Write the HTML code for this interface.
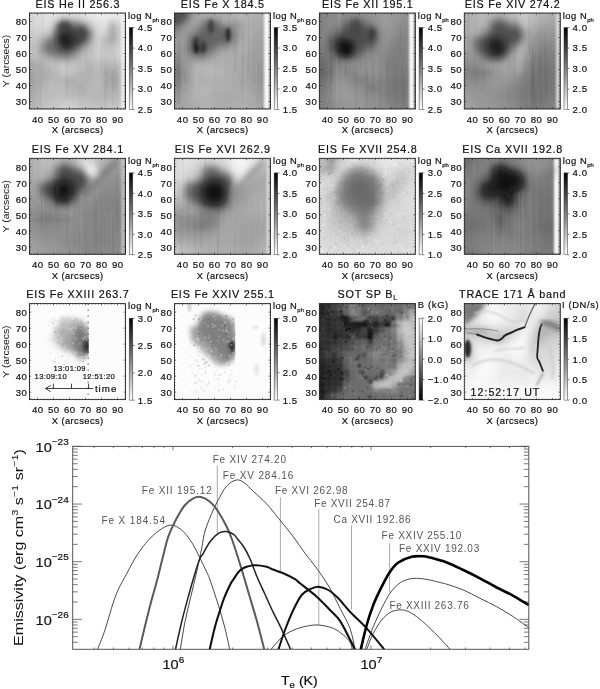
<!DOCTYPE html><html><head><meta charset="utf-8"><style>html,body{margin:0;padding:0;background:#fff;}svg{display:block;will-change:transform}text{font-family:'Liberation Sans', sans-serif;}</style></head><body>
<svg width="600" height="689" viewBox="0 0 600 689">
<rect width="600" height="689" fill="#fff"/>
<defs><filter id="bl0p6" x="-50%" y="-50%" width="200%" height="200%"><feGaussianBlur stdDeviation="0.6"/></filter><filter id="bl1" x="-50%" y="-50%" width="200%" height="200%"><feGaussianBlur stdDeviation="1"/></filter><filter id="bl1p5" x="-50%" y="-50%" width="200%" height="200%"><feGaussianBlur stdDeviation="1.5"/></filter><filter id="bl2" x="-50%" y="-50%" width="200%" height="200%"><feGaussianBlur stdDeviation="2"/></filter><filter id="bl2p5" x="-50%" y="-50%" width="200%" height="200%"><feGaussianBlur stdDeviation="2.5"/></filter><filter id="bl3" x="-50%" y="-50%" width="200%" height="200%"><feGaussianBlur stdDeviation="3"/></filter><filter id="bl3p5" x="-50%" y="-50%" width="200%" height="200%"><feGaussianBlur stdDeviation="3.5"/></filter><filter id="bl4" x="-50%" y="-50%" width="200%" height="200%"><feGaussianBlur stdDeviation="4"/></filter><filter id="bl5" x="-50%" y="-50%" width="200%" height="200%"><feGaussianBlur stdDeviation="5"/></filter><filter id="bl6" x="-50%" y="-50%" width="200%" height="200%"><feGaussianBlur stdDeviation="6"/></filter><filter id="bl7" x="-50%" y="-50%" width="200%" height="200%"><feGaussianBlur stdDeviation="7"/></filter></defs>
<clipPath id="cp00"><rect x="29.50" y="13.00" width="96.0" height="96.0"/></clipPath>
<g clip-path="url(#cp00)"><g filter="url(#bl3)">
<rect x="21.3" y="4.8" width="16.4" height="16.4" fill="#d7d7d7"/>
<rect x="37.3" y="4.8" width="8.4" height="16.4" fill="#dcdcdc"/>
<rect x="45.3" y="4.8" width="8.4" height="16.4" fill="#e1e1e1"/>
<rect x="53.3" y="4.8" width="8.4" height="16.4" fill="#e1e1e1"/>
<rect x="61.3" y="4.8" width="8.4" height="16.4" fill="#dcdcdc"/>
<rect x="69.3" y="4.8" width="8.4" height="16.4" fill="#d7d7d7"/>
<rect x="77.3" y="4.8" width="8.4" height="16.4" fill="#dcdcdc"/>
<rect x="85.3" y="4.8" width="8.4" height="16.4" fill="#e6e6e6"/>
<rect x="93.3" y="4.8" width="8.4" height="16.4" fill="#ebebeb"/>
<rect x="101.3" y="4.8" width="8.4" height="16.4" fill="#ebebeb"/>
<rect x="109.3" y="4.8" width="8.4" height="16.4" fill="#e6e6e6"/>
<rect x="117.3" y="4.8" width="16.4" height="16.4" fill="#ebebeb"/>
<rect x="21.3" y="20.8" width="16.4" height="8.4" fill="#d7d7d7"/>
<rect x="37.3" y="20.8" width="8.4" height="8.4" fill="#d7d7d7"/>
<rect x="45.3" y="20.8" width="8.4" height="8.4" fill="#e1e1e1"/>
<rect x="53.3" y="20.8" width="8.4" height="8.4" fill="#c8c8c8"/>
<rect x="61.3" y="20.8" width="8.4" height="8.4" fill="#6e6e6e"/>
<rect x="69.3" y="20.8" width="8.4" height="8.4" fill="#828282"/>
<rect x="77.3" y="20.8" width="8.4" height="8.4" fill="#8c8c8c"/>
<rect x="85.3" y="20.8" width="8.4" height="8.4" fill="#bebebe"/>
<rect x="93.3" y="20.8" width="8.4" height="8.4" fill="#dcdcdc"/>
<rect x="101.3" y="20.8" width="8.4" height="8.4" fill="#e1e1e1"/>
<rect x="109.3" y="20.8" width="8.4" height="8.4" fill="#c8c8c8"/>
<rect x="117.3" y="20.8" width="16.4" height="8.4" fill="#dcdcdc"/>
<rect x="21.3" y="28.8" width="16.4" height="8.4" fill="#cdcdcd"/>
<rect x="37.3" y="28.8" width="8.4" height="8.4" fill="#cdcdcd"/>
<rect x="45.3" y="28.8" width="8.4" height="8.4" fill="#c8c8c8"/>
<rect x="53.3" y="28.8" width="8.4" height="8.4" fill="#969696"/>
<rect x="61.3" y="28.8" width="8.4" height="8.4" fill="#464646"/>
<rect x="69.3" y="28.8" width="8.4" height="8.4" fill="#505050"/>
<rect x="77.3" y="28.8" width="8.4" height="8.4" fill="#464646"/>
<rect x="85.3" y="28.8" width="8.4" height="8.4" fill="#8c8c8c"/>
<rect x="93.3" y="28.8" width="8.4" height="8.4" fill="#d2d2d2"/>
<rect x="101.3" y="28.8" width="8.4" height="8.4" fill="#d7d7d7"/>
<rect x="109.3" y="28.8" width="8.4" height="8.4" fill="#bebebe"/>
<rect x="117.3" y="28.8" width="16.4" height="8.4" fill="#d7d7d7"/>
<rect x="21.3" y="36.8" width="16.4" height="8.4" fill="#c8c8c8"/>
<rect x="37.3" y="36.8" width="8.4" height="8.4" fill="#b9b9b9"/>
<rect x="45.3" y="36.8" width="8.4" height="8.4" fill="#969696"/>
<rect x="53.3" y="36.8" width="8.4" height="8.4" fill="#828282"/>
<rect x="61.3" y="36.8" width="8.4" height="8.4" fill="#3c3c3c"/>
<rect x="69.3" y="36.8" width="8.4" height="8.4" fill="#464646"/>
<rect x="77.3" y="36.8" width="8.4" height="8.4" fill="#505050"/>
<rect x="85.3" y="36.8" width="8.4" height="8.4" fill="#a0a0a0"/>
<rect x="93.3" y="36.8" width="8.4" height="8.4" fill="#cdcdcd"/>
<rect x="101.3" y="36.8" width="8.4" height="8.4" fill="#b4b4b4"/>
<rect x="109.3" y="36.8" width="8.4" height="8.4" fill="#b9b9b9"/>
<rect x="117.3" y="36.8" width="16.4" height="8.4" fill="#d7d7d7"/>
<rect x="21.3" y="44.8" width="16.4" height="8.4" fill="#c3c3c3"/>
<rect x="37.3" y="44.8" width="8.4" height="8.4" fill="#b4b4b4"/>
<rect x="45.3" y="44.8" width="8.4" height="8.4" fill="#969696"/>
<rect x="53.3" y="44.8" width="8.4" height="8.4" fill="#969696"/>
<rect x="61.3" y="44.8" width="8.4" height="8.4" fill="#6e6e6e"/>
<rect x="69.3" y="44.8" width="8.4" height="8.4" fill="#828282"/>
<rect x="77.3" y="44.8" width="8.4" height="8.4" fill="#969696"/>
<rect x="85.3" y="44.8" width="8.4" height="8.4" fill="#b9b9b9"/>
<rect x="93.3" y="44.8" width="8.4" height="8.4" fill="#cdcdcd"/>
<rect x="101.3" y="44.8" width="8.4" height="8.4" fill="#c3c3c3"/>
<rect x="109.3" y="44.8" width="8.4" height="8.4" fill="#c3c3c3"/>
<rect x="117.3" y="44.8" width="16.4" height="8.4" fill="#d7d7d7"/>
<rect x="21.3" y="52.8" width="16.4" height="8.4" fill="#bebebe"/>
<rect x="37.3" y="52.8" width="8.4" height="8.4" fill="#b9b9b9"/>
<rect x="45.3" y="52.8" width="8.4" height="8.4" fill="#afafaf"/>
<rect x="53.3" y="52.8" width="8.4" height="8.4" fill="#aaaaaa"/>
<rect x="61.3" y="52.8" width="8.4" height="8.4" fill="#a0a0a0"/>
<rect x="69.3" y="52.8" width="8.4" height="8.4" fill="#a0a0a0"/>
<rect x="77.3" y="52.8" width="8.4" height="8.4" fill="#b9b9b9"/>
<rect x="85.3" y="52.8" width="8.4" height="8.4" fill="#bebebe"/>
<rect x="93.3" y="52.8" width="8.4" height="8.4" fill="#c8c8c8"/>
<rect x="101.3" y="52.8" width="8.4" height="8.4" fill="#c8c8c8"/>
<rect x="109.3" y="52.8" width="8.4" height="8.4" fill="#c3c3c3"/>
<rect x="117.3" y="52.8" width="16.4" height="8.4" fill="#d7d7d7"/>
<rect x="21.3" y="60.8" width="16.4" height="8.4" fill="#a5a5a5"/>
<rect x="37.3" y="60.8" width="8.4" height="8.4" fill="#afafaf"/>
<rect x="45.3" y="60.8" width="8.4" height="8.4" fill="#b9b9b9"/>
<rect x="53.3" y="60.8" width="8.4" height="8.4" fill="#c3c3c3"/>
<rect x="61.3" y="60.8" width="8.4" height="8.4" fill="#c8c8c8"/>
<rect x="69.3" y="60.8" width="8.4" height="8.4" fill="#c3c3c3"/>
<rect x="77.3" y="60.8" width="8.4" height="8.4" fill="#b9b9b9"/>
<rect x="85.3" y="60.8" width="8.4" height="8.4" fill="#b4b4b4"/>
<rect x="93.3" y="60.8" width="8.4" height="8.4" fill="#b9b9b9"/>
<rect x="101.3" y="60.8" width="8.4" height="8.4" fill="#b4b4b4"/>
<rect x="109.3" y="60.8" width="8.4" height="8.4" fill="#b9b9b9"/>
<rect x="117.3" y="60.8" width="16.4" height="8.4" fill="#b9b9b9"/>
<rect x="21.3" y="68.8" width="16.4" height="8.4" fill="#a5a5a5"/>
<rect x="37.3" y="68.8" width="8.4" height="8.4" fill="#afafaf"/>
<rect x="45.3" y="68.8" width="8.4" height="8.4" fill="#aaaaaa"/>
<rect x="53.3" y="68.8" width="8.4" height="8.4" fill="#b9b9b9"/>
<rect x="61.3" y="68.8" width="8.4" height="8.4" fill="#c8c8c8"/>
<rect x="69.3" y="68.8" width="8.4" height="8.4" fill="#bebebe"/>
<rect x="77.3" y="68.8" width="8.4" height="8.4" fill="#b4b4b4"/>
<rect x="85.3" y="68.8" width="8.4" height="8.4" fill="#afafaf"/>
<rect x="93.3" y="68.8" width="8.4" height="8.4" fill="#b9b9b9"/>
<rect x="101.3" y="68.8" width="8.4" height="8.4" fill="#aaaaaa"/>
<rect x="109.3" y="68.8" width="8.4" height="8.4" fill="#a5a5a5"/>
<rect x="117.3" y="68.8" width="16.4" height="8.4" fill="#b4b4b4"/>
<rect x="21.3" y="76.8" width="16.4" height="8.4" fill="#a0a0a0"/>
<rect x="37.3" y="76.8" width="8.4" height="8.4" fill="#afafaf"/>
<rect x="45.3" y="76.8" width="8.4" height="8.4" fill="#b4b4b4"/>
<rect x="53.3" y="76.8" width="8.4" height="8.4" fill="#b9b9b9"/>
<rect x="61.3" y="76.8" width="8.4" height="8.4" fill="#afafaf"/>
<rect x="69.3" y="76.8" width="8.4" height="8.4" fill="#aaaaaa"/>
<rect x="77.3" y="76.8" width="8.4" height="8.4" fill="#afafaf"/>
<rect x="85.3" y="76.8" width="8.4" height="8.4" fill="#b4b4b4"/>
<rect x="93.3" y="76.8" width="8.4" height="8.4" fill="#b9b9b9"/>
<rect x="101.3" y="76.8" width="8.4" height="8.4" fill="#aaaaaa"/>
<rect x="109.3" y="76.8" width="8.4" height="8.4" fill="#a0a0a0"/>
<rect x="117.3" y="76.8" width="16.4" height="8.4" fill="#afafaf"/>
<rect x="21.3" y="84.8" width="16.4" height="8.4" fill="#a5a5a5"/>
<rect x="37.3" y="84.8" width="8.4" height="8.4" fill="#b4b4b4"/>
<rect x="45.3" y="84.8" width="8.4" height="8.4" fill="#b9b9b9"/>
<rect x="53.3" y="84.8" width="8.4" height="8.4" fill="#b9b9b9"/>
<rect x="61.3" y="84.8" width="8.4" height="8.4" fill="#b9b9b9"/>
<rect x="69.3" y="84.8" width="8.4" height="8.4" fill="#b4b4b4"/>
<rect x="77.3" y="84.8" width="8.4" height="8.4" fill="#aaaaaa"/>
<rect x="85.3" y="84.8" width="8.4" height="8.4" fill="#b4b4b4"/>
<rect x="93.3" y="84.8" width="8.4" height="8.4" fill="#b9b9b9"/>
<rect x="101.3" y="84.8" width="8.4" height="8.4" fill="#afafaf"/>
<rect x="109.3" y="84.8" width="8.4" height="8.4" fill="#aaaaaa"/>
<rect x="117.3" y="84.8" width="16.4" height="8.4" fill="#afafaf"/>
<rect x="21.3" y="92.8" width="16.4" height="8.4" fill="#aaaaaa"/>
<rect x="37.3" y="92.8" width="8.4" height="8.4" fill="#b9b9b9"/>
<rect x="45.3" y="92.8" width="8.4" height="8.4" fill="#b9b9b9"/>
<rect x="53.3" y="92.8" width="8.4" height="8.4" fill="#bebebe"/>
<rect x="61.3" y="92.8" width="8.4" height="8.4" fill="#bebebe"/>
<rect x="69.3" y="92.8" width="8.4" height="8.4" fill="#b9b9b9"/>
<rect x="77.3" y="92.8" width="8.4" height="8.4" fill="#b4b4b4"/>
<rect x="85.3" y="92.8" width="8.4" height="8.4" fill="#b9b9b9"/>
<rect x="93.3" y="92.8" width="8.4" height="8.4" fill="#b4b4b4"/>
<rect x="101.3" y="92.8" width="8.4" height="8.4" fill="#b4b4b4"/>
<rect x="109.3" y="92.8" width="8.4" height="8.4" fill="#b4b4b4"/>
<rect x="117.3" y="92.8" width="16.4" height="8.4" fill="#b9b9b9"/>
<rect x="21.3" y="100.8" width="16.4" height="16.4" fill="#b4b4b4"/>
<rect x="37.3" y="100.8" width="8.4" height="16.4" fill="#bebebe"/>
<rect x="45.3" y="100.8" width="8.4" height="16.4" fill="#c3c3c3"/>
<rect x="53.3" y="100.8" width="8.4" height="16.4" fill="#c8c8c8"/>
<rect x="61.3" y="100.8" width="8.4" height="16.4" fill="#cdcdcd"/>
<rect x="69.3" y="100.8" width="8.4" height="16.4" fill="#cdcdcd"/>
<rect x="77.3" y="100.8" width="8.4" height="16.4" fill="#c3c3c3"/>
<rect x="85.3" y="100.8" width="8.4" height="16.4" fill="#c3c3c3"/>
<rect x="93.3" y="100.8" width="8.4" height="16.4" fill="#bebebe"/>
<rect x="101.3" y="100.8" width="8.4" height="16.4" fill="#c3c3c3"/>
<rect x="109.3" y="100.8" width="8.4" height="16.4" fill="#c3c3c3"/>
<rect x="117.3" y="100.8" width="16.4" height="16.4" fill="#c3c3c3"/>
</g>
<g filter="url(#bl0p6)"><rect x="104.8" y="69.5" width="1.7" height="54.7" fill="#000" fill-opacity="0.04"/><rect x="105.2" y="26.8" width="0.8" height="54.3" fill="#fff" fill-opacity="0.03"/><rect x="67.1" y="23.6" width="1.3" height="75.1" fill="#000" fill-opacity="0.03"/><rect x="42.1" y="11.2" width="1.9" height="73.4" fill="#000" fill-opacity="0.03"/><rect x="61.2" y="15.8" width="1.7" height="24.8" fill="#000" fill-opacity="0.06"/><rect x="118.5" y="53.5" width="1.4" height="73.0" fill="#fff" fill-opacity="0.06"/><rect x="81.7" y="15.3" width="1.7" height="54.4" fill="#fff" fill-opacity="0.04"/><rect x="99.1" y="22.4" width="0.9" height="60.6" fill="#fff" fill-opacity="0.06"/><rect x="109.2" y="57.9" width="1.2" height="36.0" fill="#fff" fill-opacity="0.02"/><rect x="114.7" y="52.6" width="1.0" height="35.5" fill="#000" fill-opacity="0.06"/><rect x="60.6" y="62.1" width="1.1" height="45.2" fill="#fff" fill-opacity="0.02"/><rect x="32.3" y="15.2" width="1.4" height="43.6" fill="#000" fill-opacity="0.03"/><rect x="55.0" y="30.1" width="1.5" height="37.1" fill="#000" fill-opacity="0.04"/><rect x="29.9" y="13.2" width="1.4" height="24.8" fill="#fff" fill-opacity="0.03"/><rect x="68.7" y="13.3" width="1.8" height="42.2" fill="#fff" fill-opacity="0.04"/><rect x="95.2" y="6.6" width="1.5" height="64.5" fill="#fff" fill-opacity="0.05"/><rect x="98.1" y="27.7" width="1.7" height="43.2" fill="#fff" fill-opacity="0.06"/><rect x="75.8" y="56.1" width="1.5" height="57.4" fill="#fff" fill-opacity="0.05"/><rect x="62.4" y="22.1" width="1.2" height="69.9" fill="#fff" fill-opacity="0.04"/><rect x="119.6" y="56.6" width="1.1" height="77.6" fill="#fff" fill-opacity="0.04"/><rect x="111.9" y="68.5" width="1.2" height="79.1" fill="#000" fill-opacity="0.05"/><rect x="54.6" y="10.3" width="1.4" height="50.5" fill="#fff" fill-opacity="0.04"/><rect x="71.4" y="6.5" width="1.9" height="61.1" fill="#fff" fill-opacity="0.04"/><rect x="65.1" y="63.5" width="1.9" height="32.2" fill="#000" fill-opacity="0.03"/><rect x="61.2" y="28.4" width="1.5" height="30.2" fill="#fff" fill-opacity="0.06"/><rect x="66.8" y="44.5" width="1.6" height="55.4" fill="#000" fill-opacity="0.02"/><rect x="112.9" y="44.0" width="1.0" height="65.6" fill="#fff" fill-opacity="0.02"/><rect x="82.5" y="59.2" width="1.1" height="22.0" fill="#fff" fill-opacity="0.04"/><rect x="68.7" y="19.7" width="1.1" height="75.0" fill="#fff" fill-opacity="0.02"/><rect x="106.7" y="63.8" width="1.6" height="25.5" fill="#000" fill-opacity="0.03"/><rect x="104.5" y="55.7" width="1.7" height="56.2" fill="#000" fill-opacity="0.03"/><rect x="77.5" y="20.6" width="1.4" height="39.6" fill="#000" fill-opacity="0.03"/><rect x="122.2" y="38.8" width="1.2" height="65.9" fill="#fff" fill-opacity="0.02"/><rect x="62.0" y="47.5" width="0.8" height="48.6" fill="#fff" fill-opacity="0.04"/><rect x="50.4" y="34.2" width="1.5" height="74.4" fill="#fff" fill-opacity="0.06"/><rect x="43.5" y="21.7" width="1.7" height="27.0" fill="#fff" fill-opacity="0.05"/><rect x="39.3" y="49.7" width="2.0" height="68.3" fill="#000" fill-opacity="0.05"/><rect x="119.1" y="17.4" width="1.3" height="51.5" fill="#000" fill-opacity="0.05"/><rect x="77.3" y="36.8" width="1.2" height="66.8" fill="#fff" fill-opacity="0.02"/><rect x="65.4" y="3.9" width="1.2" height="38.5" fill="#fff" fill-opacity="0.03"/><rect x="117.8" y="47.8" width="1.9" height="44.7" fill="#fff" fill-opacity="0.05"/><rect x="100.3" y="44.1" width="1.3" height="28.8" fill="#000" fill-opacity="0.04"/><rect x="100.7" y="14.6" width="1.2" height="80.0" fill="#fff" fill-opacity="0.05"/><rect x="94.5" y="15.7" width="1.6" height="67.1" fill="#fff" fill-opacity="0.02"/><rect x="97.3" y="45.1" width="1.6" height="24.4" fill="#fff" fill-opacity="0.05"/></g>
<rect x="121.18" y="13.00" width="3.36" height="96.0" fill="#eeeeee" filter="url(#bl1)"/>
<g transform="translate(29.50,13.00)"><path d="M14.0 30.0C15.2 28.5 18.0 28.0 20.0 27.0C22.0 26.0 25.0 26.3 26.0 24.0C27.0 21.7 25.2 15.5 26.0 13.0C26.8 10.5 29.0 9.8 31.0 9.0C33.0 8.2 36.0 8.0 38.0 8.5C40.0 9.0 41.3 11.1 43.0 12.0C44.7 12.9 46.0 13.5 48.0 14.0C50.0 14.5 53.2 14.2 55.0 15.0C56.8 15.8 58.3 17.0 59.0 19.0C59.7 21.0 59.8 25.2 59.0 27.0C58.2 28.8 56.2 28.8 54.0 30.0C51.8 31.2 47.7 32.2 46.0 34.0C44.3 35.8 45.7 39.3 44.0 41.0C42.3 42.7 39.0 43.7 36.0 44.0C33.0 44.3 29.0 43.5 26.0 43.0C23.0 42.5 20.2 42.2 18.0 41.0C15.8 39.8 13.7 37.8 13.0 36.0C12.3 34.2 12.8 31.5 14.0 30.0Z" fill="#5f5f5f" fill-opacity="0.8" filter="url(#bl4)"/><path d="M29.0 20.0C30.0 17.7 32.8 17.2 35.0 17.0C37.2 16.8 40.2 17.8 42.0 19.0C43.8 20.2 45.5 21.8 46.0 24.0C46.5 26.2 46.0 30.0 45.0 32.0C44.0 34.0 42.0 35.3 40.0 36.0C38.0 36.7 34.8 36.8 33.0 36.0C31.2 35.2 29.7 33.7 29.0 31.0C28.3 28.3 28.0 22.3 29.0 20.0Z" fill="#191919" fill-opacity="0.9" filter="url(#bl3p5)"/><ellipse cx="35" cy="14" rx="6.5" ry="5.5" fill="#3c3c3c" fill-opacity="0.8" filter="url(#bl2p5)"/><ellipse cx="52" cy="21" rx="5.5" ry="7.5" fill="#414141" fill-opacity="0.8" filter="url(#bl2p5)"/><ellipse cx="44" cy="26" rx="6" ry="6" fill="#323232" fill-opacity="0.7" filter="url(#bl3)"/><ellipse cx="83" cy="20" rx="4" ry="11" fill="#8c8c8c" fill-opacity="0.5" filter="url(#bl3)"/></g>
</g>
<rect x="29.50" y="13.00" width="96.0" height="96.0" fill="none" stroke="#222" stroke-width="0.9"/>
<path d="M37.50 109.00v-1.8M37.50 13.00v1.8" stroke="#222" stroke-width="0.7"/>
<path d="M53.50 109.00v-1.8M53.50 13.00v1.8" stroke="#222" stroke-width="0.7"/>
<path d="M69.50 109.00v-1.8M69.50 13.00v1.8" stroke="#222" stroke-width="0.7"/>
<path d="M85.50 109.00v-1.8M85.50 13.00v1.8" stroke="#222" stroke-width="0.7"/>
<path d="M101.50 109.00v-1.8M101.50 13.00v1.8" stroke="#222" stroke-width="0.7"/>
<path d="M117.50 109.00v-1.8M117.50 13.00v1.8" stroke="#222" stroke-width="0.7"/>
<path d="M29.50 101.50h1.8M125.50 101.50h-1.8" stroke="#222" stroke-width="0.7"/>
<path d="M29.50 85.50h1.8M125.50 85.50h-1.8" stroke="#222" stroke-width="0.7"/>
<path d="M29.50 69.50h1.8M125.50 69.50h-1.8" stroke="#222" stroke-width="0.7"/>
<path d="M29.50 53.50h1.8M125.50 53.50h-1.8" stroke="#222" stroke-width="0.7"/>
<path d="M29.50 37.50h1.8M125.50 37.50h-1.8" stroke="#222" stroke-width="0.7"/>
<path d="M29.50 21.50h1.8M125.50 21.50h-1.8" stroke="#222" stroke-width="0.7"/>
<path d="M31.10 109.00v-1M31.10 13.00v1M34.30 109.00v-1M34.30 13.00v1M40.70 109.00v-1M40.70 13.00v1M43.90 109.00v-1M43.90 13.00v1M47.10 109.00v-1M47.10 13.00v1M50.30 109.00v-1M50.30 13.00v1M56.70 109.00v-1M56.70 13.00v1M59.90 109.00v-1M59.90 13.00v1M63.10 109.00v-1M63.10 13.00v1M66.30 109.00v-1M66.30 13.00v1M72.70 109.00v-1M72.70 13.00v1M75.90 109.00v-1M75.90 13.00v1M79.10 109.00v-1M79.10 13.00v1M82.30 109.00v-1M82.30 13.00v1M88.70 109.00v-1M88.70 13.00v1M91.90 109.00v-1M91.90 13.00v1M95.10 109.00v-1M95.10 13.00v1M98.30 109.00v-1M98.30 13.00v1M104.70 109.00v-1M104.70 13.00v1M107.90 109.00v-1M107.90 13.00v1M111.10 109.00v-1M111.10 13.00v1M114.30 109.00v-1M114.30 13.00v1M120.70 109.00v-1M120.70 13.00v1M123.90 109.00v-1M123.90 13.00v1M29.50 107.90h1M125.50 107.90h-1M29.50 104.70h1M125.50 104.70h-1M29.50 98.30h1M125.50 98.30h-1M29.50 95.10h1M125.50 95.10h-1M29.50 91.90h1M125.50 91.90h-1M29.50 88.70h1M125.50 88.70h-1M29.50 82.30h1M125.50 82.30h-1M29.50 79.10h1M125.50 79.10h-1M29.50 75.90h1M125.50 75.90h-1M29.50 72.70h1M125.50 72.70h-1M29.50 66.30h1M125.50 66.30h-1M29.50 63.10h1M125.50 63.10h-1M29.50 59.90h1M125.50 59.90h-1M29.50 56.70h1M125.50 56.70h-1M29.50 50.30h1M125.50 50.30h-1M29.50 47.10h1M125.50 47.10h-1M29.50 43.90h1M125.50 43.90h-1M29.50 40.70h1M125.50 40.70h-1M29.50 34.30h1M125.50 34.30h-1M29.50 31.10h1M125.50 31.10h-1M29.50 27.90h1M125.50 27.90h-1M29.50 24.70h1M125.50 24.70h-1M29.50 18.30h1M125.50 18.30h-1M29.50 15.10h1M125.50 15.10h-1" stroke="#333" stroke-width="0.6"/>
<text transform="translate(77.89,7.70)" text-anchor="middle" font-size="10.8" fill="#111" stroke="#111" stroke-width="0.2" letter-spacing="0.78">EIS He II 256.3</text>
<text transform="translate(27.45,105.30)" text-anchor="end" font-size="9.6" fill="#111" stroke="#111" stroke-width="0.2" letter-spacing="0.55">30</text>
<text transform="translate(27.45,89.30)" text-anchor="end" font-size="9.6" fill="#111" stroke="#111" stroke-width="0.2" letter-spacing="0.55">40</text>
<text transform="translate(27.45,73.30)" text-anchor="end" font-size="9.6" fill="#111" stroke="#111" stroke-width="0.2" letter-spacing="0.55">50</text>
<text transform="translate(27.45,57.30)" text-anchor="end" font-size="9.6" fill="#111" stroke="#111" stroke-width="0.2" letter-spacing="0.55">60</text>
<text transform="translate(27.45,41.30)" text-anchor="end" font-size="9.6" fill="#111" stroke="#111" stroke-width="0.2" letter-spacing="0.55">70</text>
<text transform="translate(27.45,25.30)" text-anchor="end" font-size="9.6" fill="#111" stroke="#111" stroke-width="0.2" letter-spacing="0.55">80</text>
<text transform="translate(37.77,122.50)" text-anchor="middle" font-size="9.6" fill="#111" stroke="#111" stroke-width="0.2" letter-spacing="0.55">40</text>
<text transform="translate(53.77,122.50)" text-anchor="middle" font-size="9.6" fill="#111" stroke="#111" stroke-width="0.2" letter-spacing="0.55">50</text>
<text transform="translate(69.78,122.50)" text-anchor="middle" font-size="9.6" fill="#111" stroke="#111" stroke-width="0.2" letter-spacing="0.55">60</text>
<text transform="translate(85.78,122.50)" text-anchor="middle" font-size="9.6" fill="#111" stroke="#111" stroke-width="0.2" letter-spacing="0.55">70</text>
<text transform="translate(101.78,122.50)" text-anchor="middle" font-size="9.6" fill="#111" stroke="#111" stroke-width="0.2" letter-spacing="0.55">80</text>
<text transform="translate(117.78,122.50)" text-anchor="middle" font-size="9.6" fill="#111" stroke="#111" stroke-width="0.2" letter-spacing="0.55">90</text>
<text transform="translate(77.70,133.20)" text-anchor="middle" font-size="9.4" fill="#111" stroke="#111" stroke-width="0.2" letter-spacing="0.4">X (arcsecs)</text>
<text transform="translate(8.70,61.00) rotate(-90) scale(1.13,1)" text-anchor="middle" font-size="9.2" fill="#111">Y (arcsecs)</text>
<defs><linearGradient id="cb00" x1="0" y1="0" x2="0" y2="1"><stop offset="0" stop-color="#000"/><stop offset="1" stop-color="#fff"/></linearGradient></defs>
<rect x="129.20" y="27.60" width="3.6" height="81.90" fill="url(#cb00)" stroke="#333" stroke-width="0.5"/>
<path d="M132.80 27.60h1.8" stroke="#222" stroke-width="0.6"/>
<text transform="translate(137.80,31.00)" font-size="9.6" fill="#111" stroke="#111" stroke-width="0.2" letter-spacing="0.55">4.5</text>
<path d="M132.80 48.08h1.8" stroke="#222" stroke-width="0.6"/>
<text transform="translate(137.80,51.48)" font-size="9.6" fill="#111" stroke="#111" stroke-width="0.2" letter-spacing="0.55">4.0</text>
<path d="M132.80 68.55h1.8" stroke="#222" stroke-width="0.6"/>
<text transform="translate(137.80,71.95)" font-size="9.6" fill="#111" stroke="#111" stroke-width="0.2" letter-spacing="0.55">3.5</text>
<path d="M132.80 89.03h1.8" stroke="#222" stroke-width="0.6"/>
<text transform="translate(137.80,92.43)" font-size="9.6" fill="#111" stroke="#111" stroke-width="0.2" letter-spacing="0.55">3.0</text>
<path d="M132.80 109.50h1.8" stroke="#222" stroke-width="0.6"/>
<text transform="translate(137.80,112.90)" font-size="9.6" fill="#111" stroke="#111" stroke-width="0.2" letter-spacing="0.55">2.5</text>
<text transform="translate(128.00,18.60)" font-size="9.4" fill="#111" stroke="#111" stroke-width="0.2" letter-spacing="0.5">log N<tspan font-size="5.8" dy="3" letter-spacing="0.1">ph</tspan></text>
<clipPath id="cp01"><rect x="174.43" y="13.00" width="96.0" height="96.0"/></clipPath>
<g clip-path="url(#cp01)"><g filter="url(#bl3)">
<rect x="166.2" y="4.8" width="16.4" height="16.4" fill="#505050"/>
<rect x="182.2" y="4.8" width="8.4" height="16.4" fill="#6e6e6e"/>
<rect x="190.2" y="4.8" width="8.4" height="16.4" fill="#a0a0a0"/>
<rect x="198.2" y="4.8" width="8.4" height="16.4" fill="#aaaaaa"/>
<rect x="206.2" y="4.8" width="8.4" height="16.4" fill="#afafaf"/>
<rect x="214.2" y="4.8" width="8.4" height="16.4" fill="#aaaaaa"/>
<rect x="222.2" y="4.8" width="8.4" height="16.4" fill="#afafaf"/>
<rect x="230.2" y="4.8" width="8.4" height="16.4" fill="#b4b4b4"/>
<rect x="238.2" y="4.8" width="8.4" height="16.4" fill="#b4b4b4"/>
<rect x="246.2" y="4.8" width="8.4" height="16.4" fill="#afafaf"/>
<rect x="254.2" y="4.8" width="8.4" height="16.4" fill="#afafaf"/>
<rect x="262.2" y="4.8" width="16.4" height="16.4" fill="#afafaf"/>
<rect x="166.2" y="20.8" width="16.4" height="8.4" fill="#6e6e6e"/>
<rect x="182.2" y="20.8" width="8.4" height="8.4" fill="#969696"/>
<rect x="190.2" y="20.8" width="8.4" height="8.4" fill="#a5a5a5"/>
<rect x="198.2" y="20.8" width="8.4" height="8.4" fill="#969696"/>
<rect x="206.2" y="20.8" width="8.4" height="8.4" fill="#787878"/>
<rect x="214.2" y="20.8" width="8.4" height="8.4" fill="#828282"/>
<rect x="222.2" y="20.8" width="8.4" height="8.4" fill="#a5a5a5"/>
<rect x="230.2" y="20.8" width="8.4" height="8.4" fill="#8c8c8c"/>
<rect x="238.2" y="20.8" width="8.4" height="8.4" fill="#a5a5a5"/>
<rect x="246.2" y="20.8" width="8.4" height="8.4" fill="#aaaaaa"/>
<rect x="254.2" y="20.8" width="8.4" height="8.4" fill="#aaaaaa"/>
<rect x="262.2" y="20.8" width="16.4" height="8.4" fill="#a5a5a5"/>
<rect x="166.2" y="28.8" width="16.4" height="8.4" fill="#8c8c8c"/>
<rect x="182.2" y="28.8" width="8.4" height="8.4" fill="#9b9b9b"/>
<rect x="190.2" y="28.8" width="8.4" height="8.4" fill="#969696"/>
<rect x="198.2" y="28.8" width="8.4" height="8.4" fill="#8c8c8c"/>
<rect x="206.2" y="28.8" width="8.4" height="8.4" fill="#6e6e6e"/>
<rect x="214.2" y="28.8" width="8.4" height="8.4" fill="#8c8c8c"/>
<rect x="222.2" y="28.8" width="8.4" height="8.4" fill="#6e6e6e"/>
<rect x="230.2" y="28.8" width="8.4" height="8.4" fill="#8c8c8c"/>
<rect x="238.2" y="28.8" width="8.4" height="8.4" fill="#a5a5a5"/>
<rect x="246.2" y="28.8" width="8.4" height="8.4" fill="#aaaaaa"/>
<rect x="254.2" y="28.8" width="8.4" height="8.4" fill="#a5a5a5"/>
<rect x="262.2" y="28.8" width="16.4" height="8.4" fill="#a0a0a0"/>
<rect x="166.2" y="36.8" width="16.4" height="8.4" fill="#9b9b9b"/>
<rect x="182.2" y="36.8" width="8.4" height="8.4" fill="#969696"/>
<rect x="190.2" y="36.8" width="8.4" height="8.4" fill="#646464"/>
<rect x="198.2" y="36.8" width="8.4" height="8.4" fill="#6e6e6e"/>
<rect x="206.2" y="36.8" width="8.4" height="8.4" fill="#828282"/>
<rect x="214.2" y="36.8" width="8.4" height="8.4" fill="#969696"/>
<rect x="222.2" y="36.8" width="8.4" height="8.4" fill="#6e6e6e"/>
<rect x="230.2" y="36.8" width="8.4" height="8.4" fill="#969696"/>
<rect x="238.2" y="36.8" width="8.4" height="8.4" fill="#a5a5a5"/>
<rect x="246.2" y="36.8" width="8.4" height="8.4" fill="#aaaaaa"/>
<rect x="254.2" y="36.8" width="8.4" height="8.4" fill="#a0a0a0"/>
<rect x="262.2" y="36.8" width="16.4" height="8.4" fill="#a0a0a0"/>
<rect x="166.2" y="44.8" width="16.4" height="8.4" fill="#969696"/>
<rect x="182.2" y="44.8" width="8.4" height="8.4" fill="#8c8c8c"/>
<rect x="190.2" y="44.8" width="8.4" height="8.4" fill="#505050"/>
<rect x="198.2" y="44.8" width="8.4" height="8.4" fill="#5a5a5a"/>
<rect x="206.2" y="44.8" width="8.4" height="8.4" fill="#969696"/>
<rect x="214.2" y="44.8" width="8.4" height="8.4" fill="#a0a0a0"/>
<rect x="222.2" y="44.8" width="8.4" height="8.4" fill="#a0a0a0"/>
<rect x="230.2" y="44.8" width="8.4" height="8.4" fill="#a5a5a5"/>
<rect x="238.2" y="44.8" width="8.4" height="8.4" fill="#aaaaaa"/>
<rect x="246.2" y="44.8" width="8.4" height="8.4" fill="#a5a5a5"/>
<rect x="254.2" y="44.8" width="8.4" height="8.4" fill="#a0a0a0"/>
<rect x="262.2" y="44.8" width="16.4" height="8.4" fill="#9b9b9b"/>
<rect x="166.2" y="52.8" width="16.4" height="8.4" fill="#8c8c8c"/>
<rect x="182.2" y="52.8" width="8.4" height="8.4" fill="#969696"/>
<rect x="190.2" y="52.8" width="8.4" height="8.4" fill="#8c8c8c"/>
<rect x="198.2" y="52.8" width="8.4" height="8.4" fill="#8c8c8c"/>
<rect x="206.2" y="52.8" width="8.4" height="8.4" fill="#a0a0a0"/>
<rect x="214.2" y="52.8" width="8.4" height="8.4" fill="#aaaaaa"/>
<rect x="222.2" y="52.8" width="8.4" height="8.4" fill="#aaaaaa"/>
<rect x="230.2" y="52.8" width="8.4" height="8.4" fill="#aaaaaa"/>
<rect x="238.2" y="52.8" width="8.4" height="8.4" fill="#a5a5a5"/>
<rect x="246.2" y="52.8" width="8.4" height="8.4" fill="#a0a0a0"/>
<rect x="254.2" y="52.8" width="8.4" height="8.4" fill="#9b9b9b"/>
<rect x="262.2" y="52.8" width="16.4" height="8.4" fill="#9b9b9b"/>
<rect x="166.2" y="60.8" width="16.4" height="8.4" fill="#828282"/>
<rect x="182.2" y="60.8" width="8.4" height="8.4" fill="#969696"/>
<rect x="190.2" y="60.8" width="8.4" height="8.4" fill="#aaaaaa"/>
<rect x="198.2" y="60.8" width="8.4" height="8.4" fill="#b4b4b4"/>
<rect x="206.2" y="60.8" width="8.4" height="8.4" fill="#b4b4b4"/>
<rect x="214.2" y="60.8" width="8.4" height="8.4" fill="#afafaf"/>
<rect x="222.2" y="60.8" width="8.4" height="8.4" fill="#aaaaaa"/>
<rect x="230.2" y="60.8" width="8.4" height="8.4" fill="#aaaaaa"/>
<rect x="238.2" y="60.8" width="8.4" height="8.4" fill="#a5a5a5"/>
<rect x="246.2" y="60.8" width="8.4" height="8.4" fill="#a0a0a0"/>
<rect x="254.2" y="60.8" width="8.4" height="8.4" fill="#9b9b9b"/>
<rect x="262.2" y="60.8" width="16.4" height="8.4" fill="#969696"/>
<rect x="166.2" y="68.8" width="16.4" height="8.4" fill="#787878"/>
<rect x="182.2" y="68.8" width="8.4" height="8.4" fill="#919191"/>
<rect x="190.2" y="68.8" width="8.4" height="8.4" fill="#afafaf"/>
<rect x="198.2" y="68.8" width="8.4" height="8.4" fill="#b4b4b4"/>
<rect x="206.2" y="68.8" width="8.4" height="8.4" fill="#b9b9b9"/>
<rect x="214.2" y="68.8" width="8.4" height="8.4" fill="#b4b4b4"/>
<rect x="222.2" y="68.8" width="8.4" height="8.4" fill="#afafaf"/>
<rect x="230.2" y="68.8" width="8.4" height="8.4" fill="#aaaaaa"/>
<rect x="238.2" y="68.8" width="8.4" height="8.4" fill="#a5a5a5"/>
<rect x="246.2" y="68.8" width="8.4" height="8.4" fill="#a0a0a0"/>
<rect x="254.2" y="68.8" width="8.4" height="8.4" fill="#969696"/>
<rect x="262.2" y="68.8" width="16.4" height="8.4" fill="#969696"/>
<rect x="166.2" y="76.8" width="16.4" height="8.4" fill="#7d7d7d"/>
<rect x="182.2" y="76.8" width="8.4" height="8.4" fill="#969696"/>
<rect x="190.2" y="76.8" width="8.4" height="8.4" fill="#aaaaaa"/>
<rect x="198.2" y="76.8" width="8.4" height="8.4" fill="#afafaf"/>
<rect x="206.2" y="76.8" width="8.4" height="8.4" fill="#afafaf"/>
<rect x="214.2" y="76.8" width="8.4" height="8.4" fill="#afafaf"/>
<rect x="222.2" y="76.8" width="8.4" height="8.4" fill="#aaaaaa"/>
<rect x="230.2" y="76.8" width="8.4" height="8.4" fill="#aaaaaa"/>
<rect x="238.2" y="76.8" width="8.4" height="8.4" fill="#a5a5a5"/>
<rect x="246.2" y="76.8" width="8.4" height="8.4" fill="#a0a0a0"/>
<rect x="254.2" y="76.8" width="8.4" height="8.4" fill="#969696"/>
<rect x="262.2" y="76.8" width="16.4" height="8.4" fill="#919191"/>
<rect x="166.2" y="84.8" width="16.4" height="8.4" fill="#8c8c8c"/>
<rect x="182.2" y="84.8" width="8.4" height="8.4" fill="#a0a0a0"/>
<rect x="190.2" y="84.8" width="8.4" height="8.4" fill="#afafaf"/>
<rect x="198.2" y="84.8" width="8.4" height="8.4" fill="#b4b4b4"/>
<rect x="206.2" y="84.8" width="8.4" height="8.4" fill="#b4b4b4"/>
<rect x="214.2" y="84.8" width="8.4" height="8.4" fill="#afafaf"/>
<rect x="222.2" y="84.8" width="8.4" height="8.4" fill="#afafaf"/>
<rect x="230.2" y="84.8" width="8.4" height="8.4" fill="#aaaaaa"/>
<rect x="238.2" y="84.8" width="8.4" height="8.4" fill="#aaaaaa"/>
<rect x="246.2" y="84.8" width="8.4" height="8.4" fill="#a5a5a5"/>
<rect x="254.2" y="84.8" width="8.4" height="8.4" fill="#9b9b9b"/>
<rect x="262.2" y="84.8" width="16.4" height="8.4" fill="#969696"/>
<rect x="166.2" y="92.8" width="16.4" height="8.4" fill="#969696"/>
<rect x="182.2" y="92.8" width="8.4" height="8.4" fill="#a5a5a5"/>
<rect x="190.2" y="92.8" width="8.4" height="8.4" fill="#afafaf"/>
<rect x="198.2" y="92.8" width="8.4" height="8.4" fill="#b4b4b4"/>
<rect x="206.2" y="92.8" width="8.4" height="8.4" fill="#afafaf"/>
<rect x="214.2" y="92.8" width="8.4" height="8.4" fill="#aaaaaa"/>
<rect x="222.2" y="92.8" width="8.4" height="8.4" fill="#a5a5a5"/>
<rect x="230.2" y="92.8" width="8.4" height="8.4" fill="#aaaaaa"/>
<rect x="238.2" y="92.8" width="8.4" height="8.4" fill="#aaaaaa"/>
<rect x="246.2" y="92.8" width="8.4" height="8.4" fill="#aaaaaa"/>
<rect x="254.2" y="92.8" width="8.4" height="8.4" fill="#a0a0a0"/>
<rect x="262.2" y="92.8" width="16.4" height="8.4" fill="#9b9b9b"/>
<rect x="166.2" y="100.8" width="16.4" height="16.4" fill="#a0a0a0"/>
<rect x="182.2" y="100.8" width="8.4" height="16.4" fill="#a5a5a5"/>
<rect x="190.2" y="100.8" width="8.4" height="16.4" fill="#aaaaaa"/>
<rect x="198.2" y="100.8" width="8.4" height="16.4" fill="#afafaf"/>
<rect x="206.2" y="100.8" width="8.4" height="16.4" fill="#afafaf"/>
<rect x="214.2" y="100.8" width="8.4" height="16.4" fill="#aaaaaa"/>
<rect x="222.2" y="100.8" width="8.4" height="16.4" fill="#aaaaaa"/>
<rect x="230.2" y="100.8" width="8.4" height="16.4" fill="#aaaaaa"/>
<rect x="238.2" y="100.8" width="8.4" height="16.4" fill="#afafaf"/>
<rect x="246.2" y="100.8" width="8.4" height="16.4" fill="#aaaaaa"/>
<rect x="254.2" y="100.8" width="8.4" height="16.4" fill="#a5a5a5"/>
<rect x="262.2" y="100.8" width="16.4" height="16.4" fill="#a0a0a0"/>
</g>
<g filter="url(#bl0p6)"><rect x="234.9" y="47.0" width="1.2" height="34.5" fill="#fff" fill-opacity="0.03"/><rect x="242.3" y="27.6" width="1.2" height="76.8" fill="#000" fill-opacity="0.02"/><rect x="246.0" y="18.0" width="1.4" height="47.4" fill="#fff" fill-opacity="0.06"/><rect x="211.7" y="28.1" width="0.9" height="26.2" fill="#000" fill-opacity="0.04"/><rect x="185.3" y="37.9" width="0.8" height="29.0" fill="#fff" fill-opacity="0.05"/><rect x="262.8" y="69.3" width="1.0" height="48.0" fill="#fff" fill-opacity="0.06"/><rect x="266.7" y="53.4" width="2.0" height="78.1" fill="#fff" fill-opacity="0.04"/><rect x="182.1" y="17.6" width="1.3" height="71.9" fill="#fff" fill-opacity="0.05"/><rect x="259.6" y="27.4" width="1.2" height="36.0" fill="#fff" fill-opacity="0.06"/><rect x="198.4" y="70.4" width="1.3" height="22.3" fill="#000" fill-opacity="0.02"/><rect x="251.2" y="68.8" width="1.1" height="44.7" fill="#fff" fill-opacity="0.03"/><rect x="237.7" y="39.0" width="2.0" height="26.1" fill="#fff" fill-opacity="0.04"/><rect x="261.7" y="26.5" width="0.9" height="45.8" fill="#fff" fill-opacity="0.02"/><rect x="222.9" y="16.7" width="1.3" height="65.1" fill="#fff" fill-opacity="0.04"/><rect x="239.7" y="12.0" width="1.0" height="66.5" fill="#fff" fill-opacity="0.03"/><rect x="245.6" y="49.1" width="1.7" height="67.8" fill="#fff" fill-opacity="0.06"/><rect x="194.0" y="31.1" width="1.6" height="73.3" fill="#fff" fill-opacity="0.04"/><rect x="196.5" y="63.6" width="1.8" height="22.9" fill="#fff" fill-opacity="0.06"/><rect x="177.9" y="40.8" width="1.9" height="63.5" fill="#000" fill-opacity="0.05"/><rect x="253.4" y="6.0" width="1.2" height="77.0" fill="#000" fill-opacity="0.04"/><rect x="246.2" y="9.6" width="1.5" height="46.3" fill="#fff" fill-opacity="0.03"/><rect x="227.8" y="14.1" width="1.1" height="25.0" fill="#000" fill-opacity="0.04"/><rect x="185.2" y="15.0" width="1.0" height="62.0" fill="#fff" fill-opacity="0.05"/><rect x="246.4" y="51.7" width="1.2" height="53.2" fill="#000" fill-opacity="0.02"/><rect x="256.0" y="62.8" width="1.1" height="24.3" fill="#fff" fill-opacity="0.06"/><rect x="240.0" y="28.2" width="1.4" height="50.0" fill="#fff" fill-opacity="0.04"/><rect x="250.7" y="8.0" width="1.6" height="41.5" fill="#fff" fill-opacity="0.04"/><rect x="174.5" y="58.6" width="1.1" height="40.8" fill="#000" fill-opacity="0.03"/><rect x="265.7" y="22.7" width="1.8" height="69.1" fill="#000" fill-opacity="0.05"/><rect x="234.7" y="35.3" width="1.5" height="36.2" fill="#000" fill-opacity="0.06"/><rect x="220.6" y="50.9" width="1.8" height="35.9" fill="#fff" fill-opacity="0.06"/><rect x="219.5" y="52.0" width="1.1" height="66.7" fill="#fff" fill-opacity="0.02"/><rect x="247.4" y="11.6" width="1.6" height="62.3" fill="#000" fill-opacity="0.03"/><rect x="182.0" y="44.2" width="1.2" height="58.9" fill="#fff" fill-opacity="0.06"/><rect x="220.3" y="5.8" width="0.9" height="39.7" fill="#000" fill-opacity="0.03"/><rect x="229.5" y="6.3" width="1.2" height="32.7" fill="#000" fill-opacity="0.03"/><rect x="257.3" y="59.8" width="1.1" height="76.9" fill="#000" fill-opacity="0.04"/><rect x="225.2" y="14.5" width="1.4" height="31.5" fill="#fff" fill-opacity="0.03"/><rect x="202.4" y="23.8" width="0.9" height="58.8" fill="#000" fill-opacity="0.03"/><rect x="196.8" y="58.9" width="1.1" height="36.4" fill="#fff" fill-opacity="0.03"/><rect x="230.7" y="13.8" width="1.5" height="70.0" fill="#fff" fill-opacity="0.02"/><rect x="241.2" y="55.4" width="1.5" height="37.0" fill="#000" fill-opacity="0.05"/><rect x="259.1" y="12.2" width="0.8" height="40.5" fill="#000" fill-opacity="0.02"/><rect x="197.1" y="13.7" width="1.6" height="58.3" fill="#fff" fill-opacity="0.02"/><rect x="214.2" y="22.2" width="1.0" height="75.4" fill="#000" fill-opacity="0.04"/></g>
<rect x="264.19" y="13.00" width="4.80" height="96.0" fill="#fcfcfc" filter="url(#bl1)"/>
<g transform="translate(174.43,13.00)"><path d="M16.0 26.0C16.3 22.7 18.0 20.3 20.0 18.0C22.0 15.7 25.8 13.8 28.0 12.0C30.2 10.2 31.0 7.7 33.0 7.0C35.0 6.3 37.8 7.0 40.0 8.0C42.2 9.0 44.0 12.0 46.0 13.0C48.0 14.0 50.2 13.2 52.0 14.0C53.8 14.8 56.2 15.7 57.0 18.0C57.8 20.3 58.2 25.7 57.0 28.0C55.8 30.3 52.8 30.3 50.0 32.0C47.2 33.7 42.8 36.3 40.0 38.0C37.2 39.7 35.7 41.3 33.0 42.0C30.3 42.7 26.5 42.7 24.0 42.0C21.5 41.3 19.3 40.7 18.0 38.0C16.7 35.3 15.7 29.3 16.0 26.0Z" fill="#696969" fill-opacity="0.62" filter="url(#bl4)"/><path d="M19.0 24.0C20.2 21.5 23.7 22.7 26.0 20.0C28.3 17.3 30.7 9.8 33.0 8.0C35.3 6.2 38.2 7.7 40.0 9.0C41.8 10.3 42.0 15.0 44.0 16.0C46.0 17.0 50.0 14.3 52.0 15.0C54.0 15.7 55.5 17.8 56.0 20.0C56.5 22.2 56.8 26.3 55.0 28.0C53.2 29.7 48.5 28.3 45.0 30.0C41.5 31.7 37.5 36.2 34.0 38.0C30.5 39.8 26.5 41.5 24.0 41.0C21.5 40.5 19.8 37.8 19.0 35.0C18.2 32.2 17.8 26.5 19.0 24.0Z" fill="#555555" fill-opacity="0.55" filter="url(#bl3)"/><ellipse cx="22" cy="32.5" rx="3" ry="8" fill="#191919" fill-opacity="0.92" filter="url(#bl1p5)"/><ellipse cx="28.5" cy="34" rx="3.2" ry="6.5" fill="#323232" fill-opacity="0.85" filter="url(#bl1p5)"/><ellipse cx="36.5" cy="13.5" rx="3" ry="7" fill="#3c3c3c" fill-opacity="0.85" filter="url(#bl1p5)"/><ellipse cx="53.6" cy="21.5" rx="2.4" ry="7" fill="#232323" fill-opacity="0.9" filter="url(#bl1p5)"/><ellipse cx="3" cy="2" rx="10" ry="9" fill="#505050" fill-opacity="0.8" filter="url(#bl3)"/><ellipse cx="25" cy="28" rx="5" ry="4" fill="#5a5a5a" fill-opacity="0.6" filter="url(#bl2)"/></g>
</g>
<rect x="174.43" y="13.00" width="96.0" height="96.0" fill="none" stroke="#222" stroke-width="0.9"/>
<path d="M182.43 109.00v-1.8M182.43 13.00v1.8" stroke="#222" stroke-width="0.7"/>
<path d="M198.43 109.00v-1.8M198.43 13.00v1.8" stroke="#222" stroke-width="0.7"/>
<path d="M214.43 109.00v-1.8M214.43 13.00v1.8" stroke="#222" stroke-width="0.7"/>
<path d="M230.43 109.00v-1.8M230.43 13.00v1.8" stroke="#222" stroke-width="0.7"/>
<path d="M246.43 109.00v-1.8M246.43 13.00v1.8" stroke="#222" stroke-width="0.7"/>
<path d="M262.43 109.00v-1.8M262.43 13.00v1.8" stroke="#222" stroke-width="0.7"/>
<path d="M174.43 101.50h1.8M270.43 101.50h-1.8" stroke="#222" stroke-width="0.7"/>
<path d="M174.43 85.50h1.8M270.43 85.50h-1.8" stroke="#222" stroke-width="0.7"/>
<path d="M174.43 69.50h1.8M270.43 69.50h-1.8" stroke="#222" stroke-width="0.7"/>
<path d="M174.43 53.50h1.8M270.43 53.50h-1.8" stroke="#222" stroke-width="0.7"/>
<path d="M174.43 37.50h1.8M270.43 37.50h-1.8" stroke="#222" stroke-width="0.7"/>
<path d="M174.43 21.50h1.8M270.43 21.50h-1.8" stroke="#222" stroke-width="0.7"/>
<path d="M176.03 109.00v-1M176.03 13.00v1M179.23 109.00v-1M179.23 13.00v1M185.63 109.00v-1M185.63 13.00v1M188.83 109.00v-1M188.83 13.00v1M192.03 109.00v-1M192.03 13.00v1M195.23 109.00v-1M195.23 13.00v1M201.63 109.00v-1M201.63 13.00v1M204.83 109.00v-1M204.83 13.00v1M208.03 109.00v-1M208.03 13.00v1M211.23 109.00v-1M211.23 13.00v1M217.63 109.00v-1M217.63 13.00v1M220.83 109.00v-1M220.83 13.00v1M224.03 109.00v-1M224.03 13.00v1M227.23 109.00v-1M227.23 13.00v1M233.63 109.00v-1M233.63 13.00v1M236.83 109.00v-1M236.83 13.00v1M240.03 109.00v-1M240.03 13.00v1M243.23 109.00v-1M243.23 13.00v1M249.63 109.00v-1M249.63 13.00v1M252.83 109.00v-1M252.83 13.00v1M256.03 109.00v-1M256.03 13.00v1M259.23 109.00v-1M259.23 13.00v1M265.63 109.00v-1M265.63 13.00v1M268.83 109.00v-1M268.83 13.00v1M174.43 107.90h1M270.43 107.90h-1M174.43 104.70h1M270.43 104.70h-1M174.43 98.30h1M270.43 98.30h-1M174.43 95.10h1M270.43 95.10h-1M174.43 91.90h1M270.43 91.90h-1M174.43 88.70h1M270.43 88.70h-1M174.43 82.30h1M270.43 82.30h-1M174.43 79.10h1M270.43 79.10h-1M174.43 75.90h1M270.43 75.90h-1M174.43 72.70h1M270.43 72.70h-1M174.43 66.30h1M270.43 66.30h-1M174.43 63.10h1M270.43 63.10h-1M174.43 59.90h1M270.43 59.90h-1M174.43 56.70h1M270.43 56.70h-1M174.43 50.30h1M270.43 50.30h-1M174.43 47.10h1M270.43 47.10h-1M174.43 43.90h1M270.43 43.90h-1M174.43 40.70h1M270.43 40.70h-1M174.43 34.30h1M270.43 34.30h-1M174.43 31.10h1M270.43 31.10h-1M174.43 27.90h1M270.43 27.90h-1M174.43 24.70h1M270.43 24.70h-1M174.43 18.30h1M270.43 18.30h-1M174.43 15.10h1M270.43 15.10h-1" stroke="#333" stroke-width="0.6"/>
<text transform="translate(222.82,7.70)" text-anchor="middle" font-size="10.8" fill="#111" stroke="#111" stroke-width="0.2" letter-spacing="0.78">EIS Fe X 184.5</text>
<text transform="translate(172.38,105.30)" text-anchor="end" font-size="9.6" fill="#111" stroke="#111" stroke-width="0.2" letter-spacing="0.55">30</text>
<text transform="translate(172.38,89.30)" text-anchor="end" font-size="9.6" fill="#111" stroke="#111" stroke-width="0.2" letter-spacing="0.55">40</text>
<text transform="translate(172.38,73.30)" text-anchor="end" font-size="9.6" fill="#111" stroke="#111" stroke-width="0.2" letter-spacing="0.55">50</text>
<text transform="translate(172.38,57.30)" text-anchor="end" font-size="9.6" fill="#111" stroke="#111" stroke-width="0.2" letter-spacing="0.55">60</text>
<text transform="translate(172.38,41.30)" text-anchor="end" font-size="9.6" fill="#111" stroke="#111" stroke-width="0.2" letter-spacing="0.55">70</text>
<text transform="translate(172.38,25.30)" text-anchor="end" font-size="9.6" fill="#111" stroke="#111" stroke-width="0.2" letter-spacing="0.55">80</text>
<text transform="translate(182.71,122.50)" text-anchor="middle" font-size="9.6" fill="#111" stroke="#111" stroke-width="0.2" letter-spacing="0.55">40</text>
<text transform="translate(198.71,122.50)" text-anchor="middle" font-size="9.6" fill="#111" stroke="#111" stroke-width="0.2" letter-spacing="0.55">50</text>
<text transform="translate(214.71,122.50)" text-anchor="middle" font-size="9.6" fill="#111" stroke="#111" stroke-width="0.2" letter-spacing="0.55">60</text>
<text transform="translate(230.71,122.50)" text-anchor="middle" font-size="9.6" fill="#111" stroke="#111" stroke-width="0.2" letter-spacing="0.55">70</text>
<text transform="translate(246.71,122.50)" text-anchor="middle" font-size="9.6" fill="#111" stroke="#111" stroke-width="0.2" letter-spacing="0.55">80</text>
<text transform="translate(262.70,122.50)" text-anchor="middle" font-size="9.6" fill="#111" stroke="#111" stroke-width="0.2" letter-spacing="0.55">90</text>
<text transform="translate(222.63,133.20)" text-anchor="middle" font-size="9.4" fill="#111" stroke="#111" stroke-width="0.2" letter-spacing="0.4">X (arcsecs)</text>
<defs><linearGradient id="cb01" x1="0" y1="0" x2="0" y2="1"><stop offset="0" stop-color="#000"/><stop offset="1" stop-color="#fff"/></linearGradient></defs>
<rect x="274.13" y="27.60" width="3.6" height="81.90" fill="url(#cb01)" stroke="#333" stroke-width="0.5"/>
<path d="M277.73 27.60h1.8" stroke="#222" stroke-width="0.6"/>
<text transform="translate(282.73,31.00)" font-size="9.6" fill="#111" stroke="#111" stroke-width="0.2" letter-spacing="0.55">3.5</text>
<path d="M277.73 48.08h1.8" stroke="#222" stroke-width="0.6"/>
<text transform="translate(282.73,51.48)" font-size="9.6" fill="#111" stroke="#111" stroke-width="0.2" letter-spacing="0.55">3.0</text>
<path d="M277.73 68.55h1.8" stroke="#222" stroke-width="0.6"/>
<text transform="translate(282.73,71.95)" font-size="9.6" fill="#111" stroke="#111" stroke-width="0.2" letter-spacing="0.55">2.5</text>
<path d="M277.73 89.03h1.8" stroke="#222" stroke-width="0.6"/>
<text transform="translate(282.73,92.43)" font-size="9.6" fill="#111" stroke="#111" stroke-width="0.2" letter-spacing="0.55">2.0</text>
<path d="M277.73 109.50h1.8" stroke="#222" stroke-width="0.6"/>
<text transform="translate(282.73,112.90)" font-size="9.6" fill="#111" stroke="#111" stroke-width="0.2" letter-spacing="0.55">1.5</text>
<text transform="translate(272.93,18.60)" font-size="9.4" fill="#111" stroke="#111" stroke-width="0.2" letter-spacing="0.5">log N<tspan font-size="5.8" dy="3" letter-spacing="0.1">ph</tspan></text>
<clipPath id="cp02"><rect x="319.36" y="13.00" width="96.0" height="96.0"/></clipPath>
<g clip-path="url(#cp02)"><g filter="url(#bl3)">
<rect x="311.2" y="4.8" width="16.4" height="16.4" fill="#828282"/>
<rect x="327.2" y="4.8" width="8.4" height="16.4" fill="#878787"/>
<rect x="335.2" y="4.8" width="8.4" height="16.4" fill="#8c8c8c"/>
<rect x="343.2" y="4.8" width="8.4" height="16.4" fill="#8c8c8c"/>
<rect x="351.2" y="4.8" width="8.4" height="16.4" fill="#8c8c8c"/>
<rect x="359.2" y="4.8" width="8.4" height="16.4" fill="#8c8c8c"/>
<rect x="367.2" y="4.8" width="8.4" height="16.4" fill="#919191"/>
<rect x="375.2" y="4.8" width="8.4" height="16.4" fill="#969696"/>
<rect x="383.2" y="4.8" width="8.4" height="16.4" fill="#9b9b9b"/>
<rect x="391.2" y="4.8" width="8.4" height="16.4" fill="#969696"/>
<rect x="399.2" y="4.8" width="8.4" height="16.4" fill="#919191"/>
<rect x="407.2" y="4.8" width="16.4" height="16.4" fill="#8c8c8c"/>
<rect x="311.2" y="20.8" width="16.4" height="8.4" fill="#828282"/>
<rect x="327.2" y="20.8" width="8.4" height="8.4" fill="#878787"/>
<rect x="335.2" y="20.8" width="8.4" height="8.4" fill="#828282"/>
<rect x="343.2" y="20.8" width="8.4" height="8.4" fill="#6e6e6e"/>
<rect x="351.2" y="20.8" width="8.4" height="8.4" fill="#505050"/>
<rect x="359.2" y="20.8" width="8.4" height="8.4" fill="#787878"/>
<rect x="367.2" y="20.8" width="8.4" height="8.4" fill="#828282"/>
<rect x="375.2" y="20.8" width="8.4" height="8.4" fill="#969696"/>
<rect x="383.2" y="20.8" width="8.4" height="8.4" fill="#9b9b9b"/>
<rect x="391.2" y="20.8" width="8.4" height="8.4" fill="#919191"/>
<rect x="399.2" y="20.8" width="8.4" height="8.4" fill="#8c8c8c"/>
<rect x="407.2" y="20.8" width="16.4" height="8.4" fill="#878787"/>
<rect x="311.2" y="28.8" width="16.4" height="8.4" fill="#828282"/>
<rect x="327.2" y="28.8" width="8.4" height="8.4" fill="#828282"/>
<rect x="335.2" y="28.8" width="8.4" height="8.4" fill="#6e6e6e"/>
<rect x="343.2" y="28.8" width="8.4" height="8.4" fill="#646464"/>
<rect x="351.2" y="28.8" width="8.4" height="8.4" fill="#5a5a5a"/>
<rect x="359.2" y="28.8" width="8.4" height="8.4" fill="#6e6e6e"/>
<rect x="367.2" y="28.8" width="8.4" height="8.4" fill="#5a5a5a"/>
<rect x="375.2" y="28.8" width="8.4" height="8.4" fill="#8c8c8c"/>
<rect x="383.2" y="28.8" width="8.4" height="8.4" fill="#969696"/>
<rect x="391.2" y="28.8" width="8.4" height="8.4" fill="#8c8c8c"/>
<rect x="399.2" y="28.8" width="8.4" height="8.4" fill="#878787"/>
<rect x="407.2" y="28.8" width="16.4" height="8.4" fill="#828282"/>
<rect x="311.2" y="36.8" width="16.4" height="8.4" fill="#828282"/>
<rect x="327.2" y="36.8" width="8.4" height="8.4" fill="#646464"/>
<rect x="335.2" y="36.8" width="8.4" height="8.4" fill="#282828"/>
<rect x="343.2" y="36.8" width="8.4" height="8.4" fill="#323232"/>
<rect x="351.2" y="36.8" width="8.4" height="8.4" fill="#5f5f5f"/>
<rect x="359.2" y="36.8" width="8.4" height="8.4" fill="#6e6e6e"/>
<rect x="367.2" y="36.8" width="8.4" height="8.4" fill="#505050"/>
<rect x="375.2" y="36.8" width="8.4" height="8.4" fill="#8c8c8c"/>
<rect x="383.2" y="36.8" width="8.4" height="8.4" fill="#919191"/>
<rect x="391.2" y="36.8" width="8.4" height="8.4" fill="#828282"/>
<rect x="399.2" y="36.8" width="8.4" height="8.4" fill="#828282"/>
<rect x="407.2" y="36.8" width="16.4" height="8.4" fill="#828282"/>
<rect x="311.2" y="44.8" width="16.4" height="8.4" fill="#7d7d7d"/>
<rect x="327.2" y="44.8" width="8.4" height="8.4" fill="#646464"/>
<rect x="335.2" y="44.8" width="8.4" height="8.4" fill="#191919"/>
<rect x="343.2" y="44.8" width="8.4" height="8.4" fill="#232323"/>
<rect x="351.2" y="44.8" width="8.4" height="8.4" fill="#646464"/>
<rect x="359.2" y="44.8" width="8.4" height="8.4" fill="#7d7d7d"/>
<rect x="367.2" y="44.8" width="8.4" height="8.4" fill="#787878"/>
<rect x="375.2" y="44.8" width="8.4" height="8.4" fill="#8c8c8c"/>
<rect x="383.2" y="44.8" width="8.4" height="8.4" fill="#8c8c8c"/>
<rect x="391.2" y="44.8" width="8.4" height="8.4" fill="#7d7d7d"/>
<rect x="399.2" y="44.8" width="8.4" height="8.4" fill="#828282"/>
<rect x="407.2" y="44.8" width="16.4" height="8.4" fill="#828282"/>
<rect x="311.2" y="52.8" width="16.4" height="8.4" fill="#737373"/>
<rect x="327.2" y="52.8" width="8.4" height="8.4" fill="#787878"/>
<rect x="335.2" y="52.8" width="8.4" height="8.4" fill="#5a5a5a"/>
<rect x="343.2" y="52.8" width="8.4" height="8.4" fill="#6e6e6e"/>
<rect x="351.2" y="52.8" width="8.4" height="8.4" fill="#828282"/>
<rect x="359.2" y="52.8" width="8.4" height="8.4" fill="#8c8c8c"/>
<rect x="367.2" y="52.8" width="8.4" height="8.4" fill="#8c8c8c"/>
<rect x="375.2" y="52.8" width="8.4" height="8.4" fill="#8c8c8c"/>
<rect x="383.2" y="52.8" width="8.4" height="8.4" fill="#828282"/>
<rect x="391.2" y="52.8" width="8.4" height="8.4" fill="#7d7d7d"/>
<rect x="399.2" y="52.8" width="8.4" height="8.4" fill="#7d7d7d"/>
<rect x="407.2" y="52.8" width="16.4" height="8.4" fill="#828282"/>
<rect x="311.2" y="60.8" width="16.4" height="8.4" fill="#696969"/>
<rect x="327.2" y="60.8" width="8.4" height="8.4" fill="#787878"/>
<rect x="335.2" y="60.8" width="8.4" height="8.4" fill="#828282"/>
<rect x="343.2" y="60.8" width="8.4" height="8.4" fill="#8c8c8c"/>
<rect x="351.2" y="60.8" width="8.4" height="8.4" fill="#919191"/>
<rect x="359.2" y="60.8" width="8.4" height="8.4" fill="#919191"/>
<rect x="367.2" y="60.8" width="8.4" height="8.4" fill="#919191"/>
<rect x="375.2" y="60.8" width="8.4" height="8.4" fill="#8c8c8c"/>
<rect x="383.2" y="60.8" width="8.4" height="8.4" fill="#7d7d7d"/>
<rect x="391.2" y="60.8" width="8.4" height="8.4" fill="#787878"/>
<rect x="399.2" y="60.8" width="8.4" height="8.4" fill="#7d7d7d"/>
<rect x="407.2" y="60.8" width="16.4" height="8.4" fill="#7d7d7d"/>
<rect x="311.2" y="68.8" width="16.4" height="8.4" fill="#646464"/>
<rect x="327.2" y="68.8" width="8.4" height="8.4" fill="#787878"/>
<rect x="335.2" y="68.8" width="8.4" height="8.4" fill="#8c8c8c"/>
<rect x="343.2" y="68.8" width="8.4" height="8.4" fill="#828282"/>
<rect x="351.2" y="68.8" width="8.4" height="8.4" fill="#878787"/>
<rect x="359.2" y="68.8" width="8.4" height="8.4" fill="#919191"/>
<rect x="367.2" y="68.8" width="8.4" height="8.4" fill="#919191"/>
<rect x="375.2" y="68.8" width="8.4" height="8.4" fill="#8c8c8c"/>
<rect x="383.2" y="68.8" width="8.4" height="8.4" fill="#828282"/>
<rect x="391.2" y="68.8" width="8.4" height="8.4" fill="#787878"/>
<rect x="399.2" y="68.8" width="8.4" height="8.4" fill="#787878"/>
<rect x="407.2" y="68.8" width="16.4" height="8.4" fill="#787878"/>
<rect x="311.2" y="76.8" width="16.4" height="8.4" fill="#6e6e6e"/>
<rect x="327.2" y="76.8" width="8.4" height="8.4" fill="#828282"/>
<rect x="335.2" y="76.8" width="8.4" height="8.4" fill="#919191"/>
<rect x="343.2" y="76.8" width="8.4" height="8.4" fill="#919191"/>
<rect x="351.2" y="76.8" width="8.4" height="8.4" fill="#828282"/>
<rect x="359.2" y="76.8" width="8.4" height="8.4" fill="#7d7d7d"/>
<rect x="367.2" y="76.8" width="8.4" height="8.4" fill="#878787"/>
<rect x="375.2" y="76.8" width="8.4" height="8.4" fill="#828282"/>
<rect x="383.2" y="76.8" width="8.4" height="8.4" fill="#7d7d7d"/>
<rect x="391.2" y="76.8" width="8.4" height="8.4" fill="#737373"/>
<rect x="399.2" y="76.8" width="8.4" height="8.4" fill="#737373"/>
<rect x="407.2" y="76.8" width="16.4" height="8.4" fill="#737373"/>
<rect x="311.2" y="84.8" width="16.4" height="8.4" fill="#787878"/>
<rect x="327.2" y="84.8" width="8.4" height="8.4" fill="#878787"/>
<rect x="335.2" y="84.8" width="8.4" height="8.4" fill="#969696"/>
<rect x="343.2" y="84.8" width="8.4" height="8.4" fill="#969696"/>
<rect x="351.2" y="84.8" width="8.4" height="8.4" fill="#919191"/>
<rect x="359.2" y="84.8" width="8.4" height="8.4" fill="#8c8c8c"/>
<rect x="367.2" y="84.8" width="8.4" height="8.4" fill="#787878"/>
<rect x="375.2" y="84.8" width="8.4" height="8.4" fill="#828282"/>
<rect x="383.2" y="84.8" width="8.4" height="8.4" fill="#7d7d7d"/>
<rect x="391.2" y="84.8" width="8.4" height="8.4" fill="#737373"/>
<rect x="399.2" y="84.8" width="8.4" height="8.4" fill="#737373"/>
<rect x="407.2" y="84.8" width="16.4" height="8.4" fill="#737373"/>
<rect x="311.2" y="92.8" width="16.4" height="8.4" fill="#7d7d7d"/>
<rect x="327.2" y="92.8" width="8.4" height="8.4" fill="#8c8c8c"/>
<rect x="335.2" y="92.8" width="8.4" height="8.4" fill="#969696"/>
<rect x="343.2" y="92.8" width="8.4" height="8.4" fill="#9b9b9b"/>
<rect x="351.2" y="92.8" width="8.4" height="8.4" fill="#969696"/>
<rect x="359.2" y="92.8" width="8.4" height="8.4" fill="#919191"/>
<rect x="367.2" y="92.8" width="8.4" height="8.4" fill="#8c8c8c"/>
<rect x="375.2" y="92.8" width="8.4" height="8.4" fill="#878787"/>
<rect x="383.2" y="92.8" width="8.4" height="8.4" fill="#7d7d7d"/>
<rect x="391.2" y="92.8" width="8.4" height="8.4" fill="#787878"/>
<rect x="399.2" y="92.8" width="8.4" height="8.4" fill="#737373"/>
<rect x="407.2" y="92.8" width="16.4" height="8.4" fill="#787878"/>
<rect x="311.2" y="100.8" width="16.4" height="16.4" fill="#7d7d7d"/>
<rect x="327.2" y="100.8" width="8.4" height="16.4" fill="#878787"/>
<rect x="335.2" y="100.8" width="8.4" height="16.4" fill="#919191"/>
<rect x="343.2" y="100.8" width="8.4" height="16.4" fill="#969696"/>
<rect x="351.2" y="100.8" width="8.4" height="16.4" fill="#969696"/>
<rect x="359.2" y="100.8" width="8.4" height="16.4" fill="#969696"/>
<rect x="367.2" y="100.8" width="8.4" height="16.4" fill="#919191"/>
<rect x="375.2" y="100.8" width="8.4" height="16.4" fill="#8c8c8c"/>
<rect x="383.2" y="100.8" width="8.4" height="16.4" fill="#878787"/>
<rect x="391.2" y="100.8" width="8.4" height="16.4" fill="#7d7d7d"/>
<rect x="399.2" y="100.8" width="8.4" height="16.4" fill="#787878"/>
<rect x="407.2" y="100.8" width="16.4" height="16.4" fill="#7d7d7d"/>
</g>
<g filter="url(#bl0p6)"><rect x="367.1" y="14.8" width="1.6" height="41.1" fill="#fff" fill-opacity="0.03"/><rect x="403.1" y="63.3" width="1.3" height="22.5" fill="#fff" fill-opacity="0.02"/><rect x="349.5" y="48.2" width="1.6" height="26.5" fill="#000" fill-opacity="0.03"/><rect x="402.0" y="43.1" width="0.9" height="57.9" fill="#000" fill-opacity="0.04"/><rect x="335.8" y="39.7" width="1.3" height="73.8" fill="#fff" fill-opacity="0.02"/><rect x="331.2" y="20.3" width="1.0" height="77.3" fill="#fff" fill-opacity="0.02"/><rect x="411.2" y="70.6" width="1.4" height="51.9" fill="#000" fill-opacity="0.06"/><rect x="343.1" y="57.9" width="1.9" height="49.7" fill="#fff" fill-opacity="0.02"/><rect x="347.7" y="10.0" width="0.8" height="30.3" fill="#fff" fill-opacity="0.06"/><rect x="353.0" y="45.4" width="1.1" height="49.5" fill="#000" fill-opacity="0.03"/><rect x="350.6" y="3.5" width="1.6" height="54.6" fill="#000" fill-opacity="0.04"/><rect x="398.8" y="70.1" width="1.7" height="39.2" fill="#fff" fill-opacity="0.03"/><rect x="375.8" y="54.5" width="1.4" height="71.7" fill="#fff" fill-opacity="0.04"/><rect x="355.3" y="47.9" width="1.6" height="78.8" fill="#000" fill-opacity="0.05"/><rect x="359.5" y="4.3" width="1.7" height="36.1" fill="#fff" fill-opacity="0.05"/><rect x="408.1" y="65.8" width="1.6" height="20.8" fill="#000" fill-opacity="0.05"/><rect x="364.2" y="7.6" width="1.3" height="57.1" fill="#fff" fill-opacity="0.02"/><rect x="336.7" y="14.8" width="1.0" height="48.8" fill="#fff" fill-opacity="0.03"/><rect x="339.1" y="11.9" width="1.7" height="30.1" fill="#fff" fill-opacity="0.06"/><rect x="405.9" y="70.6" width="1.1" height="51.7" fill="#fff" fill-opacity="0.05"/><rect x="399.4" y="23.3" width="1.5" height="32.1" fill="#000" fill-opacity="0.05"/><rect x="359.6" y="18.6" width="1.8" height="49.6" fill="#000" fill-opacity="0.05"/><rect x="329.6" y="29.3" width="1.8" height="73.4" fill="#000" fill-opacity="0.06"/><rect x="386.4" y="52.0" width="1.3" height="44.3" fill="#000" fill-opacity="0.02"/><rect x="330.9" y="47.8" width="1.9" height="35.1" fill="#000" fill-opacity="0.05"/><rect x="366.3" y="40.0" width="1.3" height="21.5" fill="#fff" fill-opacity="0.03"/><rect x="336.0" y="55.9" width="1.4" height="52.3" fill="#fff" fill-opacity="0.06"/><rect x="412.3" y="33.6" width="1.1" height="24.7" fill="#fff" fill-opacity="0.05"/><rect x="319.7" y="58.4" width="1.1" height="48.1" fill="#fff" fill-opacity="0.04"/><rect x="412.4" y="27.1" width="1.7" height="23.9" fill="#fff" fill-opacity="0.02"/><rect x="352.5" y="13.2" width="1.5" height="44.7" fill="#fff" fill-opacity="0.04"/><rect x="365.2" y="55.6" width="1.6" height="24.3" fill="#000" fill-opacity="0.05"/><rect x="365.9" y="69.6" width="1.9" height="40.4" fill="#000" fill-opacity="0.06"/><rect x="379.8" y="68.7" width="1.3" height="50.5" fill="#000" fill-opacity="0.04"/><rect x="358.0" y="31.7" width="0.9" height="35.3" fill="#000" fill-opacity="0.02"/><rect x="382.9" y="37.2" width="0.9" height="71.4" fill="#fff" fill-opacity="0.04"/><rect x="384.5" y="57.4" width="1.1" height="63.8" fill="#fff" fill-opacity="0.04"/><rect x="345.3" y="11.9" width="1.0" height="67.8" fill="#000" fill-opacity="0.04"/><rect x="338.0" y="8.9" width="1.4" height="29.3" fill="#fff" fill-opacity="0.06"/><rect x="344.8" y="27.5" width="1.8" height="48.5" fill="#000" fill-opacity="0.05"/><rect x="370.9" y="25.3" width="1.9" height="56.2" fill="#000" fill-opacity="0.02"/><rect x="372.6" y="60.6" width="1.5" height="31.1" fill="#000" fill-opacity="0.05"/><rect x="412.7" y="68.7" width="1.6" height="76.6" fill="#fff" fill-opacity="0.02"/><rect x="409.1" y="35.3" width="1.9" height="59.9" fill="#000" fill-opacity="0.05"/><rect x="387.3" y="63.9" width="1.3" height="40.1" fill="#000" fill-opacity="0.03"/></g>
<rect x="409.12" y="13.00" width="4.80" height="96.0" fill="#fafafa" filter="url(#bl1)"/>
<g transform="translate(319.36,13.00)"><path d="M13.0 30.0C13.3 27.0 15.8 24.3 18.0 22.0C20.2 19.7 23.7 18.3 26.0 16.0C28.3 13.7 29.7 9.5 32.0 8.0C34.3 6.5 38.0 6.2 40.0 7.0C42.0 7.8 42.3 12.0 44.0 13.0C45.7 14.0 48.0 12.3 50.0 13.0C52.0 13.7 54.8 14.7 56.0 17.0C57.2 19.3 58.0 24.5 57.0 27.0C56.0 29.5 52.5 29.8 50.0 32.0C47.5 34.2 44.5 37.8 42.0 40.0C39.5 42.2 38.0 44.2 35.0 45.0C32.0 45.8 27.2 45.8 24.0 45.0C20.8 44.2 17.8 42.5 16.0 40.0C14.2 37.5 12.7 33.0 13.0 30.0Z" fill="#464646" fill-opacity="0.8" filter="url(#bl4)"/><path d="M20.0 28.0C20.8 26.5 22.7 25.8 24.0 26.0C25.3 26.2 26.5 28.7 28.0 29.0C29.5 29.3 32.0 27.2 33.0 28.0C34.0 28.8 34.2 31.7 34.0 34.0C33.8 36.3 33.3 40.5 32.0 42.0C30.7 43.5 27.8 43.2 26.0 43.0C24.2 42.8 22.2 42.3 21.0 41.0C19.8 39.7 19.2 37.2 19.0 35.0C18.8 32.8 19.2 29.5 20.0 28.0Z" fill="#0f0f0f" fill-opacity="0.9" filter="url(#bl2p5)"/><ellipse cx="36.5" cy="13.5" rx="3" ry="6.5" fill="#464646" fill-opacity="0.8" filter="url(#bl2)"/><ellipse cx="53" cy="20.5" rx="2.5" ry="5.5" fill="#323232" fill-opacity="0.9" filter="url(#bl2)"/></g>
</g>
<rect x="319.36" y="13.00" width="96.0" height="96.0" fill="none" stroke="#222" stroke-width="0.9"/>
<path d="M327.36 109.00v-1.8M327.36 13.00v1.8" stroke="#222" stroke-width="0.7"/>
<path d="M343.36 109.00v-1.8M343.36 13.00v1.8" stroke="#222" stroke-width="0.7"/>
<path d="M359.36 109.00v-1.8M359.36 13.00v1.8" stroke="#222" stroke-width="0.7"/>
<path d="M375.36 109.00v-1.8M375.36 13.00v1.8" stroke="#222" stroke-width="0.7"/>
<path d="M391.36 109.00v-1.8M391.36 13.00v1.8" stroke="#222" stroke-width="0.7"/>
<path d="M407.36 109.00v-1.8M407.36 13.00v1.8" stroke="#222" stroke-width="0.7"/>
<path d="M319.36 101.50h1.8M415.36 101.50h-1.8" stroke="#222" stroke-width="0.7"/>
<path d="M319.36 85.50h1.8M415.36 85.50h-1.8" stroke="#222" stroke-width="0.7"/>
<path d="M319.36 69.50h1.8M415.36 69.50h-1.8" stroke="#222" stroke-width="0.7"/>
<path d="M319.36 53.50h1.8M415.36 53.50h-1.8" stroke="#222" stroke-width="0.7"/>
<path d="M319.36 37.50h1.8M415.36 37.50h-1.8" stroke="#222" stroke-width="0.7"/>
<path d="M319.36 21.50h1.8M415.36 21.50h-1.8" stroke="#222" stroke-width="0.7"/>
<path d="M320.96 109.00v-1M320.96 13.00v1M324.16 109.00v-1M324.16 13.00v1M330.56 109.00v-1M330.56 13.00v1M333.76 109.00v-1M333.76 13.00v1M336.96 109.00v-1M336.96 13.00v1M340.16 109.00v-1M340.16 13.00v1M346.56 109.00v-1M346.56 13.00v1M349.76 109.00v-1M349.76 13.00v1M352.96 109.00v-1M352.96 13.00v1M356.16 109.00v-1M356.16 13.00v1M362.56 109.00v-1M362.56 13.00v1M365.76 109.00v-1M365.76 13.00v1M368.96 109.00v-1M368.96 13.00v1M372.16 109.00v-1M372.16 13.00v1M378.56 109.00v-1M378.56 13.00v1M381.76 109.00v-1M381.76 13.00v1M384.96 109.00v-1M384.96 13.00v1M388.16 109.00v-1M388.16 13.00v1M394.56 109.00v-1M394.56 13.00v1M397.76 109.00v-1M397.76 13.00v1M400.96 109.00v-1M400.96 13.00v1M404.16 109.00v-1M404.16 13.00v1M410.56 109.00v-1M410.56 13.00v1M413.76 109.00v-1M413.76 13.00v1M319.36 107.90h1M415.36 107.90h-1M319.36 104.70h1M415.36 104.70h-1M319.36 98.30h1M415.36 98.30h-1M319.36 95.10h1M415.36 95.10h-1M319.36 91.90h1M415.36 91.90h-1M319.36 88.70h1M415.36 88.70h-1M319.36 82.30h1M415.36 82.30h-1M319.36 79.10h1M415.36 79.10h-1M319.36 75.90h1M415.36 75.90h-1M319.36 72.70h1M415.36 72.70h-1M319.36 66.30h1M415.36 66.30h-1M319.36 63.10h1M415.36 63.10h-1M319.36 59.90h1M415.36 59.90h-1M319.36 56.70h1M415.36 56.70h-1M319.36 50.30h1M415.36 50.30h-1M319.36 47.10h1M415.36 47.10h-1M319.36 43.90h1M415.36 43.90h-1M319.36 40.70h1M415.36 40.70h-1M319.36 34.30h1M415.36 34.30h-1M319.36 31.10h1M415.36 31.10h-1M319.36 27.90h1M415.36 27.90h-1M319.36 24.70h1M415.36 24.70h-1M319.36 18.30h1M415.36 18.30h-1M319.36 15.10h1M415.36 15.10h-1" stroke="#333" stroke-width="0.6"/>
<text transform="translate(367.75,7.70)" text-anchor="middle" font-size="10.8" fill="#111" stroke="#111" stroke-width="0.2" letter-spacing="0.78">EIS Fe XII 195.1</text>
<text transform="translate(317.31,105.30)" text-anchor="end" font-size="9.6" fill="#111" stroke="#111" stroke-width="0.2" letter-spacing="0.55">30</text>
<text transform="translate(317.31,89.30)" text-anchor="end" font-size="9.6" fill="#111" stroke="#111" stroke-width="0.2" letter-spacing="0.55">40</text>
<text transform="translate(317.31,73.30)" text-anchor="end" font-size="9.6" fill="#111" stroke="#111" stroke-width="0.2" letter-spacing="0.55">50</text>
<text transform="translate(317.31,57.30)" text-anchor="end" font-size="9.6" fill="#111" stroke="#111" stroke-width="0.2" letter-spacing="0.55">60</text>
<text transform="translate(317.31,41.30)" text-anchor="end" font-size="9.6" fill="#111" stroke="#111" stroke-width="0.2" letter-spacing="0.55">70</text>
<text transform="translate(317.31,25.30)" text-anchor="end" font-size="9.6" fill="#111" stroke="#111" stroke-width="0.2" letter-spacing="0.55">80</text>
<text transform="translate(327.63,122.50)" text-anchor="middle" font-size="9.6" fill="#111" stroke="#111" stroke-width="0.2" letter-spacing="0.55">40</text>
<text transform="translate(343.63,122.50)" text-anchor="middle" font-size="9.6" fill="#111" stroke="#111" stroke-width="0.2" letter-spacing="0.55">50</text>
<text transform="translate(359.63,122.50)" text-anchor="middle" font-size="9.6" fill="#111" stroke="#111" stroke-width="0.2" letter-spacing="0.55">60</text>
<text transform="translate(375.63,122.50)" text-anchor="middle" font-size="9.6" fill="#111" stroke="#111" stroke-width="0.2" letter-spacing="0.55">70</text>
<text transform="translate(391.63,122.50)" text-anchor="middle" font-size="9.6" fill="#111" stroke="#111" stroke-width="0.2" letter-spacing="0.55">80</text>
<text transform="translate(407.63,122.50)" text-anchor="middle" font-size="9.6" fill="#111" stroke="#111" stroke-width="0.2" letter-spacing="0.55">90</text>
<text transform="translate(367.56,133.20)" text-anchor="middle" font-size="9.4" fill="#111" stroke="#111" stroke-width="0.2" letter-spacing="0.4">X (arcsecs)</text>
<defs><linearGradient id="cb02" x1="0" y1="0" x2="0" y2="1"><stop offset="0" stop-color="#000"/><stop offset="1" stop-color="#fff"/></linearGradient></defs>
<rect x="419.06" y="27.60" width="3.6" height="81.90" fill="url(#cb02)" stroke="#333" stroke-width="0.5"/>
<path d="M422.66 27.60h1.8" stroke="#222" stroke-width="0.6"/>
<text transform="translate(427.66,31.00)" font-size="9.6" fill="#111" stroke="#111" stroke-width="0.2" letter-spacing="0.55">4.5</text>
<path d="M422.66 48.08h1.8" stroke="#222" stroke-width="0.6"/>
<text transform="translate(427.66,51.48)" font-size="9.6" fill="#111" stroke="#111" stroke-width="0.2" letter-spacing="0.55">4.0</text>
<path d="M422.66 68.55h1.8" stroke="#222" stroke-width="0.6"/>
<text transform="translate(427.66,71.95)" font-size="9.6" fill="#111" stroke="#111" stroke-width="0.2" letter-spacing="0.55">3.5</text>
<path d="M422.66 89.03h1.8" stroke="#222" stroke-width="0.6"/>
<text transform="translate(427.66,92.43)" font-size="9.6" fill="#111" stroke="#111" stroke-width="0.2" letter-spacing="0.55">3.0</text>
<path d="M422.66 109.50h1.8" stroke="#222" stroke-width="0.6"/>
<text transform="translate(427.66,112.90)" font-size="9.6" fill="#111" stroke="#111" stroke-width="0.2" letter-spacing="0.55">2.5</text>
<text transform="translate(417.86,18.60)" font-size="9.4" fill="#111" stroke="#111" stroke-width="0.2" letter-spacing="0.5">log N<tspan font-size="5.8" dy="3" letter-spacing="0.1">ph</tspan></text>
<clipPath id="cp03"><rect x="464.29" y="13.00" width="96.0" height="96.0"/></clipPath>
<g clip-path="url(#cp03)"><g filter="url(#bl3)">
<rect x="456.1" y="4.8" width="16.4" height="16.4" fill="#afafaf"/>
<rect x="472.1" y="4.8" width="8.4" height="16.4" fill="#b4b4b4"/>
<rect x="480.1" y="4.8" width="8.4" height="16.4" fill="#b9b9b9"/>
<rect x="488.1" y="4.8" width="8.4" height="16.4" fill="#b4b4b4"/>
<rect x="496.1" y="4.8" width="8.4" height="16.4" fill="#afafaf"/>
<rect x="504.1" y="4.8" width="8.4" height="16.4" fill="#b4b4b4"/>
<rect x="512.1" y="4.8" width="8.4" height="16.4" fill="#bebebe"/>
<rect x="520.1" y="4.8" width="8.4" height="16.4" fill="#c8c8c8"/>
<rect x="528.1" y="4.8" width="8.4" height="16.4" fill="#bebebe"/>
<rect x="536.1" y="4.8" width="8.4" height="16.4" fill="#b4b4b4"/>
<rect x="544.1" y="4.8" width="8.4" height="16.4" fill="#afafaf"/>
<rect x="552.1" y="4.8" width="16.4" height="16.4" fill="#aaaaaa"/>
<rect x="456.1" y="20.8" width="16.4" height="8.4" fill="#aaaaaa"/>
<rect x="472.1" y="20.8" width="8.4" height="8.4" fill="#b4b4b4"/>
<rect x="480.1" y="20.8" width="8.4" height="8.4" fill="#b4b4b4"/>
<rect x="488.1" y="20.8" width="8.4" height="8.4" fill="#969696"/>
<rect x="496.1" y="20.8" width="8.4" height="8.4" fill="#828282"/>
<rect x="504.1" y="20.8" width="8.4" height="8.4" fill="#969696"/>
<rect x="512.1" y="20.8" width="8.4" height="8.4" fill="#a0a0a0"/>
<rect x="520.1" y="20.8" width="8.4" height="8.4" fill="#c3c3c3"/>
<rect x="528.1" y="20.8" width="8.4" height="8.4" fill="#b4b4b4"/>
<rect x="536.1" y="20.8" width="8.4" height="8.4" fill="#a5a5a5"/>
<rect x="544.1" y="20.8" width="8.4" height="8.4" fill="#a0a0a0"/>
<rect x="552.1" y="20.8" width="16.4" height="8.4" fill="#a0a0a0"/>
<rect x="456.1" y="28.8" width="16.4" height="8.4" fill="#aaaaaa"/>
<rect x="472.1" y="28.8" width="8.4" height="8.4" fill="#afafaf"/>
<rect x="480.1" y="28.8" width="8.4" height="8.4" fill="#969696"/>
<rect x="488.1" y="28.8" width="8.4" height="8.4" fill="#828282"/>
<rect x="496.1" y="28.8" width="8.4" height="8.4" fill="#787878"/>
<rect x="504.1" y="28.8" width="8.4" height="8.4" fill="#8c8c8c"/>
<rect x="512.1" y="28.8" width="8.4" height="8.4" fill="#828282"/>
<rect x="520.1" y="28.8" width="8.4" height="8.4" fill="#b4b4b4"/>
<rect x="528.1" y="28.8" width="8.4" height="8.4" fill="#a5a5a5"/>
<rect x="536.1" y="28.8" width="8.4" height="8.4" fill="#969696"/>
<rect x="544.1" y="28.8" width="8.4" height="8.4" fill="#969696"/>
<rect x="552.1" y="28.8" width="16.4" height="8.4" fill="#969696"/>
<rect x="456.1" y="36.8" width="16.4" height="8.4" fill="#a5a5a5"/>
<rect x="472.1" y="36.8" width="8.4" height="8.4" fill="#828282"/>
<rect x="480.1" y="36.8" width="8.4" height="8.4" fill="#6e6e6e"/>
<rect x="488.1" y="36.8" width="8.4" height="8.4" fill="#505050"/>
<rect x="496.1" y="36.8" width="8.4" height="8.4" fill="#646464"/>
<rect x="504.1" y="36.8" width="8.4" height="8.4" fill="#787878"/>
<rect x="512.1" y="36.8" width="8.4" height="8.4" fill="#787878"/>
<rect x="520.1" y="36.8" width="8.4" height="8.4" fill="#aaaaaa"/>
<rect x="528.1" y="36.8" width="8.4" height="8.4" fill="#9b9b9b"/>
<rect x="536.1" y="36.8" width="8.4" height="8.4" fill="#8c8c8c"/>
<rect x="544.1" y="36.8" width="8.4" height="8.4" fill="#8c8c8c"/>
<rect x="552.1" y="36.8" width="16.4" height="8.4" fill="#8c8c8c"/>
<rect x="456.1" y="44.8" width="16.4" height="8.4" fill="#a0a0a0"/>
<rect x="472.1" y="44.8" width="8.4" height="8.4" fill="#8c8c8c"/>
<rect x="480.1" y="44.8" width="8.4" height="8.4" fill="#646464"/>
<rect x="488.1" y="44.8" width="8.4" height="8.4" fill="#323232"/>
<rect x="496.1" y="44.8" width="8.4" height="8.4" fill="#505050"/>
<rect x="504.1" y="44.8" width="8.4" height="8.4" fill="#828282"/>
<rect x="512.1" y="44.8" width="8.4" height="8.4" fill="#969696"/>
<rect x="520.1" y="44.8" width="8.4" height="8.4" fill="#a5a5a5"/>
<rect x="528.1" y="44.8" width="8.4" height="8.4" fill="#919191"/>
<rect x="536.1" y="44.8" width="8.4" height="8.4" fill="#828282"/>
<rect x="544.1" y="44.8" width="8.4" height="8.4" fill="#828282"/>
<rect x="552.1" y="44.8" width="16.4" height="8.4" fill="#828282"/>
<rect x="456.1" y="52.8" width="16.4" height="8.4" fill="#969696"/>
<rect x="472.1" y="52.8" width="8.4" height="8.4" fill="#969696"/>
<rect x="480.1" y="52.8" width="8.4" height="8.4" fill="#828282"/>
<rect x="488.1" y="52.8" width="8.4" height="8.4" fill="#6e6e6e"/>
<rect x="496.1" y="52.8" width="8.4" height="8.4" fill="#8c8c8c"/>
<rect x="504.1" y="52.8" width="8.4" height="8.4" fill="#a0a0a0"/>
<rect x="512.1" y="52.8" width="8.4" height="8.4" fill="#a5a5a5"/>
<rect x="520.1" y="52.8" width="8.4" height="8.4" fill="#969696"/>
<rect x="528.1" y="52.8" width="8.4" height="8.4" fill="#878787"/>
<rect x="536.1" y="52.8" width="8.4" height="8.4" fill="#7d7d7d"/>
<rect x="544.1" y="52.8" width="8.4" height="8.4" fill="#7d7d7d"/>
<rect x="552.1" y="52.8" width="16.4" height="8.4" fill="#7d7d7d"/>
<rect x="456.1" y="60.8" width="16.4" height="8.4" fill="#8c8c8c"/>
<rect x="472.1" y="60.8" width="8.4" height="8.4" fill="#878787"/>
<rect x="480.1" y="60.8" width="8.4" height="8.4" fill="#969696"/>
<rect x="488.1" y="60.8" width="8.4" height="8.4" fill="#a0a0a0"/>
<rect x="496.1" y="60.8" width="8.4" height="8.4" fill="#a0a0a0"/>
<rect x="504.1" y="60.8" width="8.4" height="8.4" fill="#a5a5a5"/>
<rect x="512.1" y="60.8" width="8.4" height="8.4" fill="#9b9b9b"/>
<rect x="520.1" y="60.8" width="8.4" height="8.4" fill="#878787"/>
<rect x="528.1" y="60.8" width="8.4" height="8.4" fill="#7d7d7d"/>
<rect x="536.1" y="60.8" width="8.4" height="8.4" fill="#787878"/>
<rect x="544.1" y="60.8" width="8.4" height="8.4" fill="#787878"/>
<rect x="552.1" y="60.8" width="16.4" height="8.4" fill="#787878"/>
<rect x="456.1" y="68.8" width="16.4" height="8.4" fill="#828282"/>
<rect x="472.1" y="68.8" width="8.4" height="8.4" fill="#787878"/>
<rect x="480.1" y="68.8" width="8.4" height="8.4" fill="#7d7d7d"/>
<rect x="488.1" y="68.8" width="8.4" height="8.4" fill="#8c8c8c"/>
<rect x="496.1" y="68.8" width="8.4" height="8.4" fill="#9b9b9b"/>
<rect x="504.1" y="68.8" width="8.4" height="8.4" fill="#a0a0a0"/>
<rect x="512.1" y="68.8" width="8.4" height="8.4" fill="#969696"/>
<rect x="520.1" y="68.8" width="8.4" height="8.4" fill="#828282"/>
<rect x="528.1" y="68.8" width="8.4" height="8.4" fill="#787878"/>
<rect x="536.1" y="68.8" width="8.4" height="8.4" fill="#737373"/>
<rect x="544.1" y="68.8" width="8.4" height="8.4" fill="#737373"/>
<rect x="552.1" y="68.8" width="16.4" height="8.4" fill="#787878"/>
<rect x="456.1" y="76.8" width="16.4" height="8.4" fill="#8c8c8c"/>
<rect x="472.1" y="76.8" width="8.4" height="8.4" fill="#878787"/>
<rect x="480.1" y="76.8" width="8.4" height="8.4" fill="#8c8c8c"/>
<rect x="488.1" y="76.8" width="8.4" height="8.4" fill="#969696"/>
<rect x="496.1" y="76.8" width="8.4" height="8.4" fill="#969696"/>
<rect x="504.1" y="76.8" width="8.4" height="8.4" fill="#969696"/>
<rect x="512.1" y="76.8" width="8.4" height="8.4" fill="#8c8c8c"/>
<rect x="520.1" y="76.8" width="8.4" height="8.4" fill="#7d7d7d"/>
<rect x="528.1" y="76.8" width="8.4" height="8.4" fill="#737373"/>
<rect x="536.1" y="76.8" width="8.4" height="8.4" fill="#737373"/>
<rect x="544.1" y="76.8" width="8.4" height="8.4" fill="#737373"/>
<rect x="552.1" y="76.8" width="16.4" height="8.4" fill="#787878"/>
<rect x="456.1" y="84.8" width="16.4" height="8.4" fill="#969696"/>
<rect x="472.1" y="84.8" width="8.4" height="8.4" fill="#919191"/>
<rect x="480.1" y="84.8" width="8.4" height="8.4" fill="#919191"/>
<rect x="488.1" y="84.8" width="8.4" height="8.4" fill="#969696"/>
<rect x="496.1" y="84.8" width="8.4" height="8.4" fill="#919191"/>
<rect x="504.1" y="84.8" width="8.4" height="8.4" fill="#8c8c8c"/>
<rect x="512.1" y="84.8" width="8.4" height="8.4" fill="#828282"/>
<rect x="520.1" y="84.8" width="8.4" height="8.4" fill="#787878"/>
<rect x="528.1" y="84.8" width="8.4" height="8.4" fill="#737373"/>
<rect x="536.1" y="84.8" width="8.4" height="8.4" fill="#737373"/>
<rect x="544.1" y="84.8" width="8.4" height="8.4" fill="#737373"/>
<rect x="552.1" y="84.8" width="16.4" height="8.4" fill="#787878"/>
<rect x="456.1" y="92.8" width="16.4" height="8.4" fill="#9b9b9b"/>
<rect x="472.1" y="92.8" width="8.4" height="8.4" fill="#969696"/>
<rect x="480.1" y="92.8" width="8.4" height="8.4" fill="#969696"/>
<rect x="488.1" y="92.8" width="8.4" height="8.4" fill="#919191"/>
<rect x="496.1" y="92.8" width="8.4" height="8.4" fill="#8c8c8c"/>
<rect x="504.1" y="92.8" width="8.4" height="8.4" fill="#878787"/>
<rect x="512.1" y="92.8" width="8.4" height="8.4" fill="#828282"/>
<rect x="520.1" y="92.8" width="8.4" height="8.4" fill="#787878"/>
<rect x="528.1" y="92.8" width="8.4" height="8.4" fill="#737373"/>
<rect x="536.1" y="92.8" width="8.4" height="8.4" fill="#737373"/>
<rect x="544.1" y="92.8" width="8.4" height="8.4" fill="#787878"/>
<rect x="552.1" y="92.8" width="16.4" height="8.4" fill="#7d7d7d"/>
<rect x="456.1" y="100.8" width="16.4" height="16.4" fill="#a0a0a0"/>
<rect x="472.1" y="100.8" width="8.4" height="16.4" fill="#9b9b9b"/>
<rect x="480.1" y="100.8" width="8.4" height="16.4" fill="#969696"/>
<rect x="488.1" y="100.8" width="8.4" height="16.4" fill="#969696"/>
<rect x="496.1" y="100.8" width="8.4" height="16.4" fill="#919191"/>
<rect x="504.1" y="100.8" width="8.4" height="16.4" fill="#8c8c8c"/>
<rect x="512.1" y="100.8" width="8.4" height="16.4" fill="#878787"/>
<rect x="520.1" y="100.8" width="8.4" height="16.4" fill="#7d7d7d"/>
<rect x="528.1" y="100.8" width="8.4" height="16.4" fill="#787878"/>
<rect x="536.1" y="100.8" width="8.4" height="16.4" fill="#787878"/>
<rect x="544.1" y="100.8" width="8.4" height="16.4" fill="#7d7d7d"/>
<rect x="552.1" y="100.8" width="16.4" height="16.4" fill="#828282"/>
</g>
<g filter="url(#bl0p6)"><rect x="480.4" y="27.8" width="1.9" height="31.5" fill="#000" fill-opacity="0.02"/><rect x="538.8" y="52.0" width="1.5" height="21.7" fill="#000" fill-opacity="0.06"/><rect x="504.0" y="54.0" width="1.6" height="70.0" fill="#fff" fill-opacity="0.03"/><rect x="535.4" y="44.8" width="1.3" height="48.4" fill="#fff" fill-opacity="0.05"/><rect x="531.6" y="64.5" width="1.9" height="28.1" fill="#fff" fill-opacity="0.02"/><rect x="485.2" y="40.0" width="0.9" height="45.8" fill="#fff" fill-opacity="0.02"/><rect x="545.0" y="51.6" width="1.4" height="48.7" fill="#000" fill-opacity="0.06"/><rect x="534.3" y="36.8" width="1.4" height="28.5" fill="#000" fill-opacity="0.05"/><rect x="547.9" y="54.4" width="1.5" height="66.3" fill="#fff" fill-opacity="0.03"/><rect x="551.9" y="36.7" width="1.5" height="72.5" fill="#fff" fill-opacity="0.04"/><rect x="484.8" y="57.1" width="1.0" height="27.2" fill="#fff" fill-opacity="0.03"/><rect x="526.6" y="71.9" width="1.2" height="59.9" fill="#000" fill-opacity="0.05"/><rect x="532.4" y="52.7" width="2.0" height="75.6" fill="#000" fill-opacity="0.04"/><rect x="517.8" y="5.8" width="1.2" height="56.5" fill="#fff" fill-opacity="0.02"/><rect x="514.2" y="57.0" width="1.0" height="37.2" fill="#000" fill-opacity="0.04"/><rect x="527.4" y="31.6" width="1.9" height="73.7" fill="#fff" fill-opacity="0.05"/><rect x="479.4" y="59.0" width="1.5" height="27.0" fill="#fff" fill-opacity="0.03"/><rect x="492.4" y="27.6" width="0.9" height="44.1" fill="#000" fill-opacity="0.03"/><rect x="544.0" y="36.5" width="2.0" height="40.3" fill="#000" fill-opacity="0.02"/><rect x="475.1" y="3.4" width="0.9" height="61.1" fill="#000" fill-opacity="0.06"/><rect x="476.8" y="31.0" width="1.6" height="34.4" fill="#fff" fill-opacity="0.03"/><rect x="467.4" y="12.9" width="1.6" height="58.1" fill="#000" fill-opacity="0.04"/><rect x="507.9" y="35.2" width="1.0" height="40.6" fill="#000" fill-opacity="0.03"/><rect x="541.9" y="15.5" width="1.6" height="31.9" fill="#fff" fill-opacity="0.02"/><rect x="531.5" y="39.6" width="1.0" height="76.1" fill="#000" fill-opacity="0.05"/><rect x="525.5" y="64.8" width="1.3" height="39.4" fill="#fff" fill-opacity="0.06"/><rect x="467.8" y="40.6" width="1.9" height="42.1" fill="#fff" fill-opacity="0.02"/><rect x="522.4" y="47.9" width="1.2" height="64.8" fill="#fff" fill-opacity="0.03"/><rect x="488.2" y="48.9" width="0.9" height="40.6" fill="#000" fill-opacity="0.03"/><rect x="532.6" y="44.4" width="0.8" height="49.3" fill="#000" fill-opacity="0.06"/><rect x="465.8" y="15.6" width="1.8" height="35.5" fill="#fff" fill-opacity="0.02"/><rect x="498.5" y="35.2" width="1.1" height="20.0" fill="#fff" fill-opacity="0.06"/><rect x="554.8" y="65.7" width="0.9" height="50.9" fill="#000" fill-opacity="0.02"/><rect x="548.1" y="55.6" width="1.0" height="63.0" fill="#000" fill-opacity="0.06"/><rect x="535.2" y="52.9" width="1.6" height="76.6" fill="#000" fill-opacity="0.04"/><rect x="534.2" y="39.6" width="1.3" height="57.0" fill="#fff" fill-opacity="0.03"/><rect x="552.8" y="54.1" width="1.6" height="50.0" fill="#000" fill-opacity="0.02"/><rect x="514.4" y="11.8" width="1.3" height="66.1" fill="#000" fill-opacity="0.04"/><rect x="539.9" y="57.3" width="1.6" height="55.7" fill="#000" fill-opacity="0.05"/><rect x="529.3" y="3.2" width="0.8" height="52.5" fill="#000" fill-opacity="0.06"/><rect x="548.6" y="31.0" width="0.9" height="78.2" fill="#fff" fill-opacity="0.06"/><rect x="532.7" y="67.6" width="1.0" height="20.2" fill="#000" fill-opacity="0.04"/><rect x="528.2" y="15.6" width="1.9" height="37.1" fill="#000" fill-opacity="0.05"/><rect x="484.0" y="49.2" width="1.1" height="35.1" fill="#000" fill-opacity="0.05"/><rect x="533.9" y="68.4" width="1.5" height="36.2" fill="#000" fill-opacity="0.05"/></g>
<rect x="555.97" y="13.00" width="3.36" height="96.0" fill="#d7d7d7" filter="url(#bl1)"/>
<g transform="translate(464.29,13.00)"><path d="M62 0C60 15 57 35 54 60" stroke="#d0d0d0" stroke-opacity="0.5" stroke-width="6" fill="none" filter="url(#bl3)"/><path d="M13.0 30.0C14.0 27.7 17.7 25.7 20.0 24.0C22.3 22.3 25.7 22.3 27.0 20.0C28.3 17.7 26.8 12.2 28.0 10.0C29.2 7.8 32.0 7.2 34.0 7.0C36.0 6.8 38.3 7.8 40.0 9.0C41.7 10.2 42.7 13.3 44.0 14.0C45.3 14.7 46.0 13.0 48.0 13.0C50.0 13.0 54.2 12.8 56.0 14.0C57.8 15.2 58.7 17.7 59.0 20.0C59.3 22.3 59.8 26.2 58.0 28.0C56.2 29.8 50.5 29.0 48.0 31.0C45.5 33.0 44.3 37.7 43.0 40.0C41.7 42.3 42.2 44.0 40.0 45.0C37.8 46.0 33.0 46.3 30.0 46.0C27.0 45.7 24.7 44.3 22.0 43.0C19.3 41.7 15.5 40.2 14.0 38.0C12.5 35.8 12.0 32.3 13.0 30.0Z" fill="#464646" fill-opacity="0.85" filter="url(#bl4)"/><path d="M26.0 28.0C27.2 26.3 30.0 25.2 32.0 25.0C34.0 24.8 36.7 25.7 38.0 27.0C39.3 28.3 39.8 30.8 40.0 33.0C40.2 35.2 40.0 38.3 39.0 40.0C38.0 41.7 35.8 42.8 34.0 43.0C32.2 43.2 29.5 42.3 28.0 41.0C26.5 39.7 25.3 37.2 25.0 35.0C24.7 32.8 24.8 29.7 26.0 28.0Z" fill="#191919" fill-opacity="0.92" filter="url(#bl3p5)"/></g>
</g>
<rect x="464.29" y="13.00" width="96.0" height="96.0" fill="none" stroke="#222" stroke-width="0.9"/>
<path d="M472.29 109.00v-1.8M472.29 13.00v1.8" stroke="#222" stroke-width="0.7"/>
<path d="M488.29 109.00v-1.8M488.29 13.00v1.8" stroke="#222" stroke-width="0.7"/>
<path d="M504.29 109.00v-1.8M504.29 13.00v1.8" stroke="#222" stroke-width="0.7"/>
<path d="M520.29 109.00v-1.8M520.29 13.00v1.8" stroke="#222" stroke-width="0.7"/>
<path d="M536.29 109.00v-1.8M536.29 13.00v1.8" stroke="#222" stroke-width="0.7"/>
<path d="M552.29 109.00v-1.8M552.29 13.00v1.8" stroke="#222" stroke-width="0.7"/>
<path d="M464.29 101.50h1.8M560.29 101.50h-1.8" stroke="#222" stroke-width="0.7"/>
<path d="M464.29 85.50h1.8M560.29 85.50h-1.8" stroke="#222" stroke-width="0.7"/>
<path d="M464.29 69.50h1.8M560.29 69.50h-1.8" stroke="#222" stroke-width="0.7"/>
<path d="M464.29 53.50h1.8M560.29 53.50h-1.8" stroke="#222" stroke-width="0.7"/>
<path d="M464.29 37.50h1.8M560.29 37.50h-1.8" stroke="#222" stroke-width="0.7"/>
<path d="M464.29 21.50h1.8M560.29 21.50h-1.8" stroke="#222" stroke-width="0.7"/>
<path d="M465.89 109.00v-1M465.89 13.00v1M469.09 109.00v-1M469.09 13.00v1M475.49 109.00v-1M475.49 13.00v1M478.69 109.00v-1M478.69 13.00v1M481.89 109.00v-1M481.89 13.00v1M485.09 109.00v-1M485.09 13.00v1M491.49 109.00v-1M491.49 13.00v1M494.69 109.00v-1M494.69 13.00v1M497.89 109.00v-1M497.89 13.00v1M501.09 109.00v-1M501.09 13.00v1M507.49 109.00v-1M507.49 13.00v1M510.69 109.00v-1M510.69 13.00v1M513.89 109.00v-1M513.89 13.00v1M517.09 109.00v-1M517.09 13.00v1M523.49 109.00v-1M523.49 13.00v1M526.69 109.00v-1M526.69 13.00v1M529.89 109.00v-1M529.89 13.00v1M533.09 109.00v-1M533.09 13.00v1M539.49 109.00v-1M539.49 13.00v1M542.69 109.00v-1M542.69 13.00v1M545.89 109.00v-1M545.89 13.00v1M549.09 109.00v-1M549.09 13.00v1M555.49 109.00v-1M555.49 13.00v1M558.69 109.00v-1M558.69 13.00v1M464.29 107.90h1M560.29 107.90h-1M464.29 104.70h1M560.29 104.70h-1M464.29 98.30h1M560.29 98.30h-1M464.29 95.10h1M560.29 95.10h-1M464.29 91.90h1M560.29 91.90h-1M464.29 88.70h1M560.29 88.70h-1M464.29 82.30h1M560.29 82.30h-1M464.29 79.10h1M560.29 79.10h-1M464.29 75.90h1M560.29 75.90h-1M464.29 72.70h1M560.29 72.70h-1M464.29 66.30h1M560.29 66.30h-1M464.29 63.10h1M560.29 63.10h-1M464.29 59.90h1M560.29 59.90h-1M464.29 56.70h1M560.29 56.70h-1M464.29 50.30h1M560.29 50.30h-1M464.29 47.10h1M560.29 47.10h-1M464.29 43.90h1M560.29 43.90h-1M464.29 40.70h1M560.29 40.70h-1M464.29 34.30h1M560.29 34.30h-1M464.29 31.10h1M560.29 31.10h-1M464.29 27.90h1M560.29 27.90h-1M464.29 24.70h1M560.29 24.70h-1M464.29 18.30h1M560.29 18.30h-1M464.29 15.10h1M560.29 15.10h-1" stroke="#333" stroke-width="0.6"/>
<text transform="translate(512.68,7.70)" text-anchor="middle" font-size="10.8" fill="#111" stroke="#111" stroke-width="0.2" letter-spacing="0.78">EIS Fe XIV 274.2</text>
<text transform="translate(462.24,105.30)" text-anchor="end" font-size="9.6" fill="#111" stroke="#111" stroke-width="0.2" letter-spacing="0.55">30</text>
<text transform="translate(462.24,89.30)" text-anchor="end" font-size="9.6" fill="#111" stroke="#111" stroke-width="0.2" letter-spacing="0.55">40</text>
<text transform="translate(462.24,73.30)" text-anchor="end" font-size="9.6" fill="#111" stroke="#111" stroke-width="0.2" letter-spacing="0.55">50</text>
<text transform="translate(462.24,57.30)" text-anchor="end" font-size="9.6" fill="#111" stroke="#111" stroke-width="0.2" letter-spacing="0.55">60</text>
<text transform="translate(462.24,41.30)" text-anchor="end" font-size="9.6" fill="#111" stroke="#111" stroke-width="0.2" letter-spacing="0.55">70</text>
<text transform="translate(462.24,25.30)" text-anchor="end" font-size="9.6" fill="#111" stroke="#111" stroke-width="0.2" letter-spacing="0.55">80</text>
<text transform="translate(472.56,122.50)" text-anchor="middle" font-size="9.6" fill="#111" stroke="#111" stroke-width="0.2" letter-spacing="0.55">40</text>
<text transform="translate(488.56,122.50)" text-anchor="middle" font-size="9.6" fill="#111" stroke="#111" stroke-width="0.2" letter-spacing="0.55">50</text>
<text transform="translate(504.56,122.50)" text-anchor="middle" font-size="9.6" fill="#111" stroke="#111" stroke-width="0.2" letter-spacing="0.55">60</text>
<text transform="translate(520.56,122.50)" text-anchor="middle" font-size="9.6" fill="#111" stroke="#111" stroke-width="0.2" letter-spacing="0.55">70</text>
<text transform="translate(536.56,122.50)" text-anchor="middle" font-size="9.6" fill="#111" stroke="#111" stroke-width="0.2" letter-spacing="0.55">80</text>
<text transform="translate(552.56,122.50)" text-anchor="middle" font-size="9.6" fill="#111" stroke="#111" stroke-width="0.2" letter-spacing="0.55">90</text>
<text transform="translate(512.49,133.20)" text-anchor="middle" font-size="9.4" fill="#111" stroke="#111" stroke-width="0.2" letter-spacing="0.4">X (arcsecs)</text>
<defs><linearGradient id="cb03" x1="0" y1="0" x2="0" y2="1"><stop offset="0" stop-color="#000"/><stop offset="1" stop-color="#fff"/></linearGradient></defs>
<rect x="563.99" y="27.60" width="3.6" height="81.90" fill="url(#cb03)" stroke="#333" stroke-width="0.5"/>
<path d="M567.59 27.60h1.8" stroke="#222" stroke-width="0.6"/>
<text transform="translate(572.59,31.00)" font-size="9.6" fill="#111" stroke="#111" stroke-width="0.2" letter-spacing="0.55">4.0</text>
<path d="M567.59 48.08h1.8" stroke="#222" stroke-width="0.6"/>
<text transform="translate(572.59,51.48)" font-size="9.6" fill="#111" stroke="#111" stroke-width="0.2" letter-spacing="0.55">3.5</text>
<path d="M567.59 68.55h1.8" stroke="#222" stroke-width="0.6"/>
<text transform="translate(572.59,71.95)" font-size="9.6" fill="#111" stroke="#111" stroke-width="0.2" letter-spacing="0.55">3.0</text>
<path d="M567.59 89.03h1.8" stroke="#222" stroke-width="0.6"/>
<text transform="translate(572.59,92.43)" font-size="9.6" fill="#111" stroke="#111" stroke-width="0.2" letter-spacing="0.55">2.5</text>
<path d="M567.59 109.50h1.8" stroke="#222" stroke-width="0.6"/>
<text transform="translate(572.59,112.90)" font-size="9.6" fill="#111" stroke="#111" stroke-width="0.2" letter-spacing="0.55">2.0</text>
<text transform="translate(562.79,18.60)" font-size="9.4" fill="#111" stroke="#111" stroke-width="0.2" letter-spacing="0.5">log N<tspan font-size="5.8" dy="3" letter-spacing="0.1">ph</tspan></text>
<clipPath id="cp10"><rect x="29.50" y="158.30" width="96.0" height="96.0"/></clipPath>
<g clip-path="url(#cp10)"><g filter="url(#bl3)">
<rect x="21.3" y="150.1" width="16.4" height="16.4" fill="#b4b4b4"/>
<rect x="37.3" y="150.1" width="8.4" height="16.4" fill="#b9b9b9"/>
<rect x="45.3" y="150.1" width="8.4" height="16.4" fill="#bebebe"/>
<rect x="53.3" y="150.1" width="8.4" height="16.4" fill="#b9b9b9"/>
<rect x="61.3" y="150.1" width="8.4" height="16.4" fill="#afafaf"/>
<rect x="69.3" y="150.1" width="8.4" height="16.4" fill="#b4b4b4"/>
<rect x="77.3" y="150.1" width="8.4" height="16.4" fill="#bebebe"/>
<rect x="85.3" y="150.1" width="8.4" height="16.4" fill="#d7d7d7"/>
<rect x="93.3" y="150.1" width="8.4" height="16.4" fill="#bebebe"/>
<rect x="101.3" y="150.1" width="8.4" height="16.4" fill="#afafaf"/>
<rect x="109.3" y="150.1" width="8.4" height="16.4" fill="#aaaaaa"/>
<rect x="117.3" y="150.1" width="16.4" height="16.4" fill="#aaaaaa"/>
<rect x="21.3" y="166.1" width="16.4" height="8.4" fill="#afafaf"/>
<rect x="37.3" y="166.1" width="8.4" height="8.4" fill="#b4b4b4"/>
<rect x="45.3" y="166.1" width="8.4" height="8.4" fill="#b4b4b4"/>
<rect x="53.3" y="166.1" width="8.4" height="8.4" fill="#969696"/>
<rect x="61.3" y="166.1" width="8.4" height="8.4" fill="#828282"/>
<rect x="69.3" y="166.1" width="8.4" height="8.4" fill="#8c8c8c"/>
<rect x="77.3" y="166.1" width="8.4" height="8.4" fill="#a0a0a0"/>
<rect x="85.3" y="166.1" width="8.4" height="8.4" fill="#e1e1e1"/>
<rect x="93.3" y="166.1" width="8.4" height="8.4" fill="#b4b4b4"/>
<rect x="101.3" y="166.1" width="8.4" height="8.4" fill="#a0a0a0"/>
<rect x="109.3" y="166.1" width="8.4" height="8.4" fill="#9b9b9b"/>
<rect x="117.3" y="166.1" width="16.4" height="8.4" fill="#9b9b9b"/>
<rect x="21.3" y="174.1" width="16.4" height="8.4" fill="#aaaaaa"/>
<rect x="37.3" y="174.1" width="8.4" height="8.4" fill="#afafaf"/>
<rect x="45.3" y="174.1" width="8.4" height="8.4" fill="#a0a0a0"/>
<rect x="53.3" y="174.1" width="8.4" height="8.4" fill="#787878"/>
<rect x="61.3" y="174.1" width="8.4" height="8.4" fill="#646464"/>
<rect x="69.3" y="174.1" width="8.4" height="8.4" fill="#6e6e6e"/>
<rect x="77.3" y="174.1" width="8.4" height="8.4" fill="#6e6e6e"/>
<rect x="85.3" y="174.1" width="8.4" height="8.4" fill="#c8c8c8"/>
<rect x="93.3" y="174.1" width="8.4" height="8.4" fill="#a5a5a5"/>
<rect x="101.3" y="174.1" width="8.4" height="8.4" fill="#969696"/>
<rect x="109.3" y="174.1" width="8.4" height="8.4" fill="#919191"/>
<rect x="117.3" y="174.1" width="16.4" height="8.4" fill="#919191"/>
<rect x="21.3" y="182.1" width="16.4" height="8.4" fill="#a5a5a5"/>
<rect x="37.3" y="182.1" width="8.4" height="8.4" fill="#828282"/>
<rect x="45.3" y="182.1" width="8.4" height="8.4" fill="#646464"/>
<rect x="53.3" y="182.1" width="8.4" height="8.4" fill="#464646"/>
<rect x="61.3" y="182.1" width="8.4" height="8.4" fill="#464646"/>
<rect x="69.3" y="182.1" width="8.4" height="8.4" fill="#5a5a5a"/>
<rect x="77.3" y="182.1" width="8.4" height="8.4" fill="#6e6e6e"/>
<rect x="85.3" y="182.1" width="8.4" height="8.4" fill="#afafaf"/>
<rect x="93.3" y="182.1" width="8.4" height="8.4" fill="#969696"/>
<rect x="101.3" y="182.1" width="8.4" height="8.4" fill="#8c8c8c"/>
<rect x="109.3" y="182.1" width="8.4" height="8.4" fill="#8c8c8c"/>
<rect x="117.3" y="182.1" width="16.4" height="8.4" fill="#8c8c8c"/>
<rect x="21.3" y="190.1" width="16.4" height="8.4" fill="#a0a0a0"/>
<rect x="37.3" y="190.1" width="8.4" height="8.4" fill="#8c8c8c"/>
<rect x="45.3" y="190.1" width="8.4" height="8.4" fill="#5a5a5a"/>
<rect x="53.3" y="190.1" width="8.4" height="8.4" fill="#282828"/>
<rect x="61.3" y="190.1" width="8.4" height="8.4" fill="#323232"/>
<rect x="69.3" y="190.1" width="8.4" height="8.4" fill="#5a5a5a"/>
<rect x="77.3" y="190.1" width="8.4" height="8.4" fill="#828282"/>
<rect x="85.3" y="190.1" width="8.4" height="8.4" fill="#969696"/>
<rect x="93.3" y="190.1" width="8.4" height="8.4" fill="#8c8c8c"/>
<rect x="101.3" y="190.1" width="8.4" height="8.4" fill="#878787"/>
<rect x="109.3" y="190.1" width="8.4" height="8.4" fill="#878787"/>
<rect x="117.3" y="190.1" width="16.4" height="8.4" fill="#878787"/>
<rect x="21.3" y="198.1" width="16.4" height="8.4" fill="#969696"/>
<rect x="37.3" y="198.1" width="8.4" height="8.4" fill="#969696"/>
<rect x="45.3" y="198.1" width="8.4" height="8.4" fill="#828282"/>
<rect x="53.3" y="198.1" width="8.4" height="8.4" fill="#505050"/>
<rect x="61.3" y="198.1" width="8.4" height="8.4" fill="#505050"/>
<rect x="69.3" y="198.1" width="8.4" height="8.4" fill="#787878"/>
<rect x="77.3" y="198.1" width="8.4" height="8.4" fill="#8c8c8c"/>
<rect x="85.3" y="198.1" width="8.4" height="8.4" fill="#8c8c8c"/>
<rect x="93.3" y="198.1" width="8.4" height="8.4" fill="#878787"/>
<rect x="101.3" y="198.1" width="8.4" height="8.4" fill="#828282"/>
<rect x="109.3" y="198.1" width="8.4" height="8.4" fill="#828282"/>
<rect x="117.3" y="198.1" width="16.4" height="8.4" fill="#828282"/>
<rect x="21.3" y="206.1" width="16.4" height="8.4" fill="#919191"/>
<rect x="37.3" y="206.1" width="8.4" height="8.4" fill="#8c8c8c"/>
<rect x="45.3" y="206.1" width="8.4" height="8.4" fill="#8c8c8c"/>
<rect x="53.3" y="206.1" width="8.4" height="8.4" fill="#8c8c8c"/>
<rect x="61.3" y="206.1" width="8.4" height="8.4" fill="#919191"/>
<rect x="69.3" y="206.1" width="8.4" height="8.4" fill="#919191"/>
<rect x="77.3" y="206.1" width="8.4" height="8.4" fill="#878787"/>
<rect x="85.3" y="206.1" width="8.4" height="8.4" fill="#878787"/>
<rect x="93.3" y="206.1" width="8.4" height="8.4" fill="#828282"/>
<rect x="101.3" y="206.1" width="8.4" height="8.4" fill="#828282"/>
<rect x="109.3" y="206.1" width="8.4" height="8.4" fill="#828282"/>
<rect x="117.3" y="206.1" width="16.4" height="8.4" fill="#828282"/>
<rect x="21.3" y="214.1" width="16.4" height="8.4" fill="#8c8c8c"/>
<rect x="37.3" y="214.1" width="8.4" height="8.4" fill="#7d7d7d"/>
<rect x="45.3" y="214.1" width="8.4" height="8.4" fill="#787878"/>
<rect x="53.3" y="214.1" width="8.4" height="8.4" fill="#7d7d7d"/>
<rect x="61.3" y="214.1" width="8.4" height="8.4" fill="#878787"/>
<rect x="69.3" y="214.1" width="8.4" height="8.4" fill="#8c8c8c"/>
<rect x="77.3" y="214.1" width="8.4" height="8.4" fill="#878787"/>
<rect x="85.3" y="214.1" width="8.4" height="8.4" fill="#828282"/>
<rect x="93.3" y="214.1" width="8.4" height="8.4" fill="#828282"/>
<rect x="101.3" y="214.1" width="8.4" height="8.4" fill="#828282"/>
<rect x="109.3" y="214.1" width="8.4" height="8.4" fill="#828282"/>
<rect x="117.3" y="214.1" width="16.4" height="8.4" fill="#828282"/>
<rect x="21.3" y="222.1" width="16.4" height="8.4" fill="#919191"/>
<rect x="37.3" y="222.1" width="8.4" height="8.4" fill="#878787"/>
<rect x="45.3" y="222.1" width="8.4" height="8.4" fill="#878787"/>
<rect x="53.3" y="222.1" width="8.4" height="8.4" fill="#878787"/>
<rect x="61.3" y="222.1" width="8.4" height="8.4" fill="#8c8c8c"/>
<rect x="69.3" y="222.1" width="8.4" height="8.4" fill="#8c8c8c"/>
<rect x="77.3" y="222.1" width="8.4" height="8.4" fill="#878787"/>
<rect x="85.3" y="222.1" width="8.4" height="8.4" fill="#828282"/>
<rect x="93.3" y="222.1" width="8.4" height="8.4" fill="#828282"/>
<rect x="101.3" y="222.1" width="8.4" height="8.4" fill="#828282"/>
<rect x="109.3" y="222.1" width="8.4" height="8.4" fill="#828282"/>
<rect x="117.3" y="222.1" width="16.4" height="8.4" fill="#828282"/>
<rect x="21.3" y="230.1" width="16.4" height="8.4" fill="#969696"/>
<rect x="37.3" y="230.1" width="8.4" height="8.4" fill="#8c8c8c"/>
<rect x="45.3" y="230.1" width="8.4" height="8.4" fill="#8c8c8c"/>
<rect x="53.3" y="230.1" width="8.4" height="8.4" fill="#8c8c8c"/>
<rect x="61.3" y="230.1" width="8.4" height="8.4" fill="#8c8c8c"/>
<rect x="69.3" y="230.1" width="8.4" height="8.4" fill="#878787"/>
<rect x="77.3" y="230.1" width="8.4" height="8.4" fill="#828282"/>
<rect x="85.3" y="230.1" width="8.4" height="8.4" fill="#828282"/>
<rect x="93.3" y="230.1" width="8.4" height="8.4" fill="#828282"/>
<rect x="101.3" y="230.1" width="8.4" height="8.4" fill="#828282"/>
<rect x="109.3" y="230.1" width="8.4" height="8.4" fill="#828282"/>
<rect x="117.3" y="230.1" width="16.4" height="8.4" fill="#878787"/>
<rect x="21.3" y="238.1" width="16.4" height="8.4" fill="#9b9b9b"/>
<rect x="37.3" y="238.1" width="8.4" height="8.4" fill="#969696"/>
<rect x="45.3" y="238.1" width="8.4" height="8.4" fill="#919191"/>
<rect x="53.3" y="238.1" width="8.4" height="8.4" fill="#919191"/>
<rect x="61.3" y="238.1" width="8.4" height="8.4" fill="#8c8c8c"/>
<rect x="69.3" y="238.1" width="8.4" height="8.4" fill="#878787"/>
<rect x="77.3" y="238.1" width="8.4" height="8.4" fill="#828282"/>
<rect x="85.3" y="238.1" width="8.4" height="8.4" fill="#828282"/>
<rect x="93.3" y="238.1" width="8.4" height="8.4" fill="#828282"/>
<rect x="101.3" y="238.1" width="8.4" height="8.4" fill="#828282"/>
<rect x="109.3" y="238.1" width="8.4" height="8.4" fill="#828282"/>
<rect x="117.3" y="238.1" width="16.4" height="8.4" fill="#878787"/>
<rect x="21.3" y="246.1" width="16.4" height="16.4" fill="#a0a0a0"/>
<rect x="37.3" y="246.1" width="8.4" height="16.4" fill="#9b9b9b"/>
<rect x="45.3" y="246.1" width="8.4" height="16.4" fill="#969696"/>
<rect x="53.3" y="246.1" width="8.4" height="16.4" fill="#969696"/>
<rect x="61.3" y="246.1" width="8.4" height="16.4" fill="#919191"/>
<rect x="69.3" y="246.1" width="8.4" height="16.4" fill="#8c8c8c"/>
<rect x="77.3" y="246.1" width="8.4" height="16.4" fill="#878787"/>
<rect x="85.3" y="246.1" width="8.4" height="16.4" fill="#878787"/>
<rect x="93.3" y="246.1" width="8.4" height="16.4" fill="#878787"/>
<rect x="101.3" y="246.1" width="8.4" height="16.4" fill="#878787"/>
<rect x="109.3" y="246.1" width="8.4" height="16.4" fill="#878787"/>
<rect x="117.3" y="246.1" width="16.4" height="16.4" fill="#8c8c8c"/>
</g>
<g filter="url(#bl0p6)"><rect x="94.2" y="186.9" width="1.7" height="65.8" fill="#000" fill-opacity="0.03"/><rect x="110.8" y="211.3" width="1.0" height="58.1" fill="#fff" fill-opacity="0.05"/><rect x="112.2" y="217.0" width="1.8" height="45.1" fill="#000" fill-opacity="0.04"/><rect x="70.8" y="189.5" width="1.8" height="25.6" fill="#fff" fill-opacity="0.04"/><rect x="80.7" y="194.7" width="1.6" height="66.9" fill="#fff" fill-opacity="0.04"/><rect x="82.1" y="186.0" width="1.1" height="47.0" fill="#fff" fill-opacity="0.02"/><rect x="46.6" y="162.9" width="1.0" height="29.8" fill="#000" fill-opacity="0.02"/><rect x="100.5" y="178.3" width="1.4" height="20.3" fill="#000" fill-opacity="0.02"/><rect x="116.0" y="202.8" width="1.8" height="30.0" fill="#000" fill-opacity="0.05"/><rect x="44.1" y="174.1" width="1.4" height="53.2" fill="#000" fill-opacity="0.04"/><rect x="76.7" y="208.1" width="1.5" height="56.2" fill="#fff" fill-opacity="0.03"/><rect x="106.2" y="205.7" width="1.3" height="63.9" fill="#fff" fill-opacity="0.02"/><rect x="31.5" y="158.9" width="1.5" height="44.1" fill="#000" fill-opacity="0.05"/><rect x="78.3" y="156.6" width="1.0" height="25.5" fill="#fff" fill-opacity="0.04"/><rect x="95.9" y="197.3" width="1.9" height="72.4" fill="#000" fill-opacity="0.04"/><rect x="70.2" y="153.0" width="0.8" height="46.1" fill="#fff" fill-opacity="0.05"/><rect x="42.6" y="148.8" width="1.7" height="79.2" fill="#fff" fill-opacity="0.06"/><rect x="113.7" y="209.2" width="1.2" height="35.8" fill="#fff" fill-opacity="0.05"/><rect x="115.1" y="156.2" width="1.2" height="40.2" fill="#000" fill-opacity="0.03"/><rect x="82.0" y="185.2" width="1.1" height="59.8" fill="#fff" fill-opacity="0.03"/><rect x="121.7" y="163.8" width="1.3" height="48.5" fill="#000" fill-opacity="0.03"/><rect x="53.3" y="212.0" width="0.9" height="23.5" fill="#fff" fill-opacity="0.05"/><rect x="123.8" y="196.9" width="0.9" height="26.0" fill="#000" fill-opacity="0.03"/><rect x="86.2" y="165.0" width="1.5" height="24.1" fill="#000" fill-opacity="0.03"/><rect x="68.6" y="185.5" width="1.6" height="54.1" fill="#fff" fill-opacity="0.02"/><rect x="79.9" y="192.5" width="1.8" height="49.1" fill="#fff" fill-opacity="0.03"/><rect x="32.3" y="162.3" width="1.6" height="45.2" fill="#fff" fill-opacity="0.05"/><rect x="52.7" y="189.3" width="1.6" height="28.3" fill="#fff" fill-opacity="0.05"/><rect x="66.1" y="201.8" width="1.2" height="46.5" fill="#000" fill-opacity="0.05"/><rect x="96.4" y="190.1" width="0.8" height="56.1" fill="#fff" fill-opacity="0.03"/><rect x="89.5" y="158.5" width="1.4" height="30.7" fill="#000" fill-opacity="0.06"/><rect x="58.0" y="159.0" width="1.9" height="37.5" fill="#fff" fill-opacity="0.06"/><rect x="41.0" y="186.2" width="1.6" height="41.8" fill="#000" fill-opacity="0.06"/><rect x="98.4" y="204.4" width="1.7" height="22.8" fill="#fff" fill-opacity="0.04"/><rect x="37.9" y="152.6" width="1.2" height="25.8" fill="#000" fill-opacity="0.05"/><rect x="113.5" y="208.5" width="0.8" height="43.2" fill="#000" fill-opacity="0.03"/><rect x="116.8" y="163.6" width="1.0" height="25.9" fill="#000" fill-opacity="0.06"/><rect x="115.8" y="180.0" width="1.2" height="41.0" fill="#000" fill-opacity="0.03"/><rect x="66.9" y="167.5" width="1.5" height="63.4" fill="#000" fill-opacity="0.03"/><rect x="100.2" y="193.9" width="1.5" height="73.0" fill="#000" fill-opacity="0.03"/><rect x="55.3" y="188.8" width="1.6" height="24.7" fill="#000" fill-opacity="0.05"/><rect x="38.6" y="166.4" width="1.0" height="39.2" fill="#fff" fill-opacity="0.05"/><rect x="119.7" y="156.6" width="1.0" height="46.8" fill="#fff" fill-opacity="0.06"/><rect x="89.1" y="215.5" width="1.7" height="26.4" fill="#fff" fill-opacity="0.05"/><rect x="70.7" y="178.2" width="1.0" height="71.7" fill="#fff" fill-opacity="0.04"/></g>
<rect x="121.66" y="158.30" width="2.88" height="96.0" fill="#c8c8c8" filter="url(#bl1)"/>
<g transform="translate(29.50,158.30)"><path d="M56 36C63 28 74 16 88 2" stroke="#6e6e6e" stroke-opacity="0.6" stroke-width="7" fill="none" filter="url(#bl2p5)"/><path d="M50 2C55 4 62 8 66 18" stroke="#e6e6e6" stroke-opacity="0.7" stroke-width="8" fill="none" filter="url(#bl3)"/><path d="M2 62C12 60 25 60 40 62" stroke="#7a7a7a" stroke-opacity="0.45" stroke-width="6" fill="none" filter="url(#bl3)"/><path d="M14.0 36.0C12.2 34.3 12.0 29.8 13.0 28.0C14.0 26.2 17.7 26.0 20.0 25.0C22.3 24.0 25.7 23.8 27.0 22.0C28.3 20.2 27.7 16.3 28.0 14.0C28.3 11.7 27.7 9.3 29.0 8.0C30.3 6.7 33.8 5.7 36.0 6.0C38.2 6.3 40.2 8.8 42.0 10.0C43.8 11.2 44.8 12.2 47.0 13.0C49.2 13.8 53.1 13.8 55.0 15.0C56.9 16.2 58.0 17.8 58.5 20.0C59.0 22.2 59.1 26.2 58.0 28.0C56.9 29.8 54.2 29.7 52.0 31.0C49.8 32.3 46.7 34.2 45.0 36.0C43.3 37.8 43.7 40.8 42.0 42.0C40.3 43.2 37.5 43.0 35.0 43.0C32.5 43.0 28.8 42.8 27.0 42.0C25.2 41.2 26.2 39.0 24.0 38.0C21.8 37.0 15.8 37.7 14.0 36.0Z" fill="#414141" fill-opacity="0.85" filter="url(#bl4)"/><path d="M27.0 27.0C28.0 25.3 30.2 23.7 32.0 23.0C33.8 22.3 36.3 22.3 38.0 23.0C39.7 23.7 41.3 25.2 42.0 27.0C42.7 28.8 42.3 31.8 42.0 34.0C41.7 36.2 41.3 38.7 40.0 40.0C38.7 41.3 36.0 42.0 34.0 42.0C32.0 42.0 29.3 41.5 28.0 40.0C26.7 38.5 26.2 35.2 26.0 33.0C25.8 30.8 26.0 28.7 27.0 27.0Z" fill="#0a0a0a" fill-opacity="0.95" filter="url(#bl4)"/><ellipse cx="61.5" cy="11" rx="4" ry="5" fill="#ebebeb" fill-opacity="0.8" filter="url(#bl2p5)"/></g>
</g>
<rect x="29.50" y="158.30" width="96.0" height="96.0" fill="none" stroke="#222" stroke-width="0.9"/>
<path d="M37.50 254.30v-1.8M37.50 158.30v1.8" stroke="#222" stroke-width="0.7"/>
<path d="M53.50 254.30v-1.8M53.50 158.30v1.8" stroke="#222" stroke-width="0.7"/>
<path d="M69.50 254.30v-1.8M69.50 158.30v1.8" stroke="#222" stroke-width="0.7"/>
<path d="M85.50 254.30v-1.8M85.50 158.30v1.8" stroke="#222" stroke-width="0.7"/>
<path d="M101.50 254.30v-1.8M101.50 158.30v1.8" stroke="#222" stroke-width="0.7"/>
<path d="M117.50 254.30v-1.8M117.50 158.30v1.8" stroke="#222" stroke-width="0.7"/>
<path d="M29.50 246.80h1.8M125.50 246.80h-1.8" stroke="#222" stroke-width="0.7"/>
<path d="M29.50 230.80h1.8M125.50 230.80h-1.8" stroke="#222" stroke-width="0.7"/>
<path d="M29.50 214.80h1.8M125.50 214.80h-1.8" stroke="#222" stroke-width="0.7"/>
<path d="M29.50 198.80h1.8M125.50 198.80h-1.8" stroke="#222" stroke-width="0.7"/>
<path d="M29.50 182.80h1.8M125.50 182.80h-1.8" stroke="#222" stroke-width="0.7"/>
<path d="M29.50 166.80h1.8M125.50 166.80h-1.8" stroke="#222" stroke-width="0.7"/>
<path d="M31.10 254.30v-1M31.10 158.30v1M34.30 254.30v-1M34.30 158.30v1M40.70 254.30v-1M40.70 158.30v1M43.90 254.30v-1M43.90 158.30v1M47.10 254.30v-1M47.10 158.30v1M50.30 254.30v-1M50.30 158.30v1M56.70 254.30v-1M56.70 158.30v1M59.90 254.30v-1M59.90 158.30v1M63.10 254.30v-1M63.10 158.30v1M66.30 254.30v-1M66.30 158.30v1M72.70 254.30v-1M72.70 158.30v1M75.90 254.30v-1M75.90 158.30v1M79.10 254.30v-1M79.10 158.30v1M82.30 254.30v-1M82.30 158.30v1M88.70 254.30v-1M88.70 158.30v1M91.90 254.30v-1M91.90 158.30v1M95.10 254.30v-1M95.10 158.30v1M98.30 254.30v-1M98.30 158.30v1M104.70 254.30v-1M104.70 158.30v1M107.90 254.30v-1M107.90 158.30v1M111.10 254.30v-1M111.10 158.30v1M114.30 254.30v-1M114.30 158.30v1M120.70 254.30v-1M120.70 158.30v1M123.90 254.30v-1M123.90 158.30v1M29.50 253.20h1M125.50 253.20h-1M29.50 250.00h1M125.50 250.00h-1M29.50 243.60h1M125.50 243.60h-1M29.50 240.40h1M125.50 240.40h-1M29.50 237.20h1M125.50 237.20h-1M29.50 234.00h1M125.50 234.00h-1M29.50 227.60h1M125.50 227.60h-1M29.50 224.40h1M125.50 224.40h-1M29.50 221.20h1M125.50 221.20h-1M29.50 218.00h1M125.50 218.00h-1M29.50 211.60h1M125.50 211.60h-1M29.50 208.40h1M125.50 208.40h-1M29.50 205.20h1M125.50 205.20h-1M29.50 202.00h1M125.50 202.00h-1M29.50 195.60h1M125.50 195.60h-1M29.50 192.40h1M125.50 192.40h-1M29.50 189.20h1M125.50 189.20h-1M29.50 186.00h1M125.50 186.00h-1M29.50 179.60h1M125.50 179.60h-1M29.50 176.40h1M125.50 176.40h-1M29.50 173.20h1M125.50 173.20h-1M29.50 170.00h1M125.50 170.00h-1M29.50 163.60h1M125.50 163.60h-1M29.50 160.40h1M125.50 160.40h-1" stroke="#333" stroke-width="0.6"/>
<text transform="translate(77.89,153.00)" text-anchor="middle" font-size="10.8" fill="#111" stroke="#111" stroke-width="0.2" letter-spacing="0.78">EIS Fe XV 284.1</text>
<text transform="translate(27.45,250.60)" text-anchor="end" font-size="9.6" fill="#111" stroke="#111" stroke-width="0.2" letter-spacing="0.55">30</text>
<text transform="translate(27.45,234.60)" text-anchor="end" font-size="9.6" fill="#111" stroke="#111" stroke-width="0.2" letter-spacing="0.55">40</text>
<text transform="translate(27.45,218.60)" text-anchor="end" font-size="9.6" fill="#111" stroke="#111" stroke-width="0.2" letter-spacing="0.55">50</text>
<text transform="translate(27.45,202.60)" text-anchor="end" font-size="9.6" fill="#111" stroke="#111" stroke-width="0.2" letter-spacing="0.55">60</text>
<text transform="translate(27.45,186.60)" text-anchor="end" font-size="9.6" fill="#111" stroke="#111" stroke-width="0.2" letter-spacing="0.55">70</text>
<text transform="translate(27.45,170.60)" text-anchor="end" font-size="9.6" fill="#111" stroke="#111" stroke-width="0.2" letter-spacing="0.55">80</text>
<text transform="translate(37.77,267.80)" text-anchor="middle" font-size="9.6" fill="#111" stroke="#111" stroke-width="0.2" letter-spacing="0.55">40</text>
<text transform="translate(53.77,267.80)" text-anchor="middle" font-size="9.6" fill="#111" stroke="#111" stroke-width="0.2" letter-spacing="0.55">50</text>
<text transform="translate(69.78,267.80)" text-anchor="middle" font-size="9.6" fill="#111" stroke="#111" stroke-width="0.2" letter-spacing="0.55">60</text>
<text transform="translate(85.78,267.80)" text-anchor="middle" font-size="9.6" fill="#111" stroke="#111" stroke-width="0.2" letter-spacing="0.55">70</text>
<text transform="translate(101.78,267.80)" text-anchor="middle" font-size="9.6" fill="#111" stroke="#111" stroke-width="0.2" letter-spacing="0.55">80</text>
<text transform="translate(117.78,267.80)" text-anchor="middle" font-size="9.6" fill="#111" stroke="#111" stroke-width="0.2" letter-spacing="0.55">90</text>
<text transform="translate(77.70,278.50)" text-anchor="middle" font-size="9.4" fill="#111" stroke="#111" stroke-width="0.2" letter-spacing="0.4">X (arcsecs)</text>
<text transform="translate(8.70,206.30) rotate(-90) scale(1.13,1)" text-anchor="middle" font-size="9.2" fill="#111">Y (arcsecs)</text>
<defs><linearGradient id="cb10" x1="0" y1="0" x2="0" y2="1"><stop offset="0" stop-color="#000"/><stop offset="1" stop-color="#fff"/></linearGradient></defs>
<rect x="129.20" y="172.90" width="3.6" height="81.90" fill="url(#cb10)" stroke="#333" stroke-width="0.5"/>
<path d="M132.80 172.90h1.8" stroke="#222" stroke-width="0.6"/>
<text transform="translate(137.80,176.30)" font-size="9.6" fill="#111" stroke="#111" stroke-width="0.2" letter-spacing="0.55">4.5</text>
<path d="M132.80 193.38h1.8" stroke="#222" stroke-width="0.6"/>
<text transform="translate(137.80,196.78)" font-size="9.6" fill="#111" stroke="#111" stroke-width="0.2" letter-spacing="0.55">4.0</text>
<path d="M132.80 213.85h1.8" stroke="#222" stroke-width="0.6"/>
<text transform="translate(137.80,217.25)" font-size="9.6" fill="#111" stroke="#111" stroke-width="0.2" letter-spacing="0.55">3.5</text>
<path d="M132.80 234.33h1.8" stroke="#222" stroke-width="0.6"/>
<text transform="translate(137.80,237.73)" font-size="9.6" fill="#111" stroke="#111" stroke-width="0.2" letter-spacing="0.55">3.0</text>
<path d="M132.80 254.80h1.8" stroke="#222" stroke-width="0.6"/>
<text transform="translate(137.80,258.20)" font-size="9.6" fill="#111" stroke="#111" stroke-width="0.2" letter-spacing="0.55">2.5</text>
<text transform="translate(128.00,163.90)" font-size="9.4" fill="#111" stroke="#111" stroke-width="0.2" letter-spacing="0.5">log N<tspan font-size="5.8" dy="3" letter-spacing="0.1">ph</tspan></text>
<clipPath id="cp11"><rect x="174.43" y="158.30" width="96.0" height="96.0"/></clipPath>
<g clip-path="url(#cp11)"><g filter="url(#bl3)">
<rect x="166.2" y="150.1" width="16.4" height="16.4" fill="#dcdcdc"/>
<rect x="182.2" y="150.1" width="8.4" height="16.4" fill="#e1e1e1"/>
<rect x="190.2" y="150.1" width="8.4" height="16.4" fill="#dcdcdc"/>
<rect x="198.2" y="150.1" width="8.4" height="16.4" fill="#d7d7d7"/>
<rect x="206.2" y="150.1" width="8.4" height="16.4" fill="#d2d2d2"/>
<rect x="214.2" y="150.1" width="8.4" height="16.4" fill="#d7d7d7"/>
<rect x="222.2" y="150.1" width="8.4" height="16.4" fill="#dcdcdc"/>
<rect x="230.2" y="150.1" width="8.4" height="16.4" fill="#f0f0f0"/>
<rect x="238.2" y="150.1" width="8.4" height="16.4" fill="#f5f5f5"/>
<rect x="246.2" y="150.1" width="8.4" height="16.4" fill="#ebebeb"/>
<rect x="254.2" y="150.1" width="8.4" height="16.4" fill="#dcdcdc"/>
<rect x="262.2" y="150.1" width="16.4" height="16.4" fill="#d2d2d2"/>
<rect x="166.2" y="166.1" width="16.4" height="8.4" fill="#dcdcdc"/>
<rect x="182.2" y="166.1" width="8.4" height="8.4" fill="#dcdcdc"/>
<rect x="190.2" y="166.1" width="8.4" height="8.4" fill="#d2d2d2"/>
<rect x="198.2" y="166.1" width="8.4" height="8.4" fill="#bebebe"/>
<rect x="206.2" y="166.1" width="8.4" height="8.4" fill="#aaaaaa"/>
<rect x="214.2" y="166.1" width="8.4" height="8.4" fill="#b4b4b4"/>
<rect x="222.2" y="166.1" width="8.4" height="8.4" fill="#c8c8c8"/>
<rect x="230.2" y="166.1" width="8.4" height="8.4" fill="#f0f0f0"/>
<rect x="238.2" y="166.1" width="8.4" height="8.4" fill="#f0f0f0"/>
<rect x="246.2" y="166.1" width="8.4" height="8.4" fill="#d7d7d7"/>
<rect x="254.2" y="166.1" width="8.4" height="8.4" fill="#bebebe"/>
<rect x="262.2" y="166.1" width="16.4" height="8.4" fill="#b4b4b4"/>
<rect x="166.2" y="174.1" width="16.4" height="8.4" fill="#d7d7d7"/>
<rect x="182.2" y="174.1" width="8.4" height="8.4" fill="#d2d2d2"/>
<rect x="190.2" y="174.1" width="8.4" height="8.4" fill="#c3c3c3"/>
<rect x="198.2" y="174.1" width="8.4" height="8.4" fill="#a0a0a0"/>
<rect x="206.2" y="174.1" width="8.4" height="8.4" fill="#8c8c8c"/>
<rect x="214.2" y="174.1" width="8.4" height="8.4" fill="#828282"/>
<rect x="222.2" y="174.1" width="8.4" height="8.4" fill="#969696"/>
<rect x="230.2" y="174.1" width="8.4" height="8.4" fill="#ebebeb"/>
<rect x="238.2" y="174.1" width="8.4" height="8.4" fill="#e1e1e1"/>
<rect x="246.2" y="174.1" width="8.4" height="8.4" fill="#b4b4b4"/>
<rect x="254.2" y="174.1" width="8.4" height="8.4" fill="#a5a5a5"/>
<rect x="262.2" y="174.1" width="16.4" height="8.4" fill="#aaaaaa"/>
<rect x="166.2" y="182.1" width="16.4" height="8.4" fill="#d2d2d2"/>
<rect x="182.2" y="182.1" width="8.4" height="8.4" fill="#a0a0a0"/>
<rect x="190.2" y="182.1" width="8.4" height="8.4" fill="#828282"/>
<rect x="198.2" y="182.1" width="8.4" height="8.4" fill="#787878"/>
<rect x="206.2" y="182.1" width="8.4" height="8.4" fill="#464646"/>
<rect x="214.2" y="182.1" width="8.4" height="8.4" fill="#505050"/>
<rect x="222.2" y="182.1" width="8.4" height="8.4" fill="#787878"/>
<rect x="230.2" y="182.1" width="8.4" height="8.4" fill="#c8c8c8"/>
<rect x="238.2" y="182.1" width="8.4" height="8.4" fill="#aaaaaa"/>
<rect x="246.2" y="182.1" width="8.4" height="8.4" fill="#a0a0a0"/>
<rect x="254.2" y="182.1" width="8.4" height="8.4" fill="#a5a5a5"/>
<rect x="262.2" y="182.1" width="16.4" height="8.4" fill="#aaaaaa"/>
<rect x="166.2" y="190.1" width="16.4" height="8.4" fill="#c8c8c8"/>
<rect x="182.2" y="190.1" width="8.4" height="8.4" fill="#969696"/>
<rect x="190.2" y="190.1" width="8.4" height="8.4" fill="#787878"/>
<rect x="198.2" y="190.1" width="8.4" height="8.4" fill="#5a5a5a"/>
<rect x="206.2" y="190.1" width="8.4" height="8.4" fill="#323232"/>
<rect x="214.2" y="190.1" width="8.4" height="8.4" fill="#3c3c3c"/>
<rect x="222.2" y="190.1" width="8.4" height="8.4" fill="#6e6e6e"/>
<rect x="230.2" y="190.1" width="8.4" height="8.4" fill="#969696"/>
<rect x="238.2" y="190.1" width="8.4" height="8.4" fill="#969696"/>
<rect x="246.2" y="190.1" width="8.4" height="8.4" fill="#a5a5a5"/>
<rect x="254.2" y="190.1" width="8.4" height="8.4" fill="#aaaaaa"/>
<rect x="262.2" y="190.1" width="16.4" height="8.4" fill="#aaaaaa"/>
<rect x="166.2" y="198.1" width="16.4" height="8.4" fill="#b4b4b4"/>
<rect x="182.2" y="198.1" width="8.4" height="8.4" fill="#aaaaaa"/>
<rect x="190.2" y="198.1" width="8.4" height="8.4" fill="#8c8c8c"/>
<rect x="198.2" y="198.1" width="8.4" height="8.4" fill="#5a5a5a"/>
<rect x="206.2" y="198.1" width="8.4" height="8.4" fill="#3c3c3c"/>
<rect x="214.2" y="198.1" width="8.4" height="8.4" fill="#3c3c3c"/>
<rect x="222.2" y="198.1" width="8.4" height="8.4" fill="#646464"/>
<rect x="230.2" y="198.1" width="8.4" height="8.4" fill="#969696"/>
<rect x="238.2" y="198.1" width="8.4" height="8.4" fill="#a0a0a0"/>
<rect x="246.2" y="198.1" width="8.4" height="8.4" fill="#aaaaaa"/>
<rect x="254.2" y="198.1" width="8.4" height="8.4" fill="#aaaaaa"/>
<rect x="262.2" y="198.1" width="16.4" height="8.4" fill="#aaaaaa"/>
<rect x="166.2" y="206.1" width="16.4" height="8.4" fill="#a0a0a0"/>
<rect x="182.2" y="206.1" width="8.4" height="8.4" fill="#a0a0a0"/>
<rect x="190.2" y="206.1" width="8.4" height="8.4" fill="#a0a0a0"/>
<rect x="198.2" y="206.1" width="8.4" height="8.4" fill="#828282"/>
<rect x="206.2" y="206.1" width="8.4" height="8.4" fill="#787878"/>
<rect x="214.2" y="206.1" width="8.4" height="8.4" fill="#6e6e6e"/>
<rect x="222.2" y="206.1" width="8.4" height="8.4" fill="#8c8c8c"/>
<rect x="230.2" y="206.1" width="8.4" height="8.4" fill="#a0a0a0"/>
<rect x="238.2" y="206.1" width="8.4" height="8.4" fill="#a5a5a5"/>
<rect x="246.2" y="206.1" width="8.4" height="8.4" fill="#aaaaaa"/>
<rect x="254.2" y="206.1" width="8.4" height="8.4" fill="#aaaaaa"/>
<rect x="262.2" y="206.1" width="16.4" height="8.4" fill="#aaaaaa"/>
<rect x="166.2" y="214.1" width="16.4" height="8.4" fill="#969696"/>
<rect x="182.2" y="214.1" width="8.4" height="8.4" fill="#919191"/>
<rect x="190.2" y="214.1" width="8.4" height="8.4" fill="#8c8c8c"/>
<rect x="198.2" y="214.1" width="8.4" height="8.4" fill="#878787"/>
<rect x="206.2" y="214.1" width="8.4" height="8.4" fill="#828282"/>
<rect x="214.2" y="214.1" width="8.4" height="8.4" fill="#969696"/>
<rect x="222.2" y="214.1" width="8.4" height="8.4" fill="#a0a0a0"/>
<rect x="230.2" y="214.1" width="8.4" height="8.4" fill="#a5a5a5"/>
<rect x="238.2" y="214.1" width="8.4" height="8.4" fill="#a5a5a5"/>
<rect x="246.2" y="214.1" width="8.4" height="8.4" fill="#a5a5a5"/>
<rect x="254.2" y="214.1" width="8.4" height="8.4" fill="#a5a5a5"/>
<rect x="262.2" y="214.1" width="16.4" height="8.4" fill="#a5a5a5"/>
<rect x="166.2" y="222.1" width="16.4" height="8.4" fill="#969696"/>
<rect x="182.2" y="222.1" width="8.4" height="8.4" fill="#8c8c8c"/>
<rect x="190.2" y="222.1" width="8.4" height="8.4" fill="#828282"/>
<rect x="198.2" y="222.1" width="8.4" height="8.4" fill="#7d7d7d"/>
<rect x="206.2" y="222.1" width="8.4" height="8.4" fill="#878787"/>
<rect x="214.2" y="222.1" width="8.4" height="8.4" fill="#9b9b9b"/>
<rect x="222.2" y="222.1" width="8.4" height="8.4" fill="#a5a5a5"/>
<rect x="230.2" y="222.1" width="8.4" height="8.4" fill="#a5a5a5"/>
<rect x="238.2" y="222.1" width="8.4" height="8.4" fill="#a0a0a0"/>
<rect x="246.2" y="222.1" width="8.4" height="8.4" fill="#a0a0a0"/>
<rect x="254.2" y="222.1" width="8.4" height="8.4" fill="#a0a0a0"/>
<rect x="262.2" y="222.1" width="16.4" height="8.4" fill="#a5a5a5"/>
<rect x="166.2" y="230.1" width="16.4" height="8.4" fill="#a0a0a0"/>
<rect x="182.2" y="230.1" width="8.4" height="8.4" fill="#9b9b9b"/>
<rect x="190.2" y="230.1" width="8.4" height="8.4" fill="#969696"/>
<rect x="198.2" y="230.1" width="8.4" height="8.4" fill="#969696"/>
<rect x="206.2" y="230.1" width="8.4" height="8.4" fill="#9b9b9b"/>
<rect x="214.2" y="230.1" width="8.4" height="8.4" fill="#a0a0a0"/>
<rect x="222.2" y="230.1" width="8.4" height="8.4" fill="#a5a5a5"/>
<rect x="230.2" y="230.1" width="8.4" height="8.4" fill="#a5a5a5"/>
<rect x="238.2" y="230.1" width="8.4" height="8.4" fill="#a0a0a0"/>
<rect x="246.2" y="230.1" width="8.4" height="8.4" fill="#a0a0a0"/>
<rect x="254.2" y="230.1" width="8.4" height="8.4" fill="#a0a0a0"/>
<rect x="262.2" y="230.1" width="16.4" height="8.4" fill="#a5a5a5"/>
<rect x="166.2" y="238.1" width="16.4" height="8.4" fill="#afafaf"/>
<rect x="182.2" y="238.1" width="8.4" height="8.4" fill="#aaaaaa"/>
<rect x="190.2" y="238.1" width="8.4" height="8.4" fill="#a5a5a5"/>
<rect x="198.2" y="238.1" width="8.4" height="8.4" fill="#a5a5a5"/>
<rect x="206.2" y="238.1" width="8.4" height="8.4" fill="#a5a5a5"/>
<rect x="214.2" y="238.1" width="8.4" height="8.4" fill="#a5a5a5"/>
<rect x="222.2" y="238.1" width="8.4" height="8.4" fill="#a5a5a5"/>
<rect x="230.2" y="238.1" width="8.4" height="8.4" fill="#a5a5a5"/>
<rect x="238.2" y="238.1" width="8.4" height="8.4" fill="#a0a0a0"/>
<rect x="246.2" y="238.1" width="8.4" height="8.4" fill="#a0a0a0"/>
<rect x="254.2" y="238.1" width="8.4" height="8.4" fill="#a5a5a5"/>
<rect x="262.2" y="238.1" width="16.4" height="8.4" fill="#aaaaaa"/>
<rect x="166.2" y="246.1" width="16.4" height="16.4" fill="#c3c3c3"/>
<rect x="182.2" y="246.1" width="8.4" height="16.4" fill="#b9b9b9"/>
<rect x="190.2" y="246.1" width="8.4" height="16.4" fill="#b4b4b4"/>
<rect x="198.2" y="246.1" width="8.4" height="16.4" fill="#afafaf"/>
<rect x="206.2" y="246.1" width="8.4" height="16.4" fill="#aaaaaa"/>
<rect x="214.2" y="246.1" width="8.4" height="16.4" fill="#aaaaaa"/>
<rect x="222.2" y="246.1" width="8.4" height="16.4" fill="#aaaaaa"/>
<rect x="230.2" y="246.1" width="8.4" height="16.4" fill="#aaaaaa"/>
<rect x="238.2" y="246.1" width="8.4" height="16.4" fill="#a5a5a5"/>
<rect x="246.2" y="246.1" width="8.4" height="16.4" fill="#a5a5a5"/>
<rect x="254.2" y="246.1" width="8.4" height="16.4" fill="#aaaaaa"/>
<rect x="262.2" y="246.1" width="16.4" height="16.4" fill="#b4b4b4"/>
</g>
<g filter="url(#bl0p6)"><rect x="184.7" y="156.8" width="1.1" height="34.6" fill="#fff" fill-opacity="0.03"/><rect x="254.3" y="157.4" width="1.2" height="53.6" fill="#fff" fill-opacity="0.02"/><rect x="181.5" y="204.6" width="0.8" height="44.7" fill="#000" fill-opacity="0.06"/><rect x="247.4" y="217.5" width="1.5" height="56.9" fill="#fff" fill-opacity="0.04"/><rect x="182.6" y="153.3" width="1.3" height="24.5" fill="#000" fill-opacity="0.03"/><rect x="226.6" y="185.0" width="0.9" height="63.0" fill="#fff" fill-opacity="0.03"/><rect x="256.7" y="156.2" width="1.2" height="20.9" fill="#fff" fill-opacity="0.02"/><rect x="179.9" y="215.4" width="2.0" height="59.8" fill="#000" fill-opacity="0.04"/><rect x="245.6" y="186.3" width="1.1" height="21.5" fill="#000" fill-opacity="0.06"/><rect x="213.6" y="161.3" width="1.0" height="73.8" fill="#000" fill-opacity="0.05"/><rect x="180.3" y="157.3" width="2.0" height="30.0" fill="#fff" fill-opacity="0.06"/><rect x="236.5" y="174.9" width="0.8" height="46.3" fill="#000" fill-opacity="0.05"/><rect x="177.8" y="177.7" width="1.8" height="67.2" fill="#000" fill-opacity="0.04"/><rect x="216.5" y="166.1" width="1.9" height="38.5" fill="#000" fill-opacity="0.06"/><rect x="196.2" y="191.7" width="1.1" height="47.0" fill="#fff" fill-opacity="0.03"/><rect x="183.1" y="190.8" width="1.1" height="70.4" fill="#000" fill-opacity="0.04"/><rect x="225.2" y="162.3" width="1.7" height="32.2" fill="#fff" fill-opacity="0.03"/><rect x="234.0" y="210.6" width="1.3" height="62.1" fill="#000" fill-opacity="0.04"/><rect x="261.1" y="200.4" width="1.7" height="23.6" fill="#fff" fill-opacity="0.06"/><rect x="194.5" y="212.8" width="1.7" height="71.5" fill="#000" fill-opacity="0.03"/><rect x="255.2" y="195.7" width="0.8" height="78.3" fill="#fff" fill-opacity="0.02"/><rect x="205.1" y="154.4" width="1.0" height="23.1" fill="#000" fill-opacity="0.06"/><rect x="265.9" y="165.9" width="1.7" height="76.8" fill="#fff" fill-opacity="0.05"/><rect x="188.5" y="177.0" width="1.2" height="49.6" fill="#000" fill-opacity="0.05"/><rect x="214.8" y="179.3" width="1.0" height="73.1" fill="#fff" fill-opacity="0.04"/><rect x="233.2" y="182.8" width="1.9" height="45.5" fill="#fff" fill-opacity="0.05"/><rect x="187.1" y="178.4" width="1.8" height="68.0" fill="#000" fill-opacity="0.03"/><rect x="179.1" y="176.1" width="1.7" height="33.5" fill="#fff" fill-opacity="0.05"/><rect x="236.0" y="195.8" width="1.2" height="34.6" fill="#fff" fill-opacity="0.02"/><rect x="267.8" y="158.7" width="1.6" height="77.3" fill="#fff" fill-opacity="0.04"/><rect x="217.0" y="212.5" width="1.7" height="43.1" fill="#000" fill-opacity="0.05"/><rect x="204.5" y="148.9" width="1.3" height="57.2" fill="#000" fill-opacity="0.05"/><rect x="200.1" y="212.8" width="2.0" height="38.1" fill="#000" fill-opacity="0.04"/><rect x="191.2" y="190.5" width="0.9" height="48.0" fill="#000" fill-opacity="0.03"/><rect x="262.1" y="151.1" width="0.9" height="27.0" fill="#fff" fill-opacity="0.06"/><rect x="190.3" y="185.4" width="1.1" height="51.4" fill="#fff" fill-opacity="0.06"/><rect x="227.8" y="172.6" width="1.2" height="37.8" fill="#000" fill-opacity="0.04"/><rect x="262.0" y="190.2" width="1.5" height="30.6" fill="#fff" fill-opacity="0.03"/><rect x="208.6" y="204.7" width="0.8" height="23.9" fill="#000" fill-opacity="0.06"/><rect x="259.6" y="195.1" width="1.9" height="72.2" fill="#fff" fill-opacity="0.02"/><rect x="220.7" y="210.9" width="1.4" height="30.5" fill="#fff" fill-opacity="0.06"/><rect x="226.8" y="168.3" width="1.4" height="58.7" fill="#fff" fill-opacity="0.03"/><rect x="212.4" y="189.1" width="0.9" height="62.8" fill="#fff" fill-opacity="0.05"/><rect x="227.3" y="162.3" width="1.3" height="44.1" fill="#fff" fill-opacity="0.03"/><rect x="226.6" y="180.5" width="1.0" height="31.4" fill="#fff" fill-opacity="0.02"/></g>
<rect x="266.59" y="158.30" width="2.88" height="96.0" fill="#d7d7d7" filter="url(#bl1)"/>
<g transform="translate(174.43,158.30)"><path d="M56 38C64 29 76 16 90 3" stroke="#8a8a8a" stroke-opacity="0.6" stroke-width="7" fill="none" filter="url(#bl2p5)"/><path d="M2 60C12 58 25 58 40 62" stroke="#8a8a8a" stroke-opacity="0.4" stroke-width="6" fill="none" filter="url(#bl3)"/><path d="M13.0 34.0C12.7 31.3 14.2 28.5 16.0 27.0C17.8 25.5 21.8 26.2 24.0 25.0C26.2 23.8 28.0 22.3 29.0 20.0C30.0 17.7 28.8 13.0 30.0 11.0C31.2 9.0 34.0 8.0 36.0 8.0C38.0 8.0 40.2 9.8 42.0 11.0C43.8 12.2 44.8 14.2 47.0 15.0C49.2 15.8 53.0 14.8 55.0 16.0C57.0 17.2 58.5 19.7 59.0 22.0C59.5 24.3 59.2 28.0 58.0 30.0C56.8 32.0 53.2 32.0 52.0 34.0C50.8 36.0 52.2 40.0 51.0 42.0C49.8 44.0 48.0 45.3 45.0 46.0C42.0 46.7 36.2 46.3 33.0 46.0C29.8 45.7 28.5 44.5 26.0 44.0C23.5 43.5 20.2 44.7 18.0 43.0C15.8 41.3 13.3 36.7 13.0 34.0Z" fill="#4b4b4b" fill-opacity="0.8" filter="url(#bl4)"/><path d="M30.0 26.0C31.3 24.5 33.7 23.5 36.0 23.0C38.3 22.5 41.7 22.3 44.0 23.0C46.3 23.7 48.8 25.0 50.0 27.0C51.2 29.0 51.2 32.3 51.0 35.0C50.8 37.7 50.5 41.2 49.0 43.0C47.5 44.8 44.5 45.7 42.0 46.0C39.5 46.3 36.2 46.0 34.0 45.0C31.8 44.0 30.0 42.2 29.0 40.0C28.0 37.8 27.8 34.3 28.0 32.0C28.2 29.7 28.7 27.5 30.0 26.0Z" fill="#0f0f0f" fill-opacity="0.95" filter="url(#bl4)"/><ellipse cx="35" cy="62" rx="10" ry="7" fill="#787878" fill-opacity="0.5" filter="url(#bl3)"/></g>
</g>
<rect x="174.43" y="158.30" width="96.0" height="96.0" fill="none" stroke="#222" stroke-width="0.9"/>
<path d="M182.43 254.30v-1.8M182.43 158.30v1.8" stroke="#222" stroke-width="0.7"/>
<path d="M198.43 254.30v-1.8M198.43 158.30v1.8" stroke="#222" stroke-width="0.7"/>
<path d="M214.43 254.30v-1.8M214.43 158.30v1.8" stroke="#222" stroke-width="0.7"/>
<path d="M230.43 254.30v-1.8M230.43 158.30v1.8" stroke="#222" stroke-width="0.7"/>
<path d="M246.43 254.30v-1.8M246.43 158.30v1.8" stroke="#222" stroke-width="0.7"/>
<path d="M262.43 254.30v-1.8M262.43 158.30v1.8" stroke="#222" stroke-width="0.7"/>
<path d="M174.43 246.80h1.8M270.43 246.80h-1.8" stroke="#222" stroke-width="0.7"/>
<path d="M174.43 230.80h1.8M270.43 230.80h-1.8" stroke="#222" stroke-width="0.7"/>
<path d="M174.43 214.80h1.8M270.43 214.80h-1.8" stroke="#222" stroke-width="0.7"/>
<path d="M174.43 198.80h1.8M270.43 198.80h-1.8" stroke="#222" stroke-width="0.7"/>
<path d="M174.43 182.80h1.8M270.43 182.80h-1.8" stroke="#222" stroke-width="0.7"/>
<path d="M174.43 166.80h1.8M270.43 166.80h-1.8" stroke="#222" stroke-width="0.7"/>
<path d="M176.03 254.30v-1M176.03 158.30v1M179.23 254.30v-1M179.23 158.30v1M185.63 254.30v-1M185.63 158.30v1M188.83 254.30v-1M188.83 158.30v1M192.03 254.30v-1M192.03 158.30v1M195.23 254.30v-1M195.23 158.30v1M201.63 254.30v-1M201.63 158.30v1M204.83 254.30v-1M204.83 158.30v1M208.03 254.30v-1M208.03 158.30v1M211.23 254.30v-1M211.23 158.30v1M217.63 254.30v-1M217.63 158.30v1M220.83 254.30v-1M220.83 158.30v1M224.03 254.30v-1M224.03 158.30v1M227.23 254.30v-1M227.23 158.30v1M233.63 254.30v-1M233.63 158.30v1M236.83 254.30v-1M236.83 158.30v1M240.03 254.30v-1M240.03 158.30v1M243.23 254.30v-1M243.23 158.30v1M249.63 254.30v-1M249.63 158.30v1M252.83 254.30v-1M252.83 158.30v1M256.03 254.30v-1M256.03 158.30v1M259.23 254.30v-1M259.23 158.30v1M265.63 254.30v-1M265.63 158.30v1M268.83 254.30v-1M268.83 158.30v1M174.43 253.20h1M270.43 253.20h-1M174.43 250.00h1M270.43 250.00h-1M174.43 243.60h1M270.43 243.60h-1M174.43 240.40h1M270.43 240.40h-1M174.43 237.20h1M270.43 237.20h-1M174.43 234.00h1M270.43 234.00h-1M174.43 227.60h1M270.43 227.60h-1M174.43 224.40h1M270.43 224.40h-1M174.43 221.20h1M270.43 221.20h-1M174.43 218.00h1M270.43 218.00h-1M174.43 211.60h1M270.43 211.60h-1M174.43 208.40h1M270.43 208.40h-1M174.43 205.20h1M270.43 205.20h-1M174.43 202.00h1M270.43 202.00h-1M174.43 195.60h1M270.43 195.60h-1M174.43 192.40h1M270.43 192.40h-1M174.43 189.20h1M270.43 189.20h-1M174.43 186.00h1M270.43 186.00h-1M174.43 179.60h1M270.43 179.60h-1M174.43 176.40h1M270.43 176.40h-1M174.43 173.20h1M270.43 173.20h-1M174.43 170.00h1M270.43 170.00h-1M174.43 163.60h1M270.43 163.60h-1M174.43 160.40h1M270.43 160.40h-1" stroke="#333" stroke-width="0.6"/>
<text transform="translate(222.82,153.00)" text-anchor="middle" font-size="10.8" fill="#111" stroke="#111" stroke-width="0.2" letter-spacing="0.78">EIS Fe XVI 262.9</text>
<text transform="translate(172.38,250.60)" text-anchor="end" font-size="9.6" fill="#111" stroke="#111" stroke-width="0.2" letter-spacing="0.55">30</text>
<text transform="translate(172.38,234.60)" text-anchor="end" font-size="9.6" fill="#111" stroke="#111" stroke-width="0.2" letter-spacing="0.55">40</text>
<text transform="translate(172.38,218.60)" text-anchor="end" font-size="9.6" fill="#111" stroke="#111" stroke-width="0.2" letter-spacing="0.55">50</text>
<text transform="translate(172.38,202.60)" text-anchor="end" font-size="9.6" fill="#111" stroke="#111" stroke-width="0.2" letter-spacing="0.55">60</text>
<text transform="translate(172.38,186.60)" text-anchor="end" font-size="9.6" fill="#111" stroke="#111" stroke-width="0.2" letter-spacing="0.55">70</text>
<text transform="translate(172.38,170.60)" text-anchor="end" font-size="9.6" fill="#111" stroke="#111" stroke-width="0.2" letter-spacing="0.55">80</text>
<text transform="translate(182.71,267.80)" text-anchor="middle" font-size="9.6" fill="#111" stroke="#111" stroke-width="0.2" letter-spacing="0.55">40</text>
<text transform="translate(198.71,267.80)" text-anchor="middle" font-size="9.6" fill="#111" stroke="#111" stroke-width="0.2" letter-spacing="0.55">50</text>
<text transform="translate(214.71,267.80)" text-anchor="middle" font-size="9.6" fill="#111" stroke="#111" stroke-width="0.2" letter-spacing="0.55">60</text>
<text transform="translate(230.71,267.80)" text-anchor="middle" font-size="9.6" fill="#111" stroke="#111" stroke-width="0.2" letter-spacing="0.55">70</text>
<text transform="translate(246.71,267.80)" text-anchor="middle" font-size="9.6" fill="#111" stroke="#111" stroke-width="0.2" letter-spacing="0.55">80</text>
<text transform="translate(262.70,267.80)" text-anchor="middle" font-size="9.6" fill="#111" stroke="#111" stroke-width="0.2" letter-spacing="0.55">90</text>
<text transform="translate(222.63,278.50)" text-anchor="middle" font-size="9.4" fill="#111" stroke="#111" stroke-width="0.2" letter-spacing="0.4">X (arcsecs)</text>
<defs><linearGradient id="cb11" x1="0" y1="0" x2="0" y2="1"><stop offset="0" stop-color="#000"/><stop offset="1" stop-color="#fff"/></linearGradient></defs>
<rect x="274.13" y="172.90" width="3.6" height="81.90" fill="url(#cb11)" stroke="#333" stroke-width="0.5"/>
<path d="M277.73 172.90h1.8" stroke="#222" stroke-width="0.6"/>
<text transform="translate(282.73,176.30)" font-size="9.6" fill="#111" stroke="#111" stroke-width="0.2" letter-spacing="0.55">4.0</text>
<path d="M277.73 193.38h1.8" stroke="#222" stroke-width="0.6"/>
<text transform="translate(282.73,196.78)" font-size="9.6" fill="#111" stroke="#111" stroke-width="0.2" letter-spacing="0.55">3.5</text>
<path d="M277.73 213.85h1.8" stroke="#222" stroke-width="0.6"/>
<text transform="translate(282.73,217.25)" font-size="9.6" fill="#111" stroke="#111" stroke-width="0.2" letter-spacing="0.55">3.0</text>
<path d="M277.73 234.33h1.8" stroke="#222" stroke-width="0.6"/>
<text transform="translate(282.73,237.73)" font-size="9.6" fill="#111" stroke="#111" stroke-width="0.2" letter-spacing="0.55">2.5</text>
<path d="M277.73 254.80h1.8" stroke="#222" stroke-width="0.6"/>
<text transform="translate(282.73,258.20)" font-size="9.6" fill="#111" stroke="#111" stroke-width="0.2" letter-spacing="0.55">2.0</text>
<text transform="translate(272.93,163.90)" font-size="9.4" fill="#111" stroke="#111" stroke-width="0.2" letter-spacing="0.5">log N<tspan font-size="5.8" dy="3" letter-spacing="0.1">ph</tspan></text>
<clipPath id="cp12"><rect x="319.36" y="158.30" width="96.0" height="96.0"/></clipPath>
<g clip-path="url(#cp12)"><g filter="url(#bl3)">
<rect x="311.2" y="150.1" width="16.4" height="16.4" fill="#bebebe"/>
<rect x="327.2" y="150.1" width="8.4" height="16.4" fill="#969696"/>
<rect x="335.2" y="150.1" width="8.4" height="16.4" fill="#c8c8c8"/>
<rect x="343.2" y="150.1" width="8.4" height="16.4" fill="#dcdcdc"/>
<rect x="351.2" y="150.1" width="8.4" height="16.4" fill="#e1e1e1"/>
<rect x="359.2" y="150.1" width="8.4" height="16.4" fill="#d7d7d7"/>
<rect x="367.2" y="150.1" width="8.4" height="16.4" fill="#d7d7d7"/>
<rect x="375.2" y="150.1" width="8.4" height="16.4" fill="#e1e1e1"/>
<rect x="383.2" y="150.1" width="8.4" height="16.4" fill="#e6e6e6"/>
<rect x="391.2" y="150.1" width="8.4" height="16.4" fill="#e6e6e6"/>
<rect x="399.2" y="150.1" width="8.4" height="16.4" fill="#e1e1e1"/>
<rect x="407.2" y="150.1" width="16.4" height="16.4" fill="#e1e1e1"/>
<rect x="311.2" y="166.1" width="16.4" height="8.4" fill="#b4b4b4"/>
<rect x="327.2" y="166.1" width="8.4" height="8.4" fill="#a0a0a0"/>
<rect x="335.2" y="166.1" width="8.4" height="8.4" fill="#d2d2d2"/>
<rect x="343.2" y="166.1" width="8.4" height="8.4" fill="#d7d7d7"/>
<rect x="351.2" y="166.1" width="8.4" height="8.4" fill="#c3c3c3"/>
<rect x="359.2" y="166.1" width="8.4" height="8.4" fill="#b4b4b4"/>
<rect x="367.2" y="166.1" width="8.4" height="8.4" fill="#bebebe"/>
<rect x="375.2" y="166.1" width="8.4" height="8.4" fill="#d7d7d7"/>
<rect x="383.2" y="166.1" width="8.4" height="8.4" fill="#e1e1e1"/>
<rect x="391.2" y="166.1" width="8.4" height="8.4" fill="#d7d7d7"/>
<rect x="399.2" y="166.1" width="8.4" height="8.4" fill="#cdcdcd"/>
<rect x="407.2" y="166.1" width="16.4" height="8.4" fill="#d7d7d7"/>
<rect x="311.2" y="174.1" width="16.4" height="8.4" fill="#d7d7d7"/>
<rect x="327.2" y="174.1" width="8.4" height="8.4" fill="#d7d7d7"/>
<rect x="335.2" y="174.1" width="8.4" height="8.4" fill="#d2d2d2"/>
<rect x="343.2" y="174.1" width="8.4" height="8.4" fill="#b4b4b4"/>
<rect x="351.2" y="174.1" width="8.4" height="8.4" fill="#969696"/>
<rect x="359.2" y="174.1" width="8.4" height="8.4" fill="#969696"/>
<rect x="367.2" y="174.1" width="8.4" height="8.4" fill="#969696"/>
<rect x="375.2" y="174.1" width="8.4" height="8.4" fill="#afafaf"/>
<rect x="383.2" y="174.1" width="8.4" height="8.4" fill="#d7d7d7"/>
<rect x="391.2" y="174.1" width="8.4" height="8.4" fill="#c8c8c8"/>
<rect x="399.2" y="174.1" width="8.4" height="8.4" fill="#c3c3c3"/>
<rect x="407.2" y="174.1" width="16.4" height="8.4" fill="#d7d7d7"/>
<rect x="311.2" y="182.1" width="16.4" height="8.4" fill="#dcdcdc"/>
<rect x="327.2" y="182.1" width="8.4" height="8.4" fill="#d2d2d2"/>
<rect x="335.2" y="182.1" width="8.4" height="8.4" fill="#b4b4b4"/>
<rect x="343.2" y="182.1" width="8.4" height="8.4" fill="#8c8c8c"/>
<rect x="351.2" y="182.1" width="8.4" height="8.4" fill="#787878"/>
<rect x="359.2" y="182.1" width="8.4" height="8.4" fill="#737373"/>
<rect x="367.2" y="182.1" width="8.4" height="8.4" fill="#7d7d7d"/>
<rect x="375.2" y="182.1" width="8.4" height="8.4" fill="#969696"/>
<rect x="383.2" y="182.1" width="8.4" height="8.4" fill="#c8c8c8"/>
<rect x="391.2" y="182.1" width="8.4" height="8.4" fill="#b9b9b9"/>
<rect x="399.2" y="182.1" width="8.4" height="8.4" fill="#cdcdcd"/>
<rect x="407.2" y="182.1" width="16.4" height="8.4" fill="#dcdcdc"/>
<rect x="311.2" y="190.1" width="16.4" height="8.4" fill="#d7d7d7"/>
<rect x="327.2" y="190.1" width="8.4" height="8.4" fill="#c3c3c3"/>
<rect x="335.2" y="190.1" width="8.4" height="8.4" fill="#a0a0a0"/>
<rect x="343.2" y="190.1" width="8.4" height="8.4" fill="#828282"/>
<rect x="351.2" y="190.1" width="8.4" height="8.4" fill="#6e6e6e"/>
<rect x="359.2" y="190.1" width="8.4" height="8.4" fill="#6e6e6e"/>
<rect x="367.2" y="190.1" width="8.4" height="8.4" fill="#737373"/>
<rect x="375.2" y="190.1" width="8.4" height="8.4" fill="#919191"/>
<rect x="383.2" y="190.1" width="8.4" height="8.4" fill="#bebebe"/>
<rect x="391.2" y="190.1" width="8.4" height="8.4" fill="#c3c3c3"/>
<rect x="399.2" y="190.1" width="8.4" height="8.4" fill="#d7d7d7"/>
<rect x="407.2" y="190.1" width="16.4" height="8.4" fill="#dcdcdc"/>
<rect x="311.2" y="198.1" width="16.4" height="8.4" fill="#d2d2d2"/>
<rect x="327.2" y="198.1" width="8.4" height="8.4" fill="#c8c8c8"/>
<rect x="335.2" y="198.1" width="8.4" height="8.4" fill="#a5a5a5"/>
<rect x="343.2" y="198.1" width="8.4" height="8.4" fill="#8c8c8c"/>
<rect x="351.2" y="198.1" width="8.4" height="8.4" fill="#787878"/>
<rect x="359.2" y="198.1" width="8.4" height="8.4" fill="#646464"/>
<rect x="367.2" y="198.1" width="8.4" height="8.4" fill="#646464"/>
<rect x="375.2" y="198.1" width="8.4" height="8.4" fill="#8c8c8c"/>
<rect x="383.2" y="198.1" width="8.4" height="8.4" fill="#c8c8c8"/>
<rect x="391.2" y="198.1" width="8.4" height="8.4" fill="#d2d2d2"/>
<rect x="399.2" y="198.1" width="8.4" height="8.4" fill="#d7d7d7"/>
<rect x="407.2" y="198.1" width="16.4" height="8.4" fill="#dcdcdc"/>
<rect x="311.2" y="206.1" width="16.4" height="8.4" fill="#d7d7d7"/>
<rect x="327.2" y="206.1" width="8.4" height="8.4" fill="#c8c8c8"/>
<rect x="335.2" y="206.1" width="8.4" height="8.4" fill="#b4b4b4"/>
<rect x="343.2" y="206.1" width="8.4" height="8.4" fill="#a5a5a5"/>
<rect x="351.2" y="206.1" width="8.4" height="8.4" fill="#969696"/>
<rect x="359.2" y="206.1" width="8.4" height="8.4" fill="#828282"/>
<rect x="367.2" y="206.1" width="8.4" height="8.4" fill="#8c8c8c"/>
<rect x="375.2" y="206.1" width="8.4" height="8.4" fill="#afafaf"/>
<rect x="383.2" y="206.1" width="8.4" height="8.4" fill="#d2d2d2"/>
<rect x="391.2" y="206.1" width="8.4" height="8.4" fill="#d7d7d7"/>
<rect x="399.2" y="206.1" width="8.4" height="8.4" fill="#d7d7d7"/>
<rect x="407.2" y="206.1" width="16.4" height="8.4" fill="#dcdcdc"/>
<rect x="311.2" y="214.1" width="16.4" height="8.4" fill="#d7d7d7"/>
<rect x="327.2" y="214.1" width="8.4" height="8.4" fill="#c8c8c8"/>
<rect x="335.2" y="214.1" width="8.4" height="8.4" fill="#b9b9b9"/>
<rect x="343.2" y="214.1" width="8.4" height="8.4" fill="#afafaf"/>
<rect x="351.2" y="214.1" width="8.4" height="8.4" fill="#aaaaaa"/>
<rect x="359.2" y="214.1" width="8.4" height="8.4" fill="#969696"/>
<rect x="367.2" y="214.1" width="8.4" height="8.4" fill="#a5a5a5"/>
<rect x="375.2" y="214.1" width="8.4" height="8.4" fill="#bebebe"/>
<rect x="383.2" y="214.1" width="8.4" height="8.4" fill="#d2d2d2"/>
<rect x="391.2" y="214.1" width="8.4" height="8.4" fill="#d7d7d7"/>
<rect x="399.2" y="214.1" width="8.4" height="8.4" fill="#d7d7d7"/>
<rect x="407.2" y="214.1" width="16.4" height="8.4" fill="#dcdcdc"/>
<rect x="311.2" y="222.1" width="16.4" height="8.4" fill="#d7d7d7"/>
<rect x="327.2" y="222.1" width="8.4" height="8.4" fill="#cdcdcd"/>
<rect x="335.2" y="222.1" width="8.4" height="8.4" fill="#c3c3c3"/>
<rect x="343.2" y="222.1" width="8.4" height="8.4" fill="#b9b9b9"/>
<rect x="351.2" y="222.1" width="8.4" height="8.4" fill="#b4b4b4"/>
<rect x="359.2" y="222.1" width="8.4" height="8.4" fill="#a0a0a0"/>
<rect x="367.2" y="222.1" width="8.4" height="8.4" fill="#afafaf"/>
<rect x="375.2" y="222.1" width="8.4" height="8.4" fill="#c8c8c8"/>
<rect x="383.2" y="222.1" width="8.4" height="8.4" fill="#d7d7d7"/>
<rect x="391.2" y="222.1" width="8.4" height="8.4" fill="#d7d7d7"/>
<rect x="399.2" y="222.1" width="8.4" height="8.4" fill="#d2d2d2"/>
<rect x="407.2" y="222.1" width="16.4" height="8.4" fill="#d7d7d7"/>
<rect x="311.2" y="230.1" width="16.4" height="8.4" fill="#d7d7d7"/>
<rect x="327.2" y="230.1" width="8.4" height="8.4" fill="#d2d2d2"/>
<rect x="335.2" y="230.1" width="8.4" height="8.4" fill="#cdcdcd"/>
<rect x="343.2" y="230.1" width="8.4" height="8.4" fill="#c8c8c8"/>
<rect x="351.2" y="230.1" width="8.4" height="8.4" fill="#c3c3c3"/>
<rect x="359.2" y="230.1" width="8.4" height="8.4" fill="#bebebe"/>
<rect x="367.2" y="230.1" width="8.4" height="8.4" fill="#c8c8c8"/>
<rect x="375.2" y="230.1" width="8.4" height="8.4" fill="#d2d2d2"/>
<rect x="383.2" y="230.1" width="8.4" height="8.4" fill="#d7d7d7"/>
<rect x="391.2" y="230.1" width="8.4" height="8.4" fill="#d7d7d7"/>
<rect x="399.2" y="230.1" width="8.4" height="8.4" fill="#d2d2d2"/>
<rect x="407.2" y="230.1" width="16.4" height="8.4" fill="#d7d7d7"/>
<rect x="311.2" y="238.1" width="16.4" height="8.4" fill="#dcdcdc"/>
<rect x="327.2" y="238.1" width="8.4" height="8.4" fill="#d7d7d7"/>
<rect x="335.2" y="238.1" width="8.4" height="8.4" fill="#d2d2d2"/>
<rect x="343.2" y="238.1" width="8.4" height="8.4" fill="#d2d2d2"/>
<rect x="351.2" y="238.1" width="8.4" height="8.4" fill="#d2d2d2"/>
<rect x="359.2" y="238.1" width="8.4" height="8.4" fill="#d2d2d2"/>
<rect x="367.2" y="238.1" width="8.4" height="8.4" fill="#d2d2d2"/>
<rect x="375.2" y="238.1" width="8.4" height="8.4" fill="#d7d7d7"/>
<rect x="383.2" y="238.1" width="8.4" height="8.4" fill="#d7d7d7"/>
<rect x="391.2" y="238.1" width="8.4" height="8.4" fill="#d7d7d7"/>
<rect x="399.2" y="238.1" width="8.4" height="8.4" fill="#d7d7d7"/>
<rect x="407.2" y="238.1" width="16.4" height="8.4" fill="#dcdcdc"/>
<rect x="311.2" y="246.1" width="16.4" height="16.4" fill="#e1e1e1"/>
<rect x="327.2" y="246.1" width="8.4" height="16.4" fill="#dcdcdc"/>
<rect x="335.2" y="246.1" width="8.4" height="16.4" fill="#dcdcdc"/>
<rect x="343.2" y="246.1" width="8.4" height="16.4" fill="#dcdcdc"/>
<rect x="351.2" y="246.1" width="8.4" height="16.4" fill="#dcdcdc"/>
<rect x="359.2" y="246.1" width="8.4" height="16.4" fill="#dcdcdc"/>
<rect x="367.2" y="246.1" width="8.4" height="16.4" fill="#dcdcdc"/>
<rect x="375.2" y="246.1" width="8.4" height="16.4" fill="#dcdcdc"/>
<rect x="383.2" y="246.1" width="8.4" height="16.4" fill="#dcdcdc"/>
<rect x="391.2" y="246.1" width="8.4" height="16.4" fill="#dcdcdc"/>
<rect x="399.2" y="246.1" width="8.4" height="16.4" fill="#dcdcdc"/>
<rect x="407.2" y="246.1" width="16.4" height="16.4" fill="#e1e1e1"/>
</g>
<g filter="url(#bl0p6)"><rect x="351.3" y="172.0" width="1.6" height="1.6" fill="#cdcdcd" fill-opacity="0.7"/><rect x="343.6" y="238.6" width="1.6" height="1.6" fill="#c5c5c5" fill-opacity="0.7"/><rect x="333.8" y="197.5" width="1.6" height="1.6" fill="#dfdfdf" fill-opacity="0.7"/><rect x="364.4" y="242.4" width="1.6" height="1.6" fill="#c1c1c1" fill-opacity="0.7"/><rect x="353.4" y="174.0" width="1.6" height="1.6" fill="#808080" fill-opacity="0.7"/><rect x="372.2" y="170.2" width="1.6" height="1.6" fill="#acacac" fill-opacity="0.7"/><rect x="340.7" y="227.1" width="1.6" height="1.6" fill="#adadad" fill-opacity="0.7"/><rect x="409.3" y="243.4" width="1.6" height="1.6" fill="#cbcbcb" fill-opacity="0.7"/><rect x="340.6" y="205.8" width="1.6" height="1.6" fill="#c1c1c1" fill-opacity="0.7"/><rect x="407.3" y="243.3" width="1.6" height="1.6" fill="#c7c7c7" fill-opacity="0.7"/><rect x="366.9" y="240.4" width="1.6" height="1.6" fill="#c1c1c1" fill-opacity="0.7"/><rect x="402.3" y="209.8" width="1.6" height="1.6" fill="#c8c8c8" fill-opacity="0.7"/><rect x="368.0" y="196.6" width="1.6" height="1.6" fill="#888888" fill-opacity="0.7"/><rect x="378.1" y="172.7" width="1.6" height="1.6" fill="#c3c3c3" fill-opacity="0.7"/><rect x="322.0" y="225.7" width="1.6" height="1.6" fill="#cacaca" fill-opacity="0.7"/><rect x="385.4" y="237.9" width="1.6" height="1.6" fill="#eeeeee" fill-opacity="0.7"/><rect x="370.7" y="230.5" width="1.6" height="1.6" fill="#b4b4b4" fill-opacity="0.7"/><rect x="386.2" y="249.1" width="1.6" height="1.6" fill="#d1d1d1" fill-opacity="0.7"/><rect x="374.0" y="218.8" width="1.6" height="1.6" fill="#959595" fill-opacity="0.7"/><rect x="331.2" y="185.0" width="1.6" height="1.6" fill="#e0e0e0" fill-opacity="0.7"/><rect x="375.4" y="228.2" width="1.6" height="1.6" fill="#b4b4b4" fill-opacity="0.7"/><rect x="411.5" y="179.4" width="1.6" height="1.6" fill="#c7c7c7" fill-opacity="0.7"/><rect x="361.8" y="174.3" width="1.6" height="1.6" fill="#aeaeae" fill-opacity="0.7"/><rect x="402.6" y="172.6" width="1.6" height="1.6" fill="#e5e5e5" fill-opacity="0.7"/><rect x="385.9" y="212.9" width="1.6" height="1.6" fill="#e3e3e3" fill-opacity="0.7"/><rect x="361.5" y="189.2" width="1.6" height="1.6" fill="#868686" fill-opacity="0.7"/><rect x="358.7" y="236.2" width="1.6" height="1.6" fill="#b4b4b4" fill-opacity="0.7"/><rect x="388.6" y="167.8" width="1.6" height="1.6" fill="#cbcbcb" fill-opacity="0.7"/><rect x="372.1" y="187.0" width="1.6" height="1.6" fill="#919191" fill-opacity="0.7"/><rect x="394.5" y="241.4" width="1.6" height="1.6" fill="#c0c0c0" fill-opacity="0.7"/><rect x="389.8" y="213.3" width="1.6" height="1.6" fill="#c2c2c2" fill-opacity="0.7"/><rect x="389.5" y="208.1" width="1.6" height="1.6" fill="#e9e9e9" fill-opacity="0.7"/><rect x="344.0" y="175.4" width="1.6" height="1.6" fill="#c2c2c2" fill-opacity="0.7"/><rect x="402.8" y="182.2" width="1.6" height="1.6" fill="#bcbcbc" fill-opacity="0.7"/><rect x="393.9" y="249.3" width="1.6" height="1.6" fill="#e7e7e7" fill-opacity="0.7"/><rect x="361.0" y="167.1" width="1.6" height="1.6" fill="#a1a1a1" fill-opacity="0.7"/><rect x="343.4" y="160.6" width="1.6" height="1.6" fill="#cbcbcb" fill-opacity="0.7"/><rect x="359.1" y="221.0" width="1.6" height="1.6" fill="#a0a0a0" fill-opacity="0.7"/><rect x="329.6" y="175.6" width="1.6" height="1.6" fill="#c8c8c8" fill-opacity="0.7"/><rect x="375.0" y="205.7" width="1.6" height="1.6" fill="#a4a4a4" fill-opacity="0.7"/><rect x="340.4" y="208.8" width="1.6" height="1.6" fill="#a3a3a3" fill-opacity="0.7"/><rect x="386.1" y="183.4" width="1.6" height="1.6" fill="#e0e0e0" fill-opacity="0.7"/><rect x="361.4" y="232.0" width="1.6" height="1.6" fill="#a9a9a9" fill-opacity="0.7"/><rect x="371.6" y="218.3" width="1.6" height="1.6" fill="#989898" fill-opacity="0.7"/><rect x="363.5" y="249.5" width="1.6" height="1.6" fill="#f0f0f0" fill-opacity="0.7"/><rect x="386.9" y="172.4" width="1.6" height="1.6" fill="#cacaca" fill-opacity="0.7"/><rect x="377.6" y="206.4" width="1.6" height="1.6" fill="#c4c4c4" fill-opacity="0.7"/><rect x="377.2" y="185.5" width="1.6" height="1.6" fill="#828282" fill-opacity="0.7"/><rect x="349.6" y="180.7" width="1.6" height="1.6" fill="#bfbfbf" fill-opacity="0.7"/><rect x="353.7" y="225.4" width="1.6" height="1.6" fill="#9e9e9e" fill-opacity="0.7"/><rect x="397.4" y="233.1" width="1.6" height="1.6" fill="#e3e3e3" fill-opacity="0.7"/><rect x="370.8" y="246.4" width="1.6" height="1.6" fill="#c9c9c9" fill-opacity="0.7"/><rect x="351.6" y="162.7" width="1.6" height="1.6" fill="#d4d4d4" fill-opacity="0.7"/><rect x="406.2" y="204.1" width="1.6" height="1.6" fill="#e1e1e1" fill-opacity="0.7"/><rect x="356.0" y="186.8" width="1.6" height="1.6" fill="#8a8a8a" fill-opacity="0.7"/><rect x="412.8" y="224.5" width="1.6" height="1.6" fill="#cbcbcb" fill-opacity="0.7"/><rect x="328.4" y="173.1" width="1.6" height="1.6" fill="#898989" fill-opacity="0.7"/><rect x="384.8" y="174.0" width="1.6" height="1.6" fill="#e7e7e7" fill-opacity="0.7"/><rect x="352.0" y="216.0" width="1.6" height="1.6" fill="#9f9f9f" fill-opacity="0.7"/><rect x="363.4" y="225.2" width="1.6" height="1.6" fill="#939393" fill-opacity="0.7"/><rect x="403.7" y="177.2" width="1.6" height="1.6" fill="#d6d6d6" fill-opacity="0.7"/><rect x="320.5" y="170.7" width="1.6" height="1.6" fill="#bfbfbf" fill-opacity="0.7"/><rect x="371.7" y="208.3" width="1.6" height="1.6" fill="#757575" fill-opacity="0.7"/><rect x="402.8" y="177.7" width="1.6" height="1.6" fill="#cecece" fill-opacity="0.7"/><rect x="334.9" y="209.5" width="1.6" height="1.6" fill="#cacaca" fill-opacity="0.7"/><rect x="320.1" y="191.7" width="1.6" height="1.6" fill="#eaeaea" fill-opacity="0.7"/><rect x="389.2" y="198.8" width="1.6" height="1.6" fill="#bdbdbd" fill-opacity="0.7"/><rect x="321.8" y="174.4" width="1.6" height="1.6" fill="#c9c9c9" fill-opacity="0.7"/><rect x="357.4" y="177.3" width="1.6" height="1.6" fill="#acacac" fill-opacity="0.7"/><rect x="343.2" y="244.0" width="1.6" height="1.6" fill="#e7e7e7" fill-opacity="0.7"/><rect x="375.1" y="231.4" width="1.6" height="1.6" fill="#c2c2c2" fill-opacity="0.7"/><rect x="363.1" y="218.4" width="1.6" height="1.6" fill="#a8a8a8" fill-opacity="0.7"/><rect x="350.9" y="197.9" width="1.6" height="1.6" fill="#6d6d6d" fill-opacity="0.7"/><rect x="357.6" y="208.3" width="1.6" height="1.6" fill="#ababab" fill-opacity="0.7"/><rect x="337.4" y="211.1" width="1.6" height="1.6" fill="#c7c7c7" fill-opacity="0.7"/><rect x="332.6" y="173.7" width="1.6" height="1.6" fill="#cccccc" fill-opacity="0.7"/><rect x="336.6" y="201.8" width="1.6" height="1.6" fill="#939393" fill-opacity="0.7"/><rect x="361.7" y="161.3" width="1.6" height="1.6" fill="#c2c2c2" fill-opacity="0.7"/><rect x="346.8" y="163.7" width="1.6" height="1.6" fill="#f2f2f2" fill-opacity="0.7"/><rect x="321.5" y="185.3" width="1.6" height="1.6" fill="#ececec" fill-opacity="0.7"/><rect x="396.9" y="182.2" width="1.6" height="1.6" fill="#a5a5a5" fill-opacity="0.7"/><rect x="355.7" y="199.6" width="1.6" height="1.6" fill="#838383" fill-opacity="0.7"/><rect x="374.0" y="222.0" width="1.6" height="1.6" fill="#a4a4a4" fill-opacity="0.7"/><rect x="393.0" y="223.5" width="1.6" height="1.6" fill="#c5c5c5" fill-opacity="0.7"/><rect x="377.6" y="187.1" width="1.6" height="1.6" fill="#7f7f7f" fill-opacity="0.7"/><rect x="330.1" y="171.7" width="1.6" height="1.6" fill="#949494" fill-opacity="0.7"/><rect x="383.8" y="222.9" width="1.6" height="1.6" fill="#c2c2c2" fill-opacity="0.7"/><rect x="343.3" y="235.8" width="1.6" height="1.6" fill="#b1b1b1" fill-opacity="0.7"/><rect x="343.3" y="232.6" width="1.6" height="1.6" fill="#d6d6d6" fill-opacity="0.7"/><rect x="362.0" y="246.2" width="1.6" height="1.6" fill="#f2f2f2" fill-opacity="0.7"/><rect x="348.1" y="233.3" width="1.6" height="1.6" fill="#dedede" fill-opacity="0.7"/><rect x="377.4" y="216.0" width="1.6" height="1.6" fill="#d1d1d1" fill-opacity="0.7"/><rect x="412.2" y="242.4" width="1.6" height="1.6" fill="#c8c8c8" fill-opacity="0.7"/><rect x="412.3" y="218.4" width="1.6" height="1.6" fill="#cacaca" fill-opacity="0.7"/><rect x="363.9" y="212.1" width="1.6" height="1.6" fill="#777777" fill-opacity="0.7"/><rect x="361.2" y="160.8" width="1.6" height="1.6" fill="#eeeeee" fill-opacity="0.7"/><rect x="365.0" y="171.0" width="1.6" height="1.6" fill="#bfbfbf" fill-opacity="0.7"/><rect x="378.0" y="162.9" width="1.6" height="1.6" fill="#cecece" fill-opacity="0.7"/><rect x="329.5" y="163.5" width="1.6" height="1.6" fill="#ababab" fill-opacity="0.7"/><rect x="392.9" y="169.2" width="1.6" height="1.6" fill="#e7e7e7" fill-opacity="0.7"/><rect x="336.2" y="240.2" width="1.6" height="1.6" fill="#dedede" fill-opacity="0.7"/><rect x="390.6" y="222.5" width="1.6" height="1.6" fill="#ebebeb" fill-opacity="0.7"/><rect x="350.7" y="249.1" width="1.6" height="1.6" fill="#cccccc" fill-opacity="0.7"/><rect x="393.5" y="241.5" width="1.6" height="1.6" fill="#c0c0c0" fill-opacity="0.7"/><rect x="355.2" y="228.1" width="1.6" height="1.6" fill="#9e9e9e" fill-opacity="0.7"/><rect x="342.9" y="230.5" width="1.6" height="1.6" fill="#b3b3b3" fill-opacity="0.7"/><rect x="388.4" y="220.6" width="1.6" height="1.6" fill="#e5e5e5" fill-opacity="0.7"/><rect x="410.8" y="159.8" width="1.6" height="1.6" fill="#f4f4f4" fill-opacity="0.7"/><rect x="328.2" y="208.3" width="1.6" height="1.6" fill="#e0e0e0" fill-opacity="0.7"/><rect x="325.6" y="210.6" width="1.6" height="1.6" fill="#c0c0c0" fill-opacity="0.7"/><rect x="372.3" y="185.2" width="1.6" height="1.6" fill="#686868" fill-opacity="0.7"/><rect x="323.8" y="207.4" width="1.6" height="1.6" fill="#e9e9e9" fill-opacity="0.7"/><rect x="342.2" y="187.3" width="1.6" height="1.6" fill="#cacaca" fill-opacity="0.7"/><rect x="348.6" y="164.6" width="1.6" height="1.6" fill="#f1f1f1" fill-opacity="0.7"/><rect x="365.5" y="217.0" width="1.6" height="1.6" fill="#868686" fill-opacity="0.7"/><rect x="358.7" y="242.8" width="1.6" height="1.6" fill="#c6c6c6" fill-opacity="0.7"/><rect x="353.2" y="206.2" width="1.6" height="1.6" fill="#adadad" fill-opacity="0.7"/><rect x="367.4" y="209.3" width="1.6" height="1.6" fill="#777777" fill-opacity="0.7"/><rect x="347.7" y="184.9" width="1.6" height="1.6" fill="#a0a0a0" fill-opacity="0.7"/><rect x="373.1" y="161.2" width="1.6" height="1.6" fill="#c7c7c7" fill-opacity="0.7"/><rect x="397.0" y="160.5" width="1.6" height="1.6" fill="#d2d2d2" fill-opacity="0.7"/><rect x="333.1" y="214.4" width="1.6" height="1.6" fill="#b3b3b3" fill-opacity="0.7"/><rect x="375.2" y="188.4" width="1.6" height="1.6" fill="#888888" fill-opacity="0.7"/><rect x="360.2" y="192.9" width="1.6" height="1.6" fill="#5a5a5a" fill-opacity="0.7"/><rect x="343.4" y="206.9" width="1.6" height="1.6" fill="#929292" fill-opacity="0.7"/><rect x="390.4" y="251.2" width="1.6" height="1.6" fill="#c5c5c5" fill-opacity="0.7"/><rect x="319.5" y="189.5" width="1.6" height="1.6" fill="#e7e7e7" fill-opacity="0.7"/><rect x="333.5" y="222.9" width="1.6" height="1.6" fill="#b8b8b8" fill-opacity="0.7"/><rect x="371.1" y="196.2" width="1.6" height="1.6" fill="#828282" fill-opacity="0.7"/><rect x="389.3" y="201.9" width="1.6" height="1.6" fill="#bbbbbb" fill-opacity="0.7"/><rect x="358.8" y="168.3" width="1.6" height="1.6" fill="#c5c5c5" fill-opacity="0.7"/><rect x="369.3" y="177.1" width="1.6" height="1.6" fill="#878787" fill-opacity="0.7"/><rect x="345.9" y="208.2" width="1.6" height="1.6" fill="#9b9b9b" fill-opacity="0.7"/><rect x="370.3" y="232.1" width="1.6" height="1.6" fill="#d5d5d5" fill-opacity="0.7"/><rect x="385.3" y="201.3" width="1.6" height="1.6" fill="#bdbdbd" fill-opacity="0.7"/><rect x="350.9" y="239.2" width="1.6" height="1.6" fill="#e8e8e8" fill-opacity="0.7"/><rect x="332.4" y="235.4" width="1.6" height="1.6" fill="#dcdcdc" fill-opacity="0.7"/><rect x="347.3" y="239.6" width="1.6" height="1.6" fill="#c2c2c2" fill-opacity="0.7"/><rect x="374.7" y="220.9" width="1.6" height="1.6" fill="#cbcbcb" fill-opacity="0.7"/><rect x="321.5" y="249.9" width="1.6" height="1.6" fill="#f1f1f1" fill-opacity="0.7"/><rect x="334.8" y="204.2" width="1.6" height="1.6" fill="#959595" fill-opacity="0.7"/><rect x="405.2" y="246.1" width="1.6" height="1.6" fill="#c5c5c5" fill-opacity="0.7"/><rect x="365.9" y="170.0" width="1.6" height="1.6" fill="#a8a8a8" fill-opacity="0.7"/><rect x="344.0" y="236.2" width="1.6" height="1.6" fill="#bdbdbd" fill-opacity="0.7"/><rect x="348.7" y="176.6" width="1.6" height="1.6" fill="#c1c1c1" fill-opacity="0.7"/><rect x="336.1" y="212.7" width="1.6" height="1.6" fill="#a4a4a4" fill-opacity="0.7"/><rect x="349.6" y="165.5" width="1.6" height="1.6" fill="#ececec" fill-opacity="0.7"/><rect x="383.3" y="207.9" width="1.6" height="1.6" fill="#bfbfbf" fill-opacity="0.7"/><rect x="383.0" y="209.5" width="1.6" height="1.6" fill="#c0c0c0" fill-opacity="0.7"/><rect x="320.4" y="218.5" width="1.6" height="1.6" fill="#e5e5e5" fill-opacity="0.7"/><rect x="328.7" y="196.6" width="1.6" height="1.6" fill="#b4b4b4" fill-opacity="0.7"/><rect x="398.8" y="224.0" width="1.6" height="1.6" fill="#e5e5e5" fill-opacity="0.7"/><rect x="362.8" y="185.8" width="1.6" height="1.6" fill="#7e7e7e" fill-opacity="0.7"/><rect x="358.2" y="234.8" width="1.6" height="1.6" fill="#d9d9d9" fill-opacity="0.7"/><rect x="330.9" y="189.1" width="1.6" height="1.6" fill="#e3e3e3" fill-opacity="0.7"/><rect x="372.0" y="225.7" width="1.6" height="1.6" fill="#9c9c9c" fill-opacity="0.7"/><rect x="384.5" y="212.9" width="1.6" height="1.6" fill="#e2e2e2" fill-opacity="0.7"/><rect x="343.0" y="197.8" width="1.6" height="1.6" fill="#7e7e7e" fill-opacity="0.7"/><rect x="393.7" y="176.6" width="1.6" height="1.6" fill="#dddddd" fill-opacity="0.7"/><rect x="339.7" y="244.1" width="1.6" height="1.6" fill="#e2e2e2" fill-opacity="0.7"/><rect x="405.1" y="168.8" width="1.6" height="1.6" fill="#b6b6b6" fill-opacity="0.7"/><rect x="373.4" y="188.7" width="1.6" height="1.6" fill="#898989" fill-opacity="0.7"/><rect x="359.7" y="209.7" width="1.6" height="1.6" fill="#737373" fill-opacity="0.7"/><rect x="372.1" y="198.0" width="1.6" height="1.6" fill="#4e4e4e" fill-opacity="0.7"/><rect x="402.2" y="192.2" width="1.6" height="1.6" fill="#e8e8e8" fill-opacity="0.7"/><rect x="368.0" y="202.4" width="1.6" height="1.6" fill="#797979" fill-opacity="0.7"/><rect x="399.2" y="165.9" width="1.6" height="1.6" fill="#dbdbdb" fill-opacity="0.7"/><rect x="327.2" y="198.6" width="1.6" height="1.6" fill="#bababa" fill-opacity="0.7"/><rect x="319.8" y="177.9" width="1.6" height="1.6" fill="#bfbfbf" fill-opacity="0.7"/><rect x="322.7" y="203.9" width="1.6" height="1.6" fill="#e9e9e9" fill-opacity="0.7"/><rect x="371.3" y="213.2" width="1.6" height="1.6" fill="#828282" fill-opacity="0.7"/><rect x="338.3" y="191.6" width="1.6" height="1.6" fill="#969696" fill-opacity="0.7"/><rect x="363.8" y="231.9" width="1.6" height="1.6" fill="#acacac" fill-opacity="0.7"/><rect x="335.6" y="182.9" width="1.6" height="1.6" fill="#c1c1c1" fill-opacity="0.7"/><rect x="338.2" y="162.2" width="1.6" height="1.6" fill="#d9d9d9" fill-opacity="0.7"/><rect x="410.6" y="210.1" width="1.6" height="1.6" fill="#cfcfcf" fill-opacity="0.7"/><rect x="367.0" y="208.2" width="1.6" height="1.6" fill="#787878" fill-opacity="0.7"/><rect x="337.4" y="191.0" width="1.6" height="1.6" fill="#b4b4b4" fill-opacity="0.7"/><rect x="368.6" y="227.7" width="1.6" height="1.6" fill="#bbbbbb" fill-opacity="0.7"/><rect x="330.0" y="224.6" width="1.6" height="1.6" fill="#dadada" fill-opacity="0.7"/><rect x="400.4" y="211.8" width="1.6" height="1.6" fill="#eaeaea" fill-opacity="0.7"/><rect x="331.7" y="211.7" width="1.6" height="1.6" fill="#b6b6b6" fill-opacity="0.7"/><rect x="348.2" y="176.9" width="1.6" height="1.6" fill="#cbcbcb" fill-opacity="0.7"/><rect x="401.9" y="207.4" width="1.6" height="1.6" fill="#e5e5e5" fill-opacity="0.7"/><rect x="323.9" y="191.4" width="1.6" height="1.6" fill="#e2e2e2" fill-opacity="0.7"/><rect x="365.1" y="206.7" width="1.6" height="1.6" fill="#6c6c6c" fill-opacity="0.7"/><rect x="334.7" y="242.8" width="1.6" height="1.6" fill="#bebebe" fill-opacity="0.7"/><rect x="364.1" y="210.3" width="1.6" height="1.6" fill="#777777" fill-opacity="0.7"/><rect x="368.6" y="161.3" width="1.6" height="1.6" fill="#cacaca" fill-opacity="0.7"/><rect x="326.5" y="166.9" width="1.6" height="1.6" fill="#a2a2a2" fill-opacity="0.7"/><rect x="364.2" y="189.9" width="1.6" height="1.6" fill="#5f5f5f" fill-opacity="0.7"/><rect x="323.2" y="170.5" width="1.6" height="1.6" fill="#a9a9a9" fill-opacity="0.7"/><rect x="353.5" y="159.8" width="1.6" height="1.6" fill="#f7f7f7" fill-opacity="0.7"/><rect x="331.6" y="160.0" width="1.6" height="1.6" fill="#8a8a8a" fill-opacity="0.7"/><rect x="375.2" y="239.1" width="1.6" height="1.6" fill="#e3e3e3" fill-opacity="0.7"/><rect x="321.1" y="203.4" width="1.6" height="1.6" fill="#c0c0c0" fill-opacity="0.7"/><rect x="341.8" y="203.7" width="1.6" height="1.6" fill="#b1b1b1" fill-opacity="0.7"/><rect x="376.1" y="179.9" width="1.6" height="1.6" fill="#9d9d9d" fill-opacity="0.7"/><rect x="381.7" y="180.7" width="1.6" height="1.6" fill="#a4a4a4" fill-opacity="0.7"/><rect x="397.2" y="181.7" width="1.6" height="1.6" fill="#c7c7c7" fill-opacity="0.7"/><rect x="381.1" y="215.7" width="1.6" height="1.6" fill="#ababab" fill-opacity="0.7"/><rect x="406.0" y="197.2" width="1.6" height="1.6" fill="#e9e9e9" fill-opacity="0.7"/><rect x="334.0" y="250.5" width="1.6" height="1.6" fill="#c9c9c9" fill-opacity="0.7"/><rect x="346.7" y="230.1" width="1.6" height="1.6" fill="#bababa" fill-opacity="0.7"/><rect x="333.8" y="183.7" width="1.6" height="1.6" fill="#dfdfdf" fill-opacity="0.7"/><rect x="329.4" y="226.9" width="1.6" height="1.6" fill="#bcbcbc" fill-opacity="0.7"/><rect x="398.7" y="161.9" width="1.6" height="1.6" fill="#cdcdcd" fill-opacity="0.7"/><rect x="409.8" y="225.8" width="1.6" height="1.6" fill="#e7e7e7" fill-opacity="0.7"/><rect x="391.3" y="183.3" width="1.6" height="1.6" fill="#a5a5a5" fill-opacity="0.7"/><rect x="387.5" y="182.3" width="1.6" height="1.6" fill="#d3d3d3" fill-opacity="0.7"/><rect x="340.8" y="197.3" width="1.6" height="1.6" fill="#969696" fill-opacity="0.7"/><rect x="398.1" y="207.2" width="1.6" height="1.6" fill="#c4c4c4" fill-opacity="0.7"/><rect x="326.6" y="195.7" width="1.6" height="1.6" fill="#b7b7b7" fill-opacity="0.7"/><rect x="335.2" y="208.9" width="1.6" height="1.6" fill="#9f9f9f" fill-opacity="0.7"/><rect x="364.5" y="169.8" width="1.6" height="1.6" fill="#9d9d9d" fill-opacity="0.7"/><rect x="389.6" y="172.0" width="1.6" height="1.6" fill="#eeeeee" fill-opacity="0.7"/><rect x="353.3" y="186.4" width="1.6" height="1.6" fill="#686868" fill-opacity="0.7"/><rect x="374.9" y="239.6" width="1.6" height="1.6" fill="#ececec" fill-opacity="0.7"/><rect x="371.8" y="249.2" width="1.6" height="1.6" fill="#cdcdcd" fill-opacity="0.7"/><rect x="364.7" y="243.2" width="1.6" height="1.6" fill="#bebebe" fill-opacity="0.7"/><rect x="390.1" y="207.3" width="1.6" height="1.6" fill="#bcbcbc" fill-opacity="0.7"/><rect x="325.7" y="171.0" width="1.6" height="1.6" fill="#c7c7c7" fill-opacity="0.7"/><rect x="323.4" y="223.2" width="1.6" height="1.6" fill="#ededed" fill-opacity="0.7"/><rect x="372.7" y="186.2" width="1.6" height="1.6" fill="#898989" fill-opacity="0.7"/><rect x="321.8" y="234.0" width="1.6" height="1.6" fill="#efefef" fill-opacity="0.7"/><rect x="352.3" y="203.1" width="1.6" height="1.6" fill="#656565" fill-opacity="0.7"/><rect x="356.4" y="169.3" width="1.6" height="1.6" fill="#d8d8d8" fill-opacity="0.7"/><rect x="384.4" y="206.2" width="1.6" height="1.6" fill="#bdbdbd" fill-opacity="0.7"/><rect x="338.0" y="218.2" width="1.6" height="1.6" fill="#cdcdcd" fill-opacity="0.7"/><rect x="396.5" y="181.3" width="1.6" height="1.6" fill="#b5b5b5" fill-opacity="0.7"/><rect x="380.0" y="183.5" width="1.6" height="1.6" fill="#838383" fill-opacity="0.7"/><rect x="368.1" y="185.7" width="1.6" height="1.6" fill="#929292" fill-opacity="0.7"/><rect x="340.9" y="190.6" width="1.6" height="1.6" fill="#b4b4b4" fill-opacity="0.7"/><rect x="400.6" y="217.0" width="1.6" height="1.6" fill="#e9e9e9" fill-opacity="0.7"/><rect x="388.2" y="218.7" width="1.6" height="1.6" fill="#dcdcdc" fill-opacity="0.7"/><rect x="401.1" y="194.9" width="1.6" height="1.6" fill="#e2e2e2" fill-opacity="0.7"/><rect x="333.2" y="195.7" width="1.6" height="1.6" fill="#d4d4d4" fill-opacity="0.7"/><rect x="364.9" y="234.6" width="1.6" height="1.6" fill="#b0b0b0" fill-opacity="0.7"/><rect x="392.2" y="189.6" width="1.6" height="1.6" fill="#cfcfcf" fill-opacity="0.7"/><rect x="322.0" y="229.4" width="1.6" height="1.6" fill="#e2e2e2" fill-opacity="0.7"/><rect x="358.1" y="218.0" width="1.6" height="1.6" fill="#949494" fill-opacity="0.7"/><rect x="359.4" y="212.1" width="1.6" height="1.6" fill="#999999" fill-opacity="0.7"/><rect x="344.4" y="215.6" width="1.6" height="1.6" fill="#999999" fill-opacity="0.7"/><rect x="332.7" y="232.0" width="1.6" height="1.6" fill="#e9e9e9" fill-opacity="0.7"/><rect x="328.8" y="207.1" width="1.6" height="1.6" fill="#d8d8d8" fill-opacity="0.7"/><rect x="398.7" y="213.0" width="1.6" height="1.6" fill="#eeeeee" fill-opacity="0.7"/><rect x="321.7" y="224.7" width="1.6" height="1.6" fill="#ebebeb" fill-opacity="0.7"/><rect x="412.8" y="211.3" width="1.6" height="1.6" fill="#f2f2f2" fill-opacity="0.7"/><rect x="329.0" y="246.2" width="1.6" height="1.6" fill="#c5c5c5" fill-opacity="0.7"/><rect x="371.6" y="226.1" width="1.6" height="1.6" fill="#bcbcbc" fill-opacity="0.7"/><rect x="378.8" y="240.3" width="1.6" height="1.6" fill="#e1e1e1" fill-opacity="0.7"/><rect x="375.7" y="194.8" width="1.6" height="1.6" fill="#a8a8a8" fill-opacity="0.7"/><rect x="345.4" y="162.3" width="1.6" height="1.6" fill="#cacaca" fill-opacity="0.7"/><rect x="372.1" y="176.8" width="1.6" height="1.6" fill="#878787" fill-opacity="0.7"/><rect x="403.9" y="216.3" width="1.6" height="1.6" fill="#c6c6c6" fill-opacity="0.7"/><rect x="350.9" y="192.2" width="1.6" height="1.6" fill="#808080" fill-opacity="0.7"/><rect x="331.8" y="241.1" width="1.6" height="1.6" fill="#c2c2c2" fill-opacity="0.7"/><rect x="384.9" y="216.9" width="1.6" height="1.6" fill="#e9e9e9" fill-opacity="0.7"/><rect x="334.8" y="191.7" width="1.6" height="1.6" fill="#8b8b8b" fill-opacity="0.7"/><rect x="365.5" y="200.4" width="1.6" height="1.6" fill="#707070" fill-opacity="0.7"/><rect x="384.3" y="251.6" width="1.6" height="1.6" fill="#c8c8c8" fill-opacity="0.7"/><rect x="410.7" y="160.3" width="1.6" height="1.6" fill="#f5f5f5" fill-opacity="0.7"/><rect x="356.2" y="239.0" width="1.6" height="1.6" fill="#e1e1e1" fill-opacity="0.7"/><rect x="350.2" y="206.9" width="1.6" height="1.6" fill="#b8b8b8" fill-opacity="0.7"/><rect x="339.0" y="221.0" width="1.6" height="1.6" fill="#a5a5a5" fill-opacity="0.7"/><rect x="370.8" y="210.7" width="1.6" height="1.6" fill="#969696" fill-opacity="0.7"/><rect x="382.7" y="176.1" width="1.6" height="1.6" fill="#e7e7e7" fill-opacity="0.7"/><rect x="367.5" y="236.1" width="1.6" height="1.6" fill="#dadada" fill-opacity="0.7"/><rect x="374.7" y="189.4" width="1.6" height="1.6" fill="#a7a7a7" fill-opacity="0.7"/><rect x="384.6" y="172.5" width="1.6" height="1.6" fill="#f4f4f4" fill-opacity="0.7"/><rect x="341.0" y="198.3" width="1.6" height="1.6" fill="#949494" fill-opacity="0.7"/><rect x="381.3" y="192.6" width="1.6" height="1.6" fill="#818181" fill-opacity="0.7"/><rect x="338.0" y="252.4" width="1.6" height="1.6" fill="#e9e9e9" fill-opacity="0.7"/><rect x="375.2" y="249.4" width="1.6" height="1.6" fill="#cccccc" fill-opacity="0.7"/><rect x="334.6" y="245.5" width="1.6" height="1.6" fill="#efefef" fill-opacity="0.7"/><rect x="350.8" y="227.3" width="1.6" height="1.6" fill="#c7c7c7" fill-opacity="0.7"/><rect x="321.9" y="238.9" width="1.6" height="1.6" fill="#cbcbcb" fill-opacity="0.7"/><rect x="368.4" y="223.0" width="1.6" height="1.6" fill="#9e9e9e" fill-opacity="0.7"/><rect x="411.5" y="198.3" width="1.6" height="1.6" fill="#e9e9e9" fill-opacity="0.7"/><rect x="389.6" y="200.8" width="1.6" height="1.6" fill="#d8d8d8" fill-opacity="0.7"/><rect x="332.5" y="236.9" width="1.6" height="1.6" fill="#dedede" fill-opacity="0.7"/><rect x="343.5" y="245.8" width="1.6" height="1.6" fill="#e9e9e9" fill-opacity="0.7"/><rect x="377.0" y="217.7" width="1.6" height="1.6" fill="#aaaaaa" fill-opacity="0.7"/><rect x="401.8" y="217.2" width="1.6" height="1.6" fill="#bfbfbf" fill-opacity="0.7"/><rect x="357.4" y="204.4" width="1.6" height="1.6" fill="#606060" fill-opacity="0.7"/><rect x="359.8" y="239.8" width="1.6" height="1.6" fill="#e7e7e7" fill-opacity="0.7"/><rect x="356.3" y="245.1" width="1.6" height="1.6" fill="#bcbcbc" fill-opacity="0.7"/><rect x="347.1" y="184.3" width="1.6" height="1.6" fill="#a0a0a0" fill-opacity="0.7"/><rect x="352.9" y="248.2" width="1.6" height="1.6" fill="#c8c8c8" fill-opacity="0.7"/><rect x="365.6" y="158.6" width="1.6" height="1.6" fill="#e9e9e9" fill-opacity="0.7"/><rect x="351.8" y="196.5" width="1.6" height="1.6" fill="#636363" fill-opacity="0.7"/><rect x="374.2" y="187.0" width="1.6" height="1.6" fill="#919191" fill-opacity="0.7"/><rect x="396.9" y="251.1" width="1.6" height="1.6" fill="#c7c7c7" fill-opacity="0.7"/><rect x="343.6" y="244.9" width="1.6" height="1.6" fill="#e1e1e1" fill-opacity="0.7"/><rect x="374.8" y="239.4" width="1.6" height="1.6" fill="#e7e7e7" fill-opacity="0.7"/><rect x="326.7" y="238.7" width="1.6" height="1.6" fill="#e2e2e2" fill-opacity="0.7"/><rect x="326.5" y="187.1" width="1.6" height="1.6" fill="#c8c8c8" fill-opacity="0.7"/><rect x="391.5" y="223.7" width="1.6" height="1.6" fill="#c8c8c8" fill-opacity="0.7"/><rect x="396.6" y="171.1" width="1.6" height="1.6" fill="#ebebeb" fill-opacity="0.7"/><rect x="405.6" y="170.0" width="1.6" height="1.6" fill="#e5e5e5" fill-opacity="0.7"/><rect x="391.7" y="171.1" width="1.6" height="1.6" fill="#e6e6e6" fill-opacity="0.7"/><rect x="407.3" y="220.1" width="1.6" height="1.6" fill="#cecece" fill-opacity="0.7"/><rect x="335.6" y="233.8" width="1.6" height="1.6" fill="#b7b7b7" fill-opacity="0.7"/><rect x="350.4" y="182.0" width="1.6" height="1.6" fill="#9c9c9c" fill-opacity="0.7"/><rect x="363.2" y="201.8" width="1.6" height="1.6" fill="#505050" fill-opacity="0.7"/><rect x="355.6" y="195.9" width="1.6" height="1.6" fill="#787878" fill-opacity="0.7"/><rect x="331.7" y="184.7" width="1.6" height="1.6" fill="#e7e7e7" fill-opacity="0.7"/><rect x="398.9" y="228.5" width="1.6" height="1.6" fill="#c3c3c3" fill-opacity="0.7"/><rect x="338.2" y="201.2" width="1.6" height="1.6" fill="#949494" fill-opacity="0.7"/><rect x="360.5" y="208.8" width="1.6" height="1.6" fill="#929292" fill-opacity="0.7"/><rect x="351.4" y="179.9" width="1.6" height="1.6" fill="#aaaaaa" fill-opacity="0.7"/><rect x="389.3" y="159.5" width="1.6" height="1.6" fill="#f8f8f8" fill-opacity="0.7"/><rect x="335.7" y="243.7" width="1.6" height="1.6" fill="#c4c4c4" fill-opacity="0.7"/><rect x="395.3" y="205.3" width="1.6" height="1.6" fill="#c5c5c5" fill-opacity="0.7"/><rect x="334.1" y="193.7" width="1.6" height="1.6" fill="#cfcfcf" fill-opacity="0.7"/><rect x="345.6" y="195.2" width="1.6" height="1.6" fill="#6b6b6b" fill-opacity="0.7"/><rect x="343.8" y="167.3" width="1.6" height="1.6" fill="#e5e5e5" fill-opacity="0.7"/><rect x="328.6" y="209.6" width="1.6" height="1.6" fill="#dfdfdf" fill-opacity="0.7"/><rect x="369.9" y="187.8" width="1.6" height="1.6" fill="#909090" fill-opacity="0.7"/><rect x="365.5" y="167.6" width="1.6" height="1.6" fill="#c9c9c9" fill-opacity="0.7"/><rect x="401.8" y="224.1" width="1.6" height="1.6" fill="#e3e3e3" fill-opacity="0.7"/><rect x="354.2" y="250.8" width="1.6" height="1.6" fill="#c5c5c5" fill-opacity="0.7"/><rect x="334.2" y="247.1" width="1.6" height="1.6" fill="#efefef" fill-opacity="0.7"/><rect x="410.7" y="204.1" width="1.6" height="1.6" fill="#f3f3f3" fill-opacity="0.7"/><rect x="390.8" y="178.3" width="1.6" height="1.6" fill="#dadada" fill-opacity="0.7"/><rect x="408.3" y="246.3" width="1.6" height="1.6" fill="#d6d6d6" fill-opacity="0.7"/><rect x="361.0" y="231.8" width="1.6" height="1.6" fill="#d1d1d1" fill-opacity="0.7"/><rect x="333.6" y="181.4" width="1.6" height="1.6" fill="#e3e3e3" fill-opacity="0.7"/><rect x="351.5" y="234.2" width="1.6" height="1.6" fill="#b7b7b7" fill-opacity="0.7"/><rect x="394.1" y="164.8" width="1.6" height="1.6" fill="#f6f6f6" fill-opacity="0.7"/><rect x="395.8" y="201.1" width="1.6" height="1.6" fill="#c5c5c5" fill-opacity="0.7"/><rect x="362.8" y="227.6" width="1.6" height="1.6" fill="#b7b7b7" fill-opacity="0.7"/><rect x="406.8" y="203.0" width="1.6" height="1.6" fill="#d1d1d1" fill-opacity="0.7"/><rect x="372.6" y="204.9" width="1.6" height="1.6" fill="#6f6f6f" fill-opacity="0.7"/><rect x="358.4" y="187.9" width="1.6" height="1.6" fill="#696969" fill-opacity="0.7"/><rect x="406.1" y="175.7" width="1.6" height="1.6" fill="#d8d8d8" fill-opacity="0.7"/><rect x="354.1" y="173.7" width="1.6" height="1.6" fill="#a1a1a1" fill-opacity="0.7"/><rect x="372.1" y="189.9" width="1.6" height="1.6" fill="#868686" fill-opacity="0.7"/><rect x="327.5" y="205.5" width="1.6" height="1.6" fill="#d7d7d7" fill-opacity="0.7"/><rect x="321.0" y="233.5" width="1.6" height="1.6" fill="#e6e6e6" fill-opacity="0.7"/><rect x="413.0" y="244.6" width="1.6" height="1.6" fill="#e9e9e9" fill-opacity="0.7"/><rect x="400.8" y="167.6" width="1.6" height="1.6" fill="#e2e2e2" fill-opacity="0.7"/><rect x="408.5" y="210.7" width="1.6" height="1.6" fill="#efefef" fill-opacity="0.7"/><rect x="398.3" y="235.5" width="1.6" height="1.6" fill="#cdcdcd" fill-opacity="0.7"/><rect x="357.0" y="174.3" width="1.6" height="1.6" fill="#878787" fill-opacity="0.7"/><rect x="353.9" y="189.6" width="1.6" height="1.6" fill="#5f5f5f" fill-opacity="0.7"/><rect x="363.6" y="239.3" width="1.6" height="1.6" fill="#c0c0c0" fill-opacity="0.7"/><rect x="330.5" y="223.8" width="1.6" height="1.6" fill="#e3e3e3" fill-opacity="0.7"/><rect x="403.5" y="178.6" width="1.6" height="1.6" fill="#b5b5b5" fill-opacity="0.7"/><rect x="363.2" y="203.3" width="1.6" height="1.6" fill="#767676" fill-opacity="0.7"/><rect x="322.7" y="179.8" width="1.6" height="1.6" fill="#c7c7c7" fill-opacity="0.7"/><rect x="393.2" y="190.3" width="1.6" height="1.6" fill="#b7b7b7" fill-opacity="0.7"/><rect x="408.4" y="170.5" width="1.6" height="1.6" fill="#bfbfbf" fill-opacity="0.7"/><rect x="372.4" y="191.7" width="1.6" height="1.6" fill="#696969" fill-opacity="0.7"/><rect x="375.7" y="248.1" width="1.6" height="1.6" fill="#d1d1d1" fill-opacity="0.7"/><rect x="391.3" y="171.7" width="1.6" height="1.6" fill="#c8c8c8" fill-opacity="0.7"/><rect x="340.2" y="181.6" width="1.6" height="1.6" fill="#a7a7a7" fill-opacity="0.7"/><rect x="398.7" y="251.4" width="1.6" height="1.6" fill="#d0d0d0" fill-opacity="0.7"/><rect x="356.1" y="229.2" width="1.6" height="1.6" fill="#bfbfbf" fill-opacity="0.7"/><rect x="345.2" y="182.8" width="1.6" height="1.6" fill="#a2a2a2" fill-opacity="0.7"/><rect x="365.9" y="163.5" width="1.6" height="1.6" fill="#c3c3c3" fill-opacity="0.7"/><rect x="349.9" y="236.8" width="1.6" height="1.6" fill="#dfdfdf" fill-opacity="0.7"/><rect x="393.6" y="200.8" width="1.6" height="1.6" fill="#e3e3e3" fill-opacity="0.7"/><rect x="347.1" y="234.9" width="1.6" height="1.6" fill="#b8b8b8" fill-opacity="0.7"/><rect x="338.7" y="160.6" width="1.6" height="1.6" fill="#b5b5b5" fill-opacity="0.7"/><rect x="369.6" y="162.7" width="1.6" height="1.6" fill="#eeeeee" fill-opacity="0.7"/><rect x="380.7" y="167.9" width="1.6" height="1.6" fill="#c9c9c9" fill-opacity="0.7"/><rect x="389.0" y="233.2" width="1.6" height="1.6" fill="#cacaca" fill-opacity="0.7"/><rect x="385.9" y="242.1" width="1.6" height="1.6" fill="#cacaca" fill-opacity="0.7"/><rect x="323.3" y="188.4" width="1.6" height="1.6" fill="#c5c5c5" fill-opacity="0.7"/><rect x="371.9" y="179.5" width="1.6" height="1.6" fill="#818181" fill-opacity="0.7"/><rect x="357.4" y="236.6" width="1.6" height="1.6" fill="#d5d5d5" fill-opacity="0.7"/><rect x="324.2" y="214.6" width="1.6" height="1.6" fill="#ebebeb" fill-opacity="0.7"/><rect x="381.8" y="250.1" width="1.6" height="1.6" fill="#d1d1d1" fill-opacity="0.7"/><rect x="394.6" y="163.3" width="1.6" height="1.6" fill="#f8f8f8" fill-opacity="0.7"/><rect x="354.4" y="184.0" width="1.6" height="1.6" fill="#858585" fill-opacity="0.7"/><rect x="382.3" y="242.8" width="1.6" height="1.6" fill="#c2c2c2" fill-opacity="0.7"/><rect x="320.5" y="173.2" width="1.6" height="1.6" fill="#c6c6c6" fill-opacity="0.7"/><rect x="408.1" y="211.9" width="1.6" height="1.6" fill="#cecece" fill-opacity="0.7"/><rect x="355.1" y="175.4" width="1.6" height="1.6" fill="#a3a3a3" fill-opacity="0.7"/><rect x="339.9" y="210.9" width="1.6" height="1.6" fill="#a1a1a1" fill-opacity="0.7"/><rect x="393.3" y="177.0" width="1.6" height="1.6" fill="#d6d6d6" fill-opacity="0.7"/><rect x="377.2" y="183.2" width="1.6" height="1.6" fill="#a2a2a2" fill-opacity="0.7"/><rect x="373.5" y="204.9" width="1.6" height="1.6" fill="#797979" fill-opacity="0.7"/><rect x="392.8" y="243.1" width="1.6" height="1.6" fill="#c7c7c7" fill-opacity="0.7"/><rect x="382.6" y="195.0" width="1.6" height="1.6" fill="#b4b4b4" fill-opacity="0.7"/><rect x="373.7" y="170.0" width="1.6" height="1.6" fill="#b2b2b2" fill-opacity="0.7"/><rect x="340.6" y="246.2" width="1.6" height="1.6" fill="#cacaca" fill-opacity="0.7"/><rect x="406.4" y="183.0" width="1.6" height="1.6" fill="#b8b8b8" fill-opacity="0.7"/><rect x="392.8" y="196.0" width="1.6" height="1.6" fill="#aeaeae" fill-opacity="0.7"/><rect x="324.4" y="163.2" width="1.6" height="1.6" fill="#cdcdcd" fill-opacity="0.7"/><rect x="365.4" y="176.9" width="1.6" height="1.6" fill="#838383" fill-opacity="0.7"/><rect x="372.7" y="178.2" width="1.6" height="1.6" fill="#7e7e7e" fill-opacity="0.7"/><rect x="364.1" y="179.1" width="1.6" height="1.6" fill="#a3a3a3" fill-opacity="0.7"/><rect x="404.1" y="213.1" width="1.6" height="1.6" fill="#ececec" fill-opacity="0.7"/><rect x="374.1" y="162.6" width="1.6" height="1.6" fill="#c2c2c2" fill-opacity="0.7"/><rect x="376.9" y="248.6" width="1.6" height="1.6" fill="#cccccc" fill-opacity="0.7"/><rect x="386.3" y="219.3" width="1.6" height="1.6" fill="#bcbcbc" fill-opacity="0.7"/><rect x="355.9" y="217.3" width="1.6" height="1.6" fill="#9f9f9f" fill-opacity="0.7"/><rect x="347.4" y="245.4" width="1.6" height="1.6" fill="#c1c1c1" fill-opacity="0.7"/><rect x="392.0" y="186.4" width="1.6" height="1.6" fill="#adadad" fill-opacity="0.7"/><rect x="376.6" y="241.7" width="1.6" height="1.6" fill="#e9e9e9" fill-opacity="0.7"/><rect x="372.2" y="173.7" width="1.6" height="1.6" fill="#ababab" fill-opacity="0.7"/><rect x="407.8" y="189.2" width="1.6" height="1.6" fill="#ececec" fill-opacity="0.7"/><rect x="402.7" y="172.6" width="1.6" height="1.6" fill="#c0c0c0" fill-opacity="0.7"/><rect x="322.2" y="179.0" width="1.6" height="1.6" fill="#c5c5c5" fill-opacity="0.7"/><rect x="332.3" y="241.7" width="1.6" height="1.6" fill="#ededed" fill-opacity="0.7"/><rect x="323.6" y="237.4" width="1.6" height="1.6" fill="#c7c7c7" fill-opacity="0.7"/><rect x="334.4" y="174.8" width="1.6" height="1.6" fill="#bfbfbf" fill-opacity="0.7"/><rect x="333.8" y="159.4" width="1.6" height="1.6" fill="#a6a6a6" fill-opacity="0.7"/><rect x="324.6" y="245.5" width="1.6" height="1.6" fill="#cccccc" fill-opacity="0.7"/><rect x="388.0" y="223.9" width="1.6" height="1.6" fill="#cacaca" fill-opacity="0.7"/><rect x="344.8" y="245.2" width="1.6" height="1.6" fill="#e7e7e7" fill-opacity="0.7"/><rect x="354.4" y="230.6" width="1.6" height="1.6" fill="#b2b2b2" fill-opacity="0.7"/><rect x="328.5" y="248.5" width="1.6" height="1.6" fill="#c5c5c5" fill-opacity="0.7"/><rect x="341.7" y="179.4" width="1.6" height="1.6" fill="#e3e3e3" fill-opacity="0.7"/><rect x="399.9" y="167.7" width="1.6" height="1.6" fill="#dadada" fill-opacity="0.7"/><rect x="395.0" y="244.0" width="1.6" height="1.6" fill="#e4e4e4" fill-opacity="0.7"/><rect x="335.8" y="237.1" width="1.6" height="1.6" fill="#e0e0e0" fill-opacity="0.7"/><rect x="339.4" y="230.8" width="1.6" height="1.6" fill="#dbdbdb" fill-opacity="0.7"/><rect x="392.6" y="230.8" width="1.6" height="1.6" fill="#eaeaea" fill-opacity="0.7"/><rect x="400.8" y="162.0" width="1.6" height="1.6" fill="#d1d1d1" fill-opacity="0.7"/><rect x="399.1" y="242.7" width="1.6" height="1.6" fill="#e6e6e6" fill-opacity="0.7"/><rect x="408.7" y="230.0" width="1.6" height="1.6" fill="#cccccc" fill-opacity="0.7"/><rect x="386.1" y="190.9" width="1.6" height="1.6" fill="#d4d4d4" fill-opacity="0.7"/><rect x="392.1" y="220.5" width="1.6" height="1.6" fill="#c9c9c9" fill-opacity="0.7"/><rect x="394.2" y="233.6" width="1.6" height="1.6" fill="#c2c2c2" fill-opacity="0.7"/><rect x="382.5" y="178.5" width="1.6" height="1.6" fill="#9a9a9a" fill-opacity="0.7"/><rect x="412.0" y="182.5" width="1.6" height="1.6" fill="#f4f4f4" fill-opacity="0.7"/><rect x="401.6" y="183.8" width="1.6" height="1.6" fill="#dadada" fill-opacity="0.7"/><rect x="332.8" y="201.4" width="1.6" height="1.6" fill="#b3b3b3" fill-opacity="0.7"/><rect x="324.3" y="224.9" width="1.6" height="1.6" fill="#ededed" fill-opacity="0.7"/><rect x="360.3" y="191.5" width="1.6" height="1.6" fill="#565656" fill-opacity="0.7"/><rect x="360.6" y="159.8" width="1.6" height="1.6" fill="#c0c0c0" fill-opacity="0.7"/><rect x="401.8" y="186.9" width="1.6" height="1.6" fill="#b8b8b8" fill-opacity="0.7"/><rect x="349.2" y="223.9" width="1.6" height="1.6" fill="#cfcfcf" fill-opacity="0.7"/><rect x="333.0" y="231.3" width="1.6" height="1.6" fill="#c7c7c7" fill-opacity="0.7"/><rect x="331.0" y="223.2" width="1.6" height="1.6" fill="#b7b7b7" fill-opacity="0.7"/><rect x="328.4" y="175.2" width="1.6" height="1.6" fill="#cbcbcb" fill-opacity="0.7"/><rect x="381.2" y="217.8" width="1.6" height="1.6" fill="#cdcdcd" fill-opacity="0.7"/><rect x="385.6" y="199.4" width="1.6" height="1.6" fill="#b9b9b9" fill-opacity="0.7"/><rect x="324.3" y="218.0" width="1.6" height="1.6" fill="#e8e8e8" fill-opacity="0.7"/><rect x="385.9" y="241.9" width="1.6" height="1.6" fill="#e4e4e4" fill-opacity="0.7"/><rect x="345.3" y="235.2" width="1.6" height="1.6" fill="#dedede" fill-opacity="0.7"/><rect x="345.0" y="243.4" width="1.6" height="1.6" fill="#bfbfbf" fill-opacity="0.7"/><rect x="400.7" y="246.4" width="1.6" height="1.6" fill="#efefef" fill-opacity="0.7"/><rect x="406.4" y="192.3" width="1.6" height="1.6" fill="#c0c0c0" fill-opacity="0.7"/><rect x="358.0" y="181.5" width="1.6" height="1.6" fill="#898989" fill-opacity="0.7"/><rect x="358.6" y="231.8" width="1.6" height="1.6" fill="#d3d3d3" fill-opacity="0.7"/><rect x="335.9" y="249.2" width="1.6" height="1.6" fill="#cccccc" fill-opacity="0.7"/></g>
<g transform="translate(319.36,158.30)"><path d="M20.0 30.0C20.0 25.8 20.7 22.8 22.0 20.0C23.3 17.2 25.8 14.8 28.0 13.0C30.2 11.2 32.7 9.5 35.0 9.0C37.3 8.5 39.5 9.2 42.0 10.0C44.5 10.8 47.7 12.7 50.0 14.0C52.3 15.3 54.7 15.8 56.0 18.0C57.3 20.2 58.0 23.7 58.0 27.0C58.0 30.3 56.8 34.5 56.0 38.0C55.2 41.5 54.0 45.0 53.0 48.0C52.0 51.0 50.2 52.7 50.0 56.0C49.8 59.3 52.7 65.0 52.0 68.0C51.3 71.0 48.0 73.7 46.0 74.0C44.0 74.3 41.3 72.7 40.0 70.0C38.7 67.3 39.7 61.0 38.0 58.0C36.3 55.0 32.7 54.2 30.0 52.0C27.3 49.8 23.7 48.7 22.0 45.0C20.3 41.3 20.0 34.2 20.0 30.0Z" fill="#787878" fill-opacity="0.75" filter="url(#bl4)"/><path d="M30.0 22.0C31.3 19.0 35.3 18.3 38.0 18.0C40.7 17.7 43.7 18.5 46.0 20.0C48.3 21.5 50.8 24.0 52.0 27.0C53.2 30.0 53.3 34.8 53.0 38.0C52.7 41.2 51.7 44.3 50.0 46.0C48.3 47.7 45.3 48.3 43.0 48.0C40.7 47.7 38.2 46.0 36.0 44.0C33.8 42.0 31.0 39.7 30.0 36.0C29.0 32.3 28.7 25.0 30.0 22.0Z" fill="#646464" fill-opacity="0.7" filter="url(#bl4)"/></g>
</g>
<rect x="319.36" y="158.30" width="96.0" height="96.0" fill="none" stroke="#222" stroke-width="0.9"/>
<path d="M327.36 254.30v-1.8M327.36 158.30v1.8" stroke="#222" stroke-width="0.7"/>
<path d="M343.36 254.30v-1.8M343.36 158.30v1.8" stroke="#222" stroke-width="0.7"/>
<path d="M359.36 254.30v-1.8M359.36 158.30v1.8" stroke="#222" stroke-width="0.7"/>
<path d="M375.36 254.30v-1.8M375.36 158.30v1.8" stroke="#222" stroke-width="0.7"/>
<path d="M391.36 254.30v-1.8M391.36 158.30v1.8" stroke="#222" stroke-width="0.7"/>
<path d="M407.36 254.30v-1.8M407.36 158.30v1.8" stroke="#222" stroke-width="0.7"/>
<path d="M319.36 246.80h1.8M415.36 246.80h-1.8" stroke="#222" stroke-width="0.7"/>
<path d="M319.36 230.80h1.8M415.36 230.80h-1.8" stroke="#222" stroke-width="0.7"/>
<path d="M319.36 214.80h1.8M415.36 214.80h-1.8" stroke="#222" stroke-width="0.7"/>
<path d="M319.36 198.80h1.8M415.36 198.80h-1.8" stroke="#222" stroke-width="0.7"/>
<path d="M319.36 182.80h1.8M415.36 182.80h-1.8" stroke="#222" stroke-width="0.7"/>
<path d="M319.36 166.80h1.8M415.36 166.80h-1.8" stroke="#222" stroke-width="0.7"/>
<path d="M320.96 254.30v-1M320.96 158.30v1M324.16 254.30v-1M324.16 158.30v1M330.56 254.30v-1M330.56 158.30v1M333.76 254.30v-1M333.76 158.30v1M336.96 254.30v-1M336.96 158.30v1M340.16 254.30v-1M340.16 158.30v1M346.56 254.30v-1M346.56 158.30v1M349.76 254.30v-1M349.76 158.30v1M352.96 254.30v-1M352.96 158.30v1M356.16 254.30v-1M356.16 158.30v1M362.56 254.30v-1M362.56 158.30v1M365.76 254.30v-1M365.76 158.30v1M368.96 254.30v-1M368.96 158.30v1M372.16 254.30v-1M372.16 158.30v1M378.56 254.30v-1M378.56 158.30v1M381.76 254.30v-1M381.76 158.30v1M384.96 254.30v-1M384.96 158.30v1M388.16 254.30v-1M388.16 158.30v1M394.56 254.30v-1M394.56 158.30v1M397.76 254.30v-1M397.76 158.30v1M400.96 254.30v-1M400.96 158.30v1M404.16 254.30v-1M404.16 158.30v1M410.56 254.30v-1M410.56 158.30v1M413.76 254.30v-1M413.76 158.30v1M319.36 253.20h1M415.36 253.20h-1M319.36 250.00h1M415.36 250.00h-1M319.36 243.60h1M415.36 243.60h-1M319.36 240.40h1M415.36 240.40h-1M319.36 237.20h1M415.36 237.20h-1M319.36 234.00h1M415.36 234.00h-1M319.36 227.60h1M415.36 227.60h-1M319.36 224.40h1M415.36 224.40h-1M319.36 221.20h1M415.36 221.20h-1M319.36 218.00h1M415.36 218.00h-1M319.36 211.60h1M415.36 211.60h-1M319.36 208.40h1M415.36 208.40h-1M319.36 205.20h1M415.36 205.20h-1M319.36 202.00h1M415.36 202.00h-1M319.36 195.60h1M415.36 195.60h-1M319.36 192.40h1M415.36 192.40h-1M319.36 189.20h1M415.36 189.20h-1M319.36 186.00h1M415.36 186.00h-1M319.36 179.60h1M415.36 179.60h-1M319.36 176.40h1M415.36 176.40h-1M319.36 173.20h1M415.36 173.20h-1M319.36 170.00h1M415.36 170.00h-1M319.36 163.60h1M415.36 163.60h-1M319.36 160.40h1M415.36 160.40h-1" stroke="#333" stroke-width="0.6"/>
<text transform="translate(367.75,153.00)" text-anchor="middle" font-size="10.8" fill="#111" stroke="#111" stroke-width="0.2" letter-spacing="0.78">EIS Fe XVII 254.8</text>
<text transform="translate(317.31,250.60)" text-anchor="end" font-size="9.6" fill="#111" stroke="#111" stroke-width="0.2" letter-spacing="0.55">30</text>
<text transform="translate(317.31,234.60)" text-anchor="end" font-size="9.6" fill="#111" stroke="#111" stroke-width="0.2" letter-spacing="0.55">40</text>
<text transform="translate(317.31,218.60)" text-anchor="end" font-size="9.6" fill="#111" stroke="#111" stroke-width="0.2" letter-spacing="0.55">50</text>
<text transform="translate(317.31,202.60)" text-anchor="end" font-size="9.6" fill="#111" stroke="#111" stroke-width="0.2" letter-spacing="0.55">60</text>
<text transform="translate(317.31,186.60)" text-anchor="end" font-size="9.6" fill="#111" stroke="#111" stroke-width="0.2" letter-spacing="0.55">70</text>
<text transform="translate(317.31,170.60)" text-anchor="end" font-size="9.6" fill="#111" stroke="#111" stroke-width="0.2" letter-spacing="0.55">80</text>
<text transform="translate(327.63,267.80)" text-anchor="middle" font-size="9.6" fill="#111" stroke="#111" stroke-width="0.2" letter-spacing="0.55">40</text>
<text transform="translate(343.63,267.80)" text-anchor="middle" font-size="9.6" fill="#111" stroke="#111" stroke-width="0.2" letter-spacing="0.55">50</text>
<text transform="translate(359.63,267.80)" text-anchor="middle" font-size="9.6" fill="#111" stroke="#111" stroke-width="0.2" letter-spacing="0.55">60</text>
<text transform="translate(375.63,267.80)" text-anchor="middle" font-size="9.6" fill="#111" stroke="#111" stroke-width="0.2" letter-spacing="0.55">70</text>
<text transform="translate(391.63,267.80)" text-anchor="middle" font-size="9.6" fill="#111" stroke="#111" stroke-width="0.2" letter-spacing="0.55">80</text>
<text transform="translate(407.63,267.80)" text-anchor="middle" font-size="9.6" fill="#111" stroke="#111" stroke-width="0.2" letter-spacing="0.55">90</text>
<text transform="translate(367.56,278.50)" text-anchor="middle" font-size="9.4" fill="#111" stroke="#111" stroke-width="0.2" letter-spacing="0.4">X (arcsecs)</text>
<defs><linearGradient id="cb12" x1="0" y1="0" x2="0" y2="1"><stop offset="0" stop-color="#000"/><stop offset="1" stop-color="#fff"/></linearGradient></defs>
<rect x="419.06" y="172.90" width="3.6" height="81.90" fill="url(#cb12)" stroke="#333" stroke-width="0.5"/>
<path d="M422.66 172.90h1.8" stroke="#222" stroke-width="0.6"/>
<text transform="translate(427.66,176.30)" font-size="9.6" fill="#111" stroke="#111" stroke-width="0.2" letter-spacing="0.55">3.0</text>
<path d="M422.66 193.38h1.8" stroke="#222" stroke-width="0.6"/>
<text transform="translate(427.66,196.78)" font-size="9.6" fill="#111" stroke="#111" stroke-width="0.2" letter-spacing="0.55">2.5</text>
<path d="M422.66 213.85h1.8" stroke="#222" stroke-width="0.6"/>
<text transform="translate(427.66,217.25)" font-size="9.6" fill="#111" stroke="#111" stroke-width="0.2" letter-spacing="0.55">2.0</text>
<path d="M422.66 234.33h1.8" stroke="#222" stroke-width="0.6"/>
<text transform="translate(427.66,237.73)" font-size="9.6" fill="#111" stroke="#111" stroke-width="0.2" letter-spacing="0.55">1.5</text>
<path d="M422.66 254.80h1.8" stroke="#222" stroke-width="0.6"/>
<text transform="translate(427.66,258.20)" font-size="9.6" fill="#111" stroke="#111" stroke-width="0.2" letter-spacing="0.55">1.0</text>
<text transform="translate(417.86,163.90)" font-size="9.4" fill="#111" stroke="#111" stroke-width="0.2" letter-spacing="0.5">log N<tspan font-size="5.8" dy="3" letter-spacing="0.1">ph</tspan></text>
<clipPath id="cp13"><rect x="464.29" y="158.30" width="96.0" height="96.0"/></clipPath>
<g clip-path="url(#cp13)"><g filter="url(#bl3)">
<rect x="456.1" y="150.1" width="16.4" height="16.4" fill="#6e6e6e"/>
<rect x="472.1" y="150.1" width="8.4" height="16.4" fill="#787878"/>
<rect x="480.1" y="150.1" width="8.4" height="16.4" fill="#828282"/>
<rect x="488.1" y="150.1" width="8.4" height="16.4" fill="#828282"/>
<rect x="496.1" y="150.1" width="8.4" height="16.4" fill="#7d7d7d"/>
<rect x="504.1" y="150.1" width="8.4" height="16.4" fill="#787878"/>
<rect x="512.1" y="150.1" width="8.4" height="16.4" fill="#828282"/>
<rect x="520.1" y="150.1" width="8.4" height="16.4" fill="#8c8c8c"/>
<rect x="528.1" y="150.1" width="8.4" height="16.4" fill="#919191"/>
<rect x="536.1" y="150.1" width="8.4" height="16.4" fill="#919191"/>
<rect x="544.1" y="150.1" width="8.4" height="16.4" fill="#8c8c8c"/>
<rect x="552.1" y="150.1" width="16.4" height="16.4" fill="#878787"/>
<rect x="456.1" y="166.1" width="16.4" height="8.4" fill="#787878"/>
<rect x="472.1" y="166.1" width="8.4" height="8.4" fill="#7d7d7d"/>
<rect x="480.1" y="166.1" width="8.4" height="8.4" fill="#828282"/>
<rect x="488.1" y="166.1" width="8.4" height="8.4" fill="#6e6e6e"/>
<rect x="496.1" y="166.1" width="8.4" height="8.4" fill="#3c3c3c"/>
<rect x="504.1" y="166.1" width="8.4" height="8.4" fill="#5a5a5a"/>
<rect x="512.1" y="166.1" width="8.4" height="8.4" fill="#6e6e6e"/>
<rect x="520.1" y="166.1" width="8.4" height="8.4" fill="#828282"/>
<rect x="528.1" y="166.1" width="8.4" height="8.4" fill="#8c8c8c"/>
<rect x="536.1" y="166.1" width="8.4" height="8.4" fill="#8c8c8c"/>
<rect x="544.1" y="166.1" width="8.4" height="8.4" fill="#878787"/>
<rect x="552.1" y="166.1" width="16.4" height="8.4" fill="#828282"/>
<rect x="456.1" y="174.1" width="16.4" height="8.4" fill="#7d7d7d"/>
<rect x="472.1" y="174.1" width="8.4" height="8.4" fill="#7d7d7d"/>
<rect x="480.1" y="174.1" width="8.4" height="8.4" fill="#6e6e6e"/>
<rect x="488.1" y="174.1" width="8.4" height="8.4" fill="#505050"/>
<rect x="496.1" y="174.1" width="8.4" height="8.4" fill="#323232"/>
<rect x="504.1" y="174.1" width="8.4" height="8.4" fill="#3c3c3c"/>
<rect x="512.1" y="174.1" width="8.4" height="8.4" fill="#323232"/>
<rect x="520.1" y="174.1" width="8.4" height="8.4" fill="#5a5a5a"/>
<rect x="528.1" y="174.1" width="8.4" height="8.4" fill="#828282"/>
<rect x="536.1" y="174.1" width="8.4" height="8.4" fill="#828282"/>
<rect x="544.1" y="174.1" width="8.4" height="8.4" fill="#7d7d7d"/>
<rect x="552.1" y="174.1" width="16.4" height="8.4" fill="#7d7d7d"/>
<rect x="456.1" y="182.1" width="16.4" height="8.4" fill="#828282"/>
<rect x="472.1" y="182.1" width="8.4" height="8.4" fill="#6e6e6e"/>
<rect x="480.1" y="182.1" width="8.4" height="8.4" fill="#3c3c3c"/>
<rect x="488.1" y="182.1" width="8.4" height="8.4" fill="#464646"/>
<rect x="496.1" y="182.1" width="8.4" height="8.4" fill="#282828"/>
<rect x="504.1" y="182.1" width="8.4" height="8.4" fill="#232323"/>
<rect x="512.1" y="182.1" width="8.4" height="8.4" fill="#282828"/>
<rect x="520.1" y="182.1" width="8.4" height="8.4" fill="#505050"/>
<rect x="528.1" y="182.1" width="8.4" height="8.4" fill="#7d7d7d"/>
<rect x="536.1" y="182.1" width="8.4" height="8.4" fill="#787878"/>
<rect x="544.1" y="182.1" width="8.4" height="8.4" fill="#787878"/>
<rect x="552.1" y="182.1" width="16.4" height="8.4" fill="#787878"/>
<rect x="456.1" y="190.1" width="16.4" height="8.4" fill="#828282"/>
<rect x="472.1" y="190.1" width="8.4" height="8.4" fill="#646464"/>
<rect x="480.1" y="190.1" width="8.4" height="8.4" fill="#3c3c3c"/>
<rect x="488.1" y="190.1" width="8.4" height="8.4" fill="#505050"/>
<rect x="496.1" y="190.1" width="8.4" height="8.4" fill="#3c3c3c"/>
<rect x="504.1" y="190.1" width="8.4" height="8.4" fill="#323232"/>
<rect x="512.1" y="190.1" width="8.4" height="8.4" fill="#5a5a5a"/>
<rect x="520.1" y="190.1" width="8.4" height="8.4" fill="#6e6e6e"/>
<rect x="528.1" y="190.1" width="8.4" height="8.4" fill="#787878"/>
<rect x="536.1" y="190.1" width="8.4" height="8.4" fill="#737373"/>
<rect x="544.1" y="190.1" width="8.4" height="8.4" fill="#737373"/>
<rect x="552.1" y="190.1" width="16.4" height="8.4" fill="#787878"/>
<rect x="456.1" y="198.1" width="16.4" height="8.4" fill="#7d7d7d"/>
<rect x="472.1" y="198.1" width="8.4" height="8.4" fill="#737373"/>
<rect x="480.1" y="198.1" width="8.4" height="8.4" fill="#646464"/>
<rect x="488.1" y="198.1" width="8.4" height="8.4" fill="#5a5a5a"/>
<rect x="496.1" y="198.1" width="8.4" height="8.4" fill="#464646"/>
<rect x="504.1" y="198.1" width="8.4" height="8.4" fill="#282828"/>
<rect x="512.1" y="198.1" width="8.4" height="8.4" fill="#5a5a5a"/>
<rect x="520.1" y="198.1" width="8.4" height="8.4" fill="#737373"/>
<rect x="528.1" y="198.1" width="8.4" height="8.4" fill="#787878"/>
<rect x="536.1" y="198.1" width="8.4" height="8.4" fill="#737373"/>
<rect x="544.1" y="198.1" width="8.4" height="8.4" fill="#737373"/>
<rect x="552.1" y="198.1" width="16.4" height="8.4" fill="#787878"/>
<rect x="456.1" y="206.1" width="16.4" height="8.4" fill="#787878"/>
<rect x="472.1" y="206.1" width="8.4" height="8.4" fill="#787878"/>
<rect x="480.1" y="206.1" width="8.4" height="8.4" fill="#787878"/>
<rect x="488.1" y="206.1" width="8.4" height="8.4" fill="#6e6e6e"/>
<rect x="496.1" y="206.1" width="8.4" height="8.4" fill="#646464"/>
<rect x="504.1" y="206.1" width="8.4" height="8.4" fill="#5a5a5a"/>
<rect x="512.1" y="206.1" width="8.4" height="8.4" fill="#6e6e6e"/>
<rect x="520.1" y="206.1" width="8.4" height="8.4" fill="#787878"/>
<rect x="528.1" y="206.1" width="8.4" height="8.4" fill="#787878"/>
<rect x="536.1" y="206.1" width="8.4" height="8.4" fill="#737373"/>
<rect x="544.1" y="206.1" width="8.4" height="8.4" fill="#737373"/>
<rect x="552.1" y="206.1" width="16.4" height="8.4" fill="#787878"/>
<rect x="456.1" y="214.1" width="16.4" height="8.4" fill="#737373"/>
<rect x="472.1" y="214.1" width="8.4" height="8.4" fill="#737373"/>
<rect x="480.1" y="214.1" width="8.4" height="8.4" fill="#787878"/>
<rect x="488.1" y="214.1" width="8.4" height="8.4" fill="#737373"/>
<rect x="496.1" y="214.1" width="8.4" height="8.4" fill="#5a5a5a"/>
<rect x="504.1" y="214.1" width="8.4" height="8.4" fill="#6e6e6e"/>
<rect x="512.1" y="214.1" width="8.4" height="8.4" fill="#787878"/>
<rect x="520.1" y="214.1" width="8.4" height="8.4" fill="#787878"/>
<rect x="528.1" y="214.1" width="8.4" height="8.4" fill="#787878"/>
<rect x="536.1" y="214.1" width="8.4" height="8.4" fill="#737373"/>
<rect x="544.1" y="214.1" width="8.4" height="8.4" fill="#6e6e6e"/>
<rect x="552.1" y="214.1" width="16.4" height="8.4" fill="#737373"/>
<rect x="456.1" y="222.1" width="16.4" height="8.4" fill="#6e6e6e"/>
<rect x="472.1" y="222.1" width="8.4" height="8.4" fill="#6e6e6e"/>
<rect x="480.1" y="222.1" width="8.4" height="8.4" fill="#787878"/>
<rect x="488.1" y="222.1" width="8.4" height="8.4" fill="#787878"/>
<rect x="496.1" y="222.1" width="8.4" height="8.4" fill="#646464"/>
<rect x="504.1" y="222.1" width="8.4" height="8.4" fill="#737373"/>
<rect x="512.1" y="222.1" width="8.4" height="8.4" fill="#7d7d7d"/>
<rect x="520.1" y="222.1" width="8.4" height="8.4" fill="#7d7d7d"/>
<rect x="528.1" y="222.1" width="8.4" height="8.4" fill="#787878"/>
<rect x="536.1" y="222.1" width="8.4" height="8.4" fill="#6e6e6e"/>
<rect x="544.1" y="222.1" width="8.4" height="8.4" fill="#696969"/>
<rect x="552.1" y="222.1" width="16.4" height="8.4" fill="#6e6e6e"/>
<rect x="456.1" y="230.1" width="16.4" height="8.4" fill="#737373"/>
<rect x="472.1" y="230.1" width="8.4" height="8.4" fill="#787878"/>
<rect x="480.1" y="230.1" width="8.4" height="8.4" fill="#7d7d7d"/>
<rect x="488.1" y="230.1" width="8.4" height="8.4" fill="#7d7d7d"/>
<rect x="496.1" y="230.1" width="8.4" height="8.4" fill="#787878"/>
<rect x="504.1" y="230.1" width="8.4" height="8.4" fill="#787878"/>
<rect x="512.1" y="230.1" width="8.4" height="8.4" fill="#7d7d7d"/>
<rect x="520.1" y="230.1" width="8.4" height="8.4" fill="#7d7d7d"/>
<rect x="528.1" y="230.1" width="8.4" height="8.4" fill="#787878"/>
<rect x="536.1" y="230.1" width="8.4" height="8.4" fill="#737373"/>
<rect x="544.1" y="230.1" width="8.4" height="8.4" fill="#6e6e6e"/>
<rect x="552.1" y="230.1" width="16.4" height="8.4" fill="#6e6e6e"/>
<rect x="456.1" y="238.1" width="16.4" height="8.4" fill="#787878"/>
<rect x="472.1" y="238.1" width="8.4" height="8.4" fill="#7d7d7d"/>
<rect x="480.1" y="238.1" width="8.4" height="8.4" fill="#828282"/>
<rect x="488.1" y="238.1" width="8.4" height="8.4" fill="#828282"/>
<rect x="496.1" y="238.1" width="8.4" height="8.4" fill="#828282"/>
<rect x="504.1" y="238.1" width="8.4" height="8.4" fill="#828282"/>
<rect x="512.1" y="238.1" width="8.4" height="8.4" fill="#828282"/>
<rect x="520.1" y="238.1" width="8.4" height="8.4" fill="#828282"/>
<rect x="528.1" y="238.1" width="8.4" height="8.4" fill="#7d7d7d"/>
<rect x="536.1" y="238.1" width="8.4" height="8.4" fill="#787878"/>
<rect x="544.1" y="238.1" width="8.4" height="8.4" fill="#737373"/>
<rect x="552.1" y="238.1" width="16.4" height="8.4" fill="#737373"/>
<rect x="456.1" y="246.1" width="16.4" height="16.4" fill="#787878"/>
<rect x="472.1" y="246.1" width="8.4" height="16.4" fill="#7d7d7d"/>
<rect x="480.1" y="246.1" width="8.4" height="16.4" fill="#828282"/>
<rect x="488.1" y="246.1" width="8.4" height="16.4" fill="#878787"/>
<rect x="496.1" y="246.1" width="8.4" height="16.4" fill="#878787"/>
<rect x="504.1" y="246.1" width="8.4" height="16.4" fill="#878787"/>
<rect x="512.1" y="246.1" width="8.4" height="16.4" fill="#878787"/>
<rect x="520.1" y="246.1" width="8.4" height="16.4" fill="#828282"/>
<rect x="528.1" y="246.1" width="8.4" height="16.4" fill="#7d7d7d"/>
<rect x="536.1" y="246.1" width="8.4" height="16.4" fill="#787878"/>
<rect x="544.1" y="246.1" width="8.4" height="16.4" fill="#787878"/>
<rect x="552.1" y="246.1" width="16.4" height="16.4" fill="#787878"/>
</g>
<g filter="url(#bl0p6)"><rect x="465.8" y="157.5" width="1.5" height="57.1" fill="#fff" fill-opacity="0.03"/><rect x="554.8" y="148.4" width="1.6" height="62.5" fill="#fff" fill-opacity="0.06"/><rect x="516.1" y="183.8" width="1.8" height="77.6" fill="#000" fill-opacity="0.05"/><rect x="478.2" y="151.8" width="0.9" height="24.0" fill="#000" fill-opacity="0.03"/><rect x="519.8" y="185.7" width="1.8" height="62.6" fill="#000" fill-opacity="0.04"/><rect x="509.1" y="165.6" width="1.8" height="76.6" fill="#000" fill-opacity="0.02"/><rect x="501.6" y="155.9" width="1.8" height="79.9" fill="#000" fill-opacity="0.04"/><rect x="493.0" y="211.8" width="1.4" height="57.6" fill="#fff" fill-opacity="0.05"/><rect x="527.9" y="154.1" width="1.3" height="58.1" fill="#fff" fill-opacity="0.04"/><rect x="530.6" y="182.0" width="1.4" height="73.5" fill="#fff" fill-opacity="0.05"/><rect x="497.9" y="170.4" width="1.2" height="50.3" fill="#fff" fill-opacity="0.03"/><rect x="467.9" y="174.9" width="1.6" height="72.6" fill="#fff" fill-opacity="0.03"/><rect x="539.6" y="216.4" width="1.3" height="76.6" fill="#fff" fill-opacity="0.03"/><rect x="489.9" y="150.7" width="0.9" height="65.4" fill="#000" fill-opacity="0.05"/><rect x="522.8" y="207.1" width="1.5" height="42.9" fill="#fff" fill-opacity="0.04"/><rect x="509.4" y="164.1" width="1.6" height="24.0" fill="#fff" fill-opacity="0.03"/><rect x="516.6" y="207.5" width="1.9" height="61.5" fill="#fff" fill-opacity="0.05"/><rect x="514.3" y="157.9" width="1.0" height="21.4" fill="#000" fill-opacity="0.05"/><rect x="495.9" y="149.6" width="1.3" height="55.9" fill="#fff" fill-opacity="0.06"/><rect x="533.5" y="179.4" width="0.8" height="64.0" fill="#000" fill-opacity="0.06"/><rect x="482.7" y="155.8" width="1.8" height="75.9" fill="#000" fill-opacity="0.04"/><rect x="498.1" y="164.5" width="1.9" height="34.7" fill="#fff" fill-opacity="0.04"/><rect x="502.1" y="166.6" width="1.8" height="78.0" fill="#fff" fill-opacity="0.06"/><rect x="514.0" y="196.3" width="2.0" height="62.5" fill="#fff" fill-opacity="0.03"/><rect x="472.9" y="154.6" width="1.5" height="22.4" fill="#fff" fill-opacity="0.06"/><rect x="549.2" y="164.0" width="0.9" height="64.8" fill="#000" fill-opacity="0.05"/><rect x="539.7" y="208.2" width="1.5" height="21.4" fill="#000" fill-opacity="0.06"/><rect x="465.2" y="150.5" width="1.0" height="40.2" fill="#000" fill-opacity="0.05"/><rect x="509.9" y="188.2" width="1.3" height="25.0" fill="#000" fill-opacity="0.03"/><rect x="518.5" y="192.7" width="1.7" height="74.5" fill="#fff" fill-opacity="0.05"/><rect x="529.2" y="150.7" width="1.6" height="63.8" fill="#fff" fill-opacity="0.03"/><rect x="552.8" y="153.9" width="1.5" height="21.4" fill="#fff" fill-opacity="0.03"/><rect x="505.1" y="190.1" width="1.5" height="51.2" fill="#fff" fill-opacity="0.03"/><rect x="499.6" y="158.3" width="1.7" height="36.2" fill="#000" fill-opacity="0.04"/><rect x="491.9" y="202.9" width="1.2" height="22.6" fill="#000" fill-opacity="0.04"/><rect x="519.1" y="212.9" width="1.1" height="40.0" fill="#000" fill-opacity="0.03"/><rect x="500.1" y="157.0" width="1.1" height="77.0" fill="#000" fill-opacity="0.04"/><rect x="491.0" y="216.9" width="0.9" height="50.0" fill="#000" fill-opacity="0.05"/><rect x="536.1" y="163.7" width="1.3" height="74.1" fill="#fff" fill-opacity="0.03"/><rect x="493.2" y="181.9" width="1.2" height="53.6" fill="#fff" fill-opacity="0.03"/><rect x="522.0" y="151.6" width="1.9" height="65.1" fill="#fff" fill-opacity="0.02"/><rect x="558.5" y="196.2" width="1.5" height="69.3" fill="#fff" fill-opacity="0.02"/><rect x="521.3" y="189.2" width="1.3" height="41.9" fill="#fff" fill-opacity="0.06"/><rect x="479.8" y="158.6" width="1.6" height="69.5" fill="#000" fill-opacity="0.03"/><rect x="465.7" y="194.5" width="1.6" height="72.9" fill="#fff" fill-opacity="0.03"/></g>
<rect x="554.05" y="158.30" width="4.80" height="96.0" fill="#fafafa" filter="url(#bl1)"/>
<g transform="translate(464.29,158.30)"><path d="M58 40C66 30 78 20 92 10" stroke="#707070" stroke-opacity="0.4" stroke-width="6" fill="none" filter="url(#bl3)"/><path d="M18.0 36.0C17.5 33.7 17.5 28.3 19.0 26.0C20.5 23.7 25.3 24.7 27.0 22.0C28.7 19.3 27.5 12.3 29.0 10.0C30.5 7.7 33.8 8.0 36.0 8.0C38.2 8.0 40.3 9.0 42.0 10.0C43.7 11.0 43.8 13.3 46.0 14.0C48.2 14.7 53.0 13.0 55.0 14.0C57.0 15.0 57.7 17.3 58.0 20.0C58.3 22.7 58.3 27.8 57.0 30.0C55.7 32.2 51.5 30.7 50.0 33.0C48.5 35.3 49.3 41.8 48.0 44.0C46.7 46.2 44.0 46.7 42.0 46.0C40.0 45.3 38.0 41.0 36.0 40.0C34.0 39.0 32.3 40.0 30.0 40.0C27.7 40.0 24.0 40.7 22.0 40.0C20.0 39.3 18.5 38.3 18.0 36.0Z" fill="#373737" fill-opacity="0.8" filter="url(#bl4)"/><path d="M30.0 10.0C31.0 8.2 34.8 8.7 37.0 9.0C39.2 9.3 41.3 11.2 43.0 12.0C44.7 12.8 45.0 13.5 47.0 14.0C49.0 14.5 53.3 13.7 55.0 15.0C56.7 16.3 56.8 19.7 57.0 22.0C57.2 24.3 57.2 27.5 56.0 29.0C54.8 30.5 51.7 29.8 50.0 31.0C48.3 32.2 46.5 34.0 46.0 36.0C45.5 38.0 47.7 41.5 47.0 43.0C46.3 44.5 43.2 45.8 42.0 45.0C40.8 44.2 41.2 40.0 40.0 38.0C38.8 36.0 36.7 33.3 35.0 33.0C33.3 32.7 32.2 35.3 30.0 36.0C27.8 36.7 23.7 38.0 22.0 37.0C20.3 36.0 19.2 31.8 20.0 30.0C20.8 28.2 25.2 27.7 27.0 26.0C28.8 24.3 30.5 22.7 31.0 20.0C31.5 17.3 29.0 11.8 30.0 10.0Z" fill="#0a0a0a" fill-opacity="0.92" filter="url(#bl4)"/></g>
</g>
<rect x="464.29" y="158.30" width="96.0" height="96.0" fill="none" stroke="#222" stroke-width="0.9"/>
<path d="M472.29 254.30v-1.8M472.29 158.30v1.8" stroke="#222" stroke-width="0.7"/>
<path d="M488.29 254.30v-1.8M488.29 158.30v1.8" stroke="#222" stroke-width="0.7"/>
<path d="M504.29 254.30v-1.8M504.29 158.30v1.8" stroke="#222" stroke-width="0.7"/>
<path d="M520.29 254.30v-1.8M520.29 158.30v1.8" stroke="#222" stroke-width="0.7"/>
<path d="M536.29 254.30v-1.8M536.29 158.30v1.8" stroke="#222" stroke-width="0.7"/>
<path d="M552.29 254.30v-1.8M552.29 158.30v1.8" stroke="#222" stroke-width="0.7"/>
<path d="M464.29 246.80h1.8M560.29 246.80h-1.8" stroke="#222" stroke-width="0.7"/>
<path d="M464.29 230.80h1.8M560.29 230.80h-1.8" stroke="#222" stroke-width="0.7"/>
<path d="M464.29 214.80h1.8M560.29 214.80h-1.8" stroke="#222" stroke-width="0.7"/>
<path d="M464.29 198.80h1.8M560.29 198.80h-1.8" stroke="#222" stroke-width="0.7"/>
<path d="M464.29 182.80h1.8M560.29 182.80h-1.8" stroke="#222" stroke-width="0.7"/>
<path d="M464.29 166.80h1.8M560.29 166.80h-1.8" stroke="#222" stroke-width="0.7"/>
<path d="M465.89 254.30v-1M465.89 158.30v1M469.09 254.30v-1M469.09 158.30v1M475.49 254.30v-1M475.49 158.30v1M478.69 254.30v-1M478.69 158.30v1M481.89 254.30v-1M481.89 158.30v1M485.09 254.30v-1M485.09 158.30v1M491.49 254.30v-1M491.49 158.30v1M494.69 254.30v-1M494.69 158.30v1M497.89 254.30v-1M497.89 158.30v1M501.09 254.30v-1M501.09 158.30v1M507.49 254.30v-1M507.49 158.30v1M510.69 254.30v-1M510.69 158.30v1M513.89 254.30v-1M513.89 158.30v1M517.09 254.30v-1M517.09 158.30v1M523.49 254.30v-1M523.49 158.30v1M526.69 254.30v-1M526.69 158.30v1M529.89 254.30v-1M529.89 158.30v1M533.09 254.30v-1M533.09 158.30v1M539.49 254.30v-1M539.49 158.30v1M542.69 254.30v-1M542.69 158.30v1M545.89 254.30v-1M545.89 158.30v1M549.09 254.30v-1M549.09 158.30v1M555.49 254.30v-1M555.49 158.30v1M558.69 254.30v-1M558.69 158.30v1M464.29 253.20h1M560.29 253.20h-1M464.29 250.00h1M560.29 250.00h-1M464.29 243.60h1M560.29 243.60h-1M464.29 240.40h1M560.29 240.40h-1M464.29 237.20h1M560.29 237.20h-1M464.29 234.00h1M560.29 234.00h-1M464.29 227.60h1M560.29 227.60h-1M464.29 224.40h1M560.29 224.40h-1M464.29 221.20h1M560.29 221.20h-1M464.29 218.00h1M560.29 218.00h-1M464.29 211.60h1M560.29 211.60h-1M464.29 208.40h1M560.29 208.40h-1M464.29 205.20h1M560.29 205.20h-1M464.29 202.00h1M560.29 202.00h-1M464.29 195.60h1M560.29 195.60h-1M464.29 192.40h1M560.29 192.40h-1M464.29 189.20h1M560.29 189.20h-1M464.29 186.00h1M560.29 186.00h-1M464.29 179.60h1M560.29 179.60h-1M464.29 176.40h1M560.29 176.40h-1M464.29 173.20h1M560.29 173.20h-1M464.29 170.00h1M560.29 170.00h-1M464.29 163.60h1M560.29 163.60h-1M464.29 160.40h1M560.29 160.40h-1" stroke="#333" stroke-width="0.6"/>
<text transform="translate(512.68,153.00)" text-anchor="middle" font-size="10.8" fill="#111" stroke="#111" stroke-width="0.2" letter-spacing="0.78">EIS Ca XVII 192.8</text>
<text transform="translate(462.24,250.60)" text-anchor="end" font-size="9.6" fill="#111" stroke="#111" stroke-width="0.2" letter-spacing="0.55">30</text>
<text transform="translate(462.24,234.60)" text-anchor="end" font-size="9.6" fill="#111" stroke="#111" stroke-width="0.2" letter-spacing="0.55">40</text>
<text transform="translate(462.24,218.60)" text-anchor="end" font-size="9.6" fill="#111" stroke="#111" stroke-width="0.2" letter-spacing="0.55">50</text>
<text transform="translate(462.24,202.60)" text-anchor="end" font-size="9.6" fill="#111" stroke="#111" stroke-width="0.2" letter-spacing="0.55">60</text>
<text transform="translate(462.24,186.60)" text-anchor="end" font-size="9.6" fill="#111" stroke="#111" stroke-width="0.2" letter-spacing="0.55">70</text>
<text transform="translate(462.24,170.60)" text-anchor="end" font-size="9.6" fill="#111" stroke="#111" stroke-width="0.2" letter-spacing="0.55">80</text>
<text transform="translate(472.56,267.80)" text-anchor="middle" font-size="9.6" fill="#111" stroke="#111" stroke-width="0.2" letter-spacing="0.55">40</text>
<text transform="translate(488.56,267.80)" text-anchor="middle" font-size="9.6" fill="#111" stroke="#111" stroke-width="0.2" letter-spacing="0.55">50</text>
<text transform="translate(504.56,267.80)" text-anchor="middle" font-size="9.6" fill="#111" stroke="#111" stroke-width="0.2" letter-spacing="0.55">60</text>
<text transform="translate(520.56,267.80)" text-anchor="middle" font-size="9.6" fill="#111" stroke="#111" stroke-width="0.2" letter-spacing="0.55">70</text>
<text transform="translate(536.56,267.80)" text-anchor="middle" font-size="9.6" fill="#111" stroke="#111" stroke-width="0.2" letter-spacing="0.55">80</text>
<text transform="translate(552.56,267.80)" text-anchor="middle" font-size="9.6" fill="#111" stroke="#111" stroke-width="0.2" letter-spacing="0.55">90</text>
<text transform="translate(512.49,278.50)" text-anchor="middle" font-size="9.4" fill="#111" stroke="#111" stroke-width="0.2" letter-spacing="0.4">X (arcsecs)</text>
<defs><linearGradient id="cb13" x1="0" y1="0" x2="0" y2="1"><stop offset="0" stop-color="#000"/><stop offset="1" stop-color="#fff"/></linearGradient></defs>
<rect x="563.99" y="172.90" width="3.6" height="81.90" fill="url(#cb13)" stroke="#333" stroke-width="0.5"/>
<path d="M567.59 172.90h1.8" stroke="#222" stroke-width="0.6"/>
<text transform="translate(572.59,176.30)" font-size="9.6" fill="#111" stroke="#111" stroke-width="0.2" letter-spacing="0.55">4.0</text>
<path d="M567.59 193.38h1.8" stroke="#222" stroke-width="0.6"/>
<text transform="translate(572.59,196.78)" font-size="9.6" fill="#111" stroke="#111" stroke-width="0.2" letter-spacing="0.55">3.5</text>
<path d="M567.59 213.85h1.8" stroke="#222" stroke-width="0.6"/>
<text transform="translate(572.59,217.25)" font-size="9.6" fill="#111" stroke="#111" stroke-width="0.2" letter-spacing="0.55">3.0</text>
<path d="M567.59 234.33h1.8" stroke="#222" stroke-width="0.6"/>
<text transform="translate(572.59,237.73)" font-size="9.6" fill="#111" stroke="#111" stroke-width="0.2" letter-spacing="0.55">2.5</text>
<path d="M567.59 254.80h1.8" stroke="#222" stroke-width="0.6"/>
<text transform="translate(572.59,258.20)" font-size="9.6" fill="#111" stroke="#111" stroke-width="0.2" letter-spacing="0.55">2.0</text>
<text transform="translate(562.79,163.90)" font-size="9.4" fill="#111" stroke="#111" stroke-width="0.2" letter-spacing="0.5">log N<tspan font-size="5.8" dy="3" letter-spacing="0.1">ph</tspan></text>
<clipPath id="cp20"><rect x="29.50" y="303.60" width="96.0" height="96.0"/></clipPath>
<g clip-path="url(#cp20)"><g filter="url(#bl3)">
<rect x="21.3" y="295.4" width="16.4" height="16.4" fill="#fcfcfc"/>
<rect x="37.3" y="295.4" width="8.4" height="16.4" fill="#fcfcfc"/>
<rect x="45.3" y="295.4" width="8.4" height="16.4" fill="#fcfcfc"/>
<rect x="53.3" y="295.4" width="8.4" height="16.4" fill="#fcfcfc"/>
<rect x="61.3" y="295.4" width="8.4" height="16.4" fill="#fcfcfc"/>
<rect x="69.3" y="295.4" width="8.4" height="16.4" fill="#fcfcfc"/>
<rect x="77.3" y="295.4" width="8.4" height="16.4" fill="#fcfcfc"/>
<rect x="85.3" y="295.4" width="8.4" height="16.4" fill="#fcfcfc"/>
<rect x="93.3" y="295.4" width="8.4" height="16.4" fill="#fcfcfc"/>
<rect x="101.3" y="295.4" width="8.4" height="16.4" fill="#fcfcfc"/>
<rect x="109.3" y="295.4" width="8.4" height="16.4" fill="#fcfcfc"/>
<rect x="117.3" y="295.4" width="16.4" height="16.4" fill="#fcfcfc"/>
<rect x="21.3" y="311.4" width="16.4" height="8.4" fill="#fcfcfc"/>
<rect x="37.3" y="311.4" width="8.4" height="8.4" fill="#fcfcfc"/>
<rect x="45.3" y="311.4" width="8.4" height="8.4" fill="#fcfcfc"/>
<rect x="53.3" y="311.4" width="8.4" height="8.4" fill="#fcfcfc"/>
<rect x="61.3" y="311.4" width="8.4" height="8.4" fill="#fcfcfc"/>
<rect x="69.3" y="311.4" width="8.4" height="8.4" fill="#fcfcfc"/>
<rect x="77.3" y="311.4" width="8.4" height="8.4" fill="#fcfcfc"/>
<rect x="85.3" y="311.4" width="8.4" height="8.4" fill="#fcfcfc"/>
<rect x="93.3" y="311.4" width="8.4" height="8.4" fill="#fcfcfc"/>
<rect x="101.3" y="311.4" width="8.4" height="8.4" fill="#fcfcfc"/>
<rect x="109.3" y="311.4" width="8.4" height="8.4" fill="#fcfcfc"/>
<rect x="117.3" y="311.4" width="16.4" height="8.4" fill="#fcfcfc"/>
<rect x="21.3" y="319.4" width="16.4" height="8.4" fill="#fcfcfc"/>
<rect x="37.3" y="319.4" width="8.4" height="8.4" fill="#fcfcfc"/>
<rect x="45.3" y="319.4" width="8.4" height="8.4" fill="#fcfcfc"/>
<rect x="53.3" y="319.4" width="8.4" height="8.4" fill="#fcfcfc"/>
<rect x="61.3" y="319.4" width="8.4" height="8.4" fill="#fcfcfc"/>
<rect x="69.3" y="319.4" width="8.4" height="8.4" fill="#fcfcfc"/>
<rect x="77.3" y="319.4" width="8.4" height="8.4" fill="#fcfcfc"/>
<rect x="85.3" y="319.4" width="8.4" height="8.4" fill="#fcfcfc"/>
<rect x="93.3" y="319.4" width="8.4" height="8.4" fill="#fcfcfc"/>
<rect x="101.3" y="319.4" width="8.4" height="8.4" fill="#fcfcfc"/>
<rect x="109.3" y="319.4" width="8.4" height="8.4" fill="#fcfcfc"/>
<rect x="117.3" y="319.4" width="16.4" height="8.4" fill="#fcfcfc"/>
<rect x="21.3" y="327.4" width="16.4" height="8.4" fill="#fcfcfc"/>
<rect x="37.3" y="327.4" width="8.4" height="8.4" fill="#fcfcfc"/>
<rect x="45.3" y="327.4" width="8.4" height="8.4" fill="#fcfcfc"/>
<rect x="53.3" y="327.4" width="8.4" height="8.4" fill="#fcfcfc"/>
<rect x="61.3" y="327.4" width="8.4" height="8.4" fill="#fcfcfc"/>
<rect x="69.3" y="327.4" width="8.4" height="8.4" fill="#fcfcfc"/>
<rect x="77.3" y="327.4" width="8.4" height="8.4" fill="#fcfcfc"/>
<rect x="85.3" y="327.4" width="8.4" height="8.4" fill="#fcfcfc"/>
<rect x="93.3" y="327.4" width="8.4" height="8.4" fill="#fcfcfc"/>
<rect x="101.3" y="327.4" width="8.4" height="8.4" fill="#fcfcfc"/>
<rect x="109.3" y="327.4" width="8.4" height="8.4" fill="#fcfcfc"/>
<rect x="117.3" y="327.4" width="16.4" height="8.4" fill="#fcfcfc"/>
<rect x="21.3" y="335.4" width="16.4" height="8.4" fill="#fcfcfc"/>
<rect x="37.3" y="335.4" width="8.4" height="8.4" fill="#fcfcfc"/>
<rect x="45.3" y="335.4" width="8.4" height="8.4" fill="#fcfcfc"/>
<rect x="53.3" y="335.4" width="8.4" height="8.4" fill="#fcfcfc"/>
<rect x="61.3" y="335.4" width="8.4" height="8.4" fill="#fcfcfc"/>
<rect x="69.3" y="335.4" width="8.4" height="8.4" fill="#fcfcfc"/>
<rect x="77.3" y="335.4" width="8.4" height="8.4" fill="#fcfcfc"/>
<rect x="85.3" y="335.4" width="8.4" height="8.4" fill="#fcfcfc"/>
<rect x="93.3" y="335.4" width="8.4" height="8.4" fill="#fcfcfc"/>
<rect x="101.3" y="335.4" width="8.4" height="8.4" fill="#fcfcfc"/>
<rect x="109.3" y="335.4" width="8.4" height="8.4" fill="#fcfcfc"/>
<rect x="117.3" y="335.4" width="16.4" height="8.4" fill="#fcfcfc"/>
<rect x="21.3" y="343.4" width="16.4" height="8.4" fill="#fcfcfc"/>
<rect x="37.3" y="343.4" width="8.4" height="8.4" fill="#fcfcfc"/>
<rect x="45.3" y="343.4" width="8.4" height="8.4" fill="#fcfcfc"/>
<rect x="53.3" y="343.4" width="8.4" height="8.4" fill="#fcfcfc"/>
<rect x="61.3" y="343.4" width="8.4" height="8.4" fill="#fcfcfc"/>
<rect x="69.3" y="343.4" width="8.4" height="8.4" fill="#fcfcfc"/>
<rect x="77.3" y="343.4" width="8.4" height="8.4" fill="#fcfcfc"/>
<rect x="85.3" y="343.4" width="8.4" height="8.4" fill="#fcfcfc"/>
<rect x="93.3" y="343.4" width="8.4" height="8.4" fill="#fcfcfc"/>
<rect x="101.3" y="343.4" width="8.4" height="8.4" fill="#fcfcfc"/>
<rect x="109.3" y="343.4" width="8.4" height="8.4" fill="#fcfcfc"/>
<rect x="117.3" y="343.4" width="16.4" height="8.4" fill="#fcfcfc"/>
<rect x="21.3" y="351.4" width="16.4" height="8.4" fill="#fcfcfc"/>
<rect x="37.3" y="351.4" width="8.4" height="8.4" fill="#fcfcfc"/>
<rect x="45.3" y="351.4" width="8.4" height="8.4" fill="#fcfcfc"/>
<rect x="53.3" y="351.4" width="8.4" height="8.4" fill="#fcfcfc"/>
<rect x="61.3" y="351.4" width="8.4" height="8.4" fill="#fcfcfc"/>
<rect x="69.3" y="351.4" width="8.4" height="8.4" fill="#fcfcfc"/>
<rect x="77.3" y="351.4" width="8.4" height="8.4" fill="#fcfcfc"/>
<rect x="85.3" y="351.4" width="8.4" height="8.4" fill="#fcfcfc"/>
<rect x="93.3" y="351.4" width="8.4" height="8.4" fill="#fcfcfc"/>
<rect x="101.3" y="351.4" width="8.4" height="8.4" fill="#fcfcfc"/>
<rect x="109.3" y="351.4" width="8.4" height="8.4" fill="#fcfcfc"/>
<rect x="117.3" y="351.4" width="16.4" height="8.4" fill="#fcfcfc"/>
<rect x="21.3" y="359.4" width="16.4" height="8.4" fill="#fcfcfc"/>
<rect x="37.3" y="359.4" width="8.4" height="8.4" fill="#fcfcfc"/>
<rect x="45.3" y="359.4" width="8.4" height="8.4" fill="#fcfcfc"/>
<rect x="53.3" y="359.4" width="8.4" height="8.4" fill="#fcfcfc"/>
<rect x="61.3" y="359.4" width="8.4" height="8.4" fill="#fcfcfc"/>
<rect x="69.3" y="359.4" width="8.4" height="8.4" fill="#fcfcfc"/>
<rect x="77.3" y="359.4" width="8.4" height="8.4" fill="#fcfcfc"/>
<rect x="85.3" y="359.4" width="8.4" height="8.4" fill="#fcfcfc"/>
<rect x="93.3" y="359.4" width="8.4" height="8.4" fill="#fcfcfc"/>
<rect x="101.3" y="359.4" width="8.4" height="8.4" fill="#fcfcfc"/>
<rect x="109.3" y="359.4" width="8.4" height="8.4" fill="#fcfcfc"/>
<rect x="117.3" y="359.4" width="16.4" height="8.4" fill="#fcfcfc"/>
<rect x="21.3" y="367.4" width="16.4" height="8.4" fill="#fcfcfc"/>
<rect x="37.3" y="367.4" width="8.4" height="8.4" fill="#fcfcfc"/>
<rect x="45.3" y="367.4" width="8.4" height="8.4" fill="#fcfcfc"/>
<rect x="53.3" y="367.4" width="8.4" height="8.4" fill="#fcfcfc"/>
<rect x="61.3" y="367.4" width="8.4" height="8.4" fill="#fcfcfc"/>
<rect x="69.3" y="367.4" width="8.4" height="8.4" fill="#fcfcfc"/>
<rect x="77.3" y="367.4" width="8.4" height="8.4" fill="#fcfcfc"/>
<rect x="85.3" y="367.4" width="8.4" height="8.4" fill="#fcfcfc"/>
<rect x="93.3" y="367.4" width="8.4" height="8.4" fill="#fcfcfc"/>
<rect x="101.3" y="367.4" width="8.4" height="8.4" fill="#fcfcfc"/>
<rect x="109.3" y="367.4" width="8.4" height="8.4" fill="#fcfcfc"/>
<rect x="117.3" y="367.4" width="16.4" height="8.4" fill="#fcfcfc"/>
<rect x="21.3" y="375.4" width="16.4" height="8.4" fill="#fcfcfc"/>
<rect x="37.3" y="375.4" width="8.4" height="8.4" fill="#fcfcfc"/>
<rect x="45.3" y="375.4" width="8.4" height="8.4" fill="#fcfcfc"/>
<rect x="53.3" y="375.4" width="8.4" height="8.4" fill="#fcfcfc"/>
<rect x="61.3" y="375.4" width="8.4" height="8.4" fill="#fcfcfc"/>
<rect x="69.3" y="375.4" width="8.4" height="8.4" fill="#fcfcfc"/>
<rect x="77.3" y="375.4" width="8.4" height="8.4" fill="#fcfcfc"/>
<rect x="85.3" y="375.4" width="8.4" height="8.4" fill="#fcfcfc"/>
<rect x="93.3" y="375.4" width="8.4" height="8.4" fill="#fcfcfc"/>
<rect x="101.3" y="375.4" width="8.4" height="8.4" fill="#fcfcfc"/>
<rect x="109.3" y="375.4" width="8.4" height="8.4" fill="#fcfcfc"/>
<rect x="117.3" y="375.4" width="16.4" height="8.4" fill="#fcfcfc"/>
<rect x="21.3" y="383.4" width="16.4" height="8.4" fill="#fcfcfc"/>
<rect x="37.3" y="383.4" width="8.4" height="8.4" fill="#fcfcfc"/>
<rect x="45.3" y="383.4" width="8.4" height="8.4" fill="#fcfcfc"/>
<rect x="53.3" y="383.4" width="8.4" height="8.4" fill="#fcfcfc"/>
<rect x="61.3" y="383.4" width="8.4" height="8.4" fill="#fcfcfc"/>
<rect x="69.3" y="383.4" width="8.4" height="8.4" fill="#fcfcfc"/>
<rect x="77.3" y="383.4" width="8.4" height="8.4" fill="#fcfcfc"/>
<rect x="85.3" y="383.4" width="8.4" height="8.4" fill="#fcfcfc"/>
<rect x="93.3" y="383.4" width="8.4" height="8.4" fill="#fcfcfc"/>
<rect x="101.3" y="383.4" width="8.4" height="8.4" fill="#fcfcfc"/>
<rect x="109.3" y="383.4" width="8.4" height="8.4" fill="#fcfcfc"/>
<rect x="117.3" y="383.4" width="16.4" height="8.4" fill="#fcfcfc"/>
<rect x="21.3" y="391.4" width="16.4" height="16.4" fill="#fcfcfc"/>
<rect x="37.3" y="391.4" width="8.4" height="16.4" fill="#fcfcfc"/>
<rect x="45.3" y="391.4" width="8.4" height="16.4" fill="#fcfcfc"/>
<rect x="53.3" y="391.4" width="8.4" height="16.4" fill="#fcfcfc"/>
<rect x="61.3" y="391.4" width="8.4" height="16.4" fill="#fcfcfc"/>
<rect x="69.3" y="391.4" width="8.4" height="16.4" fill="#fcfcfc"/>
<rect x="77.3" y="391.4" width="8.4" height="16.4" fill="#fcfcfc"/>
<rect x="85.3" y="391.4" width="8.4" height="16.4" fill="#fcfcfc"/>
<rect x="93.3" y="391.4" width="8.4" height="16.4" fill="#fcfcfc"/>
<rect x="101.3" y="391.4" width="8.4" height="16.4" fill="#fcfcfc"/>
<rect x="109.3" y="391.4" width="8.4" height="16.4" fill="#fcfcfc"/>
<rect x="117.3" y="391.4" width="16.4" height="16.4" fill="#fcfcfc"/>
</g>
<g filter="url(#bl0p6)"><rect x="52.0" y="338.7" width="1.6" height="1.6" fill="#e6e6e6" fill-opacity="0.6"/><rect x="78.7" y="345.7" width="1.6" height="1.6" fill="#dedede" fill-opacity="0.6"/><rect x="58.5" y="331.0" width="1.6" height="1.6" fill="#e0e0e0" fill-opacity="0.6"/><rect x="49.3" y="352.8" width="1.6" height="1.6" fill="#dcdcdc" fill-opacity="0.6"/><rect x="52.5" y="323.3" width="1.6" height="1.6" fill="#dedede" fill-opacity="0.6"/><rect x="72.6" y="315.6" width="1.6" height="1.6" fill="#e6e6e6" fill-opacity="0.6"/><rect x="51.9" y="360.0" width="1.6" height="1.6" fill="#d4d4d4" fill-opacity="0.6"/><rect x="56.8" y="334.2" width="1.6" height="1.6" fill="#dddddd" fill-opacity="0.6"/><rect x="55.3" y="320.1" width="1.6" height="1.6" fill="#dcdcdc" fill-opacity="0.6"/><rect x="54.7" y="365.0" width="1.6" height="1.6" fill="#d4d4d4" fill-opacity="0.6"/><rect x="58.2" y="336.3" width="1.6" height="1.6" fill="#e7e7e7" fill-opacity="0.6"/><rect x="59.5" y="321.2" width="1.6" height="1.6" fill="#e2e2e2" fill-opacity="0.6"/><rect x="51.9" y="321.2" width="1.6" height="1.6" fill="#dddddd" fill-opacity="0.6"/><rect x="54.0" y="332.0" width="1.6" height="1.6" fill="#d5d5d5" fill-opacity="0.6"/><rect x="77.3" y="355.2" width="1.6" height="1.6" fill="#d7d7d7" fill-opacity="0.6"/><rect x="68.3" y="348.3" width="1.6" height="1.6" fill="#d5d5d5" fill-opacity="0.6"/><rect x="67.8" y="316.7" width="1.6" height="1.6" fill="#d3d3d3" fill-opacity="0.6"/><rect x="80.9" y="360.5" width="1.6" height="1.6" fill="#e0e0e0" fill-opacity="0.6"/><rect x="53.4" y="339.9" width="1.6" height="1.6" fill="#dcdcdc" fill-opacity="0.6"/><rect x="56.4" y="352.5" width="1.6" height="1.6" fill="#e4e4e4" fill-opacity="0.6"/><rect x="68.9" y="335.9" width="1.6" height="1.6" fill="#d4d4d4" fill-opacity="0.6"/><rect x="58.3" y="339.9" width="1.6" height="1.6" fill="#eaeaea" fill-opacity="0.6"/><rect x="58.1" y="356.3" width="1.6" height="1.6" fill="#dcdcdc" fill-opacity="0.6"/><rect x="64.3" y="350.9" width="1.6" height="1.6" fill="#eaeaea" fill-opacity="0.6"/><rect x="67.5" y="363.1" width="1.6" height="1.6" fill="#e0e0e0" fill-opacity="0.6"/><rect x="68.0" y="318.4" width="1.6" height="1.6" fill="#dadada" fill-opacity="0.6"/><rect x="71.5" y="334.7" width="1.6" height="1.6" fill="#eaeaea" fill-opacity="0.6"/><rect x="77.7" y="344.7" width="1.6" height="1.6" fill="#e2e2e2" fill-opacity="0.6"/><rect x="79.7" y="319.4" width="1.6" height="1.6" fill="#d5d5d5" fill-opacity="0.6"/><rect x="59.6" y="323.1" width="1.6" height="1.6" fill="#dfdfdf" fill-opacity="0.6"/><rect x="56.9" y="343.0" width="1.6" height="1.6" fill="#e6e6e6" fill-opacity="0.6"/><rect x="63.0" y="318.2" width="1.6" height="1.6" fill="#d5d5d5" fill-opacity="0.6"/><rect x="68.1" y="357.9" width="1.6" height="1.6" fill="#e8e8e8" fill-opacity="0.6"/><rect x="81.4" y="352.1" width="1.6" height="1.6" fill="#d8d8d8" fill-opacity="0.6"/><rect x="51.9" y="326.8" width="1.6" height="1.6" fill="#dadada" fill-opacity="0.6"/><rect x="83.7" y="327.9" width="1.6" height="1.6" fill="#e4e4e4" fill-opacity="0.6"/><rect x="48.4" y="338.9" width="1.6" height="1.6" fill="#d8d8d8" fill-opacity="0.6"/><rect x="58.9" y="332.9" width="1.6" height="1.6" fill="#d9d9d9" fill-opacity="0.6"/><rect x="84.9" y="351.9" width="1.6" height="1.6" fill="#e5e5e5" fill-opacity="0.6"/><rect x="60.9" y="324.8" width="1.6" height="1.6" fill="#d4d4d4" fill-opacity="0.6"/><rect x="78.8" y="335.2" width="1.6" height="1.6" fill="#e3e3e3" fill-opacity="0.6"/><rect x="72.8" y="327.3" width="1.6" height="1.6" fill="#dddddd" fill-opacity="0.6"/><rect x="73.8" y="359.4" width="1.6" height="1.6" fill="#e6e6e6" fill-opacity="0.6"/><rect x="75.0" y="350.6" width="1.6" height="1.6" fill="#d5d5d5" fill-opacity="0.6"/><rect x="75.5" y="364.2" width="1.6" height="1.6" fill="#eaeaea" fill-opacity="0.6"/><rect x="70.8" y="365.2" width="1.6" height="1.6" fill="#e3e3e3" fill-opacity="0.6"/><rect x="58.4" y="363.0" width="1.6" height="1.6" fill="#eaeaea" fill-opacity="0.6"/><rect x="63.9" y="350.8" width="1.6" height="1.6" fill="#e4e4e4" fill-opacity="0.6"/><rect x="82.4" y="363.8" width="1.6" height="1.6" fill="#e8e8e8" fill-opacity="0.6"/><rect x="66.3" y="347.4" width="1.6" height="1.6" fill="#e3e3e3" fill-opacity="0.6"/><rect x="70.6" y="351.3" width="1.6" height="1.6" fill="#dcdcdc" fill-opacity="0.6"/><rect x="54.6" y="361.0" width="1.6" height="1.6" fill="#e0e0e0" fill-opacity="0.6"/><rect x="57.4" y="320.7" width="1.6" height="1.6" fill="#d8d8d8" fill-opacity="0.6"/><rect x="54.6" y="336.5" width="1.6" height="1.6" fill="#dcdcdc" fill-opacity="0.6"/><rect x="76.9" y="329.7" width="1.6" height="1.6" fill="#d8d8d8" fill-opacity="0.6"/><rect x="63.4" y="363.6" width="1.6" height="1.6" fill="#d4d4d4" fill-opacity="0.6"/><rect x="51.2" y="318.7" width="1.6" height="1.6" fill="#d6d6d6" fill-opacity="0.6"/><rect x="54.1" y="319.8" width="1.6" height="1.6" fill="#d2d2d2" fill-opacity="0.6"/><rect x="73.6" y="333.4" width="1.6" height="1.6" fill="#e7e7e7" fill-opacity="0.6"/><rect x="78.4" y="341.9" width="1.6" height="1.6" fill="#dedede" fill-opacity="0.6"/><rect x="54.6" y="358.3" width="1.6" height="1.6" fill="#d6d6d6" fill-opacity="0.6"/><rect x="48.0" y="324.4" width="1.6" height="1.6" fill="#dddddd" fill-opacity="0.6"/><rect x="49.4" y="320.7" width="1.6" height="1.6" fill="#dcdcdc" fill-opacity="0.6"/><rect x="80.3" y="321.6" width="1.6" height="1.6" fill="#d7d7d7" fill-opacity="0.6"/><rect x="85.6" y="347.3" width="1.6" height="1.6" fill="#d6d6d6" fill-opacity="0.6"/><rect x="53.8" y="327.3" width="1.6" height="1.6" fill="#d4d4d4" fill-opacity="0.6"/><rect x="55.2" y="340.9" width="1.6" height="1.6" fill="#e7e7e7" fill-opacity="0.6"/><rect x="71.5" y="326.0" width="1.6" height="1.6" fill="#eaeaea" fill-opacity="0.6"/><rect x="77.7" y="339.0" width="1.6" height="1.6" fill="#dcdcdc" fill-opacity="0.6"/><rect x="87.1" y="323.3" width="1.6" height="1.6" fill="#d5d5d5" fill-opacity="0.6"/><rect x="79.2" y="333.6" width="1.6" height="1.6" fill="#dddddd" fill-opacity="0.6"/><rect x="77.0" y="338.7" width="1.6" height="1.6" fill="#e2e2e2" fill-opacity="0.6"/><rect x="75.0" y="336.2" width="1.6" height="1.6" fill="#e9e9e9" fill-opacity="0.6"/><rect x="61.6" y="324.0" width="1.6" height="1.6" fill="#dedede" fill-opacity="0.6"/><rect x="72.0" y="353.1" width="1.6" height="1.6" fill="#e7e7e7" fill-opacity="0.6"/><rect x="53.8" y="347.5" width="1.6" height="1.6" fill="#e9e9e9" fill-opacity="0.6"/><rect x="58.5" y="318.0" width="1.6" height="1.6" fill="#e6e6e6" fill-opacity="0.6"/><rect x="56.8" y="331.5" width="1.6" height="1.6" fill="#dedede" fill-opacity="0.6"/><rect x="53.4" y="317.3" width="1.6" height="1.6" fill="#d3d3d3" fill-opacity="0.6"/><rect x="55.6" y="334.5" width="1.6" height="1.6" fill="#dcdcdc" fill-opacity="0.6"/><rect x="65.5" y="334.2" width="1.6" height="1.6" fill="#e4e4e4" fill-opacity="0.6"/><rect x="59.0" y="342.0" width="1.6" height="1.6" fill="#dedede" fill-opacity="0.6"/><rect x="70.6" y="325.0" width="1.6" height="1.6" fill="#d7d7d7" fill-opacity="0.6"/><rect x="72.2" y="345.5" width="1.6" height="1.6" fill="#dadada" fill-opacity="0.6"/><rect x="83.8" y="344.5" width="1.6" height="1.6" fill="#eaeaea" fill-opacity="0.6"/><rect x="74.9" y="351.4" width="1.6" height="1.6" fill="#e3e3e3" fill-opacity="0.6"/><rect x="81.6" y="335.4" width="1.6" height="1.6" fill="#d3d3d3" fill-opacity="0.6"/><rect x="58.6" y="334.9" width="1.6" height="1.6" fill="#e5e5e5" fill-opacity="0.6"/><rect x="80.1" y="353.5" width="1.6" height="1.6" fill="#dbdbdb" fill-opacity="0.6"/><rect x="83.5" y="346.7" width="1.6" height="1.6" fill="#eaeaea" fill-opacity="0.6"/></g>
<g transform="translate(29.50,303.60)">
<clipPath id="c9"><rect x="0" y="0" width="59.2" height="96"/></clipPath>
<g clip-path="url(#c9)"><g filter="url(#bl3)">
<ellipse cx="43" cy="32" rx="18" ry="16" fill="#a8a8a8"/>
<ellipse cx="27" cy="36" rx="6" ry="4" fill="#d4d4d4"/>
<ellipse cx="37" cy="22" rx="7" ry="7" fill="#bcbcbc"/>
<ellipse cx="52" cy="38" rx="9" ry="17" fill="#7c7c7c"/>
</g>
<ellipse cx="57.5" cy="43" rx="3.8" ry="7" fill="#2a2a2a" filter="url(#bl2)"/><g filter="url(#bl1)" fill="#b8b8b8" fill-opacity="0.7"><rect x="32" y="13" width="1.6" height="10"/><rect x="36" y="14" width="1.4" height="8"/><rect x="46" y="15" width="1.6" height="9"/><rect x="50" y="16" width="1.4" height="7"/><rect x="54" y="18" width="1.5" height="8"/></g>
</g>
<path d="M58.6 0V96" stroke="#222" stroke-width="1" stroke-dasharray="1.1 4.9" fill="none"/>
<g filter="url(#bl0p6)"><rect x="51.3" y="18.2" width="1.5" height="1.5" fill="#8b8b8b" fill-opacity="0.4"/><rect x="31.3" y="32.8" width="1.5" height="1.5" fill="#cfcfcf" fill-opacity="0.4"/><rect x="45.5" y="48.0" width="1.5" height="1.5" fill="#eaeaea" fill-opacity="0.4"/><rect x="35.6" y="38.0" width="1.5" height="1.5" fill="#777777" fill-opacity="0.4"/><rect x="28.3" y="32.7" width="1.5" height="1.5" fill="#7e7e7e" fill-opacity="0.4"/><rect x="52.3" y="21.7" width="1.5" height="1.5" fill="#909090" fill-opacity="0.4"/><rect x="35.1" y="23.1" width="1.5" height="1.5" fill="#cfcfcf" fill-opacity="0.4"/><rect x="32.5" y="40.2" width="1.5" height="1.5" fill="#787878" fill-opacity="0.4"/><rect x="55.5" y="21.4" width="1.5" height="1.5" fill="#ededed" fill-opacity="0.4"/><rect x="54.5" y="54.1" width="1.5" height="1.5" fill="#717171" fill-opacity="0.4"/><rect x="53.2" y="14.1" width="1.5" height="1.5" fill="#dadada" fill-opacity="0.4"/><rect x="37.6" y="17.8" width="1.5" height="1.5" fill="#e9e9e9" fill-opacity="0.4"/><rect x="46.1" y="14.3" width="1.5" height="1.5" fill="#7a7a7a" fill-opacity="0.4"/><rect x="41.4" y="27.3" width="1.5" height="1.5" fill="#e1e1e1" fill-opacity="0.4"/><rect x="53.5" y="16.5" width="1.5" height="1.5" fill="#f9f9f9" fill-opacity="0.4"/><rect x="22.8" y="18.7" width="1.5" height="1.5" fill="#959595" fill-opacity="0.4"/><rect x="25.0" y="22.4" width="1.5" height="1.5" fill="#e1e1e1" fill-opacity="0.4"/><rect x="55.4" y="19.5" width="1.5" height="1.5" fill="#d2d2d2" fill-opacity="0.4"/><rect x="37.4" y="24.6" width="1.5" height="1.5" fill="#cccccc" fill-opacity="0.4"/><rect x="42.8" y="27.7" width="1.5" height="1.5" fill="#cfcfcf" fill-opacity="0.4"/><rect x="33.4" y="27.1" width="1.5" height="1.5" fill="#888888" fill-opacity="0.4"/><rect x="53.1" y="35.0" width="1.5" height="1.5" fill="#e7e7e7" fill-opacity="0.4"/><rect x="48.6" y="57.3" width="1.5" height="1.5" fill="#c9c9c9" fill-opacity="0.4"/><rect x="50.3" y="24.3" width="1.5" height="1.5" fill="#cbcbcb" fill-opacity="0.4"/><rect x="51.1" y="37.8" width="1.5" height="1.5" fill="#8d8d8d" fill-opacity="0.4"/><rect x="39.3" y="29.3" width="1.5" height="1.5" fill="#d0d0d0" fill-opacity="0.4"/><rect x="55.3" y="31.9" width="1.5" height="1.5" fill="#dcdcdc" fill-opacity="0.4"/><rect x="41.6" y="51.6" width="1.5" height="1.5" fill="#e0e0e0" fill-opacity="0.4"/><rect x="46.4" y="47.9" width="1.5" height="1.5" fill="#e2e2e2" fill-opacity="0.4"/><rect x="28.9" y="20.6" width="1.5" height="1.5" fill="#ebebeb" fill-opacity="0.4"/><rect x="52.0" y="25.6" width="1.5" height="1.5" fill="#c8c8c8" fill-opacity="0.4"/><rect x="43.0" y="38.7" width="1.5" height="1.5" fill="#e9e9e9" fill-opacity="0.4"/><rect x="54.3" y="32.9" width="1.5" height="1.5" fill="#e5e5e5" fill-opacity="0.4"/><rect x="42.1" y="23.5" width="1.5" height="1.5" fill="#f9f9f9" fill-opacity="0.4"/><rect x="52.9" y="57.2" width="1.5" height="1.5" fill="#737373" fill-opacity="0.4"/><rect x="27.9" y="32.0" width="1.5" height="1.5" fill="#ebebeb" fill-opacity="0.4"/><rect x="46.4" y="34.5" width="1.5" height="1.5" fill="#e6e6e6" fill-opacity="0.4"/><rect x="35.2" y="43.4" width="1.5" height="1.5" fill="#f3f3f3" fill-opacity="0.4"/><rect x="24.4" y="57.6" width="1.5" height="1.5" fill="#888888" fill-opacity="0.4"/><rect x="44.5" y="23.0" width="1.5" height="1.5" fill="#dedede" fill-opacity="0.4"/><rect x="43.5" y="16.4" width="1.5" height="1.5" fill="#878787" fill-opacity="0.4"/><rect x="51.5" y="48.8" width="1.5" height="1.5" fill="#d4d4d4" fill-opacity="0.4"/><rect x="43.6" y="29.8" width="1.5" height="1.5" fill="#ededed" fill-opacity="0.4"/><rect x="55.3" y="34.2" width="1.5" height="1.5" fill="#e3e3e3" fill-opacity="0.4"/><rect x="49.6" y="39.6" width="1.5" height="1.5" fill="#d9d9d9" fill-opacity="0.4"/><rect x="28.4" y="30.1" width="1.5" height="1.5" fill="#f3f3f3" fill-opacity="0.4"/><rect x="29.8" y="23.1" width="1.5" height="1.5" fill="#e2e2e2" fill-opacity="0.4"/><rect x="52.4" y="34.2" width="1.5" height="1.5" fill="#f0f0f0" fill-opacity="0.4"/><rect x="24.8" y="32.5" width="1.5" height="1.5" fill="#cecece" fill-opacity="0.4"/><rect x="32.0" y="52.0" width="1.5" height="1.5" fill="#7b7b7b" fill-opacity="0.4"/><rect x="56.4" y="35.7" width="1.5" height="1.5" fill="#eaeaea" fill-opacity="0.4"/><rect x="54.1" y="27.2" width="1.5" height="1.5" fill="#dcdcdc" fill-opacity="0.4"/><rect x="51.1" y="52.9" width="1.5" height="1.5" fill="#e0e0e0" fill-opacity="0.4"/><rect x="56.2" y="28.4" width="1.5" height="1.5" fill="#cecece" fill-opacity="0.4"/><rect x="49.8" y="56.3" width="1.5" height="1.5" fill="#c9c9c9" fill-opacity="0.4"/><rect x="56.3" y="53.3" width="1.5" height="1.5" fill="#dfdfdf" fill-opacity="0.4"/><rect x="32.2" y="33.7" width="1.5" height="1.5" fill="#cbcbcb" fill-opacity="0.4"/><rect x="27.0" y="40.4" width="1.5" height="1.5" fill="#d5d5d5" fill-opacity="0.4"/><rect x="36.4" y="19.1" width="1.5" height="1.5" fill="#f5f5f5" fill-opacity="0.4"/><rect x="28.6" y="44.6" width="1.5" height="1.5" fill="#e9e9e9" fill-opacity="0.4"/><rect x="45.5" y="23.8" width="1.5" height="1.5" fill="#f9f9f9" fill-opacity="0.4"/><rect x="25.1" y="27.3" width="1.5" height="1.5" fill="#7e7e7e" fill-opacity="0.4"/><rect x="44.4" y="33.4" width="1.5" height="1.5" fill="#e2e2e2" fill-opacity="0.4"/><rect x="28.4" y="16.8" width="1.5" height="1.5" fill="#cacaca" fill-opacity="0.4"/><rect x="37.5" y="52.0" width="1.5" height="1.5" fill="#c8c8c8" fill-opacity="0.4"/><rect x="40.4" y="24.6" width="1.5" height="1.5" fill="#f8f8f8" fill-opacity="0.4"/><rect x="42.1" y="56.8" width="1.5" height="1.5" fill="#ececec" fill-opacity="0.4"/><rect x="34.5" y="40.4" width="1.5" height="1.5" fill="#cecece" fill-opacity="0.4"/><rect x="27.9" y="38.0" width="1.5" height="1.5" fill="#707070" fill-opacity="0.4"/><rect x="34.3" y="56.2" width="1.5" height="1.5" fill="#dddddd" fill-opacity="0.4"/></g></g>
</g>
<rect x="29.50" y="303.60" width="96.0" height="96.0" fill="none" stroke="#222" stroke-width="0.9"/>
<path d="M37.50 399.60v-1.8M37.50 303.60v1.8" stroke="#222" stroke-width="0.7"/>
<path d="M53.50 399.60v-1.8M53.50 303.60v1.8" stroke="#222" stroke-width="0.7"/>
<path d="M69.50 399.60v-1.8M69.50 303.60v1.8" stroke="#222" stroke-width="0.7"/>
<path d="M85.50 399.60v-1.8M85.50 303.60v1.8" stroke="#222" stroke-width="0.7"/>
<path d="M101.50 399.60v-1.8M101.50 303.60v1.8" stroke="#222" stroke-width="0.7"/>
<path d="M117.50 399.60v-1.8M117.50 303.60v1.8" stroke="#222" stroke-width="0.7"/>
<path d="M29.50 392.10h1.8M125.50 392.10h-1.8" stroke="#222" stroke-width="0.7"/>
<path d="M29.50 376.10h1.8M125.50 376.10h-1.8" stroke="#222" stroke-width="0.7"/>
<path d="M29.50 360.10h1.8M125.50 360.10h-1.8" stroke="#222" stroke-width="0.7"/>
<path d="M29.50 344.10h1.8M125.50 344.10h-1.8" stroke="#222" stroke-width="0.7"/>
<path d="M29.50 328.10h1.8M125.50 328.10h-1.8" stroke="#222" stroke-width="0.7"/>
<path d="M29.50 312.10h1.8M125.50 312.10h-1.8" stroke="#222" stroke-width="0.7"/>
<path d="M31.10 399.60v-1M31.10 303.60v1M34.30 399.60v-1M34.30 303.60v1M40.70 399.60v-1M40.70 303.60v1M43.90 399.60v-1M43.90 303.60v1M47.10 399.60v-1M47.10 303.60v1M50.30 399.60v-1M50.30 303.60v1M56.70 399.60v-1M56.70 303.60v1M59.90 399.60v-1M59.90 303.60v1M63.10 399.60v-1M63.10 303.60v1M66.30 399.60v-1M66.30 303.60v1M72.70 399.60v-1M72.70 303.60v1M75.90 399.60v-1M75.90 303.60v1M79.10 399.60v-1M79.10 303.60v1M82.30 399.60v-1M82.30 303.60v1M88.70 399.60v-1M88.70 303.60v1M91.90 399.60v-1M91.90 303.60v1M95.10 399.60v-1M95.10 303.60v1M98.30 399.60v-1M98.30 303.60v1M104.70 399.60v-1M104.70 303.60v1M107.90 399.60v-1M107.90 303.60v1M111.10 399.60v-1M111.10 303.60v1M114.30 399.60v-1M114.30 303.60v1M120.70 399.60v-1M120.70 303.60v1M123.90 399.60v-1M123.90 303.60v1M29.50 398.50h1M125.50 398.50h-1M29.50 395.30h1M125.50 395.30h-1M29.50 388.90h1M125.50 388.90h-1M29.50 385.70h1M125.50 385.70h-1M29.50 382.50h1M125.50 382.50h-1M29.50 379.30h1M125.50 379.30h-1M29.50 372.90h1M125.50 372.90h-1M29.50 369.70h1M125.50 369.70h-1M29.50 366.50h1M125.50 366.50h-1M29.50 363.30h1M125.50 363.30h-1M29.50 356.90h1M125.50 356.90h-1M29.50 353.70h1M125.50 353.70h-1M29.50 350.50h1M125.50 350.50h-1M29.50 347.30h1M125.50 347.30h-1M29.50 340.90h1M125.50 340.90h-1M29.50 337.70h1M125.50 337.70h-1M29.50 334.50h1M125.50 334.50h-1M29.50 331.30h1M125.50 331.30h-1M29.50 324.90h1M125.50 324.90h-1M29.50 321.70h1M125.50 321.70h-1M29.50 318.50h1M125.50 318.50h-1M29.50 315.30h1M125.50 315.30h-1M29.50 308.90h1M125.50 308.90h-1M29.50 305.70h1M125.50 305.70h-1" stroke="#333" stroke-width="0.6"/>
<text transform="translate(77.89,298.30)" text-anchor="middle" font-size="10.8" fill="#111" stroke="#111" stroke-width="0.2" letter-spacing="0.78">EIS Fe XXIII 263.7</text>
<text transform="translate(27.45,395.90)" text-anchor="end" font-size="9.6" fill="#111" stroke="#111" stroke-width="0.2" letter-spacing="0.55">30</text>
<text transform="translate(27.45,379.90)" text-anchor="end" font-size="9.6" fill="#111" stroke="#111" stroke-width="0.2" letter-spacing="0.55">40</text>
<text transform="translate(27.45,363.90)" text-anchor="end" font-size="9.6" fill="#111" stroke="#111" stroke-width="0.2" letter-spacing="0.55">50</text>
<text transform="translate(27.45,347.90)" text-anchor="end" font-size="9.6" fill="#111" stroke="#111" stroke-width="0.2" letter-spacing="0.55">60</text>
<text transform="translate(27.45,331.90)" text-anchor="end" font-size="9.6" fill="#111" stroke="#111" stroke-width="0.2" letter-spacing="0.55">70</text>
<text transform="translate(27.45,315.90)" text-anchor="end" font-size="9.6" fill="#111" stroke="#111" stroke-width="0.2" letter-spacing="0.55">80</text>
<text transform="translate(37.77,413.10)" text-anchor="middle" font-size="9.6" fill="#111" stroke="#111" stroke-width="0.2" letter-spacing="0.55">40</text>
<text transform="translate(53.77,413.10)" text-anchor="middle" font-size="9.6" fill="#111" stroke="#111" stroke-width="0.2" letter-spacing="0.55">50</text>
<text transform="translate(69.78,413.10)" text-anchor="middle" font-size="9.6" fill="#111" stroke="#111" stroke-width="0.2" letter-spacing="0.55">60</text>
<text transform="translate(85.78,413.10)" text-anchor="middle" font-size="9.6" fill="#111" stroke="#111" stroke-width="0.2" letter-spacing="0.55">70</text>
<text transform="translate(101.78,413.10)" text-anchor="middle" font-size="9.6" fill="#111" stroke="#111" stroke-width="0.2" letter-spacing="0.55">80</text>
<text transform="translate(117.78,413.10)" text-anchor="middle" font-size="9.6" fill="#111" stroke="#111" stroke-width="0.2" letter-spacing="0.55">90</text>
<text transform="translate(77.70,423.80)" text-anchor="middle" font-size="9.4" fill="#111" stroke="#111" stroke-width="0.2" letter-spacing="0.4">X (arcsecs)</text>
<text transform="translate(8.70,351.60) rotate(-90) scale(1.13,1)" text-anchor="middle" font-size="9.2" fill="#111">Y (arcsecs)</text>
<defs><linearGradient id="cb20" x1="0" y1="0" x2="0" y2="1"><stop offset="0" stop-color="#000"/><stop offset="1" stop-color="#fff"/></linearGradient></defs>
<rect x="129.20" y="318.20" width="3.6" height="81.90" fill="url(#cb20)" stroke="#333" stroke-width="0.5"/>
<path d="M132.80 318.20h1.8" stroke="#222" stroke-width="0.6"/>
<text transform="translate(137.80,321.60)" font-size="9.6" fill="#111" stroke="#111" stroke-width="0.2" letter-spacing="0.55">3.0</text>
<path d="M132.80 345.50h1.8" stroke="#222" stroke-width="0.6"/>
<text transform="translate(137.80,348.90)" font-size="9.6" fill="#111" stroke="#111" stroke-width="0.2" letter-spacing="0.55">2.5</text>
<path d="M132.80 372.80h1.8" stroke="#222" stroke-width="0.6"/>
<text transform="translate(137.80,376.20)" font-size="9.6" fill="#111" stroke="#111" stroke-width="0.2" letter-spacing="0.55">2.0</text>
<path d="M132.80 400.10h1.8" stroke="#222" stroke-width="0.6"/>
<text transform="translate(137.80,403.50)" font-size="9.6" fill="#111" stroke="#111" stroke-width="0.2" letter-spacing="0.55">1.5</text>
<text transform="translate(128.00,309.20)" font-size="9.4" fill="#111" stroke="#111" stroke-width="0.2" letter-spacing="0.5">log N<tspan font-size="5.8" dy="3" letter-spacing="0.1">ph</tspan></text>
<clipPath id="cp21"><rect x="174.43" y="303.60" width="96.0" height="96.0"/></clipPath>
<g clip-path="url(#cp21)"><g filter="url(#bl3)">
<rect x="166.2" y="295.4" width="16.4" height="16.4" fill="#fcfcfc"/>
<rect x="182.2" y="295.4" width="8.4" height="16.4" fill="#fcfcfc"/>
<rect x="190.2" y="295.4" width="8.4" height="16.4" fill="#fcfcfc"/>
<rect x="198.2" y="295.4" width="8.4" height="16.4" fill="#fcfcfc"/>
<rect x="206.2" y="295.4" width="8.4" height="16.4" fill="#fcfcfc"/>
<rect x="214.2" y="295.4" width="8.4" height="16.4" fill="#fcfcfc"/>
<rect x="222.2" y="295.4" width="8.4" height="16.4" fill="#fcfcfc"/>
<rect x="230.2" y="295.4" width="8.4" height="16.4" fill="#fcfcfc"/>
<rect x="238.2" y="295.4" width="8.4" height="16.4" fill="#fcfcfc"/>
<rect x="246.2" y="295.4" width="8.4" height="16.4" fill="#fcfcfc"/>
<rect x="254.2" y="295.4" width="8.4" height="16.4" fill="#fcfcfc"/>
<rect x="262.2" y="295.4" width="16.4" height="16.4" fill="#fcfcfc"/>
<rect x="166.2" y="311.4" width="16.4" height="8.4" fill="#fcfcfc"/>
<rect x="182.2" y="311.4" width="8.4" height="8.4" fill="#fcfcfc"/>
<rect x="190.2" y="311.4" width="8.4" height="8.4" fill="#fcfcfc"/>
<rect x="198.2" y="311.4" width="8.4" height="8.4" fill="#fcfcfc"/>
<rect x="206.2" y="311.4" width="8.4" height="8.4" fill="#fcfcfc"/>
<rect x="214.2" y="311.4" width="8.4" height="8.4" fill="#fcfcfc"/>
<rect x="222.2" y="311.4" width="8.4" height="8.4" fill="#fcfcfc"/>
<rect x="230.2" y="311.4" width="8.4" height="8.4" fill="#fcfcfc"/>
<rect x="238.2" y="311.4" width="8.4" height="8.4" fill="#fcfcfc"/>
<rect x="246.2" y="311.4" width="8.4" height="8.4" fill="#fcfcfc"/>
<rect x="254.2" y="311.4" width="8.4" height="8.4" fill="#fcfcfc"/>
<rect x="262.2" y="311.4" width="16.4" height="8.4" fill="#fcfcfc"/>
<rect x="166.2" y="319.4" width="16.4" height="8.4" fill="#fcfcfc"/>
<rect x="182.2" y="319.4" width="8.4" height="8.4" fill="#fcfcfc"/>
<rect x="190.2" y="319.4" width="8.4" height="8.4" fill="#fcfcfc"/>
<rect x="198.2" y="319.4" width="8.4" height="8.4" fill="#fcfcfc"/>
<rect x="206.2" y="319.4" width="8.4" height="8.4" fill="#fcfcfc"/>
<rect x="214.2" y="319.4" width="8.4" height="8.4" fill="#fcfcfc"/>
<rect x="222.2" y="319.4" width="8.4" height="8.4" fill="#fcfcfc"/>
<rect x="230.2" y="319.4" width="8.4" height="8.4" fill="#fcfcfc"/>
<rect x="238.2" y="319.4" width="8.4" height="8.4" fill="#fcfcfc"/>
<rect x="246.2" y="319.4" width="8.4" height="8.4" fill="#fcfcfc"/>
<rect x="254.2" y="319.4" width="8.4" height="8.4" fill="#fcfcfc"/>
<rect x="262.2" y="319.4" width="16.4" height="8.4" fill="#fcfcfc"/>
<rect x="166.2" y="327.4" width="16.4" height="8.4" fill="#fcfcfc"/>
<rect x="182.2" y="327.4" width="8.4" height="8.4" fill="#fcfcfc"/>
<rect x="190.2" y="327.4" width="8.4" height="8.4" fill="#fcfcfc"/>
<rect x="198.2" y="327.4" width="8.4" height="8.4" fill="#fcfcfc"/>
<rect x="206.2" y="327.4" width="8.4" height="8.4" fill="#fcfcfc"/>
<rect x="214.2" y="327.4" width="8.4" height="8.4" fill="#fcfcfc"/>
<rect x="222.2" y="327.4" width="8.4" height="8.4" fill="#fcfcfc"/>
<rect x="230.2" y="327.4" width="8.4" height="8.4" fill="#fcfcfc"/>
<rect x="238.2" y="327.4" width="8.4" height="8.4" fill="#fcfcfc"/>
<rect x="246.2" y="327.4" width="8.4" height="8.4" fill="#fcfcfc"/>
<rect x="254.2" y="327.4" width="8.4" height="8.4" fill="#fcfcfc"/>
<rect x="262.2" y="327.4" width="16.4" height="8.4" fill="#fcfcfc"/>
<rect x="166.2" y="335.4" width="16.4" height="8.4" fill="#fcfcfc"/>
<rect x="182.2" y="335.4" width="8.4" height="8.4" fill="#fcfcfc"/>
<rect x="190.2" y="335.4" width="8.4" height="8.4" fill="#fcfcfc"/>
<rect x="198.2" y="335.4" width="8.4" height="8.4" fill="#fcfcfc"/>
<rect x="206.2" y="335.4" width="8.4" height="8.4" fill="#fcfcfc"/>
<rect x="214.2" y="335.4" width="8.4" height="8.4" fill="#fcfcfc"/>
<rect x="222.2" y="335.4" width="8.4" height="8.4" fill="#fcfcfc"/>
<rect x="230.2" y="335.4" width="8.4" height="8.4" fill="#fcfcfc"/>
<rect x="238.2" y="335.4" width="8.4" height="8.4" fill="#fcfcfc"/>
<rect x="246.2" y="335.4" width="8.4" height="8.4" fill="#fcfcfc"/>
<rect x="254.2" y="335.4" width="8.4" height="8.4" fill="#fcfcfc"/>
<rect x="262.2" y="335.4" width="16.4" height="8.4" fill="#fcfcfc"/>
<rect x="166.2" y="343.4" width="16.4" height="8.4" fill="#fcfcfc"/>
<rect x="182.2" y="343.4" width="8.4" height="8.4" fill="#fcfcfc"/>
<rect x="190.2" y="343.4" width="8.4" height="8.4" fill="#fcfcfc"/>
<rect x="198.2" y="343.4" width="8.4" height="8.4" fill="#fcfcfc"/>
<rect x="206.2" y="343.4" width="8.4" height="8.4" fill="#fcfcfc"/>
<rect x="214.2" y="343.4" width="8.4" height="8.4" fill="#fcfcfc"/>
<rect x="222.2" y="343.4" width="8.4" height="8.4" fill="#fcfcfc"/>
<rect x="230.2" y="343.4" width="8.4" height="8.4" fill="#fcfcfc"/>
<rect x="238.2" y="343.4" width="8.4" height="8.4" fill="#fcfcfc"/>
<rect x="246.2" y="343.4" width="8.4" height="8.4" fill="#fcfcfc"/>
<rect x="254.2" y="343.4" width="8.4" height="8.4" fill="#fcfcfc"/>
<rect x="262.2" y="343.4" width="16.4" height="8.4" fill="#fcfcfc"/>
<rect x="166.2" y="351.4" width="16.4" height="8.4" fill="#fcfcfc"/>
<rect x="182.2" y="351.4" width="8.4" height="8.4" fill="#fcfcfc"/>
<rect x="190.2" y="351.4" width="8.4" height="8.4" fill="#fcfcfc"/>
<rect x="198.2" y="351.4" width="8.4" height="8.4" fill="#fcfcfc"/>
<rect x="206.2" y="351.4" width="8.4" height="8.4" fill="#fcfcfc"/>
<rect x="214.2" y="351.4" width="8.4" height="8.4" fill="#fcfcfc"/>
<rect x="222.2" y="351.4" width="8.4" height="8.4" fill="#fcfcfc"/>
<rect x="230.2" y="351.4" width="8.4" height="8.4" fill="#fcfcfc"/>
<rect x="238.2" y="351.4" width="8.4" height="8.4" fill="#fcfcfc"/>
<rect x="246.2" y="351.4" width="8.4" height="8.4" fill="#fcfcfc"/>
<rect x="254.2" y="351.4" width="8.4" height="8.4" fill="#fcfcfc"/>
<rect x="262.2" y="351.4" width="16.4" height="8.4" fill="#fcfcfc"/>
<rect x="166.2" y="359.4" width="16.4" height="8.4" fill="#fcfcfc"/>
<rect x="182.2" y="359.4" width="8.4" height="8.4" fill="#fcfcfc"/>
<rect x="190.2" y="359.4" width="8.4" height="8.4" fill="#fcfcfc"/>
<rect x="198.2" y="359.4" width="8.4" height="8.4" fill="#fcfcfc"/>
<rect x="206.2" y="359.4" width="8.4" height="8.4" fill="#fcfcfc"/>
<rect x="214.2" y="359.4" width="8.4" height="8.4" fill="#fcfcfc"/>
<rect x="222.2" y="359.4" width="8.4" height="8.4" fill="#fcfcfc"/>
<rect x="230.2" y="359.4" width="8.4" height="8.4" fill="#fcfcfc"/>
<rect x="238.2" y="359.4" width="8.4" height="8.4" fill="#fcfcfc"/>
<rect x="246.2" y="359.4" width="8.4" height="8.4" fill="#fcfcfc"/>
<rect x="254.2" y="359.4" width="8.4" height="8.4" fill="#fcfcfc"/>
<rect x="262.2" y="359.4" width="16.4" height="8.4" fill="#fcfcfc"/>
<rect x="166.2" y="367.4" width="16.4" height="8.4" fill="#fcfcfc"/>
<rect x="182.2" y="367.4" width="8.4" height="8.4" fill="#fcfcfc"/>
<rect x="190.2" y="367.4" width="8.4" height="8.4" fill="#fcfcfc"/>
<rect x="198.2" y="367.4" width="8.4" height="8.4" fill="#fcfcfc"/>
<rect x="206.2" y="367.4" width="8.4" height="8.4" fill="#fcfcfc"/>
<rect x="214.2" y="367.4" width="8.4" height="8.4" fill="#fcfcfc"/>
<rect x="222.2" y="367.4" width="8.4" height="8.4" fill="#fcfcfc"/>
<rect x="230.2" y="367.4" width="8.4" height="8.4" fill="#fcfcfc"/>
<rect x="238.2" y="367.4" width="8.4" height="8.4" fill="#fcfcfc"/>
<rect x="246.2" y="367.4" width="8.4" height="8.4" fill="#fcfcfc"/>
<rect x="254.2" y="367.4" width="8.4" height="8.4" fill="#fcfcfc"/>
<rect x="262.2" y="367.4" width="16.4" height="8.4" fill="#fcfcfc"/>
<rect x="166.2" y="375.4" width="16.4" height="8.4" fill="#fcfcfc"/>
<rect x="182.2" y="375.4" width="8.4" height="8.4" fill="#fcfcfc"/>
<rect x="190.2" y="375.4" width="8.4" height="8.4" fill="#fcfcfc"/>
<rect x="198.2" y="375.4" width="8.4" height="8.4" fill="#fcfcfc"/>
<rect x="206.2" y="375.4" width="8.4" height="8.4" fill="#fcfcfc"/>
<rect x="214.2" y="375.4" width="8.4" height="8.4" fill="#fcfcfc"/>
<rect x="222.2" y="375.4" width="8.4" height="8.4" fill="#fcfcfc"/>
<rect x="230.2" y="375.4" width="8.4" height="8.4" fill="#fcfcfc"/>
<rect x="238.2" y="375.4" width="8.4" height="8.4" fill="#fcfcfc"/>
<rect x="246.2" y="375.4" width="8.4" height="8.4" fill="#fcfcfc"/>
<rect x="254.2" y="375.4" width="8.4" height="8.4" fill="#fcfcfc"/>
<rect x="262.2" y="375.4" width="16.4" height="8.4" fill="#fcfcfc"/>
<rect x="166.2" y="383.4" width="16.4" height="8.4" fill="#fcfcfc"/>
<rect x="182.2" y="383.4" width="8.4" height="8.4" fill="#fcfcfc"/>
<rect x="190.2" y="383.4" width="8.4" height="8.4" fill="#fcfcfc"/>
<rect x="198.2" y="383.4" width="8.4" height="8.4" fill="#fcfcfc"/>
<rect x="206.2" y="383.4" width="8.4" height="8.4" fill="#fcfcfc"/>
<rect x="214.2" y="383.4" width="8.4" height="8.4" fill="#fcfcfc"/>
<rect x="222.2" y="383.4" width="8.4" height="8.4" fill="#fcfcfc"/>
<rect x="230.2" y="383.4" width="8.4" height="8.4" fill="#fcfcfc"/>
<rect x="238.2" y="383.4" width="8.4" height="8.4" fill="#fcfcfc"/>
<rect x="246.2" y="383.4" width="8.4" height="8.4" fill="#fcfcfc"/>
<rect x="254.2" y="383.4" width="8.4" height="8.4" fill="#fcfcfc"/>
<rect x="262.2" y="383.4" width="16.4" height="8.4" fill="#fcfcfc"/>
<rect x="166.2" y="391.4" width="16.4" height="16.4" fill="#fcfcfc"/>
<rect x="182.2" y="391.4" width="8.4" height="16.4" fill="#fcfcfc"/>
<rect x="190.2" y="391.4" width="8.4" height="16.4" fill="#fcfcfc"/>
<rect x="198.2" y="391.4" width="8.4" height="16.4" fill="#fcfcfc"/>
<rect x="206.2" y="391.4" width="8.4" height="16.4" fill="#fcfcfc"/>
<rect x="214.2" y="391.4" width="8.4" height="16.4" fill="#fcfcfc"/>
<rect x="222.2" y="391.4" width="8.4" height="16.4" fill="#fcfcfc"/>
<rect x="230.2" y="391.4" width="8.4" height="16.4" fill="#fcfcfc"/>
<rect x="238.2" y="391.4" width="8.4" height="16.4" fill="#fcfcfc"/>
<rect x="246.2" y="391.4" width="8.4" height="16.4" fill="#fcfcfc"/>
<rect x="254.2" y="391.4" width="8.4" height="16.4" fill="#fcfcfc"/>
<rect x="262.2" y="391.4" width="16.4" height="16.4" fill="#fcfcfc"/>
</g>
<g filter="url(#bl0p6)"><rect x="213.9" y="343.9" width="1.6" height="1.6" fill="#e1e1e1" fill-opacity="0.6"/><rect x="208.0" y="358.5" width="1.6" height="1.6" fill="#e5e5e5" fill-opacity="0.6"/><rect x="227.4" y="348.5" width="1.6" height="1.6" fill="#d4d4d4" fill-opacity="0.6"/><rect x="232.0" y="334.8" width="1.6" height="1.6" fill="#e2e2e2" fill-opacity="0.6"/><rect x="217.1" y="353.7" width="1.6" height="1.6" fill="#dedede" fill-opacity="0.6"/><rect x="207.1" y="384.6" width="1.6" height="1.6" fill="#e7e7e7" fill-opacity="0.6"/><rect x="195.9" y="359.0" width="1.6" height="1.6" fill="#cdcdcd" fill-opacity="0.6"/><rect x="233.8" y="339.9" width="1.6" height="1.6" fill="#e0e0e0" fill-opacity="0.6"/><rect x="228.2" y="381.8" width="1.6" height="1.6" fill="#cdcdcd" fill-opacity="0.6"/><rect x="222.2" y="388.6" width="1.6" height="1.6" fill="#dcdcdc" fill-opacity="0.6"/><rect x="192.8" y="356.6" width="1.6" height="1.6" fill="#dfdfdf" fill-opacity="0.6"/><rect x="192.2" y="337.5" width="1.6" height="1.6" fill="#e2e2e2" fill-opacity="0.6"/><rect x="220.3" y="357.6" width="1.6" height="1.6" fill="#cfcfcf" fill-opacity="0.6"/><rect x="194.2" y="376.7" width="1.6" height="1.6" fill="#d7d7d7" fill-opacity="0.6"/><rect x="193.9" y="382.4" width="1.6" height="1.6" fill="#e4e4e4" fill-opacity="0.6"/><rect x="214.4" y="386.7" width="1.6" height="1.6" fill="#e7e7e7" fill-opacity="0.6"/><rect x="198.3" y="368.5" width="1.6" height="1.6" fill="#e2e2e2" fill-opacity="0.6"/><rect x="193.5" y="336.9" width="1.6" height="1.6" fill="#d1d1d1" fill-opacity="0.6"/><rect x="214.2" y="339.5" width="1.6" height="1.6" fill="#d3d3d3" fill-opacity="0.6"/><rect x="200.1" y="386.9" width="1.6" height="1.6" fill="#dddddd" fill-opacity="0.6"/><rect x="229.1" y="374.7" width="1.6" height="1.6" fill="#e6e6e6" fill-opacity="0.6"/><rect x="189.2" y="336.4" width="1.6" height="1.6" fill="#dedede" fill-opacity="0.6"/><rect x="198.8" y="354.7" width="1.6" height="1.6" fill="#d0d0d0" fill-opacity="0.6"/><rect x="201.0" y="374.7" width="1.6" height="1.6" fill="#d1d1d1" fill-opacity="0.6"/><rect x="194.2" y="374.9" width="1.6" height="1.6" fill="#d9d9d9" fill-opacity="0.6"/><rect x="208.0" y="382.3" width="1.6" height="1.6" fill="#cdcdcd" fill-opacity="0.6"/><rect x="202.8" y="389.7" width="1.6" height="1.6" fill="#dddddd" fill-opacity="0.6"/><rect x="235.0" y="353.0" width="1.6" height="1.6" fill="#dadada" fill-opacity="0.6"/><rect x="214.4" y="334.1" width="1.6" height="1.6" fill="#d1d1d1" fill-opacity="0.6"/><rect x="229.4" y="349.9" width="1.6" height="1.6" fill="#d9d9d9" fill-opacity="0.6"/><rect x="194.4" y="360.0" width="1.6" height="1.6" fill="#d9d9d9" fill-opacity="0.6"/><rect x="201.4" y="384.8" width="1.6" height="1.6" fill="#e2e2e2" fill-opacity="0.6"/><rect x="190.8" y="338.1" width="1.6" height="1.6" fill="#dcdcdc" fill-opacity="0.6"/><rect x="218.7" y="384.9" width="1.6" height="1.6" fill="#d5d5d5" fill-opacity="0.6"/><rect x="229.0" y="354.5" width="1.6" height="1.6" fill="#d7d7d7" fill-opacity="0.6"/><rect x="194.7" y="342.3" width="1.6" height="1.6" fill="#e1e1e1" fill-opacity="0.6"/><rect x="215.6" y="353.6" width="1.6" height="1.6" fill="#e8e8e8" fill-opacity="0.6"/><rect x="200.8" y="336.8" width="1.6" height="1.6" fill="#d9d9d9" fill-opacity="0.6"/><rect x="222.8" y="388.5" width="1.6" height="1.6" fill="#e1e1e1" fill-opacity="0.6"/><rect x="189.8" y="342.0" width="1.6" height="1.6" fill="#d6d6d6" fill-opacity="0.6"/><rect x="230.3" y="347.7" width="1.6" height="1.6" fill="#e7e7e7" fill-opacity="0.6"/><rect x="204.6" y="372.4" width="1.6" height="1.6" fill="#d5d5d5" fill-opacity="0.6"/><rect x="235.0" y="387.7" width="1.6" height="1.6" fill="#e1e1e1" fill-opacity="0.6"/><rect x="233.1" y="358.0" width="1.6" height="1.6" fill="#d2d2d2" fill-opacity="0.6"/><rect x="188.6" y="355.8" width="1.6" height="1.6" fill="#dfdfdf" fill-opacity="0.6"/><rect x="210.4" y="349.7" width="1.6" height="1.6" fill="#dcdcdc" fill-opacity="0.6"/><rect x="205.1" y="383.5" width="1.6" height="1.6" fill="#dedede" fill-opacity="0.6"/><rect x="228.6" y="374.6" width="1.6" height="1.6" fill="#e7e7e7" fill-opacity="0.6"/><rect x="208.6" y="380.6" width="1.6" height="1.6" fill="#dadada" fill-opacity="0.6"/><rect x="198.1" y="378.9" width="1.6" height="1.6" fill="#e1e1e1" fill-opacity="0.6"/><rect x="204.4" y="372.4" width="1.6" height="1.6" fill="#dcdcdc" fill-opacity="0.6"/><rect x="195.0" y="374.3" width="1.6" height="1.6" fill="#cdcdcd" fill-opacity="0.6"/><rect x="217.5" y="348.9" width="1.6" height="1.6" fill="#cfcfcf" fill-opacity="0.6"/><rect x="219.1" y="359.8" width="1.6" height="1.6" fill="#cccccc" fill-opacity="0.6"/><rect x="232.3" y="339.5" width="1.6" height="1.6" fill="#d9d9d9" fill-opacity="0.6"/><rect x="191.5" y="372.3" width="1.6" height="1.6" fill="#dedede" fill-opacity="0.6"/><rect x="232.9" y="387.2" width="1.6" height="1.6" fill="#e7e7e7" fill-opacity="0.6"/><rect x="220.6" y="356.2" width="1.6" height="1.6" fill="#d0d0d0" fill-opacity="0.6"/><rect x="199.1" y="379.8" width="1.6" height="1.6" fill="#dfdfdf" fill-opacity="0.6"/><rect x="200.8" y="387.8" width="1.6" height="1.6" fill="#dcdcdc" fill-opacity="0.6"/><rect x="232.7" y="362.5" width="1.6" height="1.6" fill="#e3e3e3" fill-opacity="0.6"/><rect x="206.6" y="384.6" width="1.6" height="1.6" fill="#dfdfdf" fill-opacity="0.6"/><rect x="214.8" y="343.1" width="1.6" height="1.6" fill="#dbdbdb" fill-opacity="0.6"/><rect x="211.2" y="333.7" width="1.6" height="1.6" fill="#e3e3e3" fill-opacity="0.6"/><rect x="226.3" y="381.2" width="1.6" height="1.6" fill="#e3e3e3" fill-opacity="0.6"/><rect x="217.6" y="378.9" width="1.6" height="1.6" fill="#dfdfdf" fill-opacity="0.6"/><rect x="200.3" y="348.1" width="1.6" height="1.6" fill="#dbdbdb" fill-opacity="0.6"/><rect x="216.5" y="339.8" width="1.6" height="1.6" fill="#e1e1e1" fill-opacity="0.6"/><rect x="207.3" y="351.1" width="1.6" height="1.6" fill="#dfdfdf" fill-opacity="0.6"/><rect x="200.8" y="352.0" width="1.6" height="1.6" fill="#d0d0d0" fill-opacity="0.6"/><rect x="230.3" y="370.1" width="1.6" height="1.6" fill="#e0e0e0" fill-opacity="0.6"/><rect x="202.4" y="356.2" width="1.6" height="1.6" fill="#d9d9d9" fill-opacity="0.6"/><rect x="220.6" y="349.0" width="1.6" height="1.6" fill="#d8d8d8" fill-opacity="0.6"/><rect x="235.2" y="380.7" width="1.6" height="1.6" fill="#d1d1d1" fill-opacity="0.6"/><rect x="196.6" y="381.4" width="1.6" height="1.6" fill="#d2d2d2" fill-opacity="0.6"/><rect x="199.3" y="351.0" width="1.6" height="1.6" fill="#d1d1d1" fill-opacity="0.6"/><rect x="216.6" y="346.7" width="1.6" height="1.6" fill="#dbdbdb" fill-opacity="0.6"/><rect x="204.8" y="353.5" width="1.6" height="1.6" fill="#dfdfdf" fill-opacity="0.6"/><rect x="219.9" y="373.6" width="1.6" height="1.6" fill="#d9d9d9" fill-opacity="0.6"/><rect x="227.7" y="378.7" width="1.6" height="1.6" fill="#d4d4d4" fill-opacity="0.6"/><rect x="194.5" y="340.4" width="1.6" height="1.6" fill="#e5e5e5" fill-opacity="0.6"/><rect x="201.1" y="380.6" width="1.6" height="1.6" fill="#cccccc" fill-opacity="0.6"/><rect x="219.6" y="361.9" width="1.6" height="1.6" fill="#d1d1d1" fill-opacity="0.6"/><rect x="211.1" y="357.1" width="1.6" height="1.6" fill="#e2e2e2" fill-opacity="0.6"/><rect x="214.8" y="367.0" width="1.6" height="1.6" fill="#e8e8e8" fill-opacity="0.6"/><rect x="205.5" y="351.7" width="1.6" height="1.6" fill="#dbdbdb" fill-opacity="0.6"/><rect x="203.8" y="344.1" width="1.6" height="1.6" fill="#e4e4e4" fill-opacity="0.6"/><rect x="210.4" y="336.1" width="1.6" height="1.6" fill="#e3e3e3" fill-opacity="0.6"/><rect x="216.3" y="369.4" width="1.6" height="1.6" fill="#e1e1e1" fill-opacity="0.6"/><rect x="204.1" y="369.6" width="1.6" height="1.6" fill="#e3e3e3" fill-opacity="0.6"/><rect x="213.8" y="340.0" width="1.6" height="1.6" fill="#dedede" fill-opacity="0.6"/><rect x="204.1" y="390.3" width="1.6" height="1.6" fill="#e6e6e6" fill-opacity="0.6"/><rect x="190.8" y="337.0" width="1.6" height="1.6" fill="#dddddd" fill-opacity="0.6"/><rect x="232.2" y="354.9" width="1.6" height="1.6" fill="#d1d1d1" fill-opacity="0.6"/><rect x="194.3" y="390.7" width="1.6" height="1.6" fill="#cecece" fill-opacity="0.6"/><rect x="207.5" y="336.7" width="1.6" height="1.6" fill="#d0d0d0" fill-opacity="0.6"/><rect x="220.9" y="358.7" width="1.6" height="1.6" fill="#cecece" fill-opacity="0.6"/><rect x="201.6" y="358.5" width="1.6" height="1.6" fill="#d4d4d4" fill-opacity="0.6"/><rect x="214.1" y="361.5" width="1.6" height="1.6" fill="#dadada" fill-opacity="0.6"/><rect x="218.5" y="355.9" width="1.6" height="1.6" fill="#dadada" fill-opacity="0.6"/><rect x="203.3" y="337.1" width="1.6" height="1.6" fill="#d0d0d0" fill-opacity="0.6"/><rect x="193.4" y="337.9" width="1.6" height="1.6" fill="#e6e6e6" fill-opacity="0.6"/><rect x="205.2" y="366.6" width="1.6" height="1.6" fill="#cccccc" fill-opacity="0.6"/><rect x="188.7" y="339.0" width="1.6" height="1.6" fill="#dddddd" fill-opacity="0.6"/><rect x="194.5" y="382.0" width="1.6" height="1.6" fill="#d1d1d1" fill-opacity="0.6"/><rect x="196.6" y="351.3" width="1.6" height="1.6" fill="#e4e4e4" fill-opacity="0.6"/><rect x="217.0" y="378.3" width="1.6" height="1.6" fill="#d4d4d4" fill-opacity="0.6"/><rect x="192.4" y="337.8" width="1.6" height="1.6" fill="#d5d5d5" fill-opacity="0.6"/><rect x="200.7" y="367.8" width="1.6" height="1.6" fill="#d4d4d4" fill-opacity="0.6"/><rect x="224.1" y="371.4" width="1.6" height="1.6" fill="#d5d5d5" fill-opacity="0.6"/><rect x="197.1" y="361.2" width="1.6" height="1.6" fill="#dedede" fill-opacity="0.6"/><rect x="219.5" y="342.8" width="1.6" height="1.6" fill="#d3d3d3" fill-opacity="0.6"/><rect x="205.5" y="355.9" width="1.6" height="1.6" fill="#dfdfdf" fill-opacity="0.6"/><rect x="189.3" y="390.7" width="1.6" height="1.6" fill="#dddddd" fill-opacity="0.6"/><rect x="231.0" y="373.3" width="1.6" height="1.6" fill="#d5d5d5" fill-opacity="0.6"/><rect x="213.4" y="379.4" width="1.6" height="1.6" fill="#d6d6d6" fill-opacity="0.6"/><rect x="229.2" y="379.7" width="1.6" height="1.6" fill="#d5d5d5" fill-opacity="0.6"/><rect x="216.0" y="341.0" width="1.6" height="1.6" fill="#e2e2e2" fill-opacity="0.6"/><rect x="233.4" y="384.8" width="1.6" height="1.6" fill="#dcdcdc" fill-opacity="0.6"/><rect x="222.7" y="343.6" width="1.6" height="1.6" fill="#d8d8d8" fill-opacity="0.6"/><rect x="218.3" y="374.4" width="1.6" height="1.6" fill="#d1d1d1" fill-opacity="0.6"/><rect x="200.7" y="359.3" width="1.6" height="1.6" fill="#e1e1e1" fill-opacity="0.6"/><rect x="222.9" y="356.8" width="1.6" height="1.6" fill="#dddddd" fill-opacity="0.6"/><rect x="211.0" y="349.3" width="1.6" height="1.6" fill="#d3d3d3" fill-opacity="0.6"/><rect x="203.8" y="333.9" width="1.6" height="1.6" fill="#d3d3d3" fill-opacity="0.6"/><rect x="228.4" y="334.4" width="1.6" height="1.6" fill="#dedede" fill-opacity="0.6"/><rect x="189.9" y="365.1" width="1.6" height="1.6" fill="#cfcfcf" fill-opacity="0.6"/><rect x="228.2" y="381.4" width="1.6" height="1.6" fill="#dddddd" fill-opacity="0.6"/><rect x="198.7" y="337.7" width="1.6" height="1.6" fill="#e0e0e0" fill-opacity="0.6"/><rect x="195.2" y="339.1" width="1.6" height="1.6" fill="#dadada" fill-opacity="0.6"/><rect x="217.3" y="361.0" width="1.6" height="1.6" fill="#dcdcdc" fill-opacity="0.6"/><rect x="190.8" y="340.1" width="1.6" height="1.6" fill="#dedede" fill-opacity="0.6"/><rect x="218.3" y="389.5" width="1.6" height="1.6" fill="#d0d0d0" fill-opacity="0.6"/><rect x="214.4" y="373.5" width="1.6" height="1.6" fill="#cdcdcd" fill-opacity="0.6"/><rect x="191.5" y="344.8" width="1.6" height="1.6" fill="#dddddd" fill-opacity="0.6"/><rect x="212.5" y="354.3" width="1.6" height="1.6" fill="#e5e5e5" fill-opacity="0.6"/><rect x="197.1" y="344.6" width="1.6" height="1.6" fill="#e6e6e6" fill-opacity="0.6"/><rect x="204.2" y="360.0" width="1.6" height="1.6" fill="#cdcdcd" fill-opacity="0.6"/><rect x="203.1" y="351.3" width="1.6" height="1.6" fill="#dddddd" fill-opacity="0.6"/><rect x="218.3" y="389.7" width="1.6" height="1.6" fill="#d4d4d4" fill-opacity="0.6"/></g>
<g transform="translate(174.43,303.60)"><clipPath id="c10"><rect x="0" y="0" width="60.8" height="96"/></clipPath><g clip-path="url(#c10)"><path d="M29.0 9.7C31.1 8.4 36.8 7.6 40.0 8.0C43.2 8.4 45.8 10.9 48.5 12.0C51.2 13.1 54.6 13.0 56.5 14.5C58.4 16.0 59.3 15.3 60.0 21.0C60.7 26.7 61.0 42.5 60.5 48.5C60.0 54.5 58.8 54.9 57.0 57.0C55.2 59.1 52.3 60.3 50.0 61.0C47.7 61.7 45.3 62.0 43.0 61.0C40.7 60.0 38.8 57.7 36.0 55.0C33.2 52.3 29.0 48.0 26.0 45.0C23.0 42.0 19.7 40.5 18.0 37.0C16.3 33.5 15.2 26.4 16.0 24.0C16.8 21.6 20.7 23.9 22.6 22.6C24.5 21.3 26.4 18.1 27.5 16.0C28.6 13.8 26.9 11.0 29.0 9.7Z" fill="#a5a5a5" fill-opacity="1" filter="url(#bl2p5)"/><path d="M26.0 14.0C28.0 10.8 32.3 11.0 36.0 11.0C39.7 11.0 44.3 12.2 48.0 14.0C51.7 15.8 56.0 18.5 58.0 22.0C60.0 25.5 59.7 30.3 60.0 35.0C60.3 39.7 60.8 46.3 60.0 50.0C59.2 53.7 57.2 56.0 55.0 57.0C52.8 58.0 49.5 57.8 47.0 56.0C44.5 54.2 42.5 49.0 40.0 46.0C37.5 43.0 34.7 40.7 32.0 38.0C29.3 35.3 25.0 34.0 24.0 30.0C23.0 26.0 24.0 17.2 26.0 14.0Z" fill="#737373" fill-opacity="0.75" filter="url(#bl3)"/><ellipse cx="57.5" cy="43" rx="3.2" ry="6" fill="#303030" filter="url(#bl1p5)"/></g><ellipse cx="15" cy="3" rx="1.5" ry="5" fill="#c8c8c8" filter="url(#bl1)"/><ellipse cx="89" cy="36" rx="2" ry="7" fill="#d8d8d8" filter="url(#bl1p5)"/><ellipse cx="81" cy="24" rx="3" ry="1.5" fill="#dcdcdc" filter="url(#bl1)"/><ellipse cx="82" cy="66" rx="2" ry="6" fill="#e0e0e0" filter="url(#bl1p5)"/><g filter="url(#bl0p6)"><rect x="51.6" y="26.9" width="1.6" height="1.6" fill="#efefef" fill-opacity="0.45"/><rect x="22.8" y="34.8" width="1.6" height="1.6" fill="#e2e2e2" fill-opacity="0.45"/><rect x="24.1" y="42.8" width="1.6" height="1.6" fill="#f1f1f1" fill-opacity="0.45"/><rect x="19.2" y="59.8" width="1.6" height="1.6" fill="#eeeeee" fill-opacity="0.45"/><rect x="39.3" y="53.5" width="1.6" height="1.6" fill="#d1d1d1" fill-opacity="0.45"/><rect x="21.7" y="50.5" width="1.6" height="1.6" fill="#cacaca" fill-opacity="0.45"/><rect x="26.1" y="14.2" width="1.6" height="1.6" fill="#dfdfdf" fill-opacity="0.45"/><rect x="36.4" y="46.6" width="1.6" height="1.6" fill="#f0f0f0" fill-opacity="0.45"/><rect x="59.2" y="48.5" width="1.6" height="1.6" fill="#7b7b7b" fill-opacity="0.45"/><rect x="22.0" y="34.0" width="1.6" height="1.6" fill="#ececec" fill-opacity="0.45"/><rect x="40.6" y="15.5" width="1.6" height="1.6" fill="#ececec" fill-opacity="0.45"/><rect x="41.2" y="16.3" width="1.6" height="1.6" fill="#5c5c5c" fill-opacity="0.45"/><rect x="53.4" y="60.6" width="1.6" height="1.6" fill="#7f7f7f" fill-opacity="0.45"/><rect x="40.3" y="21.4" width="1.6" height="1.6" fill="#eaeaea" fill-opacity="0.45"/><rect x="50.3" y="30.0" width="1.6" height="1.6" fill="#5b5b5b" fill-opacity="0.45"/><rect x="38.8" y="12.1" width="1.6" height="1.6" fill="#f9f9f9" fill-opacity="0.45"/><rect x="23.0" y="61.3" width="1.6" height="1.6" fill="#757575" fill-opacity="0.45"/><rect x="20.4" y="34.5" width="1.6" height="1.6" fill="#c3c3c3" fill-opacity="0.45"/><rect x="30.5" y="14.8" width="1.6" height="1.6" fill="#7e7e7e" fill-opacity="0.45"/><rect x="56.8" y="49.0" width="1.6" height="1.6" fill="#c1c1c1" fill-opacity="0.45"/><rect x="38.2" y="49.6" width="1.6" height="1.6" fill="#5b5b5b" fill-opacity="0.45"/><rect x="18.3" y="14.6" width="1.6" height="1.6" fill="#5e5e5e" fill-opacity="0.45"/><rect x="34.4" y="34.7" width="1.6" height="1.6" fill="#5f5f5f" fill-opacity="0.45"/><rect x="29.0" y="50.1" width="1.6" height="1.6" fill="#c7c7c7" fill-opacity="0.45"/><rect x="19.1" y="59.8" width="1.6" height="1.6" fill="#dcdcdc" fill-opacity="0.45"/><rect x="33.9" y="61.0" width="1.6" height="1.6" fill="#727272" fill-opacity="0.45"/><rect x="38.6" y="23.9" width="1.6" height="1.6" fill="#5e5e5e" fill-opacity="0.45"/><rect x="44.1" y="25.3" width="1.6" height="1.6" fill="#d9d9d9" fill-opacity="0.45"/><rect x="25.9" y="40.8" width="1.6" height="1.6" fill="#bfbfbf" fill-opacity="0.45"/><rect x="23.9" y="14.7" width="1.6" height="1.6" fill="#6e6e6e" fill-opacity="0.45"/><rect x="46.5" y="50.5" width="1.6" height="1.6" fill="#f7f7f7" fill-opacity="0.45"/><rect x="34.1" y="33.9" width="1.6" height="1.6" fill="#e7e7e7" fill-opacity="0.45"/><rect x="50.3" y="20.1" width="1.6" height="1.6" fill="#6b6b6b" fill-opacity="0.45"/><rect x="28.5" y="54.9" width="1.6" height="1.6" fill="#7c7c7c" fill-opacity="0.45"/><rect x="31.6" y="57.5" width="1.6" height="1.6" fill="#808080" fill-opacity="0.45"/><rect x="49.7" y="62.0" width="1.6" height="1.6" fill="#eaeaea" fill-opacity="0.45"/><rect x="50.8" y="37.3" width="1.6" height="1.6" fill="#d6d6d6" fill-opacity="0.45"/><rect x="54.5" y="29.7" width="1.6" height="1.6" fill="#707070" fill-opacity="0.45"/><rect x="47.7" y="26.1" width="1.6" height="1.6" fill="#e6e6e6" fill-opacity="0.45"/><rect x="24.1" y="28.7" width="1.6" height="1.6" fill="#5b5b5b" fill-opacity="0.45"/><rect x="56.3" y="40.6" width="1.6" height="1.6" fill="#e6e6e6" fill-opacity="0.45"/><rect x="20.4" y="11.1" width="1.6" height="1.6" fill="#717171" fill-opacity="0.45"/><rect x="44.9" y="52.8" width="1.6" height="1.6" fill="#c7c7c7" fill-opacity="0.45"/><rect x="58.7" y="13.1" width="1.6" height="1.6" fill="#e3e3e3" fill-opacity="0.45"/><rect x="58.1" y="14.5" width="1.6" height="1.6" fill="#5d5d5d" fill-opacity="0.45"/><rect x="37.1" y="42.2" width="1.6" height="1.6" fill="#5b5b5b" fill-opacity="0.45"/><rect x="49.4" y="17.7" width="1.6" height="1.6" fill="#f8f8f8" fill-opacity="0.45"/><rect x="53.7" y="14.0" width="1.6" height="1.6" fill="#bfbfbf" fill-opacity="0.45"/><rect x="50.8" y="12.0" width="1.6" height="1.6" fill="#7a7a7a" fill-opacity="0.45"/><rect x="52.3" y="58.7" width="1.6" height="1.6" fill="#efefef" fill-opacity="0.45"/><rect x="40.8" y="44.8" width="1.6" height="1.6" fill="#dfdfdf" fill-opacity="0.45"/><rect x="59.6" y="30.2" width="1.6" height="1.6" fill="#616161" fill-opacity="0.45"/><rect x="38.2" y="38.2" width="1.6" height="1.6" fill="#666666" fill-opacity="0.45"/><rect x="37.7" y="19.9" width="1.6" height="1.6" fill="#f6f6f6" fill-opacity="0.45"/><rect x="34.2" y="44.3" width="1.6" height="1.6" fill="#c9c9c9" fill-opacity="0.45"/><rect x="47.2" y="21.0" width="1.6" height="1.6" fill="#f9f9f9" fill-opacity="0.45"/><rect x="30.9" y="44.8" width="1.6" height="1.6" fill="#e4e4e4" fill-opacity="0.45"/><rect x="26.0" y="36.0" width="1.6" height="1.6" fill="#626262" fill-opacity="0.45"/><rect x="32.9" y="21.7" width="1.6" height="1.6" fill="#e6e6e6" fill-opacity="0.45"/><rect x="52.9" y="37.4" width="1.6" height="1.6" fill="#d0d0d0" fill-opacity="0.45"/><rect x="28.1" y="59.0" width="1.6" height="1.6" fill="#e6e6e6" fill-opacity="0.45"/><rect x="29.7" y="19.0" width="1.6" height="1.6" fill="#cfcfcf" fill-opacity="0.45"/><rect x="35.6" y="37.1" width="1.6" height="1.6" fill="#e7e7e7" fill-opacity="0.45"/><rect x="54.8" y="51.7" width="1.6" height="1.6" fill="#eeeeee" fill-opacity="0.45"/><rect x="40.8" y="34.6" width="1.6" height="1.6" fill="#7d7d7d" fill-opacity="0.45"/><rect x="34.2" y="55.1" width="1.6" height="1.6" fill="#ebebeb" fill-opacity="0.45"/><rect x="19.0" y="40.9" width="1.6" height="1.6" fill="#6b6b6b" fill-opacity="0.45"/><rect x="54.6" y="45.4" width="1.6" height="1.6" fill="#c2c2c2" fill-opacity="0.45"/><rect x="31.9" y="60.5" width="1.6" height="1.6" fill="#e1e1e1" fill-opacity="0.45"/><rect x="54.1" y="28.2" width="1.6" height="1.6" fill="#d8d8d8" fill-opacity="0.45"/><rect x="56.1" y="18.6" width="1.6" height="1.6" fill="#cfcfcf" fill-opacity="0.45"/><rect x="33.0" y="14.8" width="1.6" height="1.6" fill="#646464" fill-opacity="0.45"/><rect x="51.1" y="19.0" width="1.6" height="1.6" fill="#bfbfbf" fill-opacity="0.45"/><rect x="42.7" y="36.5" width="1.6" height="1.6" fill="#cacaca" fill-opacity="0.45"/><rect x="44.8" y="11.9" width="1.6" height="1.6" fill="#6d6d6d" fill-opacity="0.45"/><rect x="43.7" y="32.1" width="1.6" height="1.6" fill="#bfbfbf" fill-opacity="0.45"/><rect x="48.5" y="35.3" width="1.6" height="1.6" fill="#dedede" fill-opacity="0.45"/><rect x="54.6" y="36.5" width="1.6" height="1.6" fill="#e1e1e1" fill-opacity="0.45"/><rect x="54.7" y="11.6" width="1.6" height="1.6" fill="#e0e0e0" fill-opacity="0.45"/><rect x="48.1" y="18.6" width="1.6" height="1.6" fill="#797979" fill-opacity="0.45"/><rect x="29.6" y="59.3" width="1.6" height="1.6" fill="#dedede" fill-opacity="0.45"/><rect x="21.6" y="19.8" width="1.6" height="1.6" fill="#e8e8e8" fill-opacity="0.45"/><rect x="38.1" y="22.7" width="1.6" height="1.6" fill="#d8d8d8" fill-opacity="0.45"/><rect x="34.1" y="31.3" width="1.6" height="1.6" fill="#d4d4d4" fill-opacity="0.45"/><rect x="23.1" y="35.8" width="1.6" height="1.6" fill="#ededed" fill-opacity="0.45"/><rect x="58.1" y="48.8" width="1.6" height="1.6" fill="#dadada" fill-opacity="0.45"/><rect x="49.0" y="21.9" width="1.6" height="1.6" fill="#5b5b5b" fill-opacity="0.45"/><rect x="58.6" y="39.0" width="1.6" height="1.6" fill="#727272" fill-opacity="0.45"/><rect x="53.7" y="32.0" width="1.6" height="1.6" fill="#cacaca" fill-opacity="0.45"/><rect x="49.3" y="61.2" width="1.6" height="1.6" fill="#dbdbdb" fill-opacity="0.45"/><rect x="50.8" y="25.9" width="1.6" height="1.6" fill="#ebebeb" fill-opacity="0.45"/><rect x="22.9" y="27.3" width="1.6" height="1.6" fill="#dbdbdb" fill-opacity="0.45"/><rect x="57.9" y="35.2" width="1.6" height="1.6" fill="#c9c9c9" fill-opacity="0.45"/><rect x="52.3" y="12.6" width="1.6" height="1.6" fill="#d3d3d3" fill-opacity="0.45"/><rect x="51.8" y="23.2" width="1.6" height="1.6" fill="#c3c3c3" fill-opacity="0.45"/><rect x="29.8" y="58.9" width="1.6" height="1.6" fill="#5d5d5d" fill-opacity="0.45"/><rect x="58.1" y="34.4" width="1.6" height="1.6" fill="#d4d4d4" fill-opacity="0.45"/><rect x="58.4" y="19.5" width="1.6" height="1.6" fill="#7f7f7f" fill-opacity="0.45"/><rect x="56.4" y="49.3" width="1.6" height="1.6" fill="#5e5e5e" fill-opacity="0.45"/><rect x="47.2" y="60.0" width="1.6" height="1.6" fill="#bebebe" fill-opacity="0.45"/><rect x="30.2" y="33.0" width="1.6" height="1.6" fill="#e9e9e9" fill-opacity="0.45"/><rect x="25.3" y="10.3" width="1.6" height="1.6" fill="#f9f9f9" fill-opacity="0.45"/><rect x="38.3" y="45.4" width="1.6" height="1.6" fill="#747474" fill-opacity="0.45"/><rect x="51.4" y="11.6" width="1.6" height="1.6" fill="#6b6b6b" fill-opacity="0.45"/><rect x="34.2" y="51.8" width="1.6" height="1.6" fill="#f5f5f5" fill-opacity="0.45"/><rect x="52.1" y="53.4" width="1.6" height="1.6" fill="#626262" fill-opacity="0.45"/><rect x="42.9" y="57.0" width="1.6" height="1.6" fill="#e6e6e6" fill-opacity="0.45"/><rect x="22.4" y="44.7" width="1.6" height="1.6" fill="#dcdcdc" fill-opacity="0.45"/><rect x="19.2" y="26.0" width="1.6" height="1.6" fill="#cecece" fill-opacity="0.45"/><rect x="23.4" y="45.5" width="1.6" height="1.6" fill="#ececec" fill-opacity="0.45"/></g></g>
</g>
<rect x="174.43" y="303.60" width="96.0" height="96.0" fill="none" stroke="#222" stroke-width="0.9"/>
<path d="M182.43 399.60v-1.8M182.43 303.60v1.8" stroke="#222" stroke-width="0.7"/>
<path d="M198.43 399.60v-1.8M198.43 303.60v1.8" stroke="#222" stroke-width="0.7"/>
<path d="M214.43 399.60v-1.8M214.43 303.60v1.8" stroke="#222" stroke-width="0.7"/>
<path d="M230.43 399.60v-1.8M230.43 303.60v1.8" stroke="#222" stroke-width="0.7"/>
<path d="M246.43 399.60v-1.8M246.43 303.60v1.8" stroke="#222" stroke-width="0.7"/>
<path d="M262.43 399.60v-1.8M262.43 303.60v1.8" stroke="#222" stroke-width="0.7"/>
<path d="M174.43 392.10h1.8M270.43 392.10h-1.8" stroke="#222" stroke-width="0.7"/>
<path d="M174.43 376.10h1.8M270.43 376.10h-1.8" stroke="#222" stroke-width="0.7"/>
<path d="M174.43 360.10h1.8M270.43 360.10h-1.8" stroke="#222" stroke-width="0.7"/>
<path d="M174.43 344.10h1.8M270.43 344.10h-1.8" stroke="#222" stroke-width="0.7"/>
<path d="M174.43 328.10h1.8M270.43 328.10h-1.8" stroke="#222" stroke-width="0.7"/>
<path d="M174.43 312.10h1.8M270.43 312.10h-1.8" stroke="#222" stroke-width="0.7"/>
<path d="M176.03 399.60v-1M176.03 303.60v1M179.23 399.60v-1M179.23 303.60v1M185.63 399.60v-1M185.63 303.60v1M188.83 399.60v-1M188.83 303.60v1M192.03 399.60v-1M192.03 303.60v1M195.23 399.60v-1M195.23 303.60v1M201.63 399.60v-1M201.63 303.60v1M204.83 399.60v-1M204.83 303.60v1M208.03 399.60v-1M208.03 303.60v1M211.23 399.60v-1M211.23 303.60v1M217.63 399.60v-1M217.63 303.60v1M220.83 399.60v-1M220.83 303.60v1M224.03 399.60v-1M224.03 303.60v1M227.23 399.60v-1M227.23 303.60v1M233.63 399.60v-1M233.63 303.60v1M236.83 399.60v-1M236.83 303.60v1M240.03 399.60v-1M240.03 303.60v1M243.23 399.60v-1M243.23 303.60v1M249.63 399.60v-1M249.63 303.60v1M252.83 399.60v-1M252.83 303.60v1M256.03 399.60v-1M256.03 303.60v1M259.23 399.60v-1M259.23 303.60v1M265.63 399.60v-1M265.63 303.60v1M268.83 399.60v-1M268.83 303.60v1M174.43 398.50h1M270.43 398.50h-1M174.43 395.30h1M270.43 395.30h-1M174.43 388.90h1M270.43 388.90h-1M174.43 385.70h1M270.43 385.70h-1M174.43 382.50h1M270.43 382.50h-1M174.43 379.30h1M270.43 379.30h-1M174.43 372.90h1M270.43 372.90h-1M174.43 369.70h1M270.43 369.70h-1M174.43 366.50h1M270.43 366.50h-1M174.43 363.30h1M270.43 363.30h-1M174.43 356.90h1M270.43 356.90h-1M174.43 353.70h1M270.43 353.70h-1M174.43 350.50h1M270.43 350.50h-1M174.43 347.30h1M270.43 347.30h-1M174.43 340.90h1M270.43 340.90h-1M174.43 337.70h1M270.43 337.70h-1M174.43 334.50h1M270.43 334.50h-1M174.43 331.30h1M270.43 331.30h-1M174.43 324.90h1M270.43 324.90h-1M174.43 321.70h1M270.43 321.70h-1M174.43 318.50h1M270.43 318.50h-1M174.43 315.30h1M270.43 315.30h-1M174.43 308.90h1M270.43 308.90h-1M174.43 305.70h1M270.43 305.70h-1" stroke="#333" stroke-width="0.6"/>
<text transform="translate(222.82,298.30)" text-anchor="middle" font-size="10.8" fill="#111" stroke="#111" stroke-width="0.2" letter-spacing="0.78">EIS Fe XXIV 255.1</text>
<text transform="translate(172.38,395.90)" text-anchor="end" font-size="9.6" fill="#111" stroke="#111" stroke-width="0.2" letter-spacing="0.55">30</text>
<text transform="translate(172.38,379.90)" text-anchor="end" font-size="9.6" fill="#111" stroke="#111" stroke-width="0.2" letter-spacing="0.55">40</text>
<text transform="translate(172.38,363.90)" text-anchor="end" font-size="9.6" fill="#111" stroke="#111" stroke-width="0.2" letter-spacing="0.55">50</text>
<text transform="translate(172.38,347.90)" text-anchor="end" font-size="9.6" fill="#111" stroke="#111" stroke-width="0.2" letter-spacing="0.55">60</text>
<text transform="translate(172.38,331.90)" text-anchor="end" font-size="9.6" fill="#111" stroke="#111" stroke-width="0.2" letter-spacing="0.55">70</text>
<text transform="translate(172.38,315.90)" text-anchor="end" font-size="9.6" fill="#111" stroke="#111" stroke-width="0.2" letter-spacing="0.55">80</text>
<text transform="translate(182.71,413.10)" text-anchor="middle" font-size="9.6" fill="#111" stroke="#111" stroke-width="0.2" letter-spacing="0.55">40</text>
<text transform="translate(198.71,413.10)" text-anchor="middle" font-size="9.6" fill="#111" stroke="#111" stroke-width="0.2" letter-spacing="0.55">50</text>
<text transform="translate(214.71,413.10)" text-anchor="middle" font-size="9.6" fill="#111" stroke="#111" stroke-width="0.2" letter-spacing="0.55">60</text>
<text transform="translate(230.71,413.10)" text-anchor="middle" font-size="9.6" fill="#111" stroke="#111" stroke-width="0.2" letter-spacing="0.55">70</text>
<text transform="translate(246.71,413.10)" text-anchor="middle" font-size="9.6" fill="#111" stroke="#111" stroke-width="0.2" letter-spacing="0.55">80</text>
<text transform="translate(262.70,413.10)" text-anchor="middle" font-size="9.6" fill="#111" stroke="#111" stroke-width="0.2" letter-spacing="0.55">90</text>
<text transform="translate(222.63,423.80)" text-anchor="middle" font-size="9.4" fill="#111" stroke="#111" stroke-width="0.2" letter-spacing="0.4">X (arcsecs)</text>
<defs><linearGradient id="cb21" x1="0" y1="0" x2="0" y2="1"><stop offset="0" stop-color="#000"/><stop offset="1" stop-color="#fff"/></linearGradient></defs>
<rect x="274.13" y="318.20" width="3.6" height="81.90" fill="url(#cb21)" stroke="#333" stroke-width="0.5"/>
<path d="M277.73 318.20h1.8" stroke="#222" stroke-width="0.6"/>
<text transform="translate(282.73,321.60)" font-size="9.6" fill="#111" stroke="#111" stroke-width="0.2" letter-spacing="0.55">3.0</text>
<path d="M277.73 345.50h1.8" stroke="#222" stroke-width="0.6"/>
<text transform="translate(282.73,348.90)" font-size="9.6" fill="#111" stroke="#111" stroke-width="0.2" letter-spacing="0.55">2.5</text>
<path d="M277.73 372.80h1.8" stroke="#222" stroke-width="0.6"/>
<text transform="translate(282.73,376.20)" font-size="9.6" fill="#111" stroke="#111" stroke-width="0.2" letter-spacing="0.55">2.0</text>
<path d="M277.73 400.10h1.8" stroke="#222" stroke-width="0.6"/>
<text transform="translate(282.73,403.50)" font-size="9.6" fill="#111" stroke="#111" stroke-width="0.2" letter-spacing="0.55">1.5</text>
<text transform="translate(272.93,309.20)" font-size="9.4" fill="#111" stroke="#111" stroke-width="0.2" letter-spacing="0.5">log N<tspan font-size="5.8" dy="3" letter-spacing="0.1">ph</tspan></text>
<clipPath id="cp22"><rect x="319.36" y="303.60" width="96.0" height="96.0"/></clipPath>
<g clip-path="url(#cp22)"><g filter="url(#bl1)">
<rect x="313.2" y="297.4" width="12.4" height="12.4" fill="#272727"/>
<rect x="325.2" y="297.4" width="6.4" height="12.4" fill="#2f2f2f"/>
<rect x="331.2" y="297.4" width="6.4" height="12.4" fill="#414141"/>
<rect x="337.2" y="297.4" width="6.4" height="12.4" fill="#4b4b4b"/>
<rect x="343.2" y="297.4" width="6.4" height="12.4" fill="#606060"/>
<rect x="349.2" y="297.4" width="6.4" height="12.4" fill="#767676"/>
<rect x="355.2" y="297.4" width="6.4" height="12.4" fill="#6a6a6a"/>
<rect x="361.2" y="297.4" width="6.4" height="12.4" fill="#606060"/>
<rect x="367.2" y="297.4" width="6.4" height="12.4" fill="#6a6a6a"/>
<rect x="373.2" y="297.4" width="6.4" height="12.4" fill="#6a6a6a"/>
<rect x="379.2" y="297.4" width="6.4" height="12.4" fill="#656565"/>
<rect x="385.2" y="297.4" width="6.4" height="12.4" fill="#6a6a6a"/>
<rect x="391.2" y="297.4" width="6.4" height="12.4" fill="#6a6a6a"/>
<rect x="397.2" y="297.4" width="6.4" height="12.4" fill="#6a6a6a"/>
<rect x="403.2" y="297.4" width="6.4" height="12.4" fill="#767676"/>
<rect x="409.2" y="297.4" width="12.4" height="12.4" fill="#767676"/>
<rect x="313.2" y="309.4" width="12.4" height="6.4" fill="#232323"/>
<rect x="325.2" y="309.4" width="6.4" height="6.4" fill="#2b2b2b"/>
<rect x="331.2" y="309.4" width="6.4" height="6.4" fill="#383838"/>
<rect x="337.2" y="309.4" width="6.4" height="6.4" fill="#3c3c3c"/>
<rect x="343.2" y="309.4" width="6.4" height="6.4" fill="#606060"/>
<rect x="349.2" y="309.4" width="6.4" height="6.4" fill="#818181"/>
<rect x="355.2" y="309.4" width="6.4" height="6.4" fill="#767676"/>
<rect x="361.2" y="309.4" width="6.4" height="6.4" fill="#555555"/>
<rect x="367.2" y="309.4" width="6.4" height="6.4" fill="#6a6a6a"/>
<rect x="373.2" y="309.4" width="6.4" height="6.4" fill="#707070"/>
<rect x="379.2" y="309.4" width="6.4" height="6.4" fill="#6a6a6a"/>
<rect x="385.2" y="309.4" width="6.4" height="6.4" fill="#606060"/>
<rect x="391.2" y="309.4" width="6.4" height="6.4" fill="#656565"/>
<rect x="397.2" y="309.4" width="6.4" height="6.4" fill="#606060"/>
<rect x="403.2" y="309.4" width="6.4" height="6.4" fill="#818181"/>
<rect x="409.2" y="309.4" width="12.4" height="6.4" fill="#a6a6a6"/>
<rect x="313.2" y="315.4" width="12.4" height="6.4" fill="#272727"/>
<rect x="325.2" y="315.4" width="6.4" height="6.4" fill="#2b2b2b"/>
<rect x="331.2" y="315.4" width="6.4" height="6.4" fill="#2f2f2f"/>
<rect x="337.2" y="315.4" width="6.4" height="6.4" fill="#2f2f2f"/>
<rect x="343.2" y="315.4" width="6.4" height="6.4" fill="#1f1f1f"/>
<rect x="349.2" y="315.4" width="6.4" height="6.4" fill="#555555"/>
<rect x="355.2" y="315.4" width="6.4" height="6.4" fill="#6a6a6a"/>
<rect x="361.2" y="315.4" width="6.4" height="6.4" fill="#606060"/>
<rect x="367.2" y="315.4" width="6.4" height="6.4" fill="#4b4b4b"/>
<rect x="373.2" y="315.4" width="6.4" height="6.4" fill="#414141"/>
<rect x="379.2" y="315.4" width="6.4" height="6.4" fill="#555555"/>
<rect x="385.2" y="315.4" width="6.4" height="6.4" fill="#4b4b4b"/>
<rect x="391.2" y="315.4" width="6.4" height="6.4" fill="#4b4b4b"/>
<rect x="397.2" y="315.4" width="6.4" height="6.4" fill="#383838"/>
<rect x="403.2" y="315.4" width="6.4" height="6.4" fill="#8d8d8d"/>
<rect x="409.2" y="315.4" width="12.4" height="6.4" fill="#b3b3b3"/>
<rect x="313.2" y="321.4" width="12.4" height="6.4" fill="#2b2b2b"/>
<rect x="325.2" y="321.4" width="6.4" height="6.4" fill="#272727"/>
<rect x="331.2" y="321.4" width="6.4" height="6.4" fill="#2f2f2f"/>
<rect x="337.2" y="321.4" width="6.4" height="6.4" fill="#333333"/>
<rect x="343.2" y="321.4" width="6.4" height="6.4" fill="#1f1f1f"/>
<rect x="349.2" y="321.4" width="6.4" height="6.4" fill="#1f1f1f"/>
<rect x="355.2" y="321.4" width="6.4" height="6.4" fill="#111111"/>
<rect x="361.2" y="321.4" width="6.4" height="6.4" fill="#181818"/>
<rect x="367.2" y="321.4" width="6.4" height="6.4" fill="#2f2f2f"/>
<rect x="373.2" y="321.4" width="6.4" height="6.4" fill="#272727"/>
<rect x="379.2" y="321.4" width="6.4" height="6.4" fill="#383838"/>
<rect x="385.2" y="321.4" width="6.4" height="6.4" fill="#272727"/>
<rect x="391.2" y="321.4" width="6.4" height="6.4" fill="#606060"/>
<rect x="397.2" y="321.4" width="6.4" height="6.4" fill="#999999"/>
<rect x="403.2" y="321.4" width="6.4" height="6.4" fill="#b9b9b9"/>
<rect x="409.2" y="321.4" width="12.4" height="6.4" fill="#b9b9b9"/>
<rect x="313.2" y="327.4" width="12.4" height="6.4" fill="#2f2f2f"/>
<rect x="325.2" y="327.4" width="6.4" height="6.4" fill="#272727"/>
<rect x="331.2" y="327.4" width="6.4" height="6.4" fill="#2b2b2b"/>
<rect x="337.2" y="327.4" width="6.4" height="6.4" fill="#2f2f2f"/>
<rect x="343.2" y="327.4" width="6.4" height="6.4" fill="#2f2f2f"/>
<rect x="349.2" y="327.4" width="6.4" height="6.4" fill="#272727"/>
<rect x="355.2" y="327.4" width="6.4" height="6.4" fill="#2f2f2f"/>
<rect x="361.2" y="327.4" width="6.4" height="6.4" fill="#414141"/>
<rect x="367.2" y="327.4" width="6.4" height="6.4" fill="#1f1f1f"/>
<rect x="373.2" y="327.4" width="6.4" height="6.4" fill="#383838"/>
<rect x="379.2" y="327.4" width="6.4" height="6.4" fill="#555555"/>
<rect x="385.2" y="327.4" width="6.4" height="6.4" fill="#6a6a6a"/>
<rect x="391.2" y="327.4" width="6.4" height="6.4" fill="#818181"/>
<rect x="397.2" y="327.4" width="6.4" height="6.4" fill="#b3b3b3"/>
<rect x="403.2" y="327.4" width="6.4" height="6.4" fill="#c0c0c0"/>
<rect x="409.2" y="327.4" width="12.4" height="6.4" fill="#b9b9b9"/>
<rect x="313.2" y="333.4" width="12.4" height="6.4" fill="#333333"/>
<rect x="325.2" y="333.4" width="6.4" height="6.4" fill="#2b2b2b"/>
<rect x="331.2" y="333.4" width="6.4" height="6.4" fill="#272727"/>
<rect x="337.2" y="333.4" width="6.4" height="6.4" fill="#2b2b2b"/>
<rect x="343.2" y="333.4" width="6.4" height="6.4" fill="#2f2f2f"/>
<rect x="349.2" y="333.4" width="6.4" height="6.4" fill="#4b4b4b"/>
<rect x="355.2" y="333.4" width="6.4" height="6.4" fill="#383838"/>
<rect x="361.2" y="333.4" width="6.4" height="6.4" fill="#383838"/>
<rect x="367.2" y="333.4" width="6.4" height="6.4" fill="#111111"/>
<rect x="373.2" y="333.4" width="6.4" height="6.4" fill="#555555"/>
<rect x="379.2" y="333.4" width="6.4" height="6.4" fill="#6a6a6a"/>
<rect x="385.2" y="333.4" width="6.4" height="6.4" fill="#6a6a6a"/>
<rect x="391.2" y="333.4" width="6.4" height="6.4" fill="#767676"/>
<rect x="397.2" y="333.4" width="6.4" height="6.4" fill="#a6a6a6"/>
<rect x="403.2" y="333.4" width="6.4" height="6.4" fill="#b9b9b9"/>
<rect x="409.2" y="333.4" width="12.4" height="6.4" fill="#b3b3b3"/>
<rect x="313.2" y="339.4" width="12.4" height="6.4" fill="#2f2f2f"/>
<rect x="325.2" y="339.4" width="6.4" height="6.4" fill="#2b2b2b"/>
<rect x="331.2" y="339.4" width="6.4" height="6.4" fill="#2f2f2f"/>
<rect x="337.2" y="339.4" width="6.4" height="6.4" fill="#383838"/>
<rect x="343.2" y="339.4" width="6.4" height="6.4" fill="#414141"/>
<rect x="349.2" y="339.4" width="6.4" height="6.4" fill="#4b4b4b"/>
<rect x="355.2" y="339.4" width="6.4" height="6.4" fill="#555555"/>
<rect x="361.2" y="339.4" width="6.4" height="6.4" fill="#606060"/>
<rect x="367.2" y="339.4" width="6.4" height="6.4" fill="#414141"/>
<rect x="373.2" y="339.4" width="6.4" height="6.4" fill="#6a6a6a"/>
<rect x="379.2" y="339.4" width="6.4" height="6.4" fill="#707070"/>
<rect x="385.2" y="339.4" width="6.4" height="6.4" fill="#6a6a6a"/>
<rect x="391.2" y="339.4" width="6.4" height="6.4" fill="#707070"/>
<rect x="397.2" y="339.4" width="6.4" height="6.4" fill="#8d8d8d"/>
<rect x="403.2" y="339.4" width="6.4" height="6.4" fill="#b3b3b3"/>
<rect x="409.2" y="339.4" width="12.4" height="6.4" fill="#b3b3b3"/>
<rect x="313.2" y="345.4" width="12.4" height="6.4" fill="#272727"/>
<rect x="325.2" y="345.4" width="6.4" height="6.4" fill="#2f2f2f"/>
<rect x="331.2" y="345.4" width="6.4" height="6.4" fill="#3c3c3c"/>
<rect x="337.2" y="345.4" width="6.4" height="6.4" fill="#414141"/>
<rect x="343.2" y="345.4" width="6.4" height="6.4" fill="#4b4b4b"/>
<rect x="349.2" y="345.4" width="6.4" height="6.4" fill="#555555"/>
<rect x="355.2" y="345.4" width="6.4" height="6.4" fill="#606060"/>
<rect x="361.2" y="345.4" width="6.4" height="6.4" fill="#6a6a6a"/>
<rect x="367.2" y="345.4" width="6.4" height="6.4" fill="#606060"/>
<rect x="373.2" y="345.4" width="6.4" height="6.4" fill="#707070"/>
<rect x="379.2" y="345.4" width="6.4" height="6.4" fill="#767676"/>
<rect x="385.2" y="345.4" width="6.4" height="6.4" fill="#707070"/>
<rect x="391.2" y="345.4" width="6.4" height="6.4" fill="#767676"/>
<rect x="397.2" y="345.4" width="6.4" height="6.4" fill="#818181"/>
<rect x="403.2" y="345.4" width="6.4" height="6.4" fill="#a6a6a6"/>
<rect x="409.2" y="345.4" width="12.4" height="6.4" fill="#b3b3b3"/>
<rect x="313.2" y="351.4" width="12.4" height="6.4" fill="#2f2f2f"/>
<rect x="325.2" y="351.4" width="6.4" height="6.4" fill="#3c3c3c"/>
<rect x="331.2" y="351.4" width="6.4" height="6.4" fill="#333333"/>
<rect x="337.2" y="351.4" width="6.4" height="6.4" fill="#4b4b4b"/>
<rect x="343.2" y="351.4" width="6.4" height="6.4" fill="#606060"/>
<rect x="349.2" y="351.4" width="6.4" height="6.4" fill="#656565"/>
<rect x="355.2" y="351.4" width="6.4" height="6.4" fill="#606060"/>
<rect x="361.2" y="351.4" width="6.4" height="6.4" fill="#555555"/>
<rect x="367.2" y="351.4" width="6.4" height="6.4" fill="#767676"/>
<rect x="373.2" y="351.4" width="6.4" height="6.4" fill="#878787"/>
<rect x="379.2" y="351.4" width="6.4" height="6.4" fill="#767676"/>
<rect x="385.2" y="351.4" width="6.4" height="6.4" fill="#767676"/>
<rect x="391.2" y="351.4" width="6.4" height="6.4" fill="#707070"/>
<rect x="397.2" y="351.4" width="6.4" height="6.4" fill="#818181"/>
<rect x="403.2" y="351.4" width="6.4" height="6.4" fill="#a0a0a0"/>
<rect x="409.2" y="351.4" width="12.4" height="6.4" fill="#b3b3b3"/>
<rect x="313.2" y="357.4" width="12.4" height="6.4" fill="#272727"/>
<rect x="325.2" y="357.4" width="6.4" height="6.4" fill="#2f2f2f"/>
<rect x="331.2" y="357.4" width="6.4" height="6.4" fill="#2b2b2b"/>
<rect x="337.2" y="357.4" width="6.4" height="6.4" fill="#383838"/>
<rect x="343.2" y="357.4" width="6.4" height="6.4" fill="#606060"/>
<rect x="349.2" y="357.4" width="6.4" height="6.4" fill="#6a6a6a"/>
<rect x="355.2" y="357.4" width="6.4" height="6.4" fill="#6a6a6a"/>
<rect x="361.2" y="357.4" width="6.4" height="6.4" fill="#656565"/>
<rect x="367.2" y="357.4" width="6.4" height="6.4" fill="#6a6a6a"/>
<rect x="373.2" y="357.4" width="6.4" height="6.4" fill="#7b7b7b"/>
<rect x="379.2" y="357.4" width="6.4" height="6.4" fill="#707070"/>
<rect x="385.2" y="357.4" width="6.4" height="6.4" fill="#767676"/>
<rect x="391.2" y="357.4" width="6.4" height="6.4" fill="#6a6a6a"/>
<rect x="397.2" y="357.4" width="6.4" height="6.4" fill="#8d8d8d"/>
<rect x="403.2" y="357.4" width="6.4" height="6.4" fill="#939393"/>
<rect x="409.2" y="357.4" width="12.4" height="6.4" fill="#a0a0a0"/>
<rect x="313.2" y="363.4" width="12.4" height="6.4" fill="#1f1f1f"/>
<rect x="325.2" y="363.4" width="6.4" height="6.4" fill="#272727"/>
<rect x="331.2" y="363.4" width="6.4" height="6.4" fill="#2b2b2b"/>
<rect x="337.2" y="363.4" width="6.4" height="6.4" fill="#2f2f2f"/>
<rect x="343.2" y="363.4" width="6.4" height="6.4" fill="#555555"/>
<rect x="349.2" y="363.4" width="6.4" height="6.4" fill="#6a6a6a"/>
<rect x="355.2" y="363.4" width="6.4" height="6.4" fill="#6a6a6a"/>
<rect x="361.2" y="363.4" width="6.4" height="6.4" fill="#656565"/>
<rect x="367.2" y="363.4" width="6.4" height="6.4" fill="#6a6a6a"/>
<rect x="373.2" y="363.4" width="6.4" height="6.4" fill="#707070"/>
<rect x="379.2" y="363.4" width="6.4" height="6.4" fill="#767676"/>
<rect x="385.2" y="363.4" width="6.4" height="6.4" fill="#767676"/>
<rect x="391.2" y="363.4" width="6.4" height="6.4" fill="#767676"/>
<rect x="397.2" y="363.4" width="6.4" height="6.4" fill="#a6a6a6"/>
<rect x="403.2" y="363.4" width="6.4" height="6.4" fill="#acacac"/>
<rect x="409.2" y="363.4" width="12.4" height="6.4" fill="#b3b3b3"/>
<rect x="313.2" y="369.4" width="12.4" height="6.4" fill="#1b1b1b"/>
<rect x="325.2" y="369.4" width="6.4" height="6.4" fill="#232323"/>
<rect x="331.2" y="369.4" width="6.4" height="6.4" fill="#272727"/>
<rect x="337.2" y="369.4" width="6.4" height="6.4" fill="#2b2b2b"/>
<rect x="343.2" y="369.4" width="6.4" height="6.4" fill="#414141"/>
<rect x="349.2" y="369.4" width="6.4" height="6.4" fill="#656565"/>
<rect x="355.2" y="369.4" width="6.4" height="6.4" fill="#6a6a6a"/>
<rect x="361.2" y="369.4" width="6.4" height="6.4" fill="#6a6a6a"/>
<rect x="367.2" y="369.4" width="6.4" height="6.4" fill="#6a6a6a"/>
<rect x="373.2" y="369.4" width="6.4" height="6.4" fill="#6a6a6a"/>
<rect x="379.2" y="369.4" width="6.4" height="6.4" fill="#555555"/>
<rect x="385.2" y="369.4" width="6.4" height="6.4" fill="#878787"/>
<rect x="391.2" y="369.4" width="6.4" height="6.4" fill="#939393"/>
<rect x="397.2" y="369.4" width="6.4" height="6.4" fill="#acacac"/>
<rect x="403.2" y="369.4" width="6.4" height="6.4" fill="#b3b3b3"/>
<rect x="409.2" y="369.4" width="12.4" height="6.4" fill="#a6a6a6"/>
<rect x="313.2" y="375.4" width="12.4" height="6.4" fill="#1b1b1b"/>
<rect x="325.2" y="375.4" width="6.4" height="6.4" fill="#232323"/>
<rect x="331.2" y="375.4" width="6.4" height="6.4" fill="#272727"/>
<rect x="337.2" y="375.4" width="6.4" height="6.4" fill="#272727"/>
<rect x="343.2" y="375.4" width="6.4" height="6.4" fill="#4b4b4b"/>
<rect x="349.2" y="375.4" width="6.4" height="6.4" fill="#656565"/>
<rect x="355.2" y="375.4" width="6.4" height="6.4" fill="#6a6a6a"/>
<rect x="361.2" y="375.4" width="6.4" height="6.4" fill="#6a6a6a"/>
<rect x="367.2" y="375.4" width="6.4" height="6.4" fill="#606060"/>
<rect x="373.2" y="375.4" width="6.4" height="6.4" fill="#555555"/>
<rect x="379.2" y="375.4" width="6.4" height="6.4" fill="#767676"/>
<rect x="385.2" y="375.4" width="6.4" height="6.4" fill="#999999"/>
<rect x="391.2" y="375.4" width="6.4" height="6.4" fill="#acacac"/>
<rect x="397.2" y="375.4" width="6.4" height="6.4" fill="#acacac"/>
<rect x="403.2" y="375.4" width="6.4" height="6.4" fill="#878787"/>
<rect x="409.2" y="375.4" width="12.4" height="6.4" fill="#767676"/>
<rect x="313.2" y="381.4" width="12.4" height="6.4" fill="#1b1b1b"/>
<rect x="325.2" y="381.4" width="6.4" height="6.4" fill="#272727"/>
<rect x="331.2" y="381.4" width="6.4" height="6.4" fill="#2b2b2b"/>
<rect x="337.2" y="381.4" width="6.4" height="6.4" fill="#2f2f2f"/>
<rect x="343.2" y="381.4" width="6.4" height="6.4" fill="#606060"/>
<rect x="349.2" y="381.4" width="6.4" height="6.4" fill="#6a6a6a"/>
<rect x="355.2" y="381.4" width="6.4" height="6.4" fill="#6a6a6a"/>
<rect x="361.2" y="381.4" width="6.4" height="6.4" fill="#6a6a6a"/>
<rect x="367.2" y="381.4" width="6.4" height="6.4" fill="#6a6a6a"/>
<rect x="373.2" y="381.4" width="6.4" height="6.4" fill="#999999"/>
<rect x="379.2" y="381.4" width="6.4" height="6.4" fill="#a6a6a6"/>
<rect x="385.2" y="381.4" width="6.4" height="6.4" fill="#acacac"/>
<rect x="391.2" y="381.4" width="6.4" height="6.4" fill="#999999"/>
<rect x="397.2" y="381.4" width="6.4" height="6.4" fill="#767676"/>
<rect x="403.2" y="381.4" width="6.4" height="6.4" fill="#707070"/>
<rect x="409.2" y="381.4" width="12.4" height="6.4" fill="#707070"/>
<rect x="313.2" y="387.4" width="12.4" height="6.4" fill="#1f1f1f"/>
<rect x="325.2" y="387.4" width="6.4" height="6.4" fill="#2b2b2b"/>
<rect x="331.2" y="387.4" width="6.4" height="6.4" fill="#2f2f2f"/>
<rect x="337.2" y="387.4" width="6.4" height="6.4" fill="#4b4b4b"/>
<rect x="343.2" y="387.4" width="6.4" height="6.4" fill="#656565"/>
<rect x="349.2" y="387.4" width="6.4" height="6.4" fill="#6a6a6a"/>
<rect x="355.2" y="387.4" width="6.4" height="6.4" fill="#6a6a6a"/>
<rect x="361.2" y="387.4" width="6.4" height="6.4" fill="#6a6a6a"/>
<rect x="367.2" y="387.4" width="6.4" height="6.4" fill="#6a6a6a"/>
<rect x="373.2" y="387.4" width="6.4" height="6.4" fill="#707070"/>
<rect x="379.2" y="387.4" width="6.4" height="6.4" fill="#707070"/>
<rect x="385.2" y="387.4" width="6.4" height="6.4" fill="#767676"/>
<rect x="391.2" y="387.4" width="6.4" height="6.4" fill="#878787"/>
<rect x="397.2" y="387.4" width="6.4" height="6.4" fill="#767676"/>
<rect x="403.2" y="387.4" width="6.4" height="6.4" fill="#707070"/>
<rect x="409.2" y="387.4" width="12.4" height="6.4" fill="#707070"/>
<rect x="313.2" y="393.4" width="12.4" height="12.4" fill="#232323"/>
<rect x="325.2" y="393.4" width="6.4" height="12.4" fill="#414141"/>
<rect x="331.2" y="393.4" width="6.4" height="12.4" fill="#555555"/>
<rect x="337.2" y="393.4" width="6.4" height="12.4" fill="#606060"/>
<rect x="343.2" y="393.4" width="6.4" height="12.4" fill="#6a6a6a"/>
<rect x="349.2" y="393.4" width="6.4" height="12.4" fill="#6a6a6a"/>
<rect x="355.2" y="393.4" width="6.4" height="12.4" fill="#6a6a6a"/>
<rect x="361.2" y="393.4" width="6.4" height="12.4" fill="#6a6a6a"/>
<rect x="367.2" y="393.4" width="6.4" height="12.4" fill="#656565"/>
<rect x="373.2" y="393.4" width="6.4" height="12.4" fill="#6a6a6a"/>
<rect x="379.2" y="393.4" width="6.4" height="12.4" fill="#6a6a6a"/>
<rect x="385.2" y="393.4" width="6.4" height="12.4" fill="#707070"/>
<rect x="391.2" y="393.4" width="6.4" height="12.4" fill="#707070"/>
<rect x="397.2" y="393.4" width="6.4" height="12.4" fill="#6a6a6a"/>
<rect x="403.2" y="393.4" width="6.4" height="12.4" fill="#707070"/>
<rect x="409.2" y="393.4" width="12.4" height="12.4" fill="#707070"/>
</g>
<g filter="url(#bl0p6)"><rect x="331.8" y="391.3" width="1.7" height="1.7" fill="#5f5f5f" fill-opacity="0.6"/><rect x="370.7" y="365.9" width="1.7" height="1.7" fill="#383838" fill-opacity="0.6"/><rect x="341.7" y="308.8" width="1.7" height="1.7" fill="#6a6a6a" fill-opacity="0.6"/><rect x="398.5" y="339.0" width="1.7" height="1.7" fill="#b0b0b0" fill-opacity="0.6"/><rect x="410.9" y="346.5" width="1.7" height="1.7" fill="#e4e4e4" fill-opacity="0.6"/><rect x="335.1" y="333.3" width="1.7" height="1.7" fill="#000000" fill-opacity="0.6"/><rect x="384.4" y="347.9" width="1.7" height="1.7" fill="#9d9d9d" fill-opacity="0.6"/><rect x="376.3" y="311.5" width="1.7" height="1.7" fill="#a2a2a2" fill-opacity="0.6"/><rect x="383.6" y="353.0" width="1.7" height="1.7" fill="#595959" fill-opacity="0.6"/><rect x="330.2" y="374.3" width="1.7" height="1.7" fill="#000000" fill-opacity="0.6"/><rect x="373.6" y="378.0" width="1.7" height="1.7" fill="#343434" fill-opacity="0.6"/><rect x="390.9" y="323.6" width="1.7" height="1.7" fill="#7b7b7b" fill-opacity="0.6"/><rect x="411.0" y="335.4" width="1.7" height="1.7" fill="#999999" fill-opacity="0.6"/><rect x="375.4" y="349.9" width="1.7" height="1.7" fill="#4b4b4b" fill-opacity="0.6"/><rect x="322.7" y="346.7" width="1.7" height="1.7" fill="#444444" fill-opacity="0.6"/><rect x="320.6" y="365.1" width="1.7" height="1.7" fill="#363636" fill-opacity="0.6"/><rect x="345.0" y="329.3" width="1.7" height="1.7" fill="#101010" fill-opacity="0.6"/><rect x="337.5" y="368.1" width="1.7" height="1.7" fill="#040404" fill-opacity="0.6"/><rect x="401.2" y="394.8" width="1.7" height="1.7" fill="#474747" fill-opacity="0.6"/><rect x="354.9" y="346.9" width="1.7" height="1.7" fill="#8e8e8e" fill-opacity="0.6"/><rect x="323.4" y="324.8" width="1.7" height="1.7" fill="#474747" fill-opacity="0.6"/><rect x="329.6" y="339.6" width="1.7" height="1.7" fill="#5a5a5a" fill-opacity="0.6"/><rect x="374.3" y="314.9" width="1.7" height="1.7" fill="#606060" fill-opacity="0.6"/><rect x="382.0" y="356.2" width="1.7" height="1.7" fill="#949494" fill-opacity="0.6"/><rect x="322.0" y="306.9" width="1.7" height="1.7" fill="#000000" fill-opacity="0.6"/><rect x="410.6" y="343.2" width="1.7" height="1.7" fill="#959595" fill-opacity="0.6"/><rect x="378.6" y="345.8" width="1.7" height="1.7" fill="#4f4f4f" fill-opacity="0.6"/><rect x="322.4" y="327.8" width="1.7" height="1.7" fill="#4f4f4f" fill-opacity="0.6"/><rect x="386.1" y="323.8" width="1.7" height="1.7" fill="#080808" fill-opacity="0.6"/><rect x="385.4" y="311.8" width="1.7" height="1.7" fill="#777777" fill-opacity="0.6"/><rect x="339.3" y="318.6" width="1.7" height="1.7" fill="#474747" fill-opacity="0.6"/><rect x="371.5" y="322.5" width="1.7" height="1.7" fill="#464646" fill-opacity="0.6"/><rect x="366.5" y="327.9" width="1.7" height="1.7" fill="#0c0c0c" fill-opacity="0.6"/><rect x="369.0" y="390.5" width="1.7" height="1.7" fill="#8b8b8b" fill-opacity="0.6"/><rect x="385.9" y="314.9" width="1.7" height="1.7" fill="#161616" fill-opacity="0.6"/><rect x="389.3" y="386.7" width="1.7" height="1.7" fill="#d5d5d5" fill-opacity="0.6"/><rect x="359.0" y="369.6" width="1.7" height="1.7" fill="#434343" fill-opacity="0.6"/><rect x="375.8" y="336.2" width="1.7" height="1.7" fill="#717171" fill-opacity="0.6"/><rect x="391.0" y="377.1" width="1.7" height="1.7" fill="#c6c6c6" fill-opacity="0.6"/><rect x="341.6" y="357.1" width="1.7" height="1.7" fill="#191919" fill-opacity="0.6"/><rect x="406.8" y="307.1" width="1.7" height="1.7" fill="#5c5c5c" fill-opacity="0.6"/><rect x="371.4" y="317.9" width="1.7" height="1.7" fill="#6a6a6a" fill-opacity="0.6"/><rect x="344.8" y="341.0" width="1.7" height="1.7" fill="#0b0b0b" fill-opacity="0.6"/><rect x="358.2" y="365.6" width="1.7" height="1.7" fill="#515151" fill-opacity="0.6"/><rect x="378.8" y="387.1" width="1.7" height="1.7" fill="#979797" fill-opacity="0.6"/><rect x="329.2" y="370.1" width="1.7" height="1.7" fill="#0b0b0b" fill-opacity="0.6"/><rect x="351.8" y="336.4" width="1.7" height="1.7" fill="#777777" fill-opacity="0.6"/><rect x="413.0" y="356.6" width="1.7" height="1.7" fill="#dfdfdf" fill-opacity="0.6"/><rect x="364.8" y="346.4" width="1.7" height="1.7" fill="#505050" fill-opacity="0.6"/><rect x="346.9" y="327.5" width="1.7" height="1.7" fill="#0e0e0e" fill-opacity="0.6"/><rect x="359.2" y="376.6" width="1.7" height="1.7" fill="#9e9e9e" fill-opacity="0.6"/><rect x="398.2" y="383.8" width="1.7" height="1.7" fill="#4c4c4c" fill-opacity="0.6"/><rect x="376.8" y="367.6" width="1.7" height="1.7" fill="#484848" fill-opacity="0.6"/><rect x="401.1" y="394.9" width="1.7" height="1.7" fill="#535353" fill-opacity="0.6"/><rect x="363.8" y="316.8" width="1.7" height="1.7" fill="#8b8b8b" fill-opacity="0.6"/><rect x="371.0" y="326.6" width="1.7" height="1.7" fill="#656565" fill-opacity="0.6"/><rect x="346.8" y="380.5" width="1.7" height="1.7" fill="#626262" fill-opacity="0.6"/><rect x="361.4" y="390.7" width="1.7" height="1.7" fill="#373737" fill-opacity="0.6"/><rect x="331.9" y="310.9" width="1.7" height="1.7" fill="#0e0e0e" fill-opacity="0.6"/><rect x="369.8" y="335.3" width="1.7" height="1.7" fill="#353535" fill-opacity="0.6"/><rect x="356.4" y="341.4" width="1.7" height="1.7" fill="#868686" fill-opacity="0.6"/><rect x="347.9" y="380.9" width="1.7" height="1.7" fill="#3e3e3e" fill-opacity="0.6"/><rect x="321.8" y="334.5" width="1.7" height="1.7" fill="#1c1c1c" fill-opacity="0.6"/><rect x="391.5" y="323.0" width="1.7" height="1.7" fill="#828282" fill-opacity="0.6"/><rect x="332.6" y="360.8" width="1.7" height="1.7" fill="#000000" fill-opacity="0.6"/><rect x="344.5" y="386.9" width="1.7" height="1.7" fill="#989898" fill-opacity="0.6"/><rect x="385.0" y="338.9" width="1.7" height="1.7" fill="#989898" fill-opacity="0.6"/><rect x="337.6" y="308.2" width="1.7" height="1.7" fill="#7e7e7e" fill-opacity="0.6"/><rect x="384.3" y="332.1" width="1.7" height="1.7" fill="#7d7d7d" fill-opacity="0.6"/><rect x="357.8" y="307.5" width="1.7" height="1.7" fill="#8f8f8f" fill-opacity="0.6"/><rect x="349.3" y="327.7" width="1.7" height="1.7" fill="#000000" fill-opacity="0.6"/><rect x="390.8" y="374.5" width="1.7" height="1.7" fill="#777777" fill-opacity="0.6"/><rect x="327.2" y="313.2" width="1.7" height="1.7" fill="#101010" fill-opacity="0.6"/><rect x="408.9" y="306.5" width="1.7" height="1.7" fill="#464646" fill-opacity="0.6"/><rect x="337.8" y="327.1" width="1.7" height="1.7" fill="#494949" fill-opacity="0.6"/><rect x="401.6" y="354.6" width="1.7" height="1.7" fill="#a5a5a5" fill-opacity="0.6"/><rect x="397.7" y="356.2" width="1.7" height="1.7" fill="#646464" fill-opacity="0.6"/><rect x="400.9" y="311.8" width="1.7" height="1.7" fill="#383838" fill-opacity="0.6"/><rect x="378.9" y="389.7" width="1.7" height="1.7" fill="#515151" fill-opacity="0.6"/><rect x="406.9" y="385.5" width="1.7" height="1.7" fill="#9d9d9d" fill-opacity="0.6"/><rect x="385.3" y="376.3" width="1.7" height="1.7" fill="#737373" fill-opacity="0.6"/><rect x="406.7" y="366.2" width="1.7" height="1.7" fill="#7f7f7f" fill-opacity="0.6"/><rect x="391.8" y="309.9" width="1.7" height="1.7" fill="#8b8b8b" fill-opacity="0.6"/><rect x="382.8" y="391.0" width="1.7" height="1.7" fill="#919191" fill-opacity="0.6"/><rect x="380.1" y="395.5" width="1.7" height="1.7" fill="#818181" fill-opacity="0.6"/><rect x="321.4" y="378.7" width="1.7" height="1.7" fill="#373737" fill-opacity="0.6"/><rect x="353.6" y="358.8" width="1.7" height="1.7" fill="#393939" fill-opacity="0.6"/><rect x="380.9" y="373.2" width="1.7" height="1.7" fill="#3a3a3a" fill-opacity="0.6"/><rect x="345.8" y="328.6" width="1.7" height="1.7" fill="#070707" fill-opacity="0.6"/><rect x="392.4" y="380.2" width="1.7" height="1.7" fill="#7b7b7b" fill-opacity="0.6"/><rect x="356.0" y="334.0" width="1.7" height="1.7" fill="#161616" fill-opacity="0.6"/><rect x="385.2" y="324.7" width="1.7" height="1.7" fill="#000000" fill-opacity="0.6"/><rect x="343.3" y="354.7" width="1.7" height="1.7" fill="#454545" fill-opacity="0.6"/><rect x="391.6" y="306.9" width="1.7" height="1.7" fill="#999999" fill-opacity="0.6"/><rect x="352.2" y="390.4" width="1.7" height="1.7" fill="#3d3d3d" fill-opacity="0.6"/><rect x="412.5" y="347.2" width="1.7" height="1.7" fill="#8d8d8d" fill-opacity="0.6"/><rect x="352.5" y="315.9" width="1.7" height="1.7" fill="#818181" fill-opacity="0.6"/><rect x="377.5" y="369.5" width="1.7" height="1.7" fill="#979797" fill-opacity="0.6"/><rect x="386.3" y="378.8" width="1.7" height="1.7" fill="#777777" fill-opacity="0.6"/><rect x="319.5" y="371.6" width="1.7" height="1.7" fill="#383838" fill-opacity="0.6"/><rect x="368.8" y="331.7" width="1.7" height="1.7" fill="#000000" fill-opacity="0.6"/><rect x="321.8" y="369.3" width="1.7" height="1.7" fill="#323232" fill-opacity="0.6"/><rect x="398.2" y="325.3" width="1.7" height="1.7" fill="#747474" fill-opacity="0.6"/><rect x="369.4" y="396.4" width="1.7" height="1.7" fill="#4c4c4c" fill-opacity="0.6"/><rect x="392.6" y="377.3" width="1.7" height="1.7" fill="#7e7e7e" fill-opacity="0.6"/><rect x="350.2" y="357.0" width="1.7" height="1.7" fill="#919191" fill-opacity="0.6"/><rect x="340.8" y="310.6" width="1.7" height="1.7" fill="#161616" fill-opacity="0.6"/><rect x="380.2" y="340.0" width="1.7" height="1.7" fill="#4b4b4b" fill-opacity="0.6"/><rect x="406.5" y="312.7" width="1.7" height="1.7" fill="#9b9b9b" fill-opacity="0.6"/><rect x="368.1" y="307.9" width="1.7" height="1.7" fill="#9e9e9e" fill-opacity="0.6"/><rect x="323.7" y="380.0" width="1.7" height="1.7" fill="#3b3b3b" fill-opacity="0.6"/><rect x="366.8" y="346.6" width="1.7" height="1.7" fill="#333333" fill-opacity="0.6"/><rect x="389.6" y="353.2" width="1.7" height="1.7" fill="#8d8d8d" fill-opacity="0.6"/><rect x="382.8" y="316.0" width="1.7" height="1.7" fill="#303030" fill-opacity="0.6"/><rect x="333.3" y="396.0" width="1.7" height="1.7" fill="#313131" fill-opacity="0.6"/><rect x="354.7" y="316.0" width="1.7" height="1.7" fill="#3a3a3a" fill-opacity="0.6"/><rect x="370.0" y="384.7" width="1.7" height="1.7" fill="#989898" fill-opacity="0.6"/><rect x="370.2" y="339.2" width="1.7" height="1.7" fill="#242424" fill-opacity="0.6"/><rect x="327.0" y="318.9" width="1.7" height="1.7" fill="#0e0e0e" fill-opacity="0.6"/><rect x="368.8" y="309.1" width="1.7" height="1.7" fill="#373737" fill-opacity="0.6"/><rect x="405.5" y="385.4" width="1.7" height="1.7" fill="#a0a0a0" fill-opacity="0.6"/><rect x="371.9" y="317.7" width="1.7" height="1.7" fill="#2f2f2f" fill-opacity="0.6"/><rect x="345.2" y="340.5" width="1.7" height="1.7" fill="#232323" fill-opacity="0.6"/><rect x="334.9" y="320.6" width="1.7" height="1.7" fill="#4b4b4b" fill-opacity="0.6"/><rect x="361.5" y="304.3" width="1.7" height="1.7" fill="#2b2b2b" fill-opacity="0.6"/><rect x="349.1" y="385.1" width="1.7" height="1.7" fill="#999999" fill-opacity="0.6"/><rect x="390.6" y="373.5" width="1.7" height="1.7" fill="#737373" fill-opacity="0.6"/><rect x="367.3" y="311.4" width="1.7" height="1.7" fill="#434343" fill-opacity="0.6"/><rect x="366.9" y="386.8" width="1.7" height="1.7" fill="#494949" fill-opacity="0.6"/><rect x="388.4" y="379.4" width="1.7" height="1.7" fill="#c1c1c1" fill-opacity="0.6"/><rect x="356.2" y="321.9" width="1.7" height="1.7" fill="#404040" fill-opacity="0.6"/><rect x="412.5" y="317.9" width="1.7" height="1.7" fill="#e2e2e2" fill-opacity="0.6"/><rect x="362.7" y="383.4" width="1.7" height="1.7" fill="#858585" fill-opacity="0.6"/><rect x="404.4" y="349.9" width="1.7" height="1.7" fill="#7c7c7c" fill-opacity="0.6"/><rect x="358.5" y="397.2" width="1.7" height="1.7" fill="#414141" fill-opacity="0.6"/><rect x="366.5" y="368.5" width="1.7" height="1.7" fill="#353535" fill-opacity="0.6"/><rect x="352.2" y="309.8" width="1.7" height="1.7" fill="#999999" fill-opacity="0.6"/><rect x="389.9" y="340.8" width="1.7" height="1.7" fill="#929292" fill-opacity="0.6"/><rect x="394.6" y="354.0" width="1.7" height="1.7" fill="#4a4a4a" fill-opacity="0.6"/><rect x="324.5" y="376.9" width="1.7" height="1.7" fill="#000000" fill-opacity="0.6"/><rect x="402.5" y="314.6" width="1.7" height="1.7" fill="#a0a0a0" fill-opacity="0.6"/><rect x="410.1" y="383.7" width="1.7" height="1.7" fill="#3b3b3b" fill-opacity="0.6"/><rect x="367.7" y="309.1" width="1.7" height="1.7" fill="#939393" fill-opacity="0.6"/><rect x="410.1" y="378.9" width="1.7" height="1.7" fill="#4f4f4f" fill-opacity="0.6"/><rect x="358.4" y="370.5" width="1.7" height="1.7" fill="#4d4d4d" fill-opacity="0.6"/><rect x="362.6" y="351.1" width="1.7" height="1.7" fill="#7e7e7e" fill-opacity="0.6"/><rect x="342.8" y="393.6" width="1.7" height="1.7" fill="#363636" fill-opacity="0.6"/><rect x="386.9" y="383.0" width="1.7" height="1.7" fill="#cccccc" fill-opacity="0.6"/><rect x="363.5" y="388.8" width="1.7" height="1.7" fill="#888888" fill-opacity="0.6"/><rect x="340.7" y="388.0" width="1.7" height="1.7" fill="#1a1a1a" fill-opacity="0.6"/><rect x="364.1" y="365.8" width="1.7" height="1.7" fill="#414141" fill-opacity="0.6"/><rect x="331.7" y="394.8" width="1.7" height="1.7" fill="#7d7d7d" fill-opacity="0.6"/><rect x="387.9" y="344.2" width="1.7" height="1.7" fill="#3d3d3d" fill-opacity="0.6"/><rect x="353.6" y="304.7" width="1.7" height="1.7" fill="#979797" fill-opacity="0.6"/><rect x="364.4" y="364.1" width="1.7" height="1.7" fill="#858585" fill-opacity="0.6"/><rect x="334.1" y="351.0" width="1.7" height="1.7" fill="#575757" fill-opacity="0.6"/><rect x="406.9" y="316.1" width="1.7" height="1.7" fill="#5b5b5b" fill-opacity="0.6"/><rect x="372.2" y="355.1" width="1.7" height="1.7" fill="#9d9d9d" fill-opacity="0.6"/><rect x="328.3" y="309.6" width="1.7" height="1.7" fill="#5c5c5c" fill-opacity="0.6"/><rect x="335.1" y="329.1" width="1.7" height="1.7" fill="#424242" fill-opacity="0.6"/><rect x="343.2" y="387.8" width="1.7" height="1.7" fill="#848484" fill-opacity="0.6"/><rect x="361.6" y="317.8" width="1.7" height="1.7" fill="#929292" fill-opacity="0.6"/><rect x="340.0" y="318.9" width="1.7" height="1.7" fill="#151515" fill-opacity="0.6"/><rect x="329.2" y="312.6" width="1.7" height="1.7" fill="#4f4f4f" fill-opacity="0.6"/><rect x="341.7" y="372.7" width="1.7" height="1.7" fill="#030303" fill-opacity="0.6"/><rect x="386.1" y="374.4" width="1.7" height="1.7" fill="#bbbbbb" fill-opacity="0.6"/><rect x="397.1" y="323.3" width="1.7" height="1.7" fill="#6d6d6d" fill-opacity="0.6"/><rect x="365.7" y="368.9" width="1.7" height="1.7" fill="#989898" fill-opacity="0.6"/><rect x="408.3" y="336.6" width="1.7" height="1.7" fill="#9d9d9d" fill-opacity="0.6"/><rect x="392.4" y="355.2" width="1.7" height="1.7" fill="#3e3e3e" fill-opacity="0.6"/><rect x="344.4" y="322.5" width="1.7" height="1.7" fill="#000000" fill-opacity="0.6"/><rect x="346.1" y="306.7" width="1.7" height="1.7" fill="#333333" fill-opacity="0.6"/><rect x="358.4" y="354.9" width="1.7" height="1.7" fill="#2c2c2c" fill-opacity="0.6"/><rect x="368.2" y="393.7" width="1.7" height="1.7" fill="#808080" fill-opacity="0.6"/><rect x="333.0" y="373.7" width="1.7" height="1.7" fill="#444444" fill-opacity="0.6"/><rect x="376.0" y="322.1" width="1.7" height="1.7" fill="#3e3e3e" fill-opacity="0.6"/><rect x="362.2" y="377.9" width="1.7" height="1.7" fill="#9c9c9c" fill-opacity="0.6"/><rect x="324.0" y="375.7" width="1.7" height="1.7" fill="#4b4b4b" fill-opacity="0.6"/><rect x="409.8" y="335.9" width="1.7" height="1.7" fill="#9a9a9a" fill-opacity="0.6"/><rect x="339.1" y="337.6" width="1.7" height="1.7" fill="#585858" fill-opacity="0.6"/><rect x="342.3" y="323.1" width="1.7" height="1.7" fill="#575757" fill-opacity="0.6"/><rect x="413.0" y="371.4" width="1.7" height="1.7" fill="#757575" fill-opacity="0.6"/><rect x="397.8" y="339.6" width="1.7" height="1.7" fill="#ababab" fill-opacity="0.6"/><rect x="403.2" y="333.0" width="1.7" height="1.7" fill="#959595" fill-opacity="0.6"/><rect x="386.1" y="362.0" width="1.7" height="1.7" fill="#a2a2a2" fill-opacity="0.6"/><rect x="387.0" y="350.4" width="1.7" height="1.7" fill="#3d3d3d" fill-opacity="0.6"/><rect x="374.7" y="392.5" width="1.7" height="1.7" fill="#585858" fill-opacity="0.6"/><rect x="408.1" y="352.6" width="1.7" height="1.7" fill="#878787" fill-opacity="0.6"/><rect x="334.8" y="337.0" width="1.7" height="1.7" fill="#000000" fill-opacity="0.6"/><rect x="377.1" y="350.7" width="1.7" height="1.7" fill="#a5a5a5" fill-opacity="0.6"/><rect x="412.2" y="397.3" width="1.7" height="1.7" fill="#3e3e3e" fill-opacity="0.6"/><rect x="356.4" y="324.5" width="1.7" height="1.7" fill="#282828" fill-opacity="0.6"/><rect x="381.3" y="346.1" width="1.7" height="1.7" fill="#9b9b9b" fill-opacity="0.6"/><rect x="322.6" y="350.1" width="1.7" height="1.7" fill="#5a5a5a" fill-opacity="0.6"/><rect x="405.6" y="348.6" width="1.7" height="1.7" fill="#c9c9c9" fill-opacity="0.6"/><rect x="371.5" y="311.2" width="1.7" height="1.7" fill="#a0a0a0" fill-opacity="0.6"/><rect x="362.8" y="346.6" width="1.7" height="1.7" fill="#909090" fill-opacity="0.6"/><rect x="332.2" y="350.4" width="1.7" height="1.7" fill="#565656" fill-opacity="0.6"/><rect x="400.4" y="380.0" width="1.7" height="1.7" fill="#dadada" fill-opacity="0.6"/><rect x="398.4" y="346.1" width="1.7" height="1.7" fill="#a4a4a4" fill-opacity="0.6"/><rect x="350.8" y="304.9" width="1.7" height="1.7" fill="#9d9d9d" fill-opacity="0.6"/><rect x="405.2" y="308.4" width="1.7" height="1.7" fill="#909090" fill-opacity="0.6"/><rect x="389.5" y="336.9" width="1.7" height="1.7" fill="#383838" fill-opacity="0.6"/><rect x="341.0" y="366.9" width="1.7" height="1.7" fill="#4a4a4a" fill-opacity="0.6"/><rect x="333.8" y="316.7" width="1.7" height="1.7" fill="#4f4f4f" fill-opacity="0.6"/><rect x="341.0" y="340.1" width="1.7" height="1.7" fill="#585858" fill-opacity="0.6"/><rect x="400.7" y="355.7" width="1.7" height="1.7" fill="#4b4b4b" fill-opacity="0.6"/><rect x="321.9" y="319.0" width="1.7" height="1.7" fill="#5a5a5a" fill-opacity="0.6"/><rect x="395.8" y="397.4" width="1.7" height="1.7" fill="#969696" fill-opacity="0.6"/><rect x="369.1" y="316.4" width="1.7" height="1.7" fill="#181818" fill-opacity="0.6"/><rect x="337.1" y="347.5" width="1.7" height="1.7" fill="#757575" fill-opacity="0.6"/><rect x="369.5" y="321.4" width="1.7" height="1.7" fill="#616161" fill-opacity="0.6"/><rect x="368.6" y="367.7" width="1.7" height="1.7" fill="#393939" fill-opacity="0.6"/><rect x="396.5" y="350.4" width="1.7" height="1.7" fill="#5c5c5c" fill-opacity="0.6"/><rect x="374.8" y="354.5" width="1.7" height="1.7" fill="#676767" fill-opacity="0.6"/><rect x="354.4" y="340.9" width="1.7" height="1.7" fill="#646464" fill-opacity="0.6"/><rect x="366.9" y="368.2" width="1.7" height="1.7" fill="#4f4f4f" fill-opacity="0.6"/><rect x="390.8" y="304.7" width="1.7" height="1.7" fill="#4f4f4f" fill-opacity="0.6"/><rect x="410.3" y="349.3" width="1.7" height="1.7" fill="#838383" fill-opacity="0.6"/><rect x="371.2" y="355.2" width="1.7" height="1.7" fill="#5e5e5e" fill-opacity="0.6"/><rect x="378.3" y="387.1" width="1.7" height="1.7" fill="#474747" fill-opacity="0.6"/><rect x="374.6" y="350.5" width="1.7" height="1.7" fill="#8d8d8d" fill-opacity="0.6"/><rect x="399.8" y="351.4" width="1.7" height="1.7" fill="#606060" fill-opacity="0.6"/><rect x="367.7" y="348.0" width="1.7" height="1.7" fill="#787878" fill-opacity="0.6"/><rect x="376.5" y="375.6" width="1.7" height="1.7" fill="#3d3d3d" fill-opacity="0.6"/><rect x="348.4" y="328.1" width="1.7" height="1.7" fill="#0a0a0a" fill-opacity="0.6"/><rect x="365.4" y="328.4" width="1.7" height="1.7" fill="#585858" fill-opacity="0.6"/><rect x="362.7" y="364.1" width="1.7" height="1.7" fill="#7f7f7f" fill-opacity="0.6"/><rect x="380.3" y="351.6" width="1.7" height="1.7" fill="#9e9e9e" fill-opacity="0.6"/><rect x="383.1" y="343.7" width="1.7" height="1.7" fill="#535353" fill-opacity="0.6"/><rect x="366.8" y="319.6" width="1.7" height="1.7" fill="#272727" fill-opacity="0.6"/><rect x="336.9" y="388.9" width="1.7" height="1.7" fill="#343434" fill-opacity="0.6"/><rect x="335.5" y="345.8" width="1.7" height="1.7" fill="#232323" fill-opacity="0.6"/><rect x="347.7" y="374.8" width="1.7" height="1.7" fill="#1e1e1e" fill-opacity="0.6"/><rect x="347.1" y="365.1" width="1.7" height="1.7" fill="#6f6f6f" fill-opacity="0.6"/><rect x="386.9" y="356.5" width="1.7" height="1.7" fill="#959595" fill-opacity="0.6"/><rect x="411.7" y="346.9" width="1.7" height="1.7" fill="#969696" fill-opacity="0.6"/><rect x="398.9" y="385.1" width="1.7" height="1.7" fill="#9e9e9e" fill-opacity="0.6"/><rect x="386.7" y="391.5" width="1.7" height="1.7" fill="#9a9a9a" fill-opacity="0.6"/><rect x="368.9" y="343.5" width="1.7" height="1.7" fill="#6c6c6c" fill-opacity="0.6"/><rect x="404.9" y="354.4" width="1.7" height="1.7" fill="#b8b8b8" fill-opacity="0.6"/><rect x="387.6" y="350.3" width="1.7" height="1.7" fill="#959595" fill-opacity="0.6"/><rect x="354.0" y="314.4" width="1.7" height="1.7" fill="#a1a1a1" fill-opacity="0.6"/><rect x="372.3" y="332.9" width="1.7" height="1.7" fill="#000000" fill-opacity="0.6"/><rect x="350.6" y="361.2" width="1.7" height="1.7" fill="#8f8f8f" fill-opacity="0.6"/><rect x="341.7" y="378.4" width="1.7" height="1.7" fill="#000000" fill-opacity="0.6"/><rect x="392.2" y="348.3" width="1.7" height="1.7" fill="#494949" fill-opacity="0.6"/><rect x="338.1" y="314.0" width="1.7" height="1.7" fill="#646464" fill-opacity="0.6"/><rect x="408.9" y="395.1" width="1.7" height="1.7" fill="#9c9c9c" fill-opacity="0.6"/><rect x="334.7" y="319.5" width="1.7" height="1.7" fill="#0f0f0f" fill-opacity="0.6"/><rect x="412.3" y="366.9" width="1.7" height="1.7" fill="#868686" fill-opacity="0.6"/><rect x="342.2" y="388.4" width="1.7" height="1.7" fill="#676767" fill-opacity="0.6"/><rect x="358.7" y="322.1" width="1.7" height="1.7" fill="#3a3a3a" fill-opacity="0.6"/><rect x="368.6" y="336.5" width="1.7" height="1.7" fill="#000000" fill-opacity="0.6"/><rect x="391.2" y="350.3" width="1.7" height="1.7" fill="#a3a3a3" fill-opacity="0.6"/><rect x="403.5" y="378.5" width="1.7" height="1.7" fill="#5e5e5e" fill-opacity="0.6"/><rect x="350.2" y="318.5" width="1.7" height="1.7" fill="#282828" fill-opacity="0.6"/><rect x="400.5" y="391.8" width="1.7" height="1.7" fill="#545454" fill-opacity="0.6"/><rect x="353.5" y="345.4" width="1.7" height="1.7" fill="#7f7f7f" fill-opacity="0.6"/><rect x="384.2" y="335.4" width="1.7" height="1.7" fill="#505050" fill-opacity="0.6"/></g>
<g transform="translate(319.36,303.60)">
<path d="M76 14C84 18 90 25 91.5 34S93 50 90 58S82 71 75 76S62 81 54 84" stroke="#d2d2d2" stroke-opacity="0.55" stroke-width="9" fill="none" filter="url(#bl2)"/>
<g fill="#1e1e1e" filter="url(#bl1)">
<ellipse cx="27" cy="17" rx="3" ry="2.5"/><ellipse cx="38" cy="22" rx="3.5" ry="2.8"/><ellipse cx="23" cy="13" rx="2" ry="1.8"/><ellipse cx="46" cy="19" rx="2" ry="2.5"/>
<ellipse cx="56" cy="20" rx="1.6" ry="2.2"/><ellipse cx="66" cy="17" rx="1.8" ry="1.6"/><ellipse cx="74" cy="15" rx="1.5" ry="1.5"/>
<ellipse cx="38" cy="55" rx="1.5" ry="1.5"/><ellipse cx="40" cy="62" rx="1.3" ry="1.6"/><ellipse cx="43" cy="69" rx="1.6" ry="1.4"/><ellipse cx="46.5" cy="74" rx="1.8" ry="1.4"/><ellipse cx="51" cy="78" rx="1.6" ry="1.3"/><ellipse cx="62" cy="73" rx="1.5" ry="1.5"/><ellipse cx="30" cy="34" rx="1.6" ry="1.6"/><ellipse cx="5" cy="90" rx="1.5" ry="1.5"/><ellipse cx="50" cy="93" rx="1.2" ry="1.2"/>
</g>
</g>
</g>
<rect x="319.36" y="303.60" width="96.0" height="96.0" fill="none" stroke="#222" stroke-width="0.9"/>
<path d="M327.36 399.60v-1.8M327.36 303.60v1.8" stroke="#222" stroke-width="0.7"/>
<path d="M343.36 399.60v-1.8M343.36 303.60v1.8" stroke="#222" stroke-width="0.7"/>
<path d="M359.36 399.60v-1.8M359.36 303.60v1.8" stroke="#222" stroke-width="0.7"/>
<path d="M375.36 399.60v-1.8M375.36 303.60v1.8" stroke="#222" stroke-width="0.7"/>
<path d="M391.36 399.60v-1.8M391.36 303.60v1.8" stroke="#222" stroke-width="0.7"/>
<path d="M407.36 399.60v-1.8M407.36 303.60v1.8" stroke="#222" stroke-width="0.7"/>
<path d="M319.36 392.10h1.8M415.36 392.10h-1.8" stroke="#222" stroke-width="0.7"/>
<path d="M319.36 376.10h1.8M415.36 376.10h-1.8" stroke="#222" stroke-width="0.7"/>
<path d="M319.36 360.10h1.8M415.36 360.10h-1.8" stroke="#222" stroke-width="0.7"/>
<path d="M319.36 344.10h1.8M415.36 344.10h-1.8" stroke="#222" stroke-width="0.7"/>
<path d="M319.36 328.10h1.8M415.36 328.10h-1.8" stroke="#222" stroke-width="0.7"/>
<path d="M319.36 312.10h1.8M415.36 312.10h-1.8" stroke="#222" stroke-width="0.7"/>
<path d="M320.96 399.60v-1M320.96 303.60v1M324.16 399.60v-1M324.16 303.60v1M330.56 399.60v-1M330.56 303.60v1M333.76 399.60v-1M333.76 303.60v1M336.96 399.60v-1M336.96 303.60v1M340.16 399.60v-1M340.16 303.60v1M346.56 399.60v-1M346.56 303.60v1M349.76 399.60v-1M349.76 303.60v1M352.96 399.60v-1M352.96 303.60v1M356.16 399.60v-1M356.16 303.60v1M362.56 399.60v-1M362.56 303.60v1M365.76 399.60v-1M365.76 303.60v1M368.96 399.60v-1M368.96 303.60v1M372.16 399.60v-1M372.16 303.60v1M378.56 399.60v-1M378.56 303.60v1M381.76 399.60v-1M381.76 303.60v1M384.96 399.60v-1M384.96 303.60v1M388.16 399.60v-1M388.16 303.60v1M394.56 399.60v-1M394.56 303.60v1M397.76 399.60v-1M397.76 303.60v1M400.96 399.60v-1M400.96 303.60v1M404.16 399.60v-1M404.16 303.60v1M410.56 399.60v-1M410.56 303.60v1M413.76 399.60v-1M413.76 303.60v1M319.36 398.50h1M415.36 398.50h-1M319.36 395.30h1M415.36 395.30h-1M319.36 388.90h1M415.36 388.90h-1M319.36 385.70h1M415.36 385.70h-1M319.36 382.50h1M415.36 382.50h-1M319.36 379.30h1M415.36 379.30h-1M319.36 372.90h1M415.36 372.90h-1M319.36 369.70h1M415.36 369.70h-1M319.36 366.50h1M415.36 366.50h-1M319.36 363.30h1M415.36 363.30h-1M319.36 356.90h1M415.36 356.90h-1M319.36 353.70h1M415.36 353.70h-1M319.36 350.50h1M415.36 350.50h-1M319.36 347.30h1M415.36 347.30h-1M319.36 340.90h1M415.36 340.90h-1M319.36 337.70h1M415.36 337.70h-1M319.36 334.50h1M415.36 334.50h-1M319.36 331.30h1M415.36 331.30h-1M319.36 324.90h1M415.36 324.90h-1M319.36 321.70h1M415.36 321.70h-1M319.36 318.50h1M415.36 318.50h-1M319.36 315.30h1M415.36 315.30h-1M319.36 308.90h1M415.36 308.90h-1M319.36 305.70h1M415.36 305.70h-1" stroke="#333" stroke-width="0.6"/>
<text transform="translate(367.75,298.30)" text-anchor="middle" font-size="10.8" fill="#111" stroke="#111" stroke-width="0.2" letter-spacing="0.78">SOT SP B<tspan font-size="7" dy="2">L</tspan></text>
<text transform="translate(317.31,395.90)" text-anchor="end" font-size="9.6" fill="#111" stroke="#111" stroke-width="0.2" letter-spacing="0.55">30</text>
<text transform="translate(317.31,379.90)" text-anchor="end" font-size="9.6" fill="#111" stroke="#111" stroke-width="0.2" letter-spacing="0.55">40</text>
<text transform="translate(317.31,363.90)" text-anchor="end" font-size="9.6" fill="#111" stroke="#111" stroke-width="0.2" letter-spacing="0.55">50</text>
<text transform="translate(317.31,347.90)" text-anchor="end" font-size="9.6" fill="#111" stroke="#111" stroke-width="0.2" letter-spacing="0.55">60</text>
<text transform="translate(317.31,331.90)" text-anchor="end" font-size="9.6" fill="#111" stroke="#111" stroke-width="0.2" letter-spacing="0.55">70</text>
<text transform="translate(317.31,315.90)" text-anchor="end" font-size="9.6" fill="#111" stroke="#111" stroke-width="0.2" letter-spacing="0.55">80</text>
<text transform="translate(327.63,413.10)" text-anchor="middle" font-size="9.6" fill="#111" stroke="#111" stroke-width="0.2" letter-spacing="0.55">40</text>
<text transform="translate(343.63,413.10)" text-anchor="middle" font-size="9.6" fill="#111" stroke="#111" stroke-width="0.2" letter-spacing="0.55">50</text>
<text transform="translate(359.63,413.10)" text-anchor="middle" font-size="9.6" fill="#111" stroke="#111" stroke-width="0.2" letter-spacing="0.55">60</text>
<text transform="translate(375.63,413.10)" text-anchor="middle" font-size="9.6" fill="#111" stroke="#111" stroke-width="0.2" letter-spacing="0.55">70</text>
<text transform="translate(391.63,413.10)" text-anchor="middle" font-size="9.6" fill="#111" stroke="#111" stroke-width="0.2" letter-spacing="0.55">80</text>
<text transform="translate(407.63,413.10)" text-anchor="middle" font-size="9.6" fill="#111" stroke="#111" stroke-width="0.2" letter-spacing="0.55">90</text>
<text transform="translate(367.56,423.80)" text-anchor="middle" font-size="9.4" fill="#111" stroke="#111" stroke-width="0.2" letter-spacing="0.4">X (arcsecs)</text>
<defs><linearGradient id="cb22" x1="0" y1="0" x2="0" y2="1"><stop offset="0" stop-color="#fff"/><stop offset="1" stop-color="#000"/></linearGradient></defs>
<rect x="419.06" y="318.20" width="3.6" height="81.90" fill="url(#cb22)" stroke="#333" stroke-width="0.5"/>
<path d="M422.66 318.20h1.8" stroke="#222" stroke-width="0.6"/>
<text transform="translate(427.66,321.60)" font-size="9.6" fill="#111" stroke="#111" stroke-width="0.2" letter-spacing="0.55">2.0</text>
<path d="M422.66 338.68h1.8" stroke="#222" stroke-width="0.6"/>
<text transform="translate(427.66,342.08)" font-size="9.6" fill="#111" stroke="#111" stroke-width="0.2" letter-spacing="0.55">1.0</text>
<path d="M422.66 359.15h1.8" stroke="#222" stroke-width="0.6"/>
<text transform="translate(427.66,362.55)" font-size="9.6" fill="#111" stroke="#111" stroke-width="0.2" letter-spacing="0.55">0.0</text>
<path d="M422.66 379.62h1.8" stroke="#222" stroke-width="0.6"/>
<text transform="translate(427.66,383.02)" font-size="9.6" fill="#111" stroke="#111" stroke-width="0.2" letter-spacing="0.55">−1.0</text>
<path d="M422.66 400.10h1.8" stroke="#222" stroke-width="0.6"/>
<text transform="translate(427.66,403.50)" font-size="9.6" fill="#111" stroke="#111" stroke-width="0.2" letter-spacing="0.55">−2.0</text>
<text transform="translate(417.66,308.20)" font-size="9.4" fill="#111" stroke="#111" stroke-width="0.2" letter-spacing="0.7">B (kG)</text>
<clipPath id="cp23"><rect x="464.29" y="303.60" width="96.0" height="96.0"/></clipPath>
<g clip-path="url(#cp23)"><g filter="url(#bl3)">
<rect x="456.1" y="295.4" width="16.4" height="16.4" fill="#969696"/>
<rect x="472.1" y="295.4" width="8.4" height="16.4" fill="#afafaf"/>
<rect x="480.1" y="295.4" width="8.4" height="16.4" fill="#e3e3e3"/>
<rect x="488.1" y="295.4" width="8.4" height="16.4" fill="#f7f7f7"/>
<rect x="496.1" y="295.4" width="8.4" height="16.4" fill="#f2f2f2"/>
<rect x="504.1" y="295.4" width="8.4" height="16.4" fill="#ededed"/>
<rect x="512.1" y="295.4" width="8.4" height="16.4" fill="#e8e8e8"/>
<rect x="520.1" y="295.4" width="8.4" height="16.4" fill="#e3e3e3"/>
<rect x="528.1" y="295.4" width="8.4" height="16.4" fill="#ededed"/>
<rect x="536.1" y="295.4" width="8.4" height="16.4" fill="#f2f2f2"/>
<rect x="544.1" y="295.4" width="8.4" height="16.4" fill="#e3e3e3"/>
<rect x="552.1" y="295.4" width="16.4" height="16.4" fill="#d4d4d4"/>
<rect x="456.1" y="311.4" width="16.4" height="8.4" fill="#aaaaaa"/>
<rect x="472.1" y="311.4" width="8.4" height="8.4" fill="#d4d4d4"/>
<rect x="480.1" y="311.4" width="8.4" height="8.4" fill="#f2f2f2"/>
<rect x="488.1" y="311.4" width="8.4" height="8.4" fill="#fafafa"/>
<rect x="496.1" y="311.4" width="8.4" height="8.4" fill="#f7f7f7"/>
<rect x="504.1" y="311.4" width="8.4" height="8.4" fill="#ededed"/>
<rect x="512.1" y="311.4" width="8.4" height="8.4" fill="#e3e3e3"/>
<rect x="520.1" y="311.4" width="8.4" height="8.4" fill="#d4d4d4"/>
<rect x="528.1" y="311.4" width="8.4" height="8.4" fill="#ededed"/>
<rect x="536.1" y="311.4" width="8.4" height="8.4" fill="#e8e8e8"/>
<rect x="544.1" y="311.4" width="8.4" height="8.4" fill="#d4d4d4"/>
<rect x="552.1" y="311.4" width="16.4" height="8.4" fill="#cacaca"/>
<rect x="456.1" y="319.4" width="16.4" height="8.4" fill="#d4d4d4"/>
<rect x="472.1" y="319.4" width="8.4" height="8.4" fill="#e3e3e3"/>
<rect x="480.1" y="319.4" width="8.4" height="8.4" fill="#ededed"/>
<rect x="488.1" y="319.4" width="8.4" height="8.4" fill="#f2f2f2"/>
<rect x="496.1" y="319.4" width="8.4" height="8.4" fill="#ededed"/>
<rect x="504.1" y="319.4" width="8.4" height="8.4" fill="#e8e8e8"/>
<rect x="512.1" y="319.4" width="8.4" height="8.4" fill="#dedede"/>
<rect x="520.1" y="319.4" width="8.4" height="8.4" fill="#e8e8e8"/>
<rect x="528.1" y="319.4" width="8.4" height="8.4" fill="#ededed"/>
<rect x="536.1" y="319.4" width="8.4" height="8.4" fill="#cfcfcf"/>
<rect x="544.1" y="319.4" width="8.4" height="8.4" fill="#b9b9b9"/>
<rect x="552.1" y="319.4" width="16.4" height="8.4" fill="#b9b9b9"/>
<rect x="456.1" y="327.4" width="16.4" height="8.4" fill="#b9b9b9"/>
<rect x="472.1" y="327.4" width="8.4" height="8.4" fill="#aaaaaa"/>
<rect x="480.1" y="327.4" width="8.4" height="8.4" fill="#aaaaaa"/>
<rect x="488.1" y="327.4" width="8.4" height="8.4" fill="#cfcfcf"/>
<rect x="496.1" y="327.4" width="8.4" height="8.4" fill="#d4d4d4"/>
<rect x="504.1" y="327.4" width="8.4" height="8.4" fill="#cfcfcf"/>
<rect x="512.1" y="327.4" width="8.4" height="8.4" fill="#d4d4d4"/>
<rect x="520.1" y="327.4" width="8.4" height="8.4" fill="#f7f7f7"/>
<rect x="528.1" y="327.4" width="8.4" height="8.4" fill="#e3e3e3"/>
<rect x="536.1" y="327.4" width="8.4" height="8.4" fill="#afafaf"/>
<rect x="544.1" y="327.4" width="8.4" height="8.4" fill="#b4b4b4"/>
<rect x="552.1" y="327.4" width="16.4" height="8.4" fill="#b9b9b9"/>
<rect x="456.1" y="335.4" width="16.4" height="8.4" fill="#d4d4d4"/>
<rect x="472.1" y="335.4" width="8.4" height="8.4" fill="#dedede"/>
<rect x="480.1" y="335.4" width="8.4" height="8.4" fill="#d4d4d4"/>
<rect x="488.1" y="335.4" width="8.4" height="8.4" fill="#cacaca"/>
<rect x="496.1" y="335.4" width="8.4" height="8.4" fill="#afafaf"/>
<rect x="504.1" y="335.4" width="8.4" height="8.4" fill="#d9d9d9"/>
<rect x="512.1" y="335.4" width="8.4" height="8.4" fill="#f2f2f2"/>
<rect x="520.1" y="335.4" width="8.4" height="8.4" fill="#f7f7f7"/>
<rect x="528.1" y="335.4" width="8.4" height="8.4" fill="#d4d4d4"/>
<rect x="536.1" y="335.4" width="8.4" height="8.4" fill="#b4b4b4"/>
<rect x="544.1" y="335.4" width="8.4" height="8.4" fill="#cacaca"/>
<rect x="552.1" y="335.4" width="16.4" height="8.4" fill="#cfcfcf"/>
<rect x="456.1" y="343.4" width="16.4" height="8.4" fill="#a0a0a0"/>
<rect x="472.1" y="343.4" width="8.4" height="8.4" fill="#ededed"/>
<rect x="480.1" y="343.4" width="8.4" height="8.4" fill="#ededed"/>
<rect x="488.1" y="343.4" width="8.4" height="8.4" fill="#f2f2f2"/>
<rect x="496.1" y="343.4" width="8.4" height="8.4" fill="#f2f2f2"/>
<rect x="504.1" y="343.4" width="8.4" height="8.4" fill="#f7f7f7"/>
<rect x="512.1" y="343.4" width="8.4" height="8.4" fill="#fafafa"/>
<rect x="520.1" y="343.4" width="8.4" height="8.4" fill="#f7f7f7"/>
<rect x="528.1" y="343.4" width="8.4" height="8.4" fill="#cfcfcf"/>
<rect x="536.1" y="343.4" width="8.4" height="8.4" fill="#d4d4d4"/>
<rect x="544.1" y="343.4" width="8.4" height="8.4" fill="#d4d4d4"/>
<rect x="552.1" y="343.4" width="16.4" height="8.4" fill="#d9d9d9"/>
<rect x="456.1" y="351.4" width="16.4" height="8.4" fill="#aaaaaa"/>
<rect x="472.1" y="351.4" width="8.4" height="8.4" fill="#ededed"/>
<rect x="480.1" y="351.4" width="8.4" height="8.4" fill="#f7f7f7"/>
<rect x="488.1" y="351.4" width="8.4" height="8.4" fill="#f2f2f2"/>
<rect x="496.1" y="351.4" width="8.4" height="8.4" fill="#f2f2f2"/>
<rect x="504.1" y="351.4" width="8.4" height="8.4" fill="#ededed"/>
<rect x="512.1" y="351.4" width="8.4" height="8.4" fill="#f7f7f7"/>
<rect x="520.1" y="351.4" width="8.4" height="8.4" fill="#f2f2f2"/>
<rect x="528.1" y="351.4" width="8.4" height="8.4" fill="#d4d4d4"/>
<rect x="536.1" y="351.4" width="8.4" height="8.4" fill="#d9d9d9"/>
<rect x="544.1" y="351.4" width="8.4" height="8.4" fill="#d9d9d9"/>
<rect x="552.1" y="351.4" width="16.4" height="8.4" fill="#dedede"/>
<rect x="456.1" y="359.4" width="16.4" height="8.4" fill="#e3e3e3"/>
<rect x="472.1" y="359.4" width="8.4" height="8.4" fill="#ededed"/>
<rect x="480.1" y="359.4" width="8.4" height="8.4" fill="#fafafa"/>
<rect x="488.1" y="359.4" width="8.4" height="8.4" fill="#f7f7f7"/>
<rect x="496.1" y="359.4" width="8.4" height="8.4" fill="#ededed"/>
<rect x="504.1" y="359.4" width="8.4" height="8.4" fill="#e8e8e8"/>
<rect x="512.1" y="359.4" width="8.4" height="8.4" fill="#ededed"/>
<rect x="520.1" y="359.4" width="8.4" height="8.4" fill="#ededed"/>
<rect x="528.1" y="359.4" width="8.4" height="8.4" fill="#e3e3e3"/>
<rect x="536.1" y="359.4" width="8.4" height="8.4" fill="#d9d9d9"/>
<rect x="544.1" y="359.4" width="8.4" height="8.4" fill="#dedede"/>
<rect x="552.1" y="359.4" width="16.4" height="8.4" fill="#e3e3e3"/>
<rect x="456.1" y="367.4" width="16.4" height="8.4" fill="#ededed"/>
<rect x="472.1" y="367.4" width="8.4" height="8.4" fill="#f2f2f2"/>
<rect x="480.1" y="367.4" width="8.4" height="8.4" fill="#fafafa"/>
<rect x="488.1" y="367.4" width="8.4" height="8.4" fill="#f7f7f7"/>
<rect x="496.1" y="367.4" width="8.4" height="8.4" fill="#ededed"/>
<rect x="504.1" y="367.4" width="8.4" height="8.4" fill="#e8e8e8"/>
<rect x="512.1" y="367.4" width="8.4" height="8.4" fill="#e8e8e8"/>
<rect x="520.1" y="367.4" width="8.4" height="8.4" fill="#e8e8e8"/>
<rect x="528.1" y="367.4" width="8.4" height="8.4" fill="#ededed"/>
<rect x="536.1" y="367.4" width="8.4" height="8.4" fill="#e3e3e3"/>
<rect x="544.1" y="367.4" width="8.4" height="8.4" fill="#e3e3e3"/>
<rect x="552.1" y="367.4" width="16.4" height="8.4" fill="#e8e8e8"/>
<rect x="456.1" y="375.4" width="16.4" height="8.4" fill="#f2f2f2"/>
<rect x="472.1" y="375.4" width="8.4" height="8.4" fill="#f7f7f7"/>
<rect x="480.1" y="375.4" width="8.4" height="8.4" fill="#f7f7f7"/>
<rect x="488.1" y="375.4" width="8.4" height="8.4" fill="#f2f2f2"/>
<rect x="496.1" y="375.4" width="8.4" height="8.4" fill="#ededed"/>
<rect x="504.1" y="375.4" width="8.4" height="8.4" fill="#ededed"/>
<rect x="512.1" y="375.4" width="8.4" height="8.4" fill="#ededed"/>
<rect x="520.1" y="375.4" width="8.4" height="8.4" fill="#e8e8e8"/>
<rect x="528.1" y="375.4" width="8.4" height="8.4" fill="#f2f2f2"/>
<rect x="536.1" y="375.4" width="8.4" height="8.4" fill="#ededed"/>
<rect x="544.1" y="375.4" width="8.4" height="8.4" fill="#ededed"/>
<rect x="552.1" y="375.4" width="16.4" height="8.4" fill="#ededed"/>
<rect x="456.1" y="383.4" width="16.4" height="8.4" fill="#f7f7f7"/>
<rect x="472.1" y="383.4" width="8.4" height="8.4" fill="#fafafa"/>
<rect x="480.1" y="383.4" width="8.4" height="8.4" fill="#fafafa"/>
<rect x="488.1" y="383.4" width="8.4" height="8.4" fill="#f7f7f7"/>
<rect x="496.1" y="383.4" width="8.4" height="8.4" fill="#f7f7f7"/>
<rect x="504.1" y="383.4" width="8.4" height="8.4" fill="#f7f7f7"/>
<rect x="512.1" y="383.4" width="8.4" height="8.4" fill="#f7f7f7"/>
<rect x="520.1" y="383.4" width="8.4" height="8.4" fill="#f2f2f2"/>
<rect x="528.1" y="383.4" width="8.4" height="8.4" fill="#f7f7f7"/>
<rect x="536.1" y="383.4" width="8.4" height="8.4" fill="#f7f7f7"/>
<rect x="544.1" y="383.4" width="8.4" height="8.4" fill="#f7f7f7"/>
<rect x="552.1" y="383.4" width="16.4" height="8.4" fill="#f7f7f7"/>
<rect x="456.1" y="391.4" width="16.4" height="16.4" fill="#fafafa"/>
<rect x="472.1" y="391.4" width="8.4" height="16.4" fill="#fafafa"/>
<rect x="480.1" y="391.4" width="8.4" height="16.4" fill="#fafafa"/>
<rect x="488.1" y="391.4" width="8.4" height="16.4" fill="#fafafa"/>
<rect x="496.1" y="391.4" width="8.4" height="16.4" fill="#fafafa"/>
<rect x="504.1" y="391.4" width="8.4" height="16.4" fill="#fafafa"/>
<rect x="512.1" y="391.4" width="8.4" height="16.4" fill="#fafafa"/>
<rect x="520.1" y="391.4" width="8.4" height="16.4" fill="#fafafa"/>
<rect x="528.1" y="391.4" width="8.4" height="16.4" fill="#fafafa"/>
<rect x="536.1" y="391.4" width="8.4" height="16.4" fill="#fafafa"/>
<rect x="544.1" y="391.4" width="8.4" height="16.4" fill="#fafafa"/>
<rect x="552.1" y="391.4" width="16.4" height="16.4" fill="#fafafa"/>
</g>
<g transform="translate(464.29,303.60)">
<path d="M-1 -1H22C17 7 10 15 -1 22Z" fill="#7a7a7a" filter="url(#bl2)"/>
<path d="M0 25.5C6 25.3 13 25 20 25.5S30 27 34 27.5" stroke="#888" stroke-width="1" fill="none" filter="url(#bl0p6)"/>
<path d="M2 29C5 29.5 9 30 12.8 30.9" stroke="#999" stroke-width="1.4" fill="none" filter="url(#bl0p6)"/>
<path d="M12.8 30.9C15 31.7 19 33.4 21.3 34.1S27 35.8 29.9 36.3S33 37 34.1 36.8S36 36 37.3 35.2S39 33 40.5 32S43 30.6 44.8 29.9S51 27 53.3 26.1S58 24.6 60.3 23.5" stroke="#202020" stroke-width="1.9" fill="none" stroke-linecap="round" filter="url(#bl0p6)"/>
<path d="M60.3 23.5C62 20 63 16 65.8 10.1S69 3 71 0" stroke="#666" stroke-width="1.3" fill="none" filter="url(#bl0p6)"/>
<path d="M77.5 20.5C76 23 75 27 74.3 33.5S73.5 46 72.9 51.3S74 56 74.8 57.7S77 63 78.6 67.3" stroke="#202020" stroke-width="1.8" fill="none" stroke-linecap="round" filter="url(#bl0p6)"/>
<path d="M77 20C82 18 88 21 97 26" stroke="#777" stroke-width="5" fill="none" filter="url(#bl2)"/>
<path d="M79 69C77 73 75 77 72 82" stroke="#aaa" stroke-width="2" fill="none" filter="url(#bl1)"/>
<path d="M8 62C18 56 30 54 44 58S62 66 70 70" stroke="#c4c4c4" stroke-width="1.5" fill="none" filter="url(#bl1)"/>
<path d="M30 48C40 44 50 46 60 44" stroke="#c8c8c8" stroke-width="1.3" fill="none" filter="url(#bl1)"/>
<path d="M10 10C20 6 30 8 40 14S55 18 62 16" stroke="#cfcfcf" stroke-width="1.5" fill="none" filter="url(#bl1)"/>
<path d="M84 40C88 50 90 60 88 75" stroke="#c8c8c8" stroke-width="2" fill="none" filter="url(#bl1p5)"/>
<ellipse cx="3.5" cy="45" rx="3.2" ry="9" fill="#2a2a2a" filter="url(#bl1)"/>
</g>
</g>
<rect x="464.29" y="303.60" width="96.0" height="96.0" fill="none" stroke="#222" stroke-width="0.9"/>
<path d="M472.29 399.60v-1.8M472.29 303.60v1.8" stroke="#222" stroke-width="0.7"/>
<path d="M488.29 399.60v-1.8M488.29 303.60v1.8" stroke="#222" stroke-width="0.7"/>
<path d="M504.29 399.60v-1.8M504.29 303.60v1.8" stroke="#222" stroke-width="0.7"/>
<path d="M520.29 399.60v-1.8M520.29 303.60v1.8" stroke="#222" stroke-width="0.7"/>
<path d="M536.29 399.60v-1.8M536.29 303.60v1.8" stroke="#222" stroke-width="0.7"/>
<path d="M552.29 399.60v-1.8M552.29 303.60v1.8" stroke="#222" stroke-width="0.7"/>
<path d="M464.29 392.10h1.8M560.29 392.10h-1.8" stroke="#222" stroke-width="0.7"/>
<path d="M464.29 376.10h1.8M560.29 376.10h-1.8" stroke="#222" stroke-width="0.7"/>
<path d="M464.29 360.10h1.8M560.29 360.10h-1.8" stroke="#222" stroke-width="0.7"/>
<path d="M464.29 344.10h1.8M560.29 344.10h-1.8" stroke="#222" stroke-width="0.7"/>
<path d="M464.29 328.10h1.8M560.29 328.10h-1.8" stroke="#222" stroke-width="0.7"/>
<path d="M464.29 312.10h1.8M560.29 312.10h-1.8" stroke="#222" stroke-width="0.7"/>
<path d="M465.89 399.60v-1M465.89 303.60v1M469.09 399.60v-1M469.09 303.60v1M475.49 399.60v-1M475.49 303.60v1M478.69 399.60v-1M478.69 303.60v1M481.89 399.60v-1M481.89 303.60v1M485.09 399.60v-1M485.09 303.60v1M491.49 399.60v-1M491.49 303.60v1M494.69 399.60v-1M494.69 303.60v1M497.89 399.60v-1M497.89 303.60v1M501.09 399.60v-1M501.09 303.60v1M507.49 399.60v-1M507.49 303.60v1M510.69 399.60v-1M510.69 303.60v1M513.89 399.60v-1M513.89 303.60v1M517.09 399.60v-1M517.09 303.60v1M523.49 399.60v-1M523.49 303.60v1M526.69 399.60v-1M526.69 303.60v1M529.89 399.60v-1M529.89 303.60v1M533.09 399.60v-1M533.09 303.60v1M539.49 399.60v-1M539.49 303.60v1M542.69 399.60v-1M542.69 303.60v1M545.89 399.60v-1M545.89 303.60v1M549.09 399.60v-1M549.09 303.60v1M555.49 399.60v-1M555.49 303.60v1M558.69 399.60v-1M558.69 303.60v1M464.29 398.50h1M560.29 398.50h-1M464.29 395.30h1M560.29 395.30h-1M464.29 388.90h1M560.29 388.90h-1M464.29 385.70h1M560.29 385.70h-1M464.29 382.50h1M560.29 382.50h-1M464.29 379.30h1M560.29 379.30h-1M464.29 372.90h1M560.29 372.90h-1M464.29 369.70h1M560.29 369.70h-1M464.29 366.50h1M560.29 366.50h-1M464.29 363.30h1M560.29 363.30h-1M464.29 356.90h1M560.29 356.90h-1M464.29 353.70h1M560.29 353.70h-1M464.29 350.50h1M560.29 350.50h-1M464.29 347.30h1M560.29 347.30h-1M464.29 340.90h1M560.29 340.90h-1M464.29 337.70h1M560.29 337.70h-1M464.29 334.50h1M560.29 334.50h-1M464.29 331.30h1M560.29 331.30h-1M464.29 324.90h1M560.29 324.90h-1M464.29 321.70h1M560.29 321.70h-1M464.29 318.50h1M560.29 318.50h-1M464.29 315.30h1M560.29 315.30h-1M464.29 308.90h1M560.29 308.90h-1M464.29 305.70h1M560.29 305.70h-1" stroke="#333" stroke-width="0.6"/>
<text transform="translate(512.68,298.30)" text-anchor="middle" font-size="10.8" fill="#111" stroke="#111" stroke-width="0.2" letter-spacing="0.78">TRACE 171 Å band</text>
<text transform="translate(462.24,395.90)" text-anchor="end" font-size="9.6" fill="#111" stroke="#111" stroke-width="0.2" letter-spacing="0.55">30</text>
<text transform="translate(462.24,379.90)" text-anchor="end" font-size="9.6" fill="#111" stroke="#111" stroke-width="0.2" letter-spacing="0.55">40</text>
<text transform="translate(462.24,363.90)" text-anchor="end" font-size="9.6" fill="#111" stroke="#111" stroke-width="0.2" letter-spacing="0.55">50</text>
<text transform="translate(462.24,347.90)" text-anchor="end" font-size="9.6" fill="#111" stroke="#111" stroke-width="0.2" letter-spacing="0.55">60</text>
<text transform="translate(462.24,331.90)" text-anchor="end" font-size="9.6" fill="#111" stroke="#111" stroke-width="0.2" letter-spacing="0.55">70</text>
<text transform="translate(462.24,315.90)" text-anchor="end" font-size="9.6" fill="#111" stroke="#111" stroke-width="0.2" letter-spacing="0.55">80</text>
<text transform="translate(472.56,413.10)" text-anchor="middle" font-size="9.6" fill="#111" stroke="#111" stroke-width="0.2" letter-spacing="0.55">40</text>
<text transform="translate(488.56,413.10)" text-anchor="middle" font-size="9.6" fill="#111" stroke="#111" stroke-width="0.2" letter-spacing="0.55">50</text>
<text transform="translate(504.56,413.10)" text-anchor="middle" font-size="9.6" fill="#111" stroke="#111" stroke-width="0.2" letter-spacing="0.55">60</text>
<text transform="translate(520.56,413.10)" text-anchor="middle" font-size="9.6" fill="#111" stroke="#111" stroke-width="0.2" letter-spacing="0.55">70</text>
<text transform="translate(536.56,413.10)" text-anchor="middle" font-size="9.6" fill="#111" stroke="#111" stroke-width="0.2" letter-spacing="0.55">80</text>
<text transform="translate(552.56,413.10)" text-anchor="middle" font-size="9.6" fill="#111" stroke="#111" stroke-width="0.2" letter-spacing="0.55">90</text>
<text transform="translate(512.49,423.80)" text-anchor="middle" font-size="9.4" fill="#111" stroke="#111" stroke-width="0.2" letter-spacing="0.4">X (arcsecs)</text>
<defs><linearGradient id="cb23" x1="0" y1="0" x2="0" y2="1"><stop offset="0" stop-color="#000"/><stop offset="1" stop-color="#fff"/></linearGradient></defs>
<rect x="563.99" y="318.20" width="3.6" height="81.90" fill="url(#cb23)" stroke="#333" stroke-width="0.5"/>
<path d="M567.59 318.20h1.8" stroke="#222" stroke-width="0.6"/>
<text transform="translate(572.59,321.60)" font-size="9.6" fill="#111" stroke="#111" stroke-width="0.2" letter-spacing="0.55">2.0</text>
<path d="M567.59 338.68h1.8" stroke="#222" stroke-width="0.6"/>
<text transform="translate(572.59,342.08)" font-size="9.6" fill="#111" stroke="#111" stroke-width="0.2" letter-spacing="0.55">1.5</text>
<path d="M567.59 359.15h1.8" stroke="#222" stroke-width="0.6"/>
<text transform="translate(572.59,362.55)" font-size="9.6" fill="#111" stroke="#111" stroke-width="0.2" letter-spacing="0.55">1.0</text>
<path d="M567.59 379.62h1.8" stroke="#222" stroke-width="0.6"/>
<text transform="translate(572.59,383.02)" font-size="9.6" fill="#111" stroke="#111" stroke-width="0.2" letter-spacing="0.55">0.5</text>
<path d="M567.59 400.10h1.8" stroke="#222" stroke-width="0.6"/>
<text transform="translate(572.59,403.50)" font-size="9.6" fill="#111" stroke="#111" stroke-width="0.2" letter-spacing="0.55">0.0</text>
<text transform="translate(562.09,308.20)" font-size="9.4" fill="#111" stroke="#111" stroke-width="0.2" letter-spacing="0.6">I (DN/s)</text>
<text transform="translate(53.50,370.80)" font-size="7.6" fill="#111" stroke="#111" stroke-width="0.2" letter-spacing="0.35">13:01:09</text>
<text transform="translate(34.60,378.70)" font-size="7.6" fill="#111" stroke="#111" stroke-width="0.2" letter-spacing="0.35">13:09:10</text>
<text transform="translate(82.80,378.70)" font-size="7.6" fill="#111" stroke="#111" stroke-width="0.2" letter-spacing="0.35">12:51:20</text>
<path d="M45.5 388.5H93.3M50.6 385.3L45.5 388.5L50.6 391.7M53.4 383.7V388.5M71.5 383.7V388.5M88.6 383.7V388.5" stroke="#111" stroke-width="0.8" fill="none"/>
<text transform="translate(94.90,391.70)" font-size="9.8" fill="#111" stroke="#111" stroke-width="0.2" letter-spacing="1.0">time</text>
<text transform="translate(470.50,395.60)" font-size="10.6" fill="#111" stroke="#111" stroke-width="0.2" letter-spacing="1.05">12:52:17 UT</text>
<rect x="72.7" y="446.4" width="456.10" height="202.90" fill="none" stroke="#555" stroke-width="1"/>
<path d="M72.7 446.40h9.3M528.8 446.40h-9.3M72.7 504.05h9.3M528.8 504.05h-9.3M72.7 486.70h5M528.8 486.70h-5M72.7 476.54h5M528.8 476.54h-5M72.7 469.34h5M528.8 469.34h-5M72.7 463.75h5M528.8 463.75h-5M72.7 459.19h5M528.8 459.19h-5M72.7 455.33h5M528.8 455.33h-5M72.7 451.99h5M528.8 451.99h-5M72.7 449.04h5M528.8 449.04h-5M72.7 561.70h9.3M528.8 561.70h-9.3M72.7 544.35h5M528.8 544.35h-5M72.7 534.19h5M528.8 534.19h-5M72.7 526.99h5M528.8 526.99h-5M72.7 521.40h5M528.8 521.40h-5M72.7 516.84h5M528.8 516.84h-5M72.7 512.98h5M528.8 512.98h-5M72.7 509.64h5M528.8 509.64h-5M72.7 506.69h5M528.8 506.69h-5M72.7 619.35h9.3M528.8 619.35h-9.3M72.7 602.00h5M528.8 602.00h-5M72.7 591.84h5M528.8 591.84h-5M72.7 584.64h5M528.8 584.64h-5M72.7 579.05h5M528.8 579.05h-5M72.7 574.49h5M528.8 574.49h-5M72.7 570.63h5M528.8 570.63h-5M72.7 567.29h5M528.8 567.29h-5M72.7 564.34h5M528.8 564.34h-5M72.7 642.29h5M528.8 642.29h-5M72.7 636.70h5M528.8 636.70h-5M72.7 632.14h5M528.8 632.14h-5M72.7 628.28h5M528.8 628.28h-5M72.7 624.94h5M528.8 624.94h-5M72.7 621.99h5M528.8 621.99h-5M94.21 649.3v-1.8M94.21 446.4v1.8M113.40 649.3v-1.8M113.40 446.4v1.8M129.07 649.3v-1.8M129.07 446.4v1.8M142.33 649.3v-1.8M142.33 446.4v1.8M153.81 649.3v-1.8M153.81 446.4v1.8M163.94 649.3v-1.8M163.94 446.4v1.8M173.00 649.3v-3.8M173.00 446.4v3.8M232.60 649.3v-1.8M232.60 446.4v1.8M267.47 649.3v-1.8M267.47 446.4v1.8M292.21 649.3v-1.8M292.21 446.4v1.8M311.40 649.3v-1.8M311.40 446.4v1.8M327.07 649.3v-1.8M327.07 446.4v1.8M340.33 649.3v-1.8M340.33 446.4v1.8M351.81 649.3v-1.8M351.81 446.4v1.8M361.94 649.3v-1.8M361.94 446.4v1.8M371.00 649.3v-3.8M371.00 446.4v3.8M430.60 649.3v-1.8M430.60 446.4v1.8M465.47 649.3v-1.8M465.47 446.4v1.8M490.21 649.3v-1.8M490.21 446.4v1.8M509.40 649.3v-1.8M509.40 446.4v1.8M525.07 649.3v-1.8M525.07 446.4v1.8" stroke="#555" stroke-width="0.8" fill="none"/>
<text transform="translate(35.60,451.70) scale(1.07,1)" font-size="13.6" fill="#111" stroke="#111" stroke-width="0.2" letter-spacing="0">10<tspan font-size="9.3" dy="-6.6">−23</tspan></text>
<text transform="translate(35.60,509.35) scale(1.07,1)" font-size="13.6" fill="#111" stroke="#111" stroke-width="0.2" letter-spacing="0">10<tspan font-size="9.3" dy="-6.6">−24</tspan></text>
<text transform="translate(35.60,567.00) scale(1.07,1)" font-size="13.6" fill="#111" stroke="#111" stroke-width="0.2" letter-spacing="0">10<tspan font-size="9.3" dy="-6.6">−25</tspan></text>
<text transform="translate(35.60,624.65) scale(1.07,1)" font-size="13.6" fill="#111" stroke="#111" stroke-width="0.2" letter-spacing="0">10<tspan font-size="9.3" dy="-6.6">−26</tspan></text>
<text transform="translate(162.50,669.30) scale(1.07,1)" font-size="13.6" fill="#111" stroke="#111" stroke-width="0.2" letter-spacing="0">10<tspan font-size="9.3" dy="-6.6">6</tspan></text>
<text transform="translate(360.50,669.30) scale(1.07,1)" font-size="13.6" fill="#111" stroke="#111" stroke-width="0.2" letter-spacing="0">10<tspan font-size="9.3" dy="-6.6">7</tspan></text>
<text transform="translate(281.00,685.00) scale(1.07,1)" font-size="13.2" fill="#111" stroke="#111" stroke-width="0.2" letter-spacing="0">T<tspan font-size="9" dy="3">e</tspan><tspan dy="-3"> (K)</tspan></text>
<text transform="translate(23.3,547.5) rotate(-90) scale(1.18,1)" text-anchor="middle" font-size="13.6" fill="#111">Emissivity (erg cm<tspan font-size="9.3" dy="-5.5">3</tspan><tspan dy="5.5"> s</tspan><tspan font-size="9.3" dy="-5.5">−1</tspan><tspan dy="5.5"> sr</tspan><tspan font-size="9.3" dy="-5.5">−1</tspan><tspan dy="5.5">)</tspan></text>
<g clip-path="url(#plotclip)"><clipPath id="plotclip"><rect x="72.7" y="446.4" width="456.1" height="202.9"/></clipPath>
<path d="M217.3 465.5V532.7" stroke="#aaa" stroke-width="1" fill="none"/>
<path d="M280.4 497.5V571.5" stroke="#aaa" stroke-width="1" fill="none"/>
<path d="M318.8 509V625" stroke="#aaa" stroke-width="1" fill="none"/>
<path d="M351.5 525.5V609.5" stroke="#aaa" stroke-width="1" fill="none"/>
<path d="M389.6 543V592.5" stroke="#aaa" stroke-width="1" fill="none"/>
<path d="M97.50 649.30C98.70 646.20 101.68 639.60 104.70 630.70C107.72 621.80 111.97 605.35 115.60 595.90C119.23 586.45 122.87 580.90 126.50 574.00C130.13 567.10 133.77 560.12 137.40 554.50C141.03 548.88 144.68 544.30 148.30 540.30C151.92 536.30 155.62 533.00 159.10 530.50C162.58 528.00 166.27 525.93 169.20 525.30C172.13 524.67 174.07 525.37 176.70 526.70C179.33 528.03 182.23 530.25 185.00 533.30C187.77 536.35 190.80 540.83 193.30 545.00C195.80 549.17 197.92 554.13 200.00 558.30C202.08 562.47 204.13 566.38 205.80 570.00C207.47 573.62 207.92 574.17 210.00 580.00C212.08 585.83 215.80 596.95 218.30 605.00C220.80 613.05 223.10 620.92 225.00 628.30C226.90 635.68 228.92 645.80 229.70 649.30" stroke="#333" stroke-width="0.9" fill="none" stroke-linejoin="round"/>
<path d="M180.30 649.30C181.08 644.70 183.25 630.47 185.00 621.70C186.75 612.93 188.85 605.03 190.80 596.70C192.75 588.37 194.88 579.82 196.70 571.70C198.52 563.58 200.27 554.95 201.70 548.00C203.13 541.05 203.37 536.33 205.30 530.00C207.23 523.67 210.85 515.55 213.30 510.00C215.75 504.45 217.77 500.70 220.00 496.70C222.23 492.70 224.03 488.78 226.70 486.00C229.37 483.22 233.12 480.58 236.00 480.00C238.88 479.42 241.12 480.62 244.00 482.50C246.88 484.38 249.52 487.72 253.30 491.30C257.08 494.88 262.47 499.47 266.70 504.00C270.93 508.53 274.27 513.05 278.70 518.50C283.13 523.95 288.92 530.90 293.30 536.70C297.68 542.50 301.10 548.03 305.00 553.30C308.90 558.57 312.53 562.47 316.70 568.30C320.87 574.13 326.12 581.63 330.00 588.30C333.88 594.97 336.67 601.63 340.00 608.30C343.33 614.97 347.50 621.47 350.00 628.30C352.50 635.13 354.17 645.80 355.00 649.30" stroke="#333" stroke-width="0.9" fill="none" stroke-linejoin="round"/>
<path d="M271.00 649.30C273.05 647.08 279.30 639.30 283.30 636.00C287.30 632.70 291.22 631.12 295.00 629.50C298.78 627.88 302.12 627.05 306.00 626.30C309.88 625.55 313.75 624.67 318.30 625.00C322.85 625.33 329.13 626.63 333.30 628.30C337.47 629.97 340.52 632.72 343.30 635.00C346.08 637.28 348.47 639.62 350.00 642.00C351.53 644.38 352.08 648.08 352.50 649.30" stroke="#333" stroke-width="0.9" fill="none" stroke-linejoin="round"/>
<path d="M365.00 649.30C366.38 645.53 370.52 633.53 373.30 626.70C376.08 619.87 378.92 613.87 381.70 608.30C384.48 602.73 387.23 597.32 390.00 593.30C392.77 589.28 395.52 586.47 398.30 584.20C401.08 581.93 403.63 580.68 406.70 579.70C409.77 578.72 413.10 578.30 416.70 578.30C420.30 578.30 424.42 579.00 428.30 579.70C432.18 580.40 436.93 581.75 440.00 582.50C443.07 583.25 442.82 582.95 446.70 584.20C450.58 585.45 457.75 587.65 463.30 590.00C468.85 592.35 474.43 595.52 480.00 598.30C485.57 601.08 491.15 603.63 496.70 606.70C502.25 609.77 507.95 613.20 513.30 616.70C518.65 620.20 526.22 625.87 528.80 627.70" stroke="#333" stroke-width="0.9" fill="none" stroke-linejoin="round"/>
<path d="M366.70 649.30C367.80 646.63 370.80 638.18 373.30 633.30C375.80 628.42 378.92 623.47 381.70 620.00C384.48 616.53 387.23 614.17 390.00 612.50C392.77 610.83 395.52 610.28 398.30 610.00C401.08 609.72 403.63 609.68 406.70 610.80C409.77 611.92 413.10 614.05 416.70 616.70C420.30 619.35 424.42 623.10 428.30 626.70C432.18 630.30 436.38 634.53 440.00 638.30C443.62 642.07 448.33 647.47 450.00 649.30" stroke="#333" stroke-width="0.9" fill="none" stroke-linejoin="round"/>
<path d="M139.50 649.30C140.23 646.20 142.08 638.15 143.90 630.70C145.72 623.25 148.22 612.95 150.40 604.60C152.58 596.25 154.82 588.95 157.00 580.60C159.18 572.25 161.62 561.82 163.50 554.50C165.38 547.18 166.10 542.73 168.30 536.70C170.50 530.67 173.92 523.58 176.70 518.30C179.48 513.02 182.23 508.33 185.00 505.00C187.77 501.67 190.67 499.63 193.30 498.30C195.93 496.97 198.02 496.43 200.80 497.00C203.58 497.57 207.08 499.25 210.00 501.70C212.92 504.15 215.52 507.53 218.30 511.70C221.08 515.87 224.38 521.98 226.70 526.70C229.02 531.42 229.82 533.25 232.20 540.00C234.58 546.75 238.20 558.15 241.00 567.20C243.80 576.25 246.33 585.25 249.00 594.30C251.67 603.35 254.47 612.33 257.00 621.50C259.53 630.67 263.00 644.67 264.20 649.30" stroke="#5a5a5a" stroke-width="2.0" fill="none" stroke-linejoin="round"/>
<path d="M175.50 649.30C176.53 644.70 179.57 630.47 181.70 621.70C183.83 612.93 186.08 604.77 188.30 596.70C190.52 588.63 193.05 579.70 195.00 573.30C196.95 566.90 198.62 561.63 200.00 558.30C201.38 554.97 201.63 556.07 203.30 553.30C204.97 550.53 207.50 545.03 210.00 541.70C212.50 538.37 215.67 535.00 218.30 533.30C220.93 531.60 223.30 531.35 225.80 531.50C228.30 531.65 231.35 532.95 233.30 534.20C235.25 535.45 235.80 536.95 237.50 539.00C239.20 541.05 241.42 543.20 243.50 546.50C245.58 549.80 247.75 553.75 250.00 558.80C252.25 563.85 254.50 570.88 257.00 576.80C259.50 582.72 262.33 588.45 265.00 594.30C267.67 600.15 270.33 606.30 273.00 611.90C275.67 617.50 278.08 621.67 281.00 627.90C283.92 634.13 288.92 645.73 290.50 649.30" stroke="#222" stroke-width="1.5" fill="none" stroke-linejoin="round"/>
<path d="M209.70 649.30C210.58 645.53 213.00 634.08 215.00 626.70C217.00 619.32 220.03 610.12 221.70 605.00C223.37 599.88 223.62 599.33 225.00 596.00C226.38 592.67 228.67 587.67 230.00 585.00C231.33 582.33 231.17 582.57 233.00 580.00C234.83 577.43 237.53 572.05 241.00 569.60C244.47 567.15 249.52 565.78 253.80 565.30C258.08 564.82 263.50 565.98 266.70 566.70C269.90 567.42 270.23 568.50 273.00 569.60C275.77 570.70 279.63 571.70 283.30 573.30C286.97 574.90 292.22 577.53 295.00 579.20C297.78 580.87 296.38 580.38 300.00 583.30C303.62 586.22 311.70 592.25 316.70 596.70C321.70 601.15 326.12 605.98 330.00 610.00C333.88 614.02 336.67 615.88 340.00 620.80C343.33 625.72 347.50 634.75 350.00 639.50C352.50 644.25 354.17 647.67 355.00 649.30" stroke="#111" stroke-width="2.1" fill="none" stroke-linejoin="round"/>
<path d="M278.50 649.30C279.58 646.08 282.53 636.55 285.00 630.00C287.47 623.45 290.52 615.83 293.30 610.00C296.08 604.17 298.92 598.47 301.70 595.00C304.48 591.53 307.23 590.58 310.00 589.20C312.77 587.82 315.25 586.57 318.30 586.70C321.35 586.83 324.97 588.07 328.30 590.00C331.63 591.93 334.68 594.68 338.30 598.30C341.92 601.92 345.27 606.70 350.00 611.70C354.73 616.70 361.00 622.03 366.70 628.30C372.40 634.57 381.28 645.80 384.20 649.30" stroke="#111" stroke-width="2.0" fill="none" stroke-linejoin="round"/>
<path d="M360.80 649.30C361.78 645.25 364.62 632.38 366.70 625.00C368.78 617.62 370.80 611.38 373.30 605.00C375.80 598.62 378.92 592.25 381.70 586.70C384.48 581.15 387.23 575.73 390.00 571.70C392.77 567.67 394.68 565.00 398.30 562.50C401.92 560.00 407.53 557.73 411.70 556.70C415.87 555.67 420.25 556.17 423.30 556.30C426.35 556.43 426.10 556.47 430.00 557.50C433.90 558.53 441.15 560.42 446.70 562.50C452.25 564.58 457.75 567.37 463.30 570.00C468.85 572.63 474.43 575.38 480.00 578.30C485.57 581.22 491.15 584.58 496.70 587.50C502.25 590.42 507.95 592.85 513.30 595.80C518.65 598.75 526.22 603.63 528.80 605.20" stroke="#000" stroke-width="2.6" fill="none" stroke-linejoin="round"/>
</g>
<text x="101.4" y="524.0" font-size="10" fill="#555" textLength="63.6" lengthAdjust="spacing">Fe X 184.54</text>
<text x="141.7" y="494.3" font-size="10" fill="#555" textLength="70.0" lengthAdjust="spacing">Fe XII 195.12</text>
<text x="212.7" y="463.3" font-size="10" fill="#555" textLength="73.3" lengthAdjust="spacing">Fe XIV 274.20</text>
<text x="222.7" y="479.0" font-size="10" fill="#555" textLength="70.6" lengthAdjust="spacing">Fe XV 284.16</text>
<text x="275.0" y="494.2" font-size="10" fill="#555" textLength="72.5" lengthAdjust="spacing">Fe XVI 262.98</text>
<text x="314.2" y="507.0" font-size="10" fill="#555" textLength="75.8" lengthAdjust="spacing">Fe XVII 254.87</text>
<text x="333.5" y="523.0" font-size="10" fill="#555" textLength="77.0" lengthAdjust="spacing">Ca XVII 192.86</text>
<text x="381.6" y="538.6" font-size="10" fill="#555" textLength="79.8" lengthAdjust="spacing">Fe XXIV 255.10</text>
<text x="399.0" y="552.4" font-size="10" fill="#555" textLength="80.2" lengthAdjust="spacing">Fe XXIV 192.03</text>
<text x="389.4" y="609.0" font-size="10" fill="#555" textLength="79.3" lengthAdjust="spacing">Fe XXIII 263.76</text>
</svg></body></html>
